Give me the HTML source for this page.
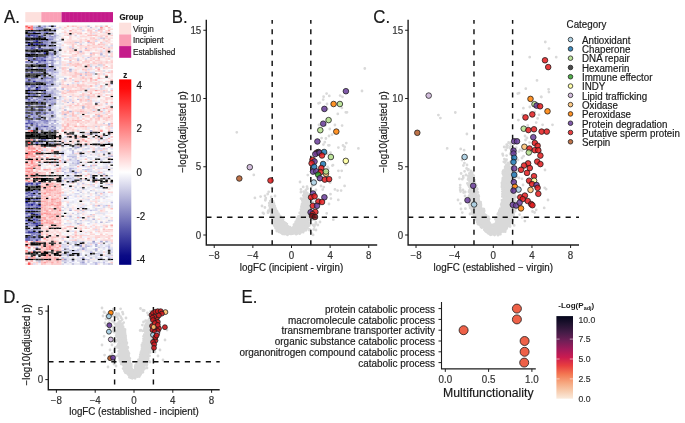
<!DOCTYPE html>
<html><head><meta charset="utf-8"><style>
html,body{margin:0;padding:0;background:#fff;}
svg{display:block;will-change:transform;}
text{font-family:"Liberation Sans",sans-serif;}
</style></head><body>
<svg width="685" height="423" viewBox="0 0 685 423">
<rect width="685" height="423" fill="#fff"/>
<defs><filter id="hb" filterUnits="userSpaceOnUse" x="20" y="20" width="100" height="250"><feConvolveMatrix order="3" kernelMatrix="1 2 1 2 4 2 1 2 1" divisor="16" edgeMode="duplicate"/></filter></defs>
<g>
<path fill="#fc6060" d="M25.30 25.40h2.62v1.55h-2.62zM35.62 149.59h2.62v1.55h-2.62zM25.30 245.35h2.62v1.55h-2.62zM30.46 251.33h2.62v1.55h-2.62z"/>
<path fill="#fcb4b4" d="M27.88 25.40h2.62v1.55h-2.62zM66.57 25.40h2.62v1.55h-2.62zM100.10 28.39h2.62v1.55h-2.62zM107.84 29.89h2.62v1.55h-2.62zM89.79 34.38h2.62v1.55h-2.62zM97.52 43.36h2.62v1.55h-2.62zM102.68 47.84h2.62v1.55h-2.62zM69.15 59.81h2.62v1.55h-2.62zM105.26 61.31h2.62v1.55h-2.62zM71.73 64.30h2.62v1.55h-2.62zM74.31 65.80h2.62v1.55h-2.62zM105.26 65.80h2.62v1.55h-2.62zM61.41 67.30h2.62v1.55h-2.62zM94.94 67.30h2.62v1.55h-2.62zM102.68 67.30h2.62v1.55h-2.62zM74.31 73.28h2.62v1.55h-2.62zM84.63 73.28h2.62v1.55h-2.62zM89.79 79.27h2.62v1.55h-2.62zM74.31 80.76h2.62v1.55h-2.62zM76.89 85.25h2.62v1.55h-2.62zM79.47 85.25h2.62v1.55h-2.62zM89.79 92.73h2.62v1.55h-2.62zM82.05 94.23h2.62v1.55h-2.62zM87.21 94.23h2.62v1.55h-2.62zM87.21 98.72h2.62v1.55h-2.62zM105.26 101.71h2.62v1.55h-2.62zM102.68 107.69h2.62v1.55h-2.62zM110.42 107.69h2.62v1.55h-2.62zM79.47 110.69h2.62v1.55h-2.62zM92.36 110.69h2.62v1.55h-2.62zM107.84 110.69h2.62v1.55h-2.62zM94.94 113.68h2.62v1.55h-2.62zM107.84 116.67h2.62v1.55h-2.62zM97.52 118.17h2.62v1.55h-2.62zM74.31 119.66h2.62v1.55h-2.62zM94.94 121.16h2.62v1.55h-2.62zM110.42 122.66h2.62v1.55h-2.62zM61.41 124.15h2.62v1.55h-2.62zM82.05 125.65h2.62v1.55h-2.62zM107.84 130.14h2.62v1.55h-2.62zM87.21 134.63h2.62v1.55h-2.62zM100.10 136.12h2.62v1.55h-2.62zM87.21 137.62h2.62v1.55h-2.62zM107.84 137.62h2.62v1.55h-2.62zM97.52 139.12h2.62v1.55h-2.62zM107.84 140.61h2.62v1.55h-2.62zM35.62 145.10h2.62v1.55h-2.62zM58.83 145.10h2.62v1.55h-2.62zM25.30 146.60h2.62v1.55h-2.62zM33.04 146.60h2.62v1.55h-2.62zM102.68 148.09h2.62v1.55h-2.62zM25.30 149.59h2.62v1.55h-2.62zM30.46 149.59h2.62v1.55h-2.62zM40.78 149.59h2.62v1.55h-2.62zM51.09 151.09h2.62v1.55h-2.62zM38.20 155.57h2.62v1.55h-2.62zM27.88 157.07h2.62v1.55h-2.62zM35.62 157.07h2.62v1.55h-2.62zM33.04 160.06h2.62v1.55h-2.62zM53.67 160.06h2.62v1.55h-2.62zM33.04 163.06h2.62v1.55h-2.62zM53.67 164.55h2.62v1.55h-2.62zM76.89 166.05h2.62v1.55h-2.62zM25.30 169.04h2.62v1.55h-2.62zM38.20 169.04h2.62v1.55h-2.62zM48.51 172.03h2.62v1.55h-2.62zM27.88 175.03h2.62v1.55h-2.62zM25.30 176.52h2.62v1.55h-2.62zM33.04 176.52h2.62v1.55h-2.62zM53.67 178.02h2.62v1.55h-2.62zM51.09 184.00h2.62v1.55h-2.62zM43.36 185.50h2.62v1.55h-2.62zM45.94 185.50h2.62v1.55h-2.62zM58.83 185.50h2.62v1.55h-2.62zM48.51 187.00h2.62v1.55h-2.62zM45.94 188.49h2.62v1.55h-2.62zM45.94 189.99h2.62v1.55h-2.62zM53.67 189.99h2.62v1.55h-2.62zM43.36 191.48h2.62v1.55h-2.62zM45.94 191.48h2.62v1.55h-2.62zM48.51 191.48h2.62v1.55h-2.62zM58.83 191.48h2.62v1.55h-2.62zM56.25 192.98h2.62v1.55h-2.62zM58.83 192.98h2.62v1.55h-2.62zM53.67 194.48h2.62v1.55h-2.62zM43.36 195.97h2.62v1.55h-2.62zM40.78 197.47h2.62v1.55h-2.62zM51.09 197.47h2.62v1.55h-2.62zM58.83 200.46h2.62v1.55h-2.62zM45.94 201.96h2.62v1.55h-2.62zM51.09 201.96h2.62v1.55h-2.62zM40.78 203.45h2.62v1.55h-2.62zM45.94 203.45h2.62v1.55h-2.62zM56.25 203.45h2.62v1.55h-2.62zM40.78 204.95h2.62v1.55h-2.62zM48.51 204.95h2.62v1.55h-2.62zM58.83 204.95h2.62v1.55h-2.62zM43.36 207.94h2.62v1.55h-2.62zM51.09 207.94h2.62v1.55h-2.62zM56.25 207.94h2.62v1.55h-2.62zM58.83 207.94h2.62v1.55h-2.62zM43.36 209.44h2.62v1.55h-2.62zM51.09 209.44h2.62v1.55h-2.62zM51.09 213.93h2.62v1.55h-2.62zM56.25 213.93h2.62v1.55h-2.62zM58.83 213.93h2.62v1.55h-2.62zM48.51 215.42h2.62v1.55h-2.62zM53.67 216.92h2.62v1.55h-2.62zM58.83 216.92h2.62v1.55h-2.62zM76.89 216.92h2.62v1.55h-2.62zM40.78 218.42h2.62v1.55h-2.62zM51.09 218.42h2.62v1.55h-2.62zM53.67 218.42h2.62v1.55h-2.62zM48.51 219.91h2.62v1.55h-2.62zM58.83 219.91h2.62v1.55h-2.62zM43.36 221.41h2.62v1.55h-2.62zM48.51 221.41h2.62v1.55h-2.62zM45.94 222.91h2.62v1.55h-2.62zM58.83 222.91h2.62v1.55h-2.62zM56.25 224.40h2.62v1.55h-2.62zM69.15 225.90h2.62v1.55h-2.62zM40.78 231.88h2.62v1.55h-2.62zM45.94 233.38h2.62v1.55h-2.62zM74.31 234.88h2.62v1.55h-2.62zM30.46 240.86h2.62v1.55h-2.62zM53.67 243.85h2.62v1.55h-2.62zM40.78 245.35h2.62v1.55h-2.62zM45.94 245.35h2.62v1.55h-2.62zM43.36 249.84h2.62v1.55h-2.62zM53.67 249.84h2.62v1.55h-2.62zM43.36 255.82h2.62v1.55h-2.62zM58.83 255.82h2.62v1.55h-2.62zM48.51 257.32h2.62v1.55h-2.62zM51.09 257.32h2.62v1.55h-2.62zM61.41 258.81h2.62v1.55h-2.62zM25.30 260.31h2.62v1.55h-2.62zM40.78 260.31h2.62v1.55h-2.62zM48.51 260.31h2.62v1.55h-2.62zM56.25 260.31h2.62v1.55h-2.62zM56.25 261.81h2.62v1.55h-2.62zM30.46 263.30h2.62v1.55h-2.62zM40.78 263.30h2.62v1.55h-2.62zM51.09 263.30h2.62v1.55h-2.62z"/>
<path fill="#fc8484" d="M30.46 25.40h2.62v1.55h-2.62zM30.46 26.90h2.62v1.55h-2.62zM27.88 146.60h2.62v1.55h-2.62zM43.36 146.60h2.62v1.55h-2.62zM30.46 151.09h2.62v1.55h-2.62zM35.62 154.08h2.62v1.55h-2.62zM30.46 160.06h2.62v1.55h-2.62zM38.20 160.06h2.62v1.55h-2.62zM30.46 161.56h2.62v1.55h-2.62zM25.30 163.06h2.62v1.55h-2.62zM27.88 181.01h2.62v1.55h-2.62zM58.83 209.44h2.62v1.55h-2.62zM27.88 243.85h2.62v1.55h-2.62zM48.51 246.85h2.62v1.55h-2.62zM25.30 249.84h2.62v1.55h-2.62zM53.67 257.32h2.62v1.55h-2.62z"/>
<path fill="#cccce4" d="M33.04 25.40h2.62v1.55h-2.62zM45.94 25.40h2.62v1.55h-2.62zM100.10 25.40h2.62v1.55h-2.62zM51.09 26.90h2.62v1.55h-2.62zM51.09 28.39h2.62v1.55h-2.62zM97.52 28.39h2.62v1.55h-2.62zM53.67 31.38h2.62v1.55h-2.62zM69.15 34.38h2.62v1.55h-2.62zM74.31 34.38h2.62v1.55h-2.62zM56.25 40.36h2.62v1.55h-2.62zM74.31 41.86h2.62v1.55h-2.62zM76.89 41.86h2.62v1.55h-2.62zM56.25 43.36h2.62v1.55h-2.62zM79.47 43.36h2.62v1.55h-2.62zM58.83 46.35h2.62v1.55h-2.62zM107.84 46.35h2.62v1.55h-2.62zM35.62 47.84h2.62v1.55h-2.62zM56.25 52.33h2.62v1.55h-2.62zM107.84 52.33h2.62v1.55h-2.62zM89.79 55.33h2.62v1.55h-2.62zM107.84 55.33h2.62v1.55h-2.62zM58.83 58.32h2.62v1.55h-2.62zM84.63 58.32h2.62v1.55h-2.62zM58.83 61.31h2.62v1.55h-2.62zM69.15 61.31h2.62v1.55h-2.62zM25.30 62.81h2.62v1.55h-2.62zM100.10 64.30h2.62v1.55h-2.62zM53.67 65.80h2.62v1.55h-2.62zM89.79 65.80h2.62v1.55h-2.62zM94.94 65.80h2.62v1.55h-2.62zM58.83 67.30h2.62v1.55h-2.62zM56.25 70.29h2.62v1.55h-2.62zM48.51 73.28h2.62v1.55h-2.62zM92.36 73.28h2.62v1.55h-2.62zM102.68 73.28h2.62v1.55h-2.62zM51.09 74.78h2.62v1.55h-2.62zM84.63 74.78h2.62v1.55h-2.62zM38.20 76.27h2.62v1.55h-2.62zM48.51 79.27h2.62v1.55h-2.62zM63.99 79.27h2.62v1.55h-2.62zM71.73 79.27h2.62v1.55h-2.62zM53.67 82.26h2.62v1.55h-2.62zM58.83 82.26h2.62v1.55h-2.62zM27.88 85.25h2.62v1.55h-2.62zM53.67 85.25h2.62v1.55h-2.62zM100.10 88.24h2.62v1.55h-2.62zM53.67 89.74h2.62v1.55h-2.62zM56.25 89.74h2.62v1.55h-2.62zM56.25 91.24h2.62v1.55h-2.62zM102.68 91.24h2.62v1.55h-2.62zM87.21 95.72h2.62v1.55h-2.62zM58.83 97.22h2.62v1.55h-2.62zM87.21 97.22h2.62v1.55h-2.62zM56.25 98.72h2.62v1.55h-2.62zM63.99 100.21h2.62v1.55h-2.62zM87.21 100.21h2.62v1.55h-2.62zM97.52 101.71h2.62v1.55h-2.62zM33.04 104.70h2.62v1.55h-2.62zM51.09 106.20h2.62v1.55h-2.62zM63.99 106.20h2.62v1.55h-2.62zM53.67 109.19h2.62v1.55h-2.62zM45.94 110.69h2.62v1.55h-2.62zM87.21 112.18h2.62v1.55h-2.62zM40.78 115.18h2.62v1.55h-2.62zM43.36 115.18h2.62v1.55h-2.62zM92.36 115.18h2.62v1.55h-2.62zM45.94 116.67h2.62v1.55h-2.62zM33.04 119.66h2.62v1.55h-2.62zM56.25 119.66h2.62v1.55h-2.62zM102.68 122.66h2.62v1.55h-2.62zM27.88 124.15h2.62v1.55h-2.62zM38.20 124.15h2.62v1.55h-2.62zM56.25 124.15h2.62v1.55h-2.62zM94.94 125.65h2.62v1.55h-2.62zM30.46 127.15h2.62v1.55h-2.62zM51.09 127.15h2.62v1.55h-2.62zM43.36 128.64h2.62v1.55h-2.62zM45.94 130.14h2.62v1.55h-2.62zM84.63 133.13h2.62v1.55h-2.62zM92.36 133.13h2.62v1.55h-2.62zM97.52 134.63h2.62v1.55h-2.62zM76.89 137.62h2.62v1.55h-2.62zM102.68 139.12h2.62v1.55h-2.62zM97.52 140.61h2.62v1.55h-2.62zM107.84 142.11h2.62v1.55h-2.62zM74.31 145.10h2.62v1.55h-2.62zM94.94 145.10h2.62v1.55h-2.62zM79.47 146.60h2.62v1.55h-2.62zM107.84 146.60h2.62v1.55h-2.62zM87.21 148.09h2.62v1.55h-2.62zM105.26 148.09h2.62v1.55h-2.62zM76.89 151.09h2.62v1.55h-2.62zM89.79 151.09h2.62v1.55h-2.62zM94.94 151.09h2.62v1.55h-2.62zM105.26 151.09h2.62v1.55h-2.62zM79.47 154.08h2.62v1.55h-2.62zM89.79 154.08h2.62v1.55h-2.62zM84.63 155.57h2.62v1.55h-2.62zM74.31 157.07h2.62v1.55h-2.62zM105.26 157.07h2.62v1.55h-2.62zM61.41 158.57h2.62v1.55h-2.62zM74.31 158.57h2.62v1.55h-2.62zM63.99 160.06h2.62v1.55h-2.62zM69.15 160.06h2.62v1.55h-2.62zM100.10 160.06h2.62v1.55h-2.62zM61.41 161.56h2.62v1.55h-2.62zM71.73 161.56h2.62v1.55h-2.62zM74.31 163.06h2.62v1.55h-2.62zM107.84 163.06h2.62v1.55h-2.62zM69.15 164.55h2.62v1.55h-2.62zM74.31 164.55h2.62v1.55h-2.62zM53.67 166.05h2.62v1.55h-2.62zM82.05 166.05h2.62v1.55h-2.62zM89.79 166.05h2.62v1.55h-2.62zM63.99 169.04h2.62v1.55h-2.62zM82.05 169.04h2.62v1.55h-2.62zM89.79 170.54h2.62v1.55h-2.62zM69.15 172.03h2.62v1.55h-2.62zM71.73 172.03h2.62v1.55h-2.62zM79.47 172.03h2.62v1.55h-2.62zM74.31 173.53h2.62v1.55h-2.62zM89.79 173.53h2.62v1.55h-2.62zM97.52 173.53h2.62v1.55h-2.62zM69.15 175.03h2.62v1.55h-2.62zM89.79 175.03h2.62v1.55h-2.62zM71.73 176.52h2.62v1.55h-2.62zM102.68 176.52h2.62v1.55h-2.62zM107.84 176.52h2.62v1.55h-2.62zM66.57 178.02h2.62v1.55h-2.62zM105.26 178.02h2.62v1.55h-2.62zM61.41 181.01h2.62v1.55h-2.62zM79.47 181.01h2.62v1.55h-2.62zM63.99 184.00h2.62v1.55h-2.62zM74.31 187.00h2.62v1.55h-2.62zM82.05 188.49h2.62v1.55h-2.62zM89.79 189.99h2.62v1.55h-2.62zM79.47 191.48h2.62v1.55h-2.62zM94.94 191.48h2.62v1.55h-2.62zM94.94 192.98h2.62v1.55h-2.62zM79.47 195.97h2.62v1.55h-2.62zM87.21 195.97h2.62v1.55h-2.62zM66.57 197.47h2.62v1.55h-2.62zM35.62 201.96h2.62v1.55h-2.62zM66.57 204.95h2.62v1.55h-2.62zM61.41 206.45h2.62v1.55h-2.62zM79.47 206.45h2.62v1.55h-2.62zM61.41 209.44h2.62v1.55h-2.62zM79.47 209.44h2.62v1.55h-2.62zM71.73 212.43h2.62v1.55h-2.62zM76.89 212.43h2.62v1.55h-2.62zM89.79 213.93h2.62v1.55h-2.62zM87.21 216.92h2.62v1.55h-2.62zM105.26 216.92h2.62v1.55h-2.62zM74.31 219.91h2.62v1.55h-2.62zM79.47 219.91h2.62v1.55h-2.62zM107.84 219.91h2.62v1.55h-2.62zM105.26 221.41h2.62v1.55h-2.62zM79.47 222.91h2.62v1.55h-2.62zM71.73 240.86h2.62v1.55h-2.62zM74.31 240.86h2.62v1.55h-2.62zM89.79 242.36h2.62v1.55h-2.62zM110.42 242.36h2.62v1.55h-2.62zM61.41 243.85h2.62v1.55h-2.62zM84.63 243.85h2.62v1.55h-2.62zM74.31 245.35h2.62v1.55h-2.62zM84.63 246.85h2.62v1.55h-2.62zM97.52 246.85h2.62v1.55h-2.62zM76.89 248.34h2.62v1.55h-2.62zM79.47 248.34h2.62v1.55h-2.62zM92.36 248.34h2.62v1.55h-2.62zM107.84 248.34h2.62v1.55h-2.62zM97.52 252.83h2.62v1.55h-2.62zM89.79 254.33h2.62v1.55h-2.62zM110.42 254.33h2.62v1.55h-2.62zM66.57 255.82h2.62v1.55h-2.62zM105.26 255.82h2.62v1.55h-2.62zM71.73 257.32h2.62v1.55h-2.62zM94.94 257.32h2.62v1.55h-2.62zM35.62 260.31h2.62v1.55h-2.62zM63.99 260.31h2.62v1.55h-2.62zM66.57 260.31h2.62v1.55h-2.62zM76.89 260.31h2.62v1.55h-2.62zM79.47 260.31h2.62v1.55h-2.62zM87.21 260.31h2.62v1.55h-2.62zM38.20 261.81h2.62v1.55h-2.62zM69.15 261.81h2.62v1.55h-2.62zM87.21 261.81h2.62v1.55h-2.62zM92.36 261.81h2.62v1.55h-2.62zM61.41 263.30h2.62v1.55h-2.62zM79.47 263.30h2.62v1.55h-2.62zM102.68 263.30h2.62v1.55h-2.62z"/>
<path fill="#c0c0d8" d="M35.62 25.40h2.62v1.55h-2.62zM87.21 25.40h2.62v1.55h-2.62zM89.79 26.90h2.62v1.55h-2.62zM33.04 28.39h2.62v1.55h-2.62zM48.51 31.38h2.62v1.55h-2.62zM102.68 37.37h2.62v1.55h-2.62zM48.51 40.36h2.62v1.55h-2.62zM71.73 47.84h2.62v1.55h-2.62zM53.67 49.34h2.62v1.55h-2.62zM48.51 50.84h2.62v1.55h-2.62zM51.09 50.84h2.62v1.55h-2.62zM76.89 58.32h2.62v1.55h-2.62zM97.52 64.30h2.62v1.55h-2.62zM35.62 67.30h2.62v1.55h-2.62zM48.51 67.30h2.62v1.55h-2.62zM45.94 68.79h2.62v1.55h-2.62zM53.67 70.29h2.62v1.55h-2.62zM38.20 77.77h2.62v1.55h-2.62zM35.62 79.27h2.62v1.55h-2.62zM45.94 79.27h2.62v1.55h-2.62zM58.83 83.75h2.62v1.55h-2.62zM51.09 88.24h2.62v1.55h-2.62zM53.67 91.24h2.62v1.55h-2.62zM30.46 98.72h2.62v1.55h-2.62zM25.30 104.70h2.62v1.55h-2.62zM30.46 104.70h2.62v1.55h-2.62zM45.94 109.19h2.62v1.55h-2.62zM51.09 113.68h2.62v1.55h-2.62zM45.94 115.18h2.62v1.55h-2.62zM48.51 115.18h2.62v1.55h-2.62zM53.67 116.67h2.62v1.55h-2.62zM40.78 122.66h2.62v1.55h-2.62zM43.36 124.15h2.62v1.55h-2.62zM53.67 125.65h2.62v1.55h-2.62zM43.36 130.14h2.62v1.55h-2.62zM84.63 145.10h2.62v1.55h-2.62zM71.73 146.60h2.62v1.55h-2.62zM74.31 148.09h2.62v1.55h-2.62zM71.73 149.59h2.62v1.55h-2.62zM79.47 179.51h2.62v1.55h-2.62zM84.63 179.51h2.62v1.55h-2.62zM110.42 182.51h2.62v1.55h-2.62zM82.05 240.86h2.62v1.55h-2.62zM69.15 243.85h2.62v1.55h-2.62zM76.89 245.35h2.62v1.55h-2.62zM82.05 246.85h2.62v1.55h-2.62zM61.41 252.83h2.62v1.55h-2.62zM94.94 252.83h2.62v1.55h-2.62zM87.21 258.81h2.62v1.55h-2.62zM110.42 263.30h2.62v1.55h-2.62z"/>
<path fill="#484848" d="M38.20 25.40h2.62v1.55h-2.62zM40.78 29.89h2.62v1.55h-2.62zM45.94 29.89h2.62v1.55h-2.62zM51.09 29.89h2.62v1.55h-2.62zM43.36 32.88h2.62v1.55h-2.62zM30.46 41.86h2.62v1.55h-2.62zM40.78 41.86h2.62v1.55h-2.62zM25.30 44.85h2.62v1.55h-2.62zM27.88 49.34h2.62v1.55h-2.62zM30.46 49.34h2.62v1.55h-2.62zM38.20 49.34h2.62v1.55h-2.62zM25.30 50.84h2.62v1.55h-2.62zM27.88 50.84h2.62v1.55h-2.62zM38.20 53.83h2.62v1.55h-2.62zM40.78 53.83h2.62v1.55h-2.62zM53.67 53.83h2.62v1.55h-2.62zM38.20 55.33h2.62v1.55h-2.62zM40.78 55.33h2.62v1.55h-2.62zM43.36 55.33h2.62v1.55h-2.62zM25.30 58.32h2.62v1.55h-2.62zM27.88 64.30h2.62v1.55h-2.62zM35.62 64.30h2.62v1.55h-2.62zM25.30 65.80h2.62v1.55h-2.62zM35.62 65.80h2.62v1.55h-2.62zM27.88 68.79h2.62v1.55h-2.62zM27.88 70.29h2.62v1.55h-2.62zM33.04 70.29h2.62v1.55h-2.62zM94.94 73.28h2.62v1.55h-2.62zM30.46 74.78h2.62v1.55h-2.62zM33.04 74.78h2.62v1.55h-2.62zM51.09 76.27h2.62v1.55h-2.62zM30.46 82.26h2.62v1.55h-2.62zM33.04 82.26h2.62v1.55h-2.62zM43.36 82.26h2.62v1.55h-2.62zM30.46 92.73h2.62v1.55h-2.62zM33.04 92.73h2.62v1.55h-2.62zM40.78 92.73h2.62v1.55h-2.62zM43.36 101.71h2.62v1.55h-2.62zM33.04 103.21h2.62v1.55h-2.62zM38.20 103.21h2.62v1.55h-2.62zM53.67 103.21h2.62v1.55h-2.62zM33.04 106.20h2.62v1.55h-2.62zM25.30 109.19h2.62v1.55h-2.62zM35.62 109.19h2.62v1.55h-2.62zM43.36 109.19h2.62v1.55h-2.62zM30.46 112.18h2.62v1.55h-2.62zM35.62 113.68h2.62v1.55h-2.62zM43.36 116.67h2.62v1.55h-2.62zM25.30 118.17h2.62v1.55h-2.62zM43.36 118.17h2.62v1.55h-2.62zM48.51 130.14h2.62v1.55h-2.62zM56.25 131.63h2.62v1.55h-2.62zM69.15 131.63h2.62v1.55h-2.62zM40.78 133.13h2.62v1.55h-2.62zM69.15 133.13h2.62v1.55h-2.62zM40.78 134.63h2.62v1.55h-2.62zM43.36 134.63h2.62v1.55h-2.62zM102.68 134.63h2.62v1.55h-2.62zM66.57 136.12h2.62v1.55h-2.62zM79.47 136.12h2.62v1.55h-2.62zM30.46 137.62h2.62v1.55h-2.62zM35.62 137.62h2.62v1.55h-2.62zM74.31 137.62h2.62v1.55h-2.62zM30.46 140.61h2.62v1.55h-2.62zM35.62 140.61h2.62v1.55h-2.62zM45.94 140.61h2.62v1.55h-2.62zM48.51 140.61h2.62v1.55h-2.62zM51.09 140.61h2.62v1.55h-2.62zM56.25 140.61h2.62v1.55h-2.62zM25.30 142.11h2.62v1.55h-2.62zM25.30 143.60h2.62v1.55h-2.62zM33.04 143.60h2.62v1.55h-2.62zM38.20 143.60h2.62v1.55h-2.62zM51.09 143.60h2.62v1.55h-2.62zM69.15 143.60h2.62v1.55h-2.62zM74.31 143.60h2.62v1.55h-2.62zM100.10 143.60h2.62v1.55h-2.62zM25.30 145.10h2.62v1.55h-2.62zM69.15 145.10h2.62v1.55h-2.62zM79.47 145.10h2.62v1.55h-2.62zM43.36 152.58h2.62v1.55h-2.62zM51.09 152.58h2.62v1.55h-2.62zM102.68 154.08h2.62v1.55h-2.62zM56.25 158.57h2.62v1.55h-2.62zM38.20 161.56h2.62v1.55h-2.62zM79.47 161.56h2.62v1.55h-2.62zM87.21 161.56h2.62v1.55h-2.62zM33.04 167.54h2.62v1.55h-2.62zM35.62 175.03h2.62v1.55h-2.62zM45.94 175.03h2.62v1.55h-2.62zM56.25 175.03h2.62v1.55h-2.62zM105.26 175.03h2.62v1.55h-2.62zM27.88 178.02h2.62v1.55h-2.62zM51.09 178.02h2.62v1.55h-2.62zM79.47 178.02h2.62v1.55h-2.62zM100.10 178.02h2.62v1.55h-2.62zM35.62 179.51h2.62v1.55h-2.62zM53.67 179.51h2.62v1.55h-2.62zM74.31 181.01h2.62v1.55h-2.62zM27.88 185.50h2.62v1.55h-2.62zM33.04 185.50h2.62v1.55h-2.62zM53.67 185.50h2.62v1.55h-2.62zM25.30 187.00h2.62v1.55h-2.62zM30.46 188.49h2.62v1.55h-2.62zM35.62 188.49h2.62v1.55h-2.62zM38.20 189.99h2.62v1.55h-2.62zM33.04 197.47h2.62v1.55h-2.62zM30.46 200.46h2.62v1.55h-2.62zM33.04 207.94h2.62v1.55h-2.62zM38.20 210.94h2.62v1.55h-2.62zM30.46 213.93h2.62v1.55h-2.62zM27.88 216.92h2.62v1.55h-2.62zM38.20 219.91h2.62v1.55h-2.62zM40.78 224.40h2.62v1.55h-2.62zM40.78 230.39h2.62v1.55h-2.62zM30.46 236.37h2.62v1.55h-2.62zM51.09 242.36h2.62v1.55h-2.62zM53.67 242.36h2.62v1.55h-2.62zM102.68 242.36h2.62v1.55h-2.62zM74.31 243.85h2.62v1.55h-2.62zM63.99 248.34h2.62v1.55h-2.62zM27.88 251.33h2.62v1.55h-2.62zM48.51 251.33h2.62v1.55h-2.62zM51.09 251.33h2.62v1.55h-2.62zM66.57 251.33h2.62v1.55h-2.62zM107.84 251.33h2.62v1.55h-2.62zM33.04 252.83h2.62v1.55h-2.62zM51.09 252.83h2.62v1.55h-2.62zM30.46 254.33h2.62v1.55h-2.62zM84.63 254.33h2.62v1.55h-2.62zM30.46 255.82h2.62v1.55h-2.62zM33.04 258.81h2.62v1.55h-2.62zM58.83 258.81h2.62v1.55h-2.62zM102.68 258.81h2.62v1.55h-2.62z"/>
<path fill="#c0c0e4" d="M40.78 25.40h2.62v1.55h-2.62zM56.25 34.38h2.62v1.55h-2.62zM53.67 37.37h2.62v1.55h-2.62zM100.10 37.37h2.62v1.55h-2.62zM87.21 41.86h2.62v1.55h-2.62zM25.30 43.36h2.62v1.55h-2.62zM45.94 46.35h2.62v1.55h-2.62zM48.51 46.35h2.62v1.55h-2.62zM58.83 47.84h2.62v1.55h-2.62zM84.63 47.84h2.62v1.55h-2.62zM89.79 52.33h2.62v1.55h-2.62zM100.10 52.33h2.62v1.55h-2.62zM48.51 55.33h2.62v1.55h-2.62zM33.04 56.82h2.62v1.55h-2.62zM58.83 56.82h2.62v1.55h-2.62zM87.21 56.82h2.62v1.55h-2.62zM45.94 58.32h2.62v1.55h-2.62zM53.67 59.81h2.62v1.55h-2.62zM76.89 59.81h2.62v1.55h-2.62zM33.04 61.31h2.62v1.55h-2.62zM53.67 61.31h2.62v1.55h-2.62zM30.46 62.81h2.62v1.55h-2.62zM53.67 64.30h2.62v1.55h-2.62zM56.25 64.30h2.62v1.55h-2.62zM56.25 71.78h2.62v1.55h-2.62zM84.63 71.78h2.62v1.55h-2.62zM53.67 74.78h2.62v1.55h-2.62zM79.47 74.78h2.62v1.55h-2.62zM48.51 76.27h2.62v1.55h-2.62zM53.67 76.27h2.62v1.55h-2.62zM45.94 83.75h2.62v1.55h-2.62zM66.57 83.75h2.62v1.55h-2.62zM110.42 83.75h2.62v1.55h-2.62zM56.25 85.25h2.62v1.55h-2.62zM48.51 88.24h2.62v1.55h-2.62zM58.83 91.24h2.62v1.55h-2.62zM53.67 92.73h2.62v1.55h-2.62zM56.25 94.23h2.62v1.55h-2.62zM69.15 95.72h2.62v1.55h-2.62zM76.89 98.72h2.62v1.55h-2.62zM35.62 100.21h2.62v1.55h-2.62zM66.57 101.71h2.62v1.55h-2.62zM71.73 101.71h2.62v1.55h-2.62zM94.94 101.71h2.62v1.55h-2.62zM45.94 103.21h2.62v1.55h-2.62zM105.26 103.21h2.62v1.55h-2.62zM43.36 107.69h2.62v1.55h-2.62zM82.05 107.69h2.62v1.55h-2.62zM48.51 110.69h2.62v1.55h-2.62zM48.51 113.68h2.62v1.55h-2.62zM53.67 113.68h2.62v1.55h-2.62zM25.30 121.16h2.62v1.55h-2.62zM48.51 121.16h2.62v1.55h-2.62zM56.25 122.66h2.62v1.55h-2.62zM107.84 122.66h2.62v1.55h-2.62zM45.94 124.15h2.62v1.55h-2.62zM107.84 124.15h2.62v1.55h-2.62zM43.36 127.15h2.62v1.55h-2.62zM30.46 128.64h2.62v1.55h-2.62zM33.04 142.11h2.62v1.55h-2.62zM38.20 142.11h2.62v1.55h-2.62zM71.73 151.09h2.62v1.55h-2.62zM71.73 152.58h2.62v1.55h-2.62zM102.68 152.58h2.62v1.55h-2.62zM66.57 155.57h2.62v1.55h-2.62zM69.15 155.57h2.62v1.55h-2.62zM71.73 155.57h2.62v1.55h-2.62zM74.31 155.57h2.62v1.55h-2.62zM79.47 155.57h2.62v1.55h-2.62zM107.84 155.57h2.62v1.55h-2.62zM71.73 157.07h2.62v1.55h-2.62zM76.89 161.56h2.62v1.55h-2.62zM110.42 161.56h2.62v1.55h-2.62zM71.73 163.06h2.62v1.55h-2.62zM89.79 164.55h2.62v1.55h-2.62zM94.94 164.55h2.62v1.55h-2.62zM71.73 167.54h2.62v1.55h-2.62zM84.63 169.04h2.62v1.55h-2.62zM87.21 169.04h2.62v1.55h-2.62zM61.41 170.54h2.62v1.55h-2.62zM63.99 172.03h2.62v1.55h-2.62zM76.89 172.03h2.62v1.55h-2.62zM89.79 176.52h2.62v1.55h-2.62zM61.41 179.51h2.62v1.55h-2.62zM82.05 182.51h2.62v1.55h-2.62zM38.20 184.00h2.62v1.55h-2.62zM107.84 184.00h2.62v1.55h-2.62zM76.89 189.99h2.62v1.55h-2.62zM102.68 191.48h2.62v1.55h-2.62zM66.57 195.97h2.62v1.55h-2.62zM110.42 201.96h2.62v1.55h-2.62zM105.26 204.95h2.62v1.55h-2.62zM89.79 209.44h2.62v1.55h-2.62zM27.88 213.93h2.62v1.55h-2.62zM79.47 216.92h2.62v1.55h-2.62zM33.04 234.88h2.62v1.55h-2.62zM92.36 242.36h2.62v1.55h-2.62zM79.47 243.85h2.62v1.55h-2.62zM66.57 245.35h2.62v1.55h-2.62zM84.63 245.35h2.62v1.55h-2.62zM107.84 245.35h2.62v1.55h-2.62zM107.84 246.85h2.62v1.55h-2.62zM61.41 249.84h2.62v1.55h-2.62zM74.31 249.84h2.62v1.55h-2.62zM76.89 249.84h2.62v1.55h-2.62zM66.57 252.83h2.62v1.55h-2.62zM61.41 254.33h2.62v1.55h-2.62zM76.89 255.82h2.62v1.55h-2.62zM79.47 257.32h2.62v1.55h-2.62zM100.10 257.32h2.62v1.55h-2.62zM84.63 258.81h2.62v1.55h-2.62zM61.41 260.31h2.62v1.55h-2.62zM79.47 261.81h2.62v1.55h-2.62zM94.94 261.81h2.62v1.55h-2.62zM102.68 261.81h2.62v1.55h-2.62zM82.05 263.30h2.62v1.55h-2.62zM84.63 263.30h2.62v1.55h-2.62z"/>
<path fill="#9090cc" d="M43.36 25.40h2.62v1.55h-2.62zM40.78 32.88h2.62v1.55h-2.62zM48.51 35.87h2.62v1.55h-2.62zM25.30 40.36h2.62v1.55h-2.62zM45.94 40.36h2.62v1.55h-2.62zM45.94 43.36h2.62v1.55h-2.62zM40.78 56.82h2.62v1.55h-2.62zM43.36 58.32h2.62v1.55h-2.62zM43.36 62.81h2.62v1.55h-2.62zM45.94 62.81h2.62v1.55h-2.62zM45.94 64.30h2.62v1.55h-2.62zM25.30 67.30h2.62v1.55h-2.62zM45.94 67.30h2.62v1.55h-2.62zM48.51 68.79h2.62v1.55h-2.62zM48.51 70.29h2.62v1.55h-2.62zM40.78 76.27h2.62v1.55h-2.62zM45.94 76.27h2.62v1.55h-2.62zM35.62 77.77h2.62v1.55h-2.62zM45.94 77.77h2.62v1.55h-2.62zM48.51 77.77h2.62v1.55h-2.62zM33.04 79.27h2.62v1.55h-2.62zM51.09 79.27h2.62v1.55h-2.62zM30.46 80.76h2.62v1.55h-2.62zM35.62 80.76h2.62v1.55h-2.62zM38.20 80.76h2.62v1.55h-2.62zM43.36 80.76h2.62v1.55h-2.62zM48.51 80.76h2.62v1.55h-2.62zM51.09 82.26h2.62v1.55h-2.62zM40.78 91.24h2.62v1.55h-2.62zM51.09 91.24h2.62v1.55h-2.62zM48.51 92.73h2.62v1.55h-2.62zM43.36 97.22h2.62v1.55h-2.62zM45.94 97.22h2.62v1.55h-2.62zM51.09 98.72h2.62v1.55h-2.62zM30.46 100.21h2.62v1.55h-2.62zM38.20 104.70h2.62v1.55h-2.62zM40.78 104.70h2.62v1.55h-2.62zM48.51 106.20h2.62v1.55h-2.62zM48.51 107.69h2.62v1.55h-2.62zM35.62 115.18h2.62v1.55h-2.62zM25.30 119.66h2.62v1.55h-2.62zM35.62 121.16h2.62v1.55h-2.62zM40.78 124.15h2.62v1.55h-2.62zM27.88 125.65h2.62v1.55h-2.62zM38.20 125.65h2.62v1.55h-2.62zM33.04 127.15h2.62v1.55h-2.62zM27.88 128.64h2.62v1.55h-2.62zM35.62 195.97h2.62v1.55h-2.62zM27.88 201.96h2.62v1.55h-2.62zM33.04 204.95h2.62v1.55h-2.62zM38.20 206.45h2.62v1.55h-2.62zM27.88 212.43h2.62v1.55h-2.62zM30.46 228.89h2.62v1.55h-2.62zM30.46 233.38h2.62v1.55h-2.62zM30.46 237.87h2.62v1.55h-2.62zM33.04 249.84h2.62v1.55h-2.62zM82.05 257.32h2.62v1.55h-2.62z"/>
<path fill="#8484c0" d="M48.51 25.40h2.62v1.55h-2.62zM53.67 25.40h2.62v1.55h-2.62zM35.62 26.90h2.62v1.55h-2.62zM38.20 26.90h2.62v1.55h-2.62zM40.78 26.90h2.62v1.55h-2.62zM30.46 31.38h2.62v1.55h-2.62zM38.20 31.38h2.62v1.55h-2.62zM40.78 34.38h2.62v1.55h-2.62zM51.09 35.87h2.62v1.55h-2.62zM51.09 38.87h2.62v1.55h-2.62zM51.09 47.84h2.62v1.55h-2.62zM25.30 52.33h2.62v1.55h-2.62zM33.04 52.33h2.62v1.55h-2.62zM38.20 52.33h2.62v1.55h-2.62zM48.51 52.33h2.62v1.55h-2.62zM48.51 59.81h2.62v1.55h-2.62zM51.09 59.81h2.62v1.55h-2.62zM40.78 61.31h2.62v1.55h-2.62zM30.46 67.30h2.62v1.55h-2.62zM51.09 67.30h2.62v1.55h-2.62zM45.94 70.29h2.62v1.55h-2.62zM51.09 70.29h2.62v1.55h-2.62zM25.30 71.78h2.62v1.55h-2.62zM30.46 79.27h2.62v1.55h-2.62zM43.36 79.27h2.62v1.55h-2.62zM48.51 82.26h2.62v1.55h-2.62zM27.88 86.75h2.62v1.55h-2.62zM30.46 86.75h2.62v1.55h-2.62zM45.94 94.23h2.62v1.55h-2.62zM25.30 98.72h2.62v1.55h-2.62zM35.62 98.72h2.62v1.55h-2.62zM43.36 104.70h2.62v1.55h-2.62zM45.94 106.20h2.62v1.55h-2.62zM25.30 107.69h2.62v1.55h-2.62zM40.78 110.69h2.62v1.55h-2.62zM33.04 115.18h2.62v1.55h-2.62zM27.88 116.67h2.62v1.55h-2.62zM40.78 119.66h2.62v1.55h-2.62zM43.36 119.66h2.62v1.55h-2.62zM45.94 119.66h2.62v1.55h-2.62zM38.20 121.16h2.62v1.55h-2.62zM45.94 121.16h2.62v1.55h-2.62zM35.62 122.66h2.62v1.55h-2.62zM40.78 125.65h2.62v1.55h-2.62zM51.09 125.65h2.62v1.55h-2.62zM53.67 127.15h2.62v1.55h-2.62zM25.30 128.64h2.62v1.55h-2.62zM33.04 128.64h2.62v1.55h-2.62zM40.78 128.64h2.62v1.55h-2.62zM51.09 128.64h2.62v1.55h-2.62zM74.31 172.03h2.62v1.55h-2.62zM25.30 191.48h2.62v1.55h-2.62zM27.88 192.98h2.62v1.55h-2.62zM35.62 194.48h2.62v1.55h-2.62zM30.46 195.97h2.62v1.55h-2.62zM30.46 198.97h2.62v1.55h-2.62zM38.20 198.97h2.62v1.55h-2.62zM25.30 206.45h2.62v1.55h-2.62zM35.62 209.44h2.62v1.55h-2.62zM38.20 212.43h2.62v1.55h-2.62zM25.30 215.42h2.62v1.55h-2.62zM25.30 218.42h2.62v1.55h-2.62zM30.46 218.42h2.62v1.55h-2.62zM30.46 221.41h2.62v1.55h-2.62zM30.46 224.40h2.62v1.55h-2.62zM33.04 224.40h2.62v1.55h-2.62zM33.04 228.89h2.62v1.55h-2.62zM33.04 233.38h2.62v1.55h-2.62zM35.62 234.88h2.62v1.55h-2.62zM35.62 236.37h2.62v1.55h-2.62zM30.46 239.36h2.62v1.55h-2.62zM79.47 245.35h2.62v1.55h-2.62zM82.05 248.34h2.62v1.55h-2.62z"/>
<path fill="#000000" d="M51.09 25.40h2.62v1.55h-2.62zM48.51 28.39h2.62v1.55h-2.62zM27.88 29.89h2.62v1.55h-2.62zM38.20 29.89h2.62v1.55h-2.62zM43.36 29.89h2.62v1.55h-2.62zM53.67 29.89h2.62v1.55h-2.62zM25.30 31.38h2.62v1.55h-2.62zM25.30 32.88h2.62v1.55h-2.62zM33.04 32.88h2.62v1.55h-2.62zM35.62 32.88h2.62v1.55h-2.62zM38.20 32.88h2.62v1.55h-2.62zM45.94 32.88h2.62v1.55h-2.62zM69.15 32.88h2.62v1.55h-2.62zM30.46 37.37h2.62v1.55h-2.62zM38.20 37.37h2.62v1.55h-2.62zM40.78 38.87h2.62v1.55h-2.62zM43.36 38.87h2.62v1.55h-2.62zM45.94 38.87h2.62v1.55h-2.62zM27.88 41.86h2.62v1.55h-2.62zM30.46 43.36h2.62v1.55h-2.62zM27.88 44.85h2.62v1.55h-2.62zM33.04 44.85h2.62v1.55h-2.62zM48.51 44.85h2.62v1.55h-2.62zM53.67 44.85h2.62v1.55h-2.62zM40.78 49.34h2.62v1.55h-2.62zM35.62 50.84h2.62v1.55h-2.62zM38.20 50.84h2.62v1.55h-2.62zM43.36 50.84h2.62v1.55h-2.62zM53.67 50.84h2.62v1.55h-2.62zM45.94 52.33h2.62v1.55h-2.62zM25.30 53.83h2.62v1.55h-2.62zM27.88 53.83h2.62v1.55h-2.62zM35.62 53.83h2.62v1.55h-2.62zM27.88 55.33h2.62v1.55h-2.62zM30.46 55.33h2.62v1.55h-2.62zM27.88 59.81h2.62v1.55h-2.62zM30.46 64.30h2.62v1.55h-2.62zM38.20 64.30h2.62v1.55h-2.62zM40.78 64.30h2.62v1.55h-2.62zM43.36 64.30h2.62v1.55h-2.62zM30.46 65.80h2.62v1.55h-2.62zM33.04 65.80h2.62v1.55h-2.62zM38.20 65.80h2.62v1.55h-2.62zM48.51 65.80h2.62v1.55h-2.62zM51.09 65.80h2.62v1.55h-2.62zM30.46 68.79h2.62v1.55h-2.62zM33.04 68.79h2.62v1.55h-2.62zM35.62 68.79h2.62v1.55h-2.62zM53.67 68.79h2.62v1.55h-2.62zM38.20 70.29h2.62v1.55h-2.62zM40.78 73.28h2.62v1.55h-2.62zM45.94 73.28h2.62v1.55h-2.62zM35.62 74.78h2.62v1.55h-2.62zM38.20 74.78h2.62v1.55h-2.62zM33.04 76.27h2.62v1.55h-2.62zM35.62 76.27h2.62v1.55h-2.62zM27.88 79.27h2.62v1.55h-2.62zM25.30 82.26h2.62v1.55h-2.62zM38.20 82.26h2.62v1.55h-2.62zM40.78 82.26h2.62v1.55h-2.62zM27.88 83.75h2.62v1.55h-2.62zM35.62 83.75h2.62v1.55h-2.62zM40.78 83.75h2.62v1.55h-2.62zM35.62 86.75h2.62v1.55h-2.62zM25.30 89.74h2.62v1.55h-2.62zM27.88 89.74h2.62v1.55h-2.62zM38.20 89.74h2.62v1.55h-2.62zM40.78 89.74h2.62v1.55h-2.62zM25.30 92.73h2.62v1.55h-2.62zM27.88 92.73h2.62v1.55h-2.62zM38.20 92.73h2.62v1.55h-2.62zM43.36 95.72h2.62v1.55h-2.62zM45.94 95.72h2.62v1.55h-2.62zM48.51 95.72h2.62v1.55h-2.62zM110.42 95.72h2.62v1.55h-2.62zM25.30 97.22h2.62v1.55h-2.62zM25.30 101.71h2.62v1.55h-2.62zM30.46 101.71h2.62v1.55h-2.62zM27.88 103.21h2.62v1.55h-2.62zM35.62 103.21h2.62v1.55h-2.62zM43.36 103.21h2.62v1.55h-2.62zM25.30 106.20h2.62v1.55h-2.62zM35.62 106.20h2.62v1.55h-2.62zM38.20 106.20h2.62v1.55h-2.62zM40.78 106.20h2.62v1.55h-2.62zM33.04 109.19h2.62v1.55h-2.62zM40.78 109.19h2.62v1.55h-2.62zM82.05 113.68h2.62v1.55h-2.62zM51.09 115.18h2.62v1.55h-2.62zM40.78 116.67h2.62v1.55h-2.62zM35.62 118.17h2.62v1.55h-2.62zM35.62 127.15h2.62v1.55h-2.62zM35.62 128.64h2.62v1.55h-2.62zM33.04 130.14h2.62v1.55h-2.62zM25.30 131.63h2.62v1.55h-2.62zM27.88 131.63h2.62v1.55h-2.62zM35.62 131.63h2.62v1.55h-2.62zM43.36 131.63h2.62v1.55h-2.62zM45.94 131.63h2.62v1.55h-2.62zM51.09 131.63h2.62v1.55h-2.62zM79.47 131.63h2.62v1.55h-2.62zM89.79 131.63h2.62v1.55h-2.62zM97.52 131.63h2.62v1.55h-2.62zM110.42 131.63h2.62v1.55h-2.62zM30.46 133.13h2.62v1.55h-2.62zM33.04 133.13h2.62v1.55h-2.62zM43.36 133.13h2.62v1.55h-2.62zM48.51 133.13h2.62v1.55h-2.62zM71.73 133.13h2.62v1.55h-2.62zM102.68 133.13h2.62v1.55h-2.62zM107.84 133.13h2.62v1.55h-2.62zM25.30 134.63h2.62v1.55h-2.62zM27.88 134.63h2.62v1.55h-2.62zM30.46 134.63h2.62v1.55h-2.62zM35.62 134.63h2.62v1.55h-2.62zM45.94 134.63h2.62v1.55h-2.62zM51.09 134.63h2.62v1.55h-2.62zM53.67 134.63h2.62v1.55h-2.62zM58.83 134.63h2.62v1.55h-2.62zM94.94 134.63h2.62v1.55h-2.62zM105.26 134.63h2.62v1.55h-2.62zM25.30 136.12h2.62v1.55h-2.62zM27.88 136.12h2.62v1.55h-2.62zM30.46 136.12h2.62v1.55h-2.62zM33.04 136.12h2.62v1.55h-2.62zM38.20 136.12h2.62v1.55h-2.62zM40.78 136.12h2.62v1.55h-2.62zM43.36 136.12h2.62v1.55h-2.62zM45.94 136.12h2.62v1.55h-2.62zM53.67 136.12h2.62v1.55h-2.62zM56.25 136.12h2.62v1.55h-2.62zM74.31 136.12h2.62v1.55h-2.62zM92.36 136.12h2.62v1.55h-2.62zM97.52 136.12h2.62v1.55h-2.62zM38.20 137.62h2.62v1.55h-2.62zM45.94 137.62h2.62v1.55h-2.62zM48.51 137.62h2.62v1.55h-2.62zM53.67 137.62h2.62v1.55h-2.62zM58.83 140.61h2.62v1.55h-2.62zM69.15 140.61h2.62v1.55h-2.62zM45.94 142.11h2.62v1.55h-2.62zM61.41 142.11h2.62v1.55h-2.62zM35.62 143.60h2.62v1.55h-2.62zM40.78 143.60h2.62v1.55h-2.62zM43.36 143.60h2.62v1.55h-2.62zM45.94 143.60h2.62v1.55h-2.62zM63.99 143.60h2.62v1.55h-2.62zM66.57 143.60h2.62v1.55h-2.62zM79.47 143.60h2.62v1.55h-2.62zM89.79 143.60h2.62v1.55h-2.62zM102.68 143.60h2.62v1.55h-2.62zM105.26 143.60h2.62v1.55h-2.62zM107.84 143.60h2.62v1.55h-2.62zM43.36 145.10h2.62v1.55h-2.62zM61.41 145.10h2.62v1.55h-2.62zM71.73 145.10h2.62v1.55h-2.62zM100.10 145.10h2.62v1.55h-2.62zM102.68 145.10h2.62v1.55h-2.62zM110.42 145.10h2.62v1.55h-2.62zM25.30 152.58h2.62v1.55h-2.62zM45.94 152.58h2.62v1.55h-2.62zM48.51 152.58h2.62v1.55h-2.62zM58.83 152.58h2.62v1.55h-2.62zM61.41 152.58h2.62v1.55h-2.62zM82.05 152.58h2.62v1.55h-2.62zM27.88 158.57h2.62v1.55h-2.62zM30.46 158.57h2.62v1.55h-2.62zM35.62 158.57h2.62v1.55h-2.62zM48.51 158.57h2.62v1.55h-2.62zM53.67 158.57h2.62v1.55h-2.62zM110.42 158.57h2.62v1.55h-2.62zM43.36 161.56h2.62v1.55h-2.62zM48.51 161.56h2.62v1.55h-2.62zM56.25 161.56h2.62v1.55h-2.62zM63.99 161.56h2.62v1.55h-2.62zM94.94 161.56h2.62v1.55h-2.62zM102.68 161.56h2.62v1.55h-2.62zM105.26 161.56h2.62v1.55h-2.62zM82.05 164.55h2.62v1.55h-2.62zM107.84 169.04h2.62v1.55h-2.62zM33.04 175.03h2.62v1.55h-2.62zM38.20 175.03h2.62v1.55h-2.62zM53.67 175.03h2.62v1.55h-2.62zM61.41 175.03h2.62v1.55h-2.62zM92.36 176.52h2.62v1.55h-2.62zM35.62 178.02h2.62v1.55h-2.62zM40.78 178.02h2.62v1.55h-2.62zM43.36 178.02h2.62v1.55h-2.62zM45.94 178.02h2.62v1.55h-2.62zM84.63 178.02h2.62v1.55h-2.62zM92.36 178.02h2.62v1.55h-2.62zM107.84 178.02h2.62v1.55h-2.62zM40.78 179.51h2.62v1.55h-2.62zM43.36 179.51h2.62v1.55h-2.62zM58.83 179.51h2.62v1.55h-2.62zM110.42 179.51h2.62v1.55h-2.62zM38.20 181.01h2.62v1.55h-2.62zM40.78 181.01h2.62v1.55h-2.62zM56.25 181.01h2.62v1.55h-2.62zM58.83 181.01h2.62v1.55h-2.62zM100.10 181.01h2.62v1.55h-2.62zM105.26 181.01h2.62v1.55h-2.62zM25.30 185.50h2.62v1.55h-2.62zM35.62 185.50h2.62v1.55h-2.62zM38.20 185.50h2.62v1.55h-2.62zM27.88 187.00h2.62v1.55h-2.62zM25.30 188.49h2.62v1.55h-2.62zM27.88 188.49h2.62v1.55h-2.62zM33.04 188.49h2.62v1.55h-2.62zM38.20 188.49h2.62v1.55h-2.62zM25.30 189.99h2.62v1.55h-2.62zM30.46 189.99h2.62v1.55h-2.62zM33.04 192.98h2.62v1.55h-2.62zM25.30 197.47h2.62v1.55h-2.62zM27.88 197.47h2.62v1.55h-2.62zM35.62 197.47h2.62v1.55h-2.62zM45.94 197.47h2.62v1.55h-2.62zM63.99 197.47h2.62v1.55h-2.62zM27.88 198.97h2.62v1.55h-2.62zM25.30 200.46h2.62v1.55h-2.62zM27.88 207.94h2.62v1.55h-2.62zM76.89 207.94h2.62v1.55h-2.62zM82.05 207.94h2.62v1.55h-2.62zM27.88 210.94h2.62v1.55h-2.62zM63.99 212.43h2.62v1.55h-2.62zM30.46 215.42h2.62v1.55h-2.62zM35.62 215.42h2.62v1.55h-2.62zM30.46 216.92h2.62v1.55h-2.62zM27.88 218.42h2.62v1.55h-2.62zM27.88 219.91h2.62v1.55h-2.62zM30.46 219.91h2.62v1.55h-2.62zM25.30 222.91h2.62v1.55h-2.62zM53.67 224.40h2.62v1.55h-2.62zM27.88 227.39h2.62v1.55h-2.62zM33.04 227.39h2.62v1.55h-2.62zM35.62 227.39h2.62v1.55h-2.62zM48.51 227.39h2.62v1.55h-2.62zM53.67 227.39h2.62v1.55h-2.62zM58.83 227.39h2.62v1.55h-2.62zM38.20 230.39h2.62v1.55h-2.62zM79.47 230.39h2.62v1.55h-2.62zM38.20 231.88h2.62v1.55h-2.62zM25.30 234.88h2.62v1.55h-2.62zM33.04 236.37h2.62v1.55h-2.62zM38.20 236.37h2.62v1.55h-2.62zM38.20 242.36h2.62v1.55h-2.62zM40.78 242.36h2.62v1.55h-2.62zM48.51 242.36h2.62v1.55h-2.62zM66.57 242.36h2.62v1.55h-2.62zM79.47 242.36h2.62v1.55h-2.62zM82.05 242.36h2.62v1.55h-2.62zM25.30 243.85h2.62v1.55h-2.62zM76.89 243.85h2.62v1.55h-2.62zM38.20 248.34h2.62v1.55h-2.62zM71.73 249.84h2.62v1.55h-2.62zM35.62 251.33h2.62v1.55h-2.62zM43.36 251.33h2.62v1.55h-2.62zM45.94 251.33h2.62v1.55h-2.62zM63.99 251.33h2.62v1.55h-2.62zM45.94 252.83h2.62v1.55h-2.62zM53.67 252.83h2.62v1.55h-2.62zM56.25 252.83h2.62v1.55h-2.62zM71.73 252.83h2.62v1.55h-2.62zM74.31 252.83h2.62v1.55h-2.62zM89.79 252.83h2.62v1.55h-2.62zM40.78 254.33h2.62v1.55h-2.62zM43.36 254.33h2.62v1.55h-2.62zM48.51 254.33h2.62v1.55h-2.62zM53.67 254.33h2.62v1.55h-2.62zM58.83 254.33h2.62v1.55h-2.62zM38.20 255.82h2.62v1.55h-2.62zM25.30 258.81h2.62v1.55h-2.62zM27.88 258.81h2.62v1.55h-2.62zM30.46 258.81h2.62v1.55h-2.62zM43.36 258.81h2.62v1.55h-2.62zM45.94 258.81h2.62v1.55h-2.62zM82.05 258.81h2.62v1.55h-2.62zM97.52 258.81h2.62v1.55h-2.62zM100.10 258.81h2.62v1.55h-2.62zM110.42 258.81h2.62v1.55h-2.62z"/>
<path fill="#fcfcfc" d="M56.25 25.40h2.62v1.55h-2.62zM92.36 25.40h2.62v1.55h-2.62zM107.84 25.40h2.62v1.55h-2.62zM48.51 26.90h2.62v1.55h-2.62zM97.52 26.90h2.62v1.55h-2.62zM105.26 26.90h2.62v1.55h-2.62zM110.42 26.90h2.62v1.55h-2.62zM58.83 28.39h2.62v1.55h-2.62zM69.15 28.39h2.62v1.55h-2.62zM84.63 28.39h2.62v1.55h-2.62zM105.26 28.39h2.62v1.55h-2.62zM56.25 29.89h2.62v1.55h-2.62zM58.83 29.89h2.62v1.55h-2.62zM61.41 29.89h2.62v1.55h-2.62zM92.36 29.89h2.62v1.55h-2.62zM102.68 29.89h2.62v1.55h-2.62zM110.42 29.89h2.62v1.55h-2.62zM56.25 31.38h2.62v1.55h-2.62zM58.83 31.38h2.62v1.55h-2.62zM82.05 31.38h2.62v1.55h-2.62zM84.63 31.38h2.62v1.55h-2.62zM97.52 31.38h2.62v1.55h-2.62zM56.25 32.88h2.62v1.55h-2.62zM76.89 34.38h2.62v1.55h-2.62zM84.63 34.38h2.62v1.55h-2.62zM63.99 35.87h2.62v1.55h-2.62zM66.57 35.87h2.62v1.55h-2.62zM92.36 35.87h2.62v1.55h-2.62zM58.83 37.37h2.62v1.55h-2.62zM66.57 37.37h2.62v1.55h-2.62zM74.31 37.37h2.62v1.55h-2.62zM82.05 37.37h2.62v1.55h-2.62zM56.25 38.87h2.62v1.55h-2.62zM63.99 38.87h2.62v1.55h-2.62zM110.42 38.87h2.62v1.55h-2.62zM100.10 40.36h2.62v1.55h-2.62zM58.83 41.86h2.62v1.55h-2.62zM84.63 41.86h2.62v1.55h-2.62zM97.52 41.86h2.62v1.55h-2.62zM110.42 41.86h2.62v1.55h-2.62zM63.99 43.36h2.62v1.55h-2.62zM76.89 43.36h2.62v1.55h-2.62zM82.05 43.36h2.62v1.55h-2.62zM94.94 43.36h2.62v1.55h-2.62zM107.84 43.36h2.62v1.55h-2.62zM56.25 44.85h2.62v1.55h-2.62zM63.99 44.85h2.62v1.55h-2.62zM66.57 44.85h2.62v1.55h-2.62zM74.31 44.85h2.62v1.55h-2.62zM76.89 46.35h2.62v1.55h-2.62zM76.89 49.34h2.62v1.55h-2.62zM110.42 49.34h2.62v1.55h-2.62zM66.57 50.84h2.62v1.55h-2.62zM92.36 50.84h2.62v1.55h-2.62zM71.73 52.33h2.62v1.55h-2.62zM74.31 52.33h2.62v1.55h-2.62zM61.41 53.83h2.62v1.55h-2.62zM63.99 53.83h2.62v1.55h-2.62zM66.57 53.83h2.62v1.55h-2.62zM69.15 53.83h2.62v1.55h-2.62zM84.63 53.83h2.62v1.55h-2.62zM87.21 53.83h2.62v1.55h-2.62zM94.94 53.83h2.62v1.55h-2.62zM107.84 53.83h2.62v1.55h-2.62zM63.99 56.82h2.62v1.55h-2.62zM66.57 56.82h2.62v1.55h-2.62zM74.31 56.82h2.62v1.55h-2.62zM61.41 58.32h2.62v1.55h-2.62zM61.41 59.81h2.62v1.55h-2.62zM63.99 59.81h2.62v1.55h-2.62zM66.57 59.81h2.62v1.55h-2.62zM71.73 59.81h2.62v1.55h-2.62zM82.05 59.81h2.62v1.55h-2.62zM107.84 59.81h2.62v1.55h-2.62zM79.47 61.31h2.62v1.55h-2.62zM89.79 61.31h2.62v1.55h-2.62zM56.25 62.81h2.62v1.55h-2.62zM48.51 64.30h2.62v1.55h-2.62zM105.26 64.30h2.62v1.55h-2.62zM107.84 65.80h2.62v1.55h-2.62zM92.36 67.30h2.62v1.55h-2.62zM66.57 68.79h2.62v1.55h-2.62zM94.94 68.79h2.62v1.55h-2.62zM100.10 68.79h2.62v1.55h-2.62zM107.84 68.79h2.62v1.55h-2.62zM110.42 68.79h2.62v1.55h-2.62zM105.26 70.29h2.62v1.55h-2.62zM94.94 71.78h2.62v1.55h-2.62zM97.52 71.78h2.62v1.55h-2.62zM105.26 73.28h2.62v1.55h-2.62zM107.84 73.28h2.62v1.55h-2.62zM94.94 74.78h2.62v1.55h-2.62zM107.84 74.78h2.62v1.55h-2.62zM63.99 76.27h2.62v1.55h-2.62zM66.57 76.27h2.62v1.55h-2.62zM100.10 76.27h2.62v1.55h-2.62zM102.68 76.27h2.62v1.55h-2.62zM58.83 77.77h2.62v1.55h-2.62zM61.41 77.77h2.62v1.55h-2.62zM71.73 77.77h2.62v1.55h-2.62zM92.36 77.77h2.62v1.55h-2.62zM100.10 79.27h2.62v1.55h-2.62zM102.68 79.27h2.62v1.55h-2.62zM105.26 79.27h2.62v1.55h-2.62zM107.84 79.27h2.62v1.55h-2.62zM56.25 80.76h2.62v1.55h-2.62zM102.68 80.76h2.62v1.55h-2.62zM63.99 82.26h2.62v1.55h-2.62zM69.15 82.26h2.62v1.55h-2.62zM79.47 82.26h2.62v1.55h-2.62zM105.26 82.26h2.62v1.55h-2.62zM100.10 83.75h2.62v1.55h-2.62zM102.68 83.75h2.62v1.55h-2.62zM105.26 85.25h2.62v1.55h-2.62zM110.42 85.25h2.62v1.55h-2.62zM58.83 86.75h2.62v1.55h-2.62zM92.36 86.75h2.62v1.55h-2.62zM105.26 86.75h2.62v1.55h-2.62zM110.42 86.75h2.62v1.55h-2.62zM63.99 88.24h2.62v1.55h-2.62zM71.73 88.24h2.62v1.55h-2.62zM107.84 88.24h2.62v1.55h-2.62zM107.84 89.74h2.62v1.55h-2.62zM92.36 91.24h2.62v1.55h-2.62zM94.94 91.24h2.62v1.55h-2.62zM97.52 91.24h2.62v1.55h-2.62zM58.83 92.73h2.62v1.55h-2.62zM79.47 92.73h2.62v1.55h-2.62zM105.26 92.73h2.62v1.55h-2.62zM107.84 92.73h2.62v1.55h-2.62zM38.20 94.23h2.62v1.55h-2.62zM63.99 94.23h2.62v1.55h-2.62zM66.57 95.72h2.62v1.55h-2.62zM105.26 95.72h2.62v1.55h-2.62zM107.84 95.72h2.62v1.55h-2.62zM56.25 97.22h2.62v1.55h-2.62zM74.31 97.22h2.62v1.55h-2.62zM97.52 97.22h2.62v1.55h-2.62zM100.10 97.22h2.62v1.55h-2.62zM97.52 98.72h2.62v1.55h-2.62zM76.89 100.21h2.62v1.55h-2.62zM107.84 100.21h2.62v1.55h-2.62zM92.36 101.71h2.62v1.55h-2.62zM74.31 103.21h2.62v1.55h-2.62zM79.47 103.21h2.62v1.55h-2.62zM92.36 103.21h2.62v1.55h-2.62zM107.84 103.21h2.62v1.55h-2.62zM56.25 104.70h2.62v1.55h-2.62zM66.57 107.69h2.62v1.55h-2.62zM97.52 107.69h2.62v1.55h-2.62zM66.57 109.19h2.62v1.55h-2.62zM105.26 109.19h2.62v1.55h-2.62zM58.83 110.69h2.62v1.55h-2.62zM84.63 113.68h2.62v1.55h-2.62zM92.36 113.68h2.62v1.55h-2.62zM107.84 113.68h2.62v1.55h-2.62zM56.25 115.18h2.62v1.55h-2.62zM58.83 115.18h2.62v1.55h-2.62zM89.79 115.18h2.62v1.55h-2.62zM87.21 118.17h2.62v1.55h-2.62zM82.05 119.66h2.62v1.55h-2.62zM97.52 121.16h2.62v1.55h-2.62zM107.84 121.16h2.62v1.55h-2.62zM53.67 122.66h2.62v1.55h-2.62zM58.83 122.66h2.62v1.55h-2.62zM76.89 122.66h2.62v1.55h-2.62zM105.26 122.66h2.62v1.55h-2.62zM76.89 124.15h2.62v1.55h-2.62zM84.63 124.15h2.62v1.55h-2.62zM102.68 125.65h2.62v1.55h-2.62zM56.25 127.15h2.62v1.55h-2.62zM74.31 127.15h2.62v1.55h-2.62zM100.10 127.15h2.62v1.55h-2.62zM102.68 127.15h2.62v1.55h-2.62zM58.83 128.64h2.62v1.55h-2.62zM89.79 128.64h2.62v1.55h-2.62zM102.68 128.64h2.62v1.55h-2.62zM58.83 130.14h2.62v1.55h-2.62zM82.05 130.14h2.62v1.55h-2.62zM105.26 130.14h2.62v1.55h-2.62zM58.83 131.63h2.62v1.55h-2.62zM61.41 131.63h2.62v1.55h-2.62zM74.31 131.63h2.62v1.55h-2.62zM100.10 131.63h2.62v1.55h-2.62zM61.41 133.13h2.62v1.55h-2.62zM74.31 133.13h2.62v1.55h-2.62zM105.26 133.13h2.62v1.55h-2.62zM61.41 134.63h2.62v1.55h-2.62zM63.99 134.63h2.62v1.55h-2.62zM110.42 134.63h2.62v1.55h-2.62zM61.41 136.12h2.62v1.55h-2.62zM87.21 136.12h2.62v1.55h-2.62zM105.26 136.12h2.62v1.55h-2.62zM84.63 137.62h2.62v1.55h-2.62zM102.68 137.62h2.62v1.55h-2.62zM110.42 137.62h2.62v1.55h-2.62zM94.94 139.12h2.62v1.55h-2.62zM66.57 140.61h2.62v1.55h-2.62zM92.36 140.61h2.62v1.55h-2.62zM82.05 142.11h2.62v1.55h-2.62zM84.63 142.11h2.62v1.55h-2.62zM92.36 142.11h2.62v1.55h-2.62zM92.36 145.10h2.62v1.55h-2.62zM105.26 145.10h2.62v1.55h-2.62zM107.84 145.10h2.62v1.55h-2.62zM45.94 146.60h2.62v1.55h-2.62zM58.83 146.60h2.62v1.55h-2.62zM66.57 146.60h2.62v1.55h-2.62zM69.15 146.60h2.62v1.55h-2.62zM84.63 146.60h2.62v1.55h-2.62zM94.94 146.60h2.62v1.55h-2.62zM100.10 146.60h2.62v1.55h-2.62zM51.09 148.09h2.62v1.55h-2.62zM53.67 148.09h2.62v1.55h-2.62zM63.99 148.09h2.62v1.55h-2.62zM76.89 148.09h2.62v1.55h-2.62zM107.84 148.09h2.62v1.55h-2.62zM66.57 149.59h2.62v1.55h-2.62zM74.31 149.59h2.62v1.55h-2.62zM79.47 149.59h2.62v1.55h-2.62zM87.21 149.59h2.62v1.55h-2.62zM89.79 149.59h2.62v1.55h-2.62zM107.84 149.59h2.62v1.55h-2.62zM110.42 149.59h2.62v1.55h-2.62zM66.57 151.09h2.62v1.55h-2.62zM69.15 151.09h2.62v1.55h-2.62zM97.52 151.09h2.62v1.55h-2.62zM107.84 151.09h2.62v1.55h-2.62zM35.62 155.57h2.62v1.55h-2.62zM40.78 155.57h2.62v1.55h-2.62zM45.94 155.57h2.62v1.55h-2.62zM63.99 155.57h2.62v1.55h-2.62zM76.89 155.57h2.62v1.55h-2.62zM87.21 155.57h2.62v1.55h-2.62zM89.79 155.57h2.62v1.55h-2.62zM94.94 155.57h2.62v1.55h-2.62zM63.99 157.07h2.62v1.55h-2.62zM84.63 157.07h2.62v1.55h-2.62zM110.42 157.07h2.62v1.55h-2.62zM58.83 158.57h2.62v1.55h-2.62zM63.99 158.57h2.62v1.55h-2.62zM87.21 158.57h2.62v1.55h-2.62zM92.36 158.57h2.62v1.55h-2.62zM82.05 160.06h2.62v1.55h-2.62zM84.63 160.06h2.62v1.55h-2.62zM89.79 160.06h2.62v1.55h-2.62zM97.52 160.06h2.62v1.55h-2.62zM102.68 160.06h2.62v1.55h-2.62zM105.26 160.06h2.62v1.55h-2.62zM35.62 161.56h2.62v1.55h-2.62zM43.36 163.06h2.62v1.55h-2.62zM66.57 163.06h2.62v1.55h-2.62zM87.21 163.06h2.62v1.55h-2.62zM89.79 163.06h2.62v1.55h-2.62zM100.10 163.06h2.62v1.55h-2.62zM48.51 164.55h2.62v1.55h-2.62zM63.99 164.55h2.62v1.55h-2.62zM66.57 164.55h2.62v1.55h-2.62zM87.21 164.55h2.62v1.55h-2.62zM97.52 164.55h2.62v1.55h-2.62zM100.10 164.55h2.62v1.55h-2.62zM107.84 164.55h2.62v1.55h-2.62zM45.94 166.05h2.62v1.55h-2.62zM48.51 166.05h2.62v1.55h-2.62zM61.41 166.05h2.62v1.55h-2.62zM110.42 166.05h2.62v1.55h-2.62zM40.78 167.54h2.62v1.55h-2.62zM82.05 167.54h2.62v1.55h-2.62zM84.63 167.54h2.62v1.55h-2.62zM94.94 167.54h2.62v1.55h-2.62zM92.36 169.04h2.62v1.55h-2.62zM102.68 169.04h2.62v1.55h-2.62zM45.94 172.03h2.62v1.55h-2.62zM61.41 172.03h2.62v1.55h-2.62zM82.05 172.03h2.62v1.55h-2.62zM84.63 172.03h2.62v1.55h-2.62zM105.26 172.03h2.62v1.55h-2.62zM107.84 172.03h2.62v1.55h-2.62zM53.67 173.53h2.62v1.55h-2.62zM76.89 173.53h2.62v1.55h-2.62zM94.94 173.53h2.62v1.55h-2.62zM107.84 173.53h2.62v1.55h-2.62zM110.42 173.53h2.62v1.55h-2.62zM63.99 175.03h2.62v1.55h-2.62zM82.05 175.03h2.62v1.55h-2.62zM82.05 176.52h2.62v1.55h-2.62zM84.63 176.52h2.62v1.55h-2.62zM97.52 176.52h2.62v1.55h-2.62zM100.10 176.52h2.62v1.55h-2.62zM110.42 176.52h2.62v1.55h-2.62zM97.52 178.02h2.62v1.55h-2.62zM110.42 178.02h2.62v1.55h-2.62zM102.68 179.51h2.62v1.55h-2.62zM45.94 181.01h2.62v1.55h-2.62zM84.63 181.01h2.62v1.55h-2.62zM74.31 182.51h2.62v1.55h-2.62zM87.21 182.51h2.62v1.55h-2.62zM92.36 182.51h2.62v1.55h-2.62zM102.68 182.51h2.62v1.55h-2.62zM69.15 184.00h2.62v1.55h-2.62zM71.73 184.00h2.62v1.55h-2.62zM74.31 184.00h2.62v1.55h-2.62zM94.94 184.00h2.62v1.55h-2.62zM100.10 184.00h2.62v1.55h-2.62zM61.41 185.50h2.62v1.55h-2.62zM63.99 185.50h2.62v1.55h-2.62zM94.94 185.50h2.62v1.55h-2.62zM61.41 187.00h2.62v1.55h-2.62zM71.73 187.00h2.62v1.55h-2.62zM76.89 187.00h2.62v1.55h-2.62zM84.63 187.00h2.62v1.55h-2.62zM63.99 188.49h2.62v1.55h-2.62zM69.15 188.49h2.62v1.55h-2.62zM89.79 188.49h2.62v1.55h-2.62zM94.94 188.49h2.62v1.55h-2.62zM100.10 188.49h2.62v1.55h-2.62zM110.42 188.49h2.62v1.55h-2.62zM61.41 189.99h2.62v1.55h-2.62zM71.73 189.99h2.62v1.55h-2.62zM87.21 189.99h2.62v1.55h-2.62zM105.26 189.99h2.62v1.55h-2.62zM107.84 189.99h2.62v1.55h-2.62zM110.42 189.99h2.62v1.55h-2.62zM69.15 191.48h2.62v1.55h-2.62zM74.31 191.48h2.62v1.55h-2.62zM76.89 191.48h2.62v1.55h-2.62zM84.63 191.48h2.62v1.55h-2.62zM89.79 191.48h2.62v1.55h-2.62zM92.36 191.48h2.62v1.55h-2.62zM105.26 191.48h2.62v1.55h-2.62zM66.57 192.98h2.62v1.55h-2.62zM79.47 192.98h2.62v1.55h-2.62zM107.84 192.98h2.62v1.55h-2.62zM84.63 194.48h2.62v1.55h-2.62zM87.21 194.48h2.62v1.55h-2.62zM92.36 194.48h2.62v1.55h-2.62zM107.84 194.48h2.62v1.55h-2.62zM69.15 195.97h2.62v1.55h-2.62zM110.42 195.97h2.62v1.55h-2.62zM74.31 197.47h2.62v1.55h-2.62zM79.47 197.47h2.62v1.55h-2.62zM92.36 197.47h2.62v1.55h-2.62zM100.10 197.47h2.62v1.55h-2.62zM105.26 197.47h2.62v1.55h-2.62zM107.84 197.47h2.62v1.55h-2.62zM110.42 197.47h2.62v1.55h-2.62zM69.15 198.97h2.62v1.55h-2.62zM71.73 198.97h2.62v1.55h-2.62zM89.79 198.97h2.62v1.55h-2.62zM100.10 198.97h2.62v1.55h-2.62zM110.42 198.97h2.62v1.55h-2.62zM76.89 200.46h2.62v1.55h-2.62zM100.10 200.46h2.62v1.55h-2.62zM63.99 201.96h2.62v1.55h-2.62zM82.05 201.96h2.62v1.55h-2.62zM84.63 201.96h2.62v1.55h-2.62zM87.21 201.96h2.62v1.55h-2.62zM92.36 201.96h2.62v1.55h-2.62zM97.52 201.96h2.62v1.55h-2.62zM107.84 201.96h2.62v1.55h-2.62zM61.41 203.45h2.62v1.55h-2.62zM63.99 203.45h2.62v1.55h-2.62zM71.73 203.45h2.62v1.55h-2.62zM87.21 203.45h2.62v1.55h-2.62zM63.99 204.95h2.62v1.55h-2.62zM74.31 204.95h2.62v1.55h-2.62zM89.79 204.95h2.62v1.55h-2.62zM84.63 206.45h2.62v1.55h-2.62zM87.21 206.45h2.62v1.55h-2.62zM89.79 206.45h2.62v1.55h-2.62zM97.52 206.45h2.62v1.55h-2.62zM61.41 207.94h2.62v1.55h-2.62zM89.79 207.94h2.62v1.55h-2.62zM105.26 207.94h2.62v1.55h-2.62zM105.26 209.44h2.62v1.55h-2.62zM107.84 209.44h2.62v1.55h-2.62zM110.42 209.44h2.62v1.55h-2.62zM63.99 210.94h2.62v1.55h-2.62zM66.57 210.94h2.62v1.55h-2.62zM69.15 210.94h2.62v1.55h-2.62zM71.73 210.94h2.62v1.55h-2.62zM87.21 210.94h2.62v1.55h-2.62zM92.36 210.94h2.62v1.55h-2.62zM107.84 210.94h2.62v1.55h-2.62zM74.31 212.43h2.62v1.55h-2.62zM87.21 212.43h2.62v1.55h-2.62zM89.79 212.43h2.62v1.55h-2.62zM92.36 212.43h2.62v1.55h-2.62zM61.41 213.93h2.62v1.55h-2.62zM63.99 213.93h2.62v1.55h-2.62zM79.47 213.93h2.62v1.55h-2.62zM105.26 213.93h2.62v1.55h-2.62zM107.84 213.93h2.62v1.55h-2.62zM110.42 213.93h2.62v1.55h-2.62zM74.31 215.42h2.62v1.55h-2.62zM82.05 215.42h2.62v1.55h-2.62zM94.94 215.42h2.62v1.55h-2.62zM102.68 215.42h2.62v1.55h-2.62zM110.42 215.42h2.62v1.55h-2.62zM61.41 216.92h2.62v1.55h-2.62zM94.94 216.92h2.62v1.55h-2.62zM97.52 216.92h2.62v1.55h-2.62zM107.84 216.92h2.62v1.55h-2.62zM79.47 218.42h2.62v1.55h-2.62zM63.99 219.91h2.62v1.55h-2.62zM71.73 219.91h2.62v1.55h-2.62zM97.52 219.91h2.62v1.55h-2.62zM102.68 219.91h2.62v1.55h-2.62zM63.99 221.41h2.62v1.55h-2.62zM84.63 221.41h2.62v1.55h-2.62zM87.21 221.41h2.62v1.55h-2.62zM97.52 221.41h2.62v1.55h-2.62zM110.42 221.41h2.62v1.55h-2.62zM61.41 222.91h2.62v1.55h-2.62zM84.63 222.91h2.62v1.55h-2.62zM105.26 222.91h2.62v1.55h-2.62zM107.84 222.91h2.62v1.55h-2.62zM110.42 222.91h2.62v1.55h-2.62zM84.63 224.40h2.62v1.55h-2.62zM87.21 224.40h2.62v1.55h-2.62zM97.52 224.40h2.62v1.55h-2.62zM45.94 225.90h2.62v1.55h-2.62zM61.41 225.90h2.62v1.55h-2.62zM74.31 225.90h2.62v1.55h-2.62zM107.84 225.90h2.62v1.55h-2.62zM66.57 227.39h2.62v1.55h-2.62zM71.73 227.39h2.62v1.55h-2.62zM89.79 227.39h2.62v1.55h-2.62zM100.10 227.39h2.62v1.55h-2.62zM105.26 227.39h2.62v1.55h-2.62zM107.84 227.39h2.62v1.55h-2.62zM110.42 227.39h2.62v1.55h-2.62zM58.83 228.89h2.62v1.55h-2.62zM71.73 228.89h2.62v1.55h-2.62zM74.31 228.89h2.62v1.55h-2.62zM76.89 228.89h2.62v1.55h-2.62zM82.05 228.89h2.62v1.55h-2.62zM84.63 228.89h2.62v1.55h-2.62zM87.21 228.89h2.62v1.55h-2.62zM100.10 228.89h2.62v1.55h-2.62zM92.36 230.39h2.62v1.55h-2.62zM63.99 231.88h2.62v1.55h-2.62zM71.73 231.88h2.62v1.55h-2.62zM92.36 231.88h2.62v1.55h-2.62zM105.26 231.88h2.62v1.55h-2.62zM56.25 233.38h2.62v1.55h-2.62zM61.41 233.38h2.62v1.55h-2.62zM69.15 233.38h2.62v1.55h-2.62zM87.21 233.38h2.62v1.55h-2.62zM94.94 233.38h2.62v1.55h-2.62zM97.52 233.38h2.62v1.55h-2.62zM102.68 233.38h2.62v1.55h-2.62zM43.36 234.88h2.62v1.55h-2.62zM76.89 236.37h2.62v1.55h-2.62zM63.99 237.87h2.62v1.55h-2.62zM66.57 237.87h2.62v1.55h-2.62zM84.63 237.87h2.62v1.55h-2.62zM97.52 237.87h2.62v1.55h-2.62zM105.26 237.87h2.62v1.55h-2.62zM110.42 237.87h2.62v1.55h-2.62zM40.78 239.36h2.62v1.55h-2.62zM58.83 239.36h2.62v1.55h-2.62zM66.57 239.36h2.62v1.55h-2.62zM27.88 240.86h2.62v1.55h-2.62zM61.41 240.86h2.62v1.55h-2.62zM94.94 240.86h2.62v1.55h-2.62zM102.68 240.86h2.62v1.55h-2.62zM63.99 242.36h2.62v1.55h-2.62zM105.26 242.36h2.62v1.55h-2.62zM71.73 243.85h2.62v1.55h-2.62zM97.52 243.85h2.62v1.55h-2.62zM69.15 245.35h2.62v1.55h-2.62zM92.36 245.35h2.62v1.55h-2.62zM102.68 245.35h2.62v1.55h-2.62zM30.46 246.85h2.62v1.55h-2.62zM74.31 246.85h2.62v1.55h-2.62zM76.89 246.85h2.62v1.55h-2.62zM87.21 246.85h2.62v1.55h-2.62zM92.36 246.85h2.62v1.55h-2.62zM94.94 246.85h2.62v1.55h-2.62zM30.46 248.34h2.62v1.55h-2.62zM69.15 248.34h2.62v1.55h-2.62zM100.10 248.34h2.62v1.55h-2.62zM105.26 248.34h2.62v1.55h-2.62zM97.52 249.84h2.62v1.55h-2.62zM102.68 249.84h2.62v1.55h-2.62zM82.05 251.33h2.62v1.55h-2.62zM94.94 251.33h2.62v1.55h-2.62zM82.05 252.83h2.62v1.55h-2.62zM102.68 252.83h2.62v1.55h-2.62zM82.05 254.33h2.62v1.55h-2.62zM35.62 255.82h2.62v1.55h-2.62zM79.47 255.82h2.62v1.55h-2.62zM84.63 255.82h2.62v1.55h-2.62zM97.52 255.82h2.62v1.55h-2.62zM87.21 257.32h2.62v1.55h-2.62zM102.68 257.32h2.62v1.55h-2.62zM105.26 257.32h2.62v1.55h-2.62zM33.04 260.31h2.62v1.55h-2.62zM74.31 260.31h2.62v1.55h-2.62zM100.10 260.31h2.62v1.55h-2.62zM107.84 260.31h2.62v1.55h-2.62zM25.30 261.81h2.62v1.55h-2.62zM76.89 261.81h2.62v1.55h-2.62zM89.79 261.81h2.62v1.55h-2.62zM87.21 263.30h2.62v1.55h-2.62zM100.10 263.30h2.62v1.55h-2.62z"/>
<path fill="#f0f0f0" d="M58.83 25.40h2.62v1.55h-2.62zM53.67 26.90h2.62v1.55h-2.62zM58.83 34.38h2.62v1.55h-2.62zM105.26 38.87h2.62v1.55h-2.62zM74.31 46.35h2.62v1.55h-2.62zM63.99 52.33h2.62v1.55h-2.62zM58.83 55.33h2.62v1.55h-2.62zM56.25 61.31h2.62v1.55h-2.62zM97.52 65.80h2.62v1.55h-2.62zM58.83 73.28h2.62v1.55h-2.62zM58.83 74.78h2.62v1.55h-2.62zM102.68 74.78h2.62v1.55h-2.62zM107.84 76.27h2.62v1.55h-2.62zM58.83 79.27h2.62v1.55h-2.62zM87.21 79.27h2.62v1.55h-2.62zM58.83 80.76h2.62v1.55h-2.62zM92.36 80.76h2.62v1.55h-2.62zM100.10 82.26h2.62v1.55h-2.62zM87.21 83.75h2.62v1.55h-2.62zM58.83 85.25h2.62v1.55h-2.62zM92.36 92.73h2.62v1.55h-2.62zM53.67 104.70h2.62v1.55h-2.62zM58.83 104.70h2.62v1.55h-2.62zM66.57 106.20h2.62v1.55h-2.62zM51.09 109.19h2.62v1.55h-2.62zM58.83 109.19h2.62v1.55h-2.62zM56.25 110.69h2.62v1.55h-2.62zM102.68 110.69h2.62v1.55h-2.62zM56.25 113.68h2.62v1.55h-2.62zM58.83 113.68h2.62v1.55h-2.62zM58.83 116.67h2.62v1.55h-2.62zM56.25 121.16h2.62v1.55h-2.62zM82.05 133.13h2.62v1.55h-2.62zM48.51 139.12h2.62v1.55h-2.62zM53.67 139.12h2.62v1.55h-2.62zM71.73 139.12h2.62v1.55h-2.62zM102.68 142.11h2.62v1.55h-2.62zM61.41 148.09h2.62v1.55h-2.62zM71.73 148.09h2.62v1.55h-2.62zM105.26 155.57h2.62v1.55h-2.62zM76.89 158.57h2.62v1.55h-2.62zM94.94 160.06h2.62v1.55h-2.62zM97.52 163.06h2.62v1.55h-2.62zM110.42 163.06h2.62v1.55h-2.62zM43.36 164.55h2.62v1.55h-2.62zM66.57 166.05h2.62v1.55h-2.62zM94.94 166.05h2.62v1.55h-2.62zM97.52 166.05h2.62v1.55h-2.62zM82.05 170.54h2.62v1.55h-2.62zM94.94 170.54h2.62v1.55h-2.62zM56.25 172.03h2.62v1.55h-2.62zM87.21 172.03h2.62v1.55h-2.62zM51.09 173.53h2.62v1.55h-2.62zM66.57 173.53h2.62v1.55h-2.62zM105.26 173.53h2.62v1.55h-2.62zM97.52 175.03h2.62v1.55h-2.62zM107.84 175.03h2.62v1.55h-2.62zM51.09 176.52h2.62v1.55h-2.62zM74.31 176.52h2.62v1.55h-2.62zM61.41 178.02h2.62v1.55h-2.62zM66.57 179.51h2.62v1.55h-2.62zM63.99 181.01h2.62v1.55h-2.62zM87.21 185.50h2.62v1.55h-2.62zM107.84 187.00h2.62v1.55h-2.62zM97.52 189.99h2.62v1.55h-2.62zM66.57 191.48h2.62v1.55h-2.62zM71.73 192.98h2.62v1.55h-2.62zM92.36 192.98h2.62v1.55h-2.62zM110.42 192.98h2.62v1.55h-2.62zM82.05 194.48h2.62v1.55h-2.62zM102.68 195.97h2.62v1.55h-2.62zM84.63 197.47h2.62v1.55h-2.62zM89.79 197.47h2.62v1.55h-2.62zM97.52 198.97h2.62v1.55h-2.62zM105.26 200.46h2.62v1.55h-2.62zM76.89 201.96h2.62v1.55h-2.62zM69.15 203.45h2.62v1.55h-2.62zM76.89 203.45h2.62v1.55h-2.62zM105.26 203.45h2.62v1.55h-2.62zM94.94 206.45h2.62v1.55h-2.62zM105.26 206.45h2.62v1.55h-2.62zM92.36 207.94h2.62v1.55h-2.62zM63.99 209.44h2.62v1.55h-2.62zM66.57 213.93h2.62v1.55h-2.62zM71.73 215.42h2.62v1.55h-2.62zM100.10 216.92h2.62v1.55h-2.62zM94.94 218.42h2.62v1.55h-2.62zM100.10 218.42h2.62v1.55h-2.62zM107.84 218.42h2.62v1.55h-2.62zM69.15 219.91h2.62v1.55h-2.62zM76.89 219.91h2.62v1.55h-2.62zM66.57 221.41h2.62v1.55h-2.62zM92.36 221.41h2.62v1.55h-2.62zM102.68 222.91h2.62v1.55h-2.62zM74.31 224.40h2.62v1.55h-2.62zM82.05 225.90h2.62v1.55h-2.62zM61.41 231.88h2.62v1.55h-2.62zM76.89 231.88h2.62v1.55h-2.62zM87.21 231.88h2.62v1.55h-2.62zM84.63 240.86h2.62v1.55h-2.62zM27.88 245.35h2.62v1.55h-2.62zM71.73 248.34h2.62v1.55h-2.62zM87.21 248.34h2.62v1.55h-2.62zM89.79 248.34h2.62v1.55h-2.62zM79.47 251.33h2.62v1.55h-2.62zM84.63 251.33h2.62v1.55h-2.62zM110.42 252.83h2.62v1.55h-2.62zM63.99 255.82h2.62v1.55h-2.62zM74.31 255.82h2.62v1.55h-2.62zM89.79 255.82h2.62v1.55h-2.62zM69.15 257.32h2.62v1.55h-2.62zM92.36 257.32h2.62v1.55h-2.62zM94.94 260.31h2.62v1.55h-2.62zM61.41 261.81h2.62v1.55h-2.62zM69.15 263.30h2.62v1.55h-2.62z"/>
<path fill="#fcf0f0" d="M61.41 25.40h2.62v1.55h-2.62zM63.99 25.40h2.62v1.55h-2.62zM89.79 25.40h2.62v1.55h-2.62zM61.41 26.90h2.62v1.55h-2.62zM66.57 26.90h2.62v1.55h-2.62zM69.15 26.90h2.62v1.55h-2.62zM74.31 26.90h2.62v1.55h-2.62zM82.05 26.90h2.62v1.55h-2.62zM87.21 26.90h2.62v1.55h-2.62zM92.36 26.90h2.62v1.55h-2.62zM63.99 28.39h2.62v1.55h-2.62zM66.57 28.39h2.62v1.55h-2.62zM94.94 28.39h2.62v1.55h-2.62zM76.89 29.89h2.62v1.55h-2.62zM84.63 29.89h2.62v1.55h-2.62zM66.57 31.38h2.62v1.55h-2.62zM110.42 31.38h2.62v1.55h-2.62zM74.31 32.88h2.62v1.55h-2.62zM82.05 32.88h2.62v1.55h-2.62zM87.21 32.88h2.62v1.55h-2.62zM100.10 32.88h2.62v1.55h-2.62zM61.41 34.38h2.62v1.55h-2.62zM71.73 34.38h2.62v1.55h-2.62zM79.47 34.38h2.62v1.55h-2.62zM97.52 34.38h2.62v1.55h-2.62zM61.41 35.87h2.62v1.55h-2.62zM71.73 35.87h2.62v1.55h-2.62zM102.68 35.87h2.62v1.55h-2.62zM107.84 35.87h2.62v1.55h-2.62zM110.42 35.87h2.62v1.55h-2.62zM63.99 37.37h2.62v1.55h-2.62zM71.73 37.37h2.62v1.55h-2.62zM79.47 37.37h2.62v1.55h-2.62zM84.63 37.37h2.62v1.55h-2.62zM87.21 37.37h2.62v1.55h-2.62zM94.94 37.37h2.62v1.55h-2.62zM71.73 38.87h2.62v1.55h-2.62zM74.31 38.87h2.62v1.55h-2.62zM76.89 38.87h2.62v1.55h-2.62zM87.21 38.87h2.62v1.55h-2.62zM100.10 38.87h2.62v1.55h-2.62zM61.41 40.36h2.62v1.55h-2.62zM63.99 40.36h2.62v1.55h-2.62zM82.05 40.36h2.62v1.55h-2.62zM89.79 40.36h2.62v1.55h-2.62zM97.52 40.36h2.62v1.55h-2.62zM110.42 40.36h2.62v1.55h-2.62zM94.94 41.86h2.62v1.55h-2.62zM61.41 43.36h2.62v1.55h-2.62zM84.63 43.36h2.62v1.55h-2.62zM89.79 43.36h2.62v1.55h-2.62zM69.15 44.85h2.62v1.55h-2.62zM84.63 44.85h2.62v1.55h-2.62zM107.84 44.85h2.62v1.55h-2.62zM63.99 46.35h2.62v1.55h-2.62zM89.79 46.35h2.62v1.55h-2.62zM61.41 47.84h2.62v1.55h-2.62zM63.99 47.84h2.62v1.55h-2.62zM82.05 47.84h2.62v1.55h-2.62zM100.10 47.84h2.62v1.55h-2.62zM61.41 49.34h2.62v1.55h-2.62zM63.99 49.34h2.62v1.55h-2.62zM66.57 49.34h2.62v1.55h-2.62zM82.05 49.34h2.62v1.55h-2.62zM92.36 49.34h2.62v1.55h-2.62zM61.41 50.84h2.62v1.55h-2.62zM84.63 50.84h2.62v1.55h-2.62zM89.79 50.84h2.62v1.55h-2.62zM94.94 50.84h2.62v1.55h-2.62zM61.41 52.33h2.62v1.55h-2.62zM66.57 52.33h2.62v1.55h-2.62zM84.63 52.33h2.62v1.55h-2.62zM87.21 52.33h2.62v1.55h-2.62zM102.68 53.83h2.62v1.55h-2.62zM76.89 55.33h2.62v1.55h-2.62zM92.36 55.33h2.62v1.55h-2.62zM94.94 55.33h2.62v1.55h-2.62zM97.52 55.33h2.62v1.55h-2.62zM79.47 56.82h2.62v1.55h-2.62zM105.26 56.82h2.62v1.55h-2.62zM79.47 58.32h2.62v1.55h-2.62zM87.21 58.32h2.62v1.55h-2.62zM94.94 58.32h2.62v1.55h-2.62zM100.10 58.32h2.62v1.55h-2.62zM102.68 58.32h2.62v1.55h-2.62zM110.42 58.32h2.62v1.55h-2.62zM92.36 59.81h2.62v1.55h-2.62zM102.68 59.81h2.62v1.55h-2.62zM82.05 64.30h2.62v1.55h-2.62zM107.84 64.30h2.62v1.55h-2.62zM61.41 65.80h2.62v1.55h-2.62zM63.99 65.80h2.62v1.55h-2.62zM66.57 65.80h2.62v1.55h-2.62zM71.73 65.80h2.62v1.55h-2.62zM56.25 67.30h2.62v1.55h-2.62zM74.31 67.30h2.62v1.55h-2.62zM100.10 67.30h2.62v1.55h-2.62zM79.47 68.79h2.62v1.55h-2.62zM102.68 68.79h2.62v1.55h-2.62zM105.26 68.79h2.62v1.55h-2.62zM76.89 70.29h2.62v1.55h-2.62zM89.79 70.29h2.62v1.55h-2.62zM66.57 71.78h2.62v1.55h-2.62zM102.68 71.78h2.62v1.55h-2.62zM100.10 74.78h2.62v1.55h-2.62zM69.15 76.27h2.62v1.55h-2.62zM92.36 76.27h2.62v1.55h-2.62zM94.94 76.27h2.62v1.55h-2.62zM66.57 77.77h2.62v1.55h-2.62zM94.94 77.77h2.62v1.55h-2.62zM110.42 77.77h2.62v1.55h-2.62zM66.57 79.27h2.62v1.55h-2.62zM82.05 79.27h2.62v1.55h-2.62zM66.57 80.76h2.62v1.55h-2.62zM71.73 80.76h2.62v1.55h-2.62zM87.21 80.76h2.62v1.55h-2.62zM94.94 80.76h2.62v1.55h-2.62zM66.57 82.26h2.62v1.55h-2.62zM84.63 82.26h2.62v1.55h-2.62zM89.79 83.75h2.62v1.55h-2.62zM92.36 83.75h2.62v1.55h-2.62zM97.52 85.25h2.62v1.55h-2.62zM56.25 86.75h2.62v1.55h-2.62zM89.79 86.75h2.62v1.55h-2.62zM94.94 86.75h2.62v1.55h-2.62zM107.84 86.75h2.62v1.55h-2.62zM56.25 88.24h2.62v1.55h-2.62zM74.31 88.24h2.62v1.55h-2.62zM97.52 88.24h2.62v1.55h-2.62zM58.83 89.74h2.62v1.55h-2.62zM76.89 91.24h2.62v1.55h-2.62zM82.05 91.24h2.62v1.55h-2.62zM66.57 92.73h2.62v1.55h-2.62zM74.31 92.73h2.62v1.55h-2.62zM76.89 92.73h2.62v1.55h-2.62zM87.21 92.73h2.62v1.55h-2.62zM76.89 94.23h2.62v1.55h-2.62zM94.94 94.23h2.62v1.55h-2.62zM66.57 97.22h2.62v1.55h-2.62zM69.15 97.22h2.62v1.55h-2.62zM84.63 97.22h2.62v1.55h-2.62zM102.68 97.22h2.62v1.55h-2.62zM74.31 98.72h2.62v1.55h-2.62zM94.94 98.72h2.62v1.55h-2.62zM102.68 98.72h2.62v1.55h-2.62zM56.25 100.21h2.62v1.55h-2.62zM74.31 100.21h2.62v1.55h-2.62zM110.42 100.21h2.62v1.55h-2.62zM61.41 101.71h2.62v1.55h-2.62zM69.15 101.71h2.62v1.55h-2.62zM76.89 101.71h2.62v1.55h-2.62zM82.05 101.71h2.62v1.55h-2.62zM84.63 101.71h2.62v1.55h-2.62zM100.10 101.71h2.62v1.55h-2.62zM107.84 101.71h2.62v1.55h-2.62zM63.99 103.21h2.62v1.55h-2.62zM66.57 103.21h2.62v1.55h-2.62zM102.68 103.21h2.62v1.55h-2.62zM61.41 104.70h2.62v1.55h-2.62zM71.73 104.70h2.62v1.55h-2.62zM102.68 104.70h2.62v1.55h-2.62zM105.26 104.70h2.62v1.55h-2.62zM94.94 106.20h2.62v1.55h-2.62zM97.52 106.20h2.62v1.55h-2.62zM100.10 106.20h2.62v1.55h-2.62zM63.99 107.69h2.62v1.55h-2.62zM74.31 107.69h2.62v1.55h-2.62zM79.47 107.69h2.62v1.55h-2.62zM84.63 107.69h2.62v1.55h-2.62zM61.41 109.19h2.62v1.55h-2.62zM69.15 109.19h2.62v1.55h-2.62zM100.10 109.19h2.62v1.55h-2.62zM110.42 110.69h2.62v1.55h-2.62zM66.57 113.68h2.62v1.55h-2.62zM79.47 113.68h2.62v1.55h-2.62zM87.21 113.68h2.62v1.55h-2.62zM89.79 113.68h2.62v1.55h-2.62zM76.89 115.18h2.62v1.55h-2.62zM105.26 115.18h2.62v1.55h-2.62zM66.57 116.67h2.62v1.55h-2.62zM82.05 116.67h2.62v1.55h-2.62zM89.79 116.67h2.62v1.55h-2.62zM79.47 118.17h2.62v1.55h-2.62zM84.63 118.17h2.62v1.55h-2.62zM92.36 118.17h2.62v1.55h-2.62zM100.10 118.17h2.62v1.55h-2.62zM92.36 119.66h2.62v1.55h-2.62zM100.10 119.66h2.62v1.55h-2.62zM102.68 119.66h2.62v1.55h-2.62zM61.41 121.16h2.62v1.55h-2.62zM100.10 121.16h2.62v1.55h-2.62zM105.26 121.16h2.62v1.55h-2.62zM87.21 122.66h2.62v1.55h-2.62zM97.52 122.66h2.62v1.55h-2.62zM63.99 124.15h2.62v1.55h-2.62zM69.15 125.65h2.62v1.55h-2.62zM105.26 125.65h2.62v1.55h-2.62zM61.41 127.15h2.62v1.55h-2.62zM94.94 127.15h2.62v1.55h-2.62zM79.47 128.64h2.62v1.55h-2.62zM94.94 128.64h2.62v1.55h-2.62zM105.26 128.64h2.62v1.55h-2.62zM110.42 128.64h2.62v1.55h-2.62zM25.30 130.14h2.62v1.55h-2.62zM63.99 130.14h2.62v1.55h-2.62zM66.57 130.14h2.62v1.55h-2.62zM87.21 130.14h2.62v1.55h-2.62zM102.68 130.14h2.62v1.55h-2.62zM76.89 131.63h2.62v1.55h-2.62zM56.25 133.13h2.62v1.55h-2.62zM97.52 133.13h2.62v1.55h-2.62zM100.10 133.13h2.62v1.55h-2.62zM79.47 134.63h2.62v1.55h-2.62zM92.36 134.63h2.62v1.55h-2.62zM56.25 139.12h2.62v1.55h-2.62zM84.63 139.12h2.62v1.55h-2.62zM87.21 139.12h2.62v1.55h-2.62zM92.36 139.12h2.62v1.55h-2.62zM107.84 139.12h2.62v1.55h-2.62zM74.31 140.61h2.62v1.55h-2.62zM89.79 140.61h2.62v1.55h-2.62zM94.94 140.61h2.62v1.55h-2.62zM100.10 140.61h2.62v1.55h-2.62zM110.42 140.61h2.62v1.55h-2.62zM69.15 142.11h2.62v1.55h-2.62zM76.89 142.11h2.62v1.55h-2.62zM89.79 142.11h2.62v1.55h-2.62zM94.94 142.11h2.62v1.55h-2.62zM71.73 143.60h2.62v1.55h-2.62zM97.52 145.10h2.62v1.55h-2.62zM63.99 146.60h2.62v1.55h-2.62zM102.68 146.60h2.62v1.55h-2.62zM105.26 146.60h2.62v1.55h-2.62zM58.83 148.09h2.62v1.55h-2.62zM79.47 148.09h2.62v1.55h-2.62zM38.20 149.59h2.62v1.55h-2.62zM48.51 149.59h2.62v1.55h-2.62zM76.89 149.59h2.62v1.55h-2.62zM43.36 151.09h2.62v1.55h-2.62zM45.94 151.09h2.62v1.55h-2.62zM33.04 152.58h2.62v1.55h-2.62zM84.63 152.58h2.62v1.55h-2.62zM89.79 152.58h2.62v1.55h-2.62zM100.10 152.58h2.62v1.55h-2.62zM105.26 152.58h2.62v1.55h-2.62zM45.94 154.08h2.62v1.55h-2.62zM58.83 154.08h2.62v1.55h-2.62zM63.99 154.08h2.62v1.55h-2.62zM76.89 154.08h2.62v1.55h-2.62zM87.21 154.08h2.62v1.55h-2.62zM100.10 154.08h2.62v1.55h-2.62zM56.25 155.57h2.62v1.55h-2.62zM102.68 155.57h2.62v1.55h-2.62zM43.36 157.07h2.62v1.55h-2.62zM82.05 158.57h2.62v1.55h-2.62zM105.26 158.57h2.62v1.55h-2.62zM40.78 160.06h2.62v1.55h-2.62zM79.47 160.06h2.62v1.55h-2.62zM87.21 160.06h2.62v1.55h-2.62zM107.84 160.06h2.62v1.55h-2.62zM63.99 163.06h2.62v1.55h-2.62zM82.05 163.06h2.62v1.55h-2.62zM40.78 164.55h2.62v1.55h-2.62zM61.41 164.55h2.62v1.55h-2.62zM76.89 164.55h2.62v1.55h-2.62zM43.36 166.05h2.62v1.55h-2.62zM51.09 166.05h2.62v1.55h-2.62zM45.94 167.54h2.62v1.55h-2.62zM53.67 167.54h2.62v1.55h-2.62zM79.47 167.54h2.62v1.55h-2.62zM33.04 169.04h2.62v1.55h-2.62zM40.78 169.04h2.62v1.55h-2.62zM51.09 169.04h2.62v1.55h-2.62zM66.57 169.04h2.62v1.55h-2.62zM79.47 169.04h2.62v1.55h-2.62zM105.26 169.04h2.62v1.55h-2.62zM110.42 169.04h2.62v1.55h-2.62zM38.20 170.54h2.62v1.55h-2.62zM43.36 170.54h2.62v1.55h-2.62zM51.09 170.54h2.62v1.55h-2.62zM66.57 170.54h2.62v1.55h-2.62zM100.10 170.54h2.62v1.55h-2.62zM58.83 172.03h2.62v1.55h-2.62zM45.94 173.53h2.62v1.55h-2.62zM58.83 173.53h2.62v1.55h-2.62zM87.21 175.03h2.62v1.55h-2.62zM48.51 176.52h2.62v1.55h-2.62zM79.47 176.52h2.62v1.55h-2.62zM87.21 176.52h2.62v1.55h-2.62zM30.46 178.02h2.62v1.55h-2.62zM107.84 179.51h2.62v1.55h-2.62zM53.67 181.01h2.62v1.55h-2.62zM82.05 181.01h2.62v1.55h-2.62zM87.21 181.01h2.62v1.55h-2.62zM97.52 181.01h2.62v1.55h-2.62zM63.99 182.51h2.62v1.55h-2.62zM79.47 182.51h2.62v1.55h-2.62zM84.63 182.51h2.62v1.55h-2.62zM66.57 184.00h2.62v1.55h-2.62zM76.89 185.50h2.62v1.55h-2.62zM79.47 185.50h2.62v1.55h-2.62zM84.63 185.50h2.62v1.55h-2.62zM105.26 185.50h2.62v1.55h-2.62zM107.84 185.50h2.62v1.55h-2.62zM66.57 187.00h2.62v1.55h-2.62zM110.42 187.00h2.62v1.55h-2.62zM66.57 188.49h2.62v1.55h-2.62zM79.47 188.49h2.62v1.55h-2.62zM105.26 188.49h2.62v1.55h-2.62zM63.99 189.99h2.62v1.55h-2.62zM66.57 189.99h2.62v1.55h-2.62zM82.05 189.99h2.62v1.55h-2.62zM94.94 189.99h2.62v1.55h-2.62zM102.68 189.99h2.62v1.55h-2.62zM82.05 191.48h2.62v1.55h-2.62zM69.15 192.98h2.62v1.55h-2.62zM84.63 192.98h2.62v1.55h-2.62zM97.52 192.98h2.62v1.55h-2.62zM76.89 194.48h2.62v1.55h-2.62zM100.10 194.48h2.62v1.55h-2.62zM48.51 195.97h2.62v1.55h-2.62zM61.41 195.97h2.62v1.55h-2.62zM63.99 195.97h2.62v1.55h-2.62zM71.73 195.97h2.62v1.55h-2.62zM82.05 195.97h2.62v1.55h-2.62zM84.63 195.97h2.62v1.55h-2.62zM76.89 198.97h2.62v1.55h-2.62zM102.68 198.97h2.62v1.55h-2.62zM107.84 198.97h2.62v1.55h-2.62zM84.63 200.46h2.62v1.55h-2.62zM61.41 201.96h2.62v1.55h-2.62zM79.47 201.96h2.62v1.55h-2.62zM100.10 201.96h2.62v1.55h-2.62zM102.68 201.96h2.62v1.55h-2.62zM74.31 203.45h2.62v1.55h-2.62zM94.94 203.45h2.62v1.55h-2.62zM107.84 203.45h2.62v1.55h-2.62zM71.73 204.95h2.62v1.55h-2.62zM87.21 204.95h2.62v1.55h-2.62zM51.09 206.45h2.62v1.55h-2.62zM63.99 206.45h2.62v1.55h-2.62zM69.15 206.45h2.62v1.55h-2.62zM74.31 206.45h2.62v1.55h-2.62zM66.57 207.94h2.62v1.55h-2.62zM79.47 207.94h2.62v1.55h-2.62zM107.84 207.94h2.62v1.55h-2.62zM48.51 209.44h2.62v1.55h-2.62zM66.57 209.44h2.62v1.55h-2.62zM71.73 209.44h2.62v1.55h-2.62zM97.52 209.44h2.62v1.55h-2.62zM61.41 210.94h2.62v1.55h-2.62zM79.47 210.94h2.62v1.55h-2.62zM84.63 210.94h2.62v1.55h-2.62zM94.94 210.94h2.62v1.55h-2.62zM110.42 210.94h2.62v1.55h-2.62zM69.15 212.43h2.62v1.55h-2.62zM84.63 212.43h2.62v1.55h-2.62zM107.84 212.43h2.62v1.55h-2.62zM71.73 213.93h2.62v1.55h-2.62zM94.94 213.93h2.62v1.55h-2.62zM100.10 213.93h2.62v1.55h-2.62zM79.47 215.42h2.62v1.55h-2.62zM84.63 215.42h2.62v1.55h-2.62zM97.52 215.42h2.62v1.55h-2.62zM107.84 215.42h2.62v1.55h-2.62zM63.99 216.92h2.62v1.55h-2.62zM66.57 216.92h2.62v1.55h-2.62zM71.73 216.92h2.62v1.55h-2.62zM84.63 216.92h2.62v1.55h-2.62zM89.79 216.92h2.62v1.55h-2.62zM61.41 218.42h2.62v1.55h-2.62zM74.31 218.42h2.62v1.55h-2.62zM82.05 218.42h2.62v1.55h-2.62zM105.26 218.42h2.62v1.55h-2.62zM61.41 219.91h2.62v1.55h-2.62zM92.36 219.91h2.62v1.55h-2.62zM100.10 219.91h2.62v1.55h-2.62zM105.26 219.91h2.62v1.55h-2.62zM53.67 221.41h2.62v1.55h-2.62zM61.41 221.41h2.62v1.55h-2.62zM76.89 221.41h2.62v1.55h-2.62zM102.68 221.41h2.62v1.55h-2.62zM71.73 222.91h2.62v1.55h-2.62zM82.05 222.91h2.62v1.55h-2.62zM92.36 222.91h2.62v1.55h-2.62zM100.10 222.91h2.62v1.55h-2.62zM63.99 224.40h2.62v1.55h-2.62zM76.89 224.40h2.62v1.55h-2.62zM89.79 224.40h2.62v1.55h-2.62zM94.94 224.40h2.62v1.55h-2.62zM100.10 224.40h2.62v1.55h-2.62zM107.84 224.40h2.62v1.55h-2.62zM63.99 225.90h2.62v1.55h-2.62zM79.47 225.90h2.62v1.55h-2.62zM82.05 227.39h2.62v1.55h-2.62zM51.09 228.89h2.62v1.55h-2.62zM56.25 228.89h2.62v1.55h-2.62zM63.99 228.89h2.62v1.55h-2.62zM66.57 228.89h2.62v1.55h-2.62zM89.79 228.89h2.62v1.55h-2.62zM58.83 230.39h2.62v1.55h-2.62zM61.41 230.39h2.62v1.55h-2.62zM100.10 230.39h2.62v1.55h-2.62zM53.67 231.88h2.62v1.55h-2.62zM66.57 231.88h2.62v1.55h-2.62zM69.15 231.88h2.62v1.55h-2.62zM79.47 231.88h2.62v1.55h-2.62zM102.68 231.88h2.62v1.55h-2.62zM107.84 231.88h2.62v1.55h-2.62zM110.42 231.88h2.62v1.55h-2.62zM51.09 233.38h2.62v1.55h-2.62zM66.57 233.38h2.62v1.55h-2.62zM76.89 233.38h2.62v1.55h-2.62zM107.84 233.38h2.62v1.55h-2.62zM110.42 233.38h2.62v1.55h-2.62zM51.09 234.88h2.62v1.55h-2.62zM63.99 234.88h2.62v1.55h-2.62zM71.73 234.88h2.62v1.55h-2.62zM89.79 234.88h2.62v1.55h-2.62zM92.36 234.88h2.62v1.55h-2.62zM105.26 234.88h2.62v1.55h-2.62zM58.83 236.37h2.62v1.55h-2.62zM69.15 236.37h2.62v1.55h-2.62zM87.21 236.37h2.62v1.55h-2.62zM110.42 236.37h2.62v1.55h-2.62zM56.25 237.87h2.62v1.55h-2.62zM74.31 237.87h2.62v1.55h-2.62zM100.10 237.87h2.62v1.55h-2.62zM43.36 239.36h2.62v1.55h-2.62zM63.99 239.36h2.62v1.55h-2.62zM79.47 239.36h2.62v1.55h-2.62zM84.63 239.36h2.62v1.55h-2.62zM92.36 239.36h2.62v1.55h-2.62zM89.79 240.86h2.62v1.55h-2.62zM84.63 242.36h2.62v1.55h-2.62zM110.42 243.85h2.62v1.55h-2.62zM33.04 245.35h2.62v1.55h-2.62zM56.25 245.35h2.62v1.55h-2.62zM110.42 245.35h2.62v1.55h-2.62zM69.15 246.85h2.62v1.55h-2.62zM25.30 248.34h2.62v1.55h-2.62zM33.04 248.34h2.62v1.55h-2.62zM97.52 248.34h2.62v1.55h-2.62zM48.51 249.84h2.62v1.55h-2.62zM61.41 251.33h2.62v1.55h-2.62zM92.36 251.33h2.62v1.55h-2.62zM38.20 252.83h2.62v1.55h-2.62zM27.88 254.33h2.62v1.55h-2.62zM56.25 255.82h2.62v1.55h-2.62zM71.73 255.82h2.62v1.55h-2.62zM74.31 257.32h2.62v1.55h-2.62zM89.79 258.81h2.62v1.55h-2.62zM27.88 260.31h2.62v1.55h-2.62zM84.63 260.31h2.62v1.55h-2.62zM107.84 261.81h2.62v1.55h-2.62z"/>
<path fill="#fce4e4" d="M69.15 25.40h2.62v1.55h-2.62zM76.89 25.40h2.62v1.55h-2.62zM79.47 25.40h2.62v1.55h-2.62zM82.05 25.40h2.62v1.55h-2.62zM97.52 25.40h2.62v1.55h-2.62zM102.68 25.40h2.62v1.55h-2.62zM56.25 26.90h2.62v1.55h-2.62zM84.63 26.90h2.62v1.55h-2.62zM102.68 26.90h2.62v1.55h-2.62zM74.31 28.39h2.62v1.55h-2.62zM82.05 28.39h2.62v1.55h-2.62zM89.79 28.39h2.62v1.55h-2.62zM63.99 29.89h2.62v1.55h-2.62zM71.73 29.89h2.62v1.55h-2.62zM79.47 29.89h2.62v1.55h-2.62zM61.41 31.38h2.62v1.55h-2.62zM69.15 31.38h2.62v1.55h-2.62zM87.21 31.38h2.62v1.55h-2.62zM63.99 32.88h2.62v1.55h-2.62zM94.94 32.88h2.62v1.55h-2.62zM97.52 32.88h2.62v1.55h-2.62zM102.68 32.88h2.62v1.55h-2.62zM82.05 34.38h2.62v1.55h-2.62zM105.26 34.38h2.62v1.55h-2.62zM107.84 34.38h2.62v1.55h-2.62zM74.31 35.87h2.62v1.55h-2.62zM87.21 35.87h2.62v1.55h-2.62zM89.79 35.87h2.62v1.55h-2.62zM94.94 35.87h2.62v1.55h-2.62zM76.89 37.37h2.62v1.55h-2.62zM107.84 37.37h2.62v1.55h-2.62zM110.42 37.37h2.62v1.55h-2.62zM66.57 38.87h2.62v1.55h-2.62zM82.05 38.87h2.62v1.55h-2.62zM66.57 40.36h2.62v1.55h-2.62zM69.15 40.36h2.62v1.55h-2.62zM76.89 40.36h2.62v1.55h-2.62zM102.68 40.36h2.62v1.55h-2.62zM107.84 40.36h2.62v1.55h-2.62zM105.26 41.86h2.62v1.55h-2.62zM66.57 43.36h2.62v1.55h-2.62zM69.15 43.36h2.62v1.55h-2.62zM87.21 43.36h2.62v1.55h-2.62zM105.26 43.36h2.62v1.55h-2.62zM100.10 44.85h2.62v1.55h-2.62zM66.57 46.35h2.62v1.55h-2.62zM82.05 46.35h2.62v1.55h-2.62zM102.68 46.35h2.62v1.55h-2.62zM105.26 46.35h2.62v1.55h-2.62zM66.57 47.84h2.62v1.55h-2.62zM74.31 47.84h2.62v1.55h-2.62zM76.89 47.84h2.62v1.55h-2.62zM92.36 47.84h2.62v1.55h-2.62zM94.94 47.84h2.62v1.55h-2.62zM105.26 47.84h2.62v1.55h-2.62zM79.47 49.34h2.62v1.55h-2.62zM89.79 49.34h2.62v1.55h-2.62zM97.52 49.34h2.62v1.55h-2.62zM82.05 50.84h2.62v1.55h-2.62zM87.21 50.84h2.62v1.55h-2.62zM97.52 50.84h2.62v1.55h-2.62zM102.68 52.33h2.62v1.55h-2.62zM76.89 53.83h2.62v1.55h-2.62zM82.05 53.83h2.62v1.55h-2.62zM97.52 53.83h2.62v1.55h-2.62zM66.57 55.33h2.62v1.55h-2.62zM69.15 55.33h2.62v1.55h-2.62zM79.47 55.33h2.62v1.55h-2.62zM84.63 55.33h2.62v1.55h-2.62zM87.21 55.33h2.62v1.55h-2.62zM100.10 55.33h2.62v1.55h-2.62zM71.73 56.82h2.62v1.55h-2.62zM107.84 56.82h2.62v1.55h-2.62zM56.25 58.32h2.62v1.55h-2.62zM82.05 58.32h2.62v1.55h-2.62zM74.31 59.81h2.62v1.55h-2.62zM100.10 59.81h2.62v1.55h-2.62zM105.26 59.81h2.62v1.55h-2.62zM63.99 61.31h2.62v1.55h-2.62zM74.31 61.31h2.62v1.55h-2.62zM94.94 61.31h2.62v1.55h-2.62zM61.41 62.81h2.62v1.55h-2.62zM63.99 62.81h2.62v1.55h-2.62zM71.73 62.81h2.62v1.55h-2.62zM79.47 62.81h2.62v1.55h-2.62zM84.63 62.81h2.62v1.55h-2.62zM87.21 62.81h2.62v1.55h-2.62zM102.68 62.81h2.62v1.55h-2.62zM107.84 62.81h2.62v1.55h-2.62zM110.42 62.81h2.62v1.55h-2.62zM94.94 64.30h2.62v1.55h-2.62zM69.15 65.80h2.62v1.55h-2.62zM76.89 65.80h2.62v1.55h-2.62zM82.05 65.80h2.62v1.55h-2.62zM102.68 65.80h2.62v1.55h-2.62zM76.89 67.30h2.62v1.55h-2.62zM79.47 67.30h2.62v1.55h-2.62zM84.63 67.30h2.62v1.55h-2.62zM76.89 68.79h2.62v1.55h-2.62zM92.36 68.79h2.62v1.55h-2.62zM61.41 70.29h2.62v1.55h-2.62zM71.73 70.29h2.62v1.55h-2.62zM82.05 70.29h2.62v1.55h-2.62zM71.73 71.78h2.62v1.55h-2.62zM76.89 71.78h2.62v1.55h-2.62zM100.10 71.78h2.62v1.55h-2.62zM61.41 73.28h2.62v1.55h-2.62zM66.57 73.28h2.62v1.55h-2.62zM110.42 73.28h2.62v1.55h-2.62zM61.41 74.78h2.62v1.55h-2.62zM63.99 74.78h2.62v1.55h-2.62zM66.57 74.78h2.62v1.55h-2.62zM76.89 74.78h2.62v1.55h-2.62zM82.05 74.78h2.62v1.55h-2.62zM110.42 74.78h2.62v1.55h-2.62zM76.89 76.27h2.62v1.55h-2.62zM84.63 76.27h2.62v1.55h-2.62zM110.42 76.27h2.62v1.55h-2.62zM74.31 77.77h2.62v1.55h-2.62zM76.89 77.77h2.62v1.55h-2.62zM102.68 77.77h2.62v1.55h-2.62zM69.15 79.27h2.62v1.55h-2.62zM76.89 79.27h2.62v1.55h-2.62zM69.15 80.76h2.62v1.55h-2.62zM100.10 80.76h2.62v1.55h-2.62zM74.31 82.26h2.62v1.55h-2.62zM63.99 83.75h2.62v1.55h-2.62zM69.15 83.75h2.62v1.55h-2.62zM74.31 83.75h2.62v1.55h-2.62zM84.63 83.75h2.62v1.55h-2.62zM74.31 85.25h2.62v1.55h-2.62zM92.36 85.25h2.62v1.55h-2.62zM76.89 86.75h2.62v1.55h-2.62zM82.05 86.75h2.62v1.55h-2.62zM84.63 86.75h2.62v1.55h-2.62zM97.52 86.75h2.62v1.55h-2.62zM84.63 88.24h2.62v1.55h-2.62zM105.26 88.24h2.62v1.55h-2.62zM61.41 89.74h2.62v1.55h-2.62zM82.05 89.74h2.62v1.55h-2.62zM87.21 89.74h2.62v1.55h-2.62zM63.99 91.24h2.62v1.55h-2.62zM110.42 91.24h2.62v1.55h-2.62zM69.15 92.73h2.62v1.55h-2.62zM71.73 92.73h2.62v1.55h-2.62zM84.63 92.73h2.62v1.55h-2.62zM100.10 92.73h2.62v1.55h-2.62zM102.68 92.73h2.62v1.55h-2.62zM110.42 92.73h2.62v1.55h-2.62zM61.41 94.23h2.62v1.55h-2.62zM66.57 94.23h2.62v1.55h-2.62zM69.15 94.23h2.62v1.55h-2.62zM74.31 94.23h2.62v1.55h-2.62zM97.52 94.23h2.62v1.55h-2.62zM71.73 95.72h2.62v1.55h-2.62zM94.94 95.72h2.62v1.55h-2.62zM100.10 95.72h2.62v1.55h-2.62zM63.99 97.22h2.62v1.55h-2.62zM71.73 97.22h2.62v1.55h-2.62zM76.89 97.22h2.62v1.55h-2.62zM79.47 97.22h2.62v1.55h-2.62zM92.36 97.22h2.62v1.55h-2.62zM94.94 97.22h2.62v1.55h-2.62zM66.57 98.72h2.62v1.55h-2.62zM71.73 98.72h2.62v1.55h-2.62zM89.79 98.72h2.62v1.55h-2.62zM100.10 98.72h2.62v1.55h-2.62zM107.84 98.72h2.62v1.55h-2.62zM66.57 100.21h2.62v1.55h-2.62zM94.94 100.21h2.62v1.55h-2.62zM100.10 100.21h2.62v1.55h-2.62zM105.26 100.21h2.62v1.55h-2.62zM74.31 101.71h2.62v1.55h-2.62zM102.68 101.71h2.62v1.55h-2.62zM69.15 103.21h2.62v1.55h-2.62zM97.52 103.21h2.62v1.55h-2.62zM63.99 104.70h2.62v1.55h-2.62zM84.63 104.70h2.62v1.55h-2.62zM92.36 104.70h2.62v1.55h-2.62zM107.84 104.70h2.62v1.55h-2.62zM61.41 106.20h2.62v1.55h-2.62zM74.31 106.20h2.62v1.55h-2.62zM76.89 106.20h2.62v1.55h-2.62zM79.47 106.20h2.62v1.55h-2.62zM69.15 107.69h2.62v1.55h-2.62zM71.73 107.69h2.62v1.55h-2.62zM76.89 107.69h2.62v1.55h-2.62zM89.79 107.69h2.62v1.55h-2.62zM107.84 107.69h2.62v1.55h-2.62zM71.73 109.19h2.62v1.55h-2.62zM84.63 109.19h2.62v1.55h-2.62zM87.21 109.19h2.62v1.55h-2.62zM63.99 110.69h2.62v1.55h-2.62zM87.21 110.69h2.62v1.55h-2.62zM89.79 110.69h2.62v1.55h-2.62zM105.26 110.69h2.62v1.55h-2.62zM69.15 112.18h2.62v1.55h-2.62zM92.36 112.18h2.62v1.55h-2.62zM94.94 112.18h2.62v1.55h-2.62zM100.10 112.18h2.62v1.55h-2.62zM110.42 112.18h2.62v1.55h-2.62zM100.10 113.68h2.62v1.55h-2.62zM102.68 113.68h2.62v1.55h-2.62zM102.68 115.18h2.62v1.55h-2.62zM61.41 116.67h2.62v1.55h-2.62zM69.15 116.67h2.62v1.55h-2.62zM71.73 116.67h2.62v1.55h-2.62zM74.31 116.67h2.62v1.55h-2.62zM84.63 116.67h2.62v1.55h-2.62zM94.94 116.67h2.62v1.55h-2.62zM69.15 118.17h2.62v1.55h-2.62zM74.31 118.17h2.62v1.55h-2.62zM61.41 119.66h2.62v1.55h-2.62zM63.99 119.66h2.62v1.55h-2.62zM107.84 119.66h2.62v1.55h-2.62zM110.42 119.66h2.62v1.55h-2.62zM89.79 121.16h2.62v1.55h-2.62zM92.36 121.16h2.62v1.55h-2.62zM61.41 122.66h2.62v1.55h-2.62zM71.73 122.66h2.62v1.55h-2.62zM82.05 122.66h2.62v1.55h-2.62zM89.79 122.66h2.62v1.55h-2.62zM92.36 122.66h2.62v1.55h-2.62zM100.10 122.66h2.62v1.55h-2.62zM87.21 124.15h2.62v1.55h-2.62zM89.79 124.15h2.62v1.55h-2.62zM71.73 125.65h2.62v1.55h-2.62zM66.57 127.15h2.62v1.55h-2.62zM71.73 127.15h2.62v1.55h-2.62zM76.89 127.15h2.62v1.55h-2.62zM79.47 127.15h2.62v1.55h-2.62zM89.79 127.15h2.62v1.55h-2.62zM74.31 128.64h2.62v1.55h-2.62zM82.05 128.64h2.62v1.55h-2.62zM87.21 128.64h2.62v1.55h-2.62zM92.36 128.64h2.62v1.55h-2.62zM69.15 130.14h2.62v1.55h-2.62zM74.31 130.14h2.62v1.55h-2.62zM94.94 130.14h2.62v1.55h-2.62zM105.26 131.63h2.62v1.55h-2.62zM56.25 134.63h2.62v1.55h-2.62zM84.63 134.63h2.62v1.55h-2.62zM89.79 136.12h2.62v1.55h-2.62zM63.99 137.62h2.62v1.55h-2.62zM66.57 137.62h2.62v1.55h-2.62zM69.15 137.62h2.62v1.55h-2.62zM71.73 137.62h2.62v1.55h-2.62zM35.62 139.12h2.62v1.55h-2.62zM61.41 139.12h2.62v1.55h-2.62zM66.57 139.12h2.62v1.55h-2.62zM89.79 139.12h2.62v1.55h-2.62zM110.42 139.12h2.62v1.55h-2.62zM63.99 142.11h2.62v1.55h-2.62zM89.79 145.10h2.62v1.55h-2.62zM82.05 146.60h2.62v1.55h-2.62zM89.79 146.60h2.62v1.55h-2.62zM92.36 146.60h2.62v1.55h-2.62zM35.62 148.09h2.62v1.55h-2.62zM48.51 148.09h2.62v1.55h-2.62zM33.04 149.59h2.62v1.55h-2.62zM53.67 149.59h2.62v1.55h-2.62zM58.83 149.59h2.62v1.55h-2.62zM97.52 149.59h2.62v1.55h-2.62zM105.26 149.59h2.62v1.55h-2.62zM82.05 151.09h2.62v1.55h-2.62zM43.36 154.08h2.62v1.55h-2.62zM48.51 154.08h2.62v1.55h-2.62zM92.36 154.08h2.62v1.55h-2.62zM48.51 155.57h2.62v1.55h-2.62zM51.09 155.57h2.62v1.55h-2.62zM100.10 155.57h2.62v1.55h-2.62zM48.51 157.07h2.62v1.55h-2.62zM53.67 157.07h2.62v1.55h-2.62zM76.89 157.07h2.62v1.55h-2.62zM43.36 158.57h2.62v1.55h-2.62zM48.51 160.06h2.62v1.55h-2.62zM38.20 163.06h2.62v1.55h-2.62zM53.67 163.06h2.62v1.55h-2.62zM61.41 163.06h2.62v1.55h-2.62zM94.94 163.06h2.62v1.55h-2.62zM45.94 164.55h2.62v1.55h-2.62zM51.09 164.55h2.62v1.55h-2.62zM58.83 164.55h2.62v1.55h-2.62zM107.84 166.05h2.62v1.55h-2.62zM76.89 169.04h2.62v1.55h-2.62zM94.94 169.04h2.62v1.55h-2.62zM97.52 169.04h2.62v1.55h-2.62zM33.04 170.54h2.62v1.55h-2.62zM40.78 170.54h2.62v1.55h-2.62zM48.51 170.54h2.62v1.55h-2.62zM76.89 170.54h2.62v1.55h-2.62zM53.67 172.03h2.62v1.55h-2.62zM71.73 173.53h2.62v1.55h-2.62zM92.36 173.53h2.62v1.55h-2.62zM89.79 179.51h2.62v1.55h-2.62zM51.09 181.01h2.62v1.55h-2.62zM76.89 181.01h2.62v1.55h-2.62zM69.15 182.51h2.62v1.55h-2.62zM94.94 182.51h2.62v1.55h-2.62zM107.84 182.51h2.62v1.55h-2.62zM82.05 185.50h2.62v1.55h-2.62zM89.79 185.50h2.62v1.55h-2.62zM102.68 185.50h2.62v1.55h-2.62zM51.09 187.00h2.62v1.55h-2.62zM40.78 188.49h2.62v1.55h-2.62zM61.41 188.49h2.62v1.55h-2.62zM92.36 188.49h2.62v1.55h-2.62zM71.73 191.48h2.62v1.55h-2.62zM61.41 192.98h2.62v1.55h-2.62zM89.79 192.98h2.62v1.55h-2.62zM66.57 194.48h2.62v1.55h-2.62zM89.79 194.48h2.62v1.55h-2.62zM53.67 195.97h2.62v1.55h-2.62zM76.89 195.97h2.62v1.55h-2.62zM94.94 195.97h2.62v1.55h-2.62zM61.41 197.47h2.62v1.55h-2.62zM87.21 197.47h2.62v1.55h-2.62zM79.47 198.97h2.62v1.55h-2.62zM82.05 198.97h2.62v1.55h-2.62zM94.94 198.97h2.62v1.55h-2.62zM63.99 200.46h2.62v1.55h-2.62zM66.57 200.46h2.62v1.55h-2.62zM89.79 200.46h2.62v1.55h-2.62zM92.36 200.46h2.62v1.55h-2.62zM89.79 203.45h2.62v1.55h-2.62zM97.52 203.45h2.62v1.55h-2.62zM61.41 204.95h2.62v1.55h-2.62zM79.47 204.95h2.62v1.55h-2.62zM100.10 204.95h2.62v1.55h-2.62zM71.73 206.45h2.62v1.55h-2.62zM71.73 207.94h2.62v1.55h-2.62zM102.68 207.94h2.62v1.55h-2.62zM102.68 209.44h2.62v1.55h-2.62zM102.68 210.94h2.62v1.55h-2.62zM82.05 212.43h2.62v1.55h-2.62zM69.15 213.93h2.62v1.55h-2.62zM105.26 215.42h2.62v1.55h-2.62zM92.36 216.92h2.62v1.55h-2.62zM110.42 218.42h2.62v1.55h-2.62zM82.05 219.91h2.62v1.55h-2.62zM69.15 221.41h2.62v1.55h-2.62zM94.94 222.91h2.62v1.55h-2.62zM61.41 224.40h2.62v1.55h-2.62zM69.15 224.40h2.62v1.55h-2.62zM43.36 225.90h2.62v1.55h-2.62zM76.89 225.90h2.62v1.55h-2.62zM97.52 225.90h2.62v1.55h-2.62zM102.68 225.90h2.62v1.55h-2.62zM69.15 227.39h2.62v1.55h-2.62zM97.52 227.39h2.62v1.55h-2.62zM40.78 228.89h2.62v1.55h-2.62zM43.36 228.89h2.62v1.55h-2.62zM48.51 228.89h2.62v1.55h-2.62zM69.15 228.89h2.62v1.55h-2.62zM48.51 230.39h2.62v1.55h-2.62zM51.09 230.39h2.62v1.55h-2.62zM53.67 230.39h2.62v1.55h-2.62zM63.99 230.39h2.62v1.55h-2.62zM87.21 230.39h2.62v1.55h-2.62zM89.79 230.39h2.62v1.55h-2.62zM110.42 230.39h2.62v1.55h-2.62zM43.36 231.88h2.62v1.55h-2.62zM48.51 231.88h2.62v1.55h-2.62zM97.52 231.88h2.62v1.55h-2.62zM100.10 231.88h2.62v1.55h-2.62zM43.36 233.38h2.62v1.55h-2.62zM48.51 233.38h2.62v1.55h-2.62zM82.05 233.38h2.62v1.55h-2.62zM61.41 234.88h2.62v1.55h-2.62zM43.36 236.37h2.62v1.55h-2.62zM89.79 236.37h2.62v1.55h-2.62zM92.36 236.37h2.62v1.55h-2.62zM100.10 236.37h2.62v1.55h-2.62zM102.68 236.37h2.62v1.55h-2.62zM40.78 237.87h2.62v1.55h-2.62zM45.94 237.87h2.62v1.55h-2.62zM48.51 237.87h2.62v1.55h-2.62zM53.67 237.87h2.62v1.55h-2.62zM58.83 237.87h2.62v1.55h-2.62zM76.89 237.87h2.62v1.55h-2.62zM79.47 237.87h2.62v1.55h-2.62zM82.05 237.87h2.62v1.55h-2.62zM89.79 237.87h2.62v1.55h-2.62zM102.68 237.87h2.62v1.55h-2.62zM48.51 239.36h2.62v1.55h-2.62zM53.67 239.36h2.62v1.55h-2.62zM56.25 239.36h2.62v1.55h-2.62zM82.05 239.36h2.62v1.55h-2.62zM89.79 239.36h2.62v1.55h-2.62zM94.94 239.36h2.62v1.55h-2.62zM100.10 239.36h2.62v1.55h-2.62zM45.94 240.86h2.62v1.55h-2.62zM58.83 240.86h2.62v1.55h-2.62zM100.10 242.36h2.62v1.55h-2.62zM66.57 243.85h2.62v1.55h-2.62zM82.05 243.85h2.62v1.55h-2.62zM82.05 245.35h2.62v1.55h-2.62zM38.20 246.85h2.62v1.55h-2.62zM30.46 249.84h2.62v1.55h-2.62zM82.05 249.84h2.62v1.55h-2.62zM110.42 255.82h2.62v1.55h-2.62zM38.20 257.32h2.62v1.55h-2.62zM58.83 257.32h2.62v1.55h-2.62zM92.36 258.81h2.62v1.55h-2.62zM30.46 261.81h2.62v1.55h-2.62zM97.52 263.30h2.62v1.55h-2.62z"/>
<path fill="#fcc0c0" d="M71.73 25.40h2.62v1.55h-2.62zM107.84 26.90h2.62v1.55h-2.62zM25.30 28.39h2.62v1.55h-2.62zM27.88 28.39h2.62v1.55h-2.62zM87.21 29.89h2.62v1.55h-2.62zM97.52 29.89h2.62v1.55h-2.62zM105.26 31.38h2.62v1.55h-2.62zM79.47 32.88h2.62v1.55h-2.62zM87.21 34.38h2.62v1.55h-2.62zM92.36 34.38h2.62v1.55h-2.62zM94.94 34.38h2.62v1.55h-2.62zM105.26 35.87h2.62v1.55h-2.62zM92.36 37.37h2.62v1.55h-2.62zM89.79 41.86h2.62v1.55h-2.62zM100.10 41.86h2.62v1.55h-2.62zM92.36 43.36h2.62v1.55h-2.62zM87.21 44.85h2.62v1.55h-2.62zM100.10 46.35h2.62v1.55h-2.62zM84.63 49.34h2.62v1.55h-2.62zM87.21 49.34h2.62v1.55h-2.62zM92.36 52.33h2.62v1.55h-2.62zM74.31 53.83h2.62v1.55h-2.62zM89.79 53.83h2.62v1.55h-2.62zM97.52 56.82h2.62v1.55h-2.62zM92.36 58.32h2.62v1.55h-2.62zM97.52 58.32h2.62v1.55h-2.62zM87.21 61.31h2.62v1.55h-2.62zM110.42 61.31h2.62v1.55h-2.62zM69.15 62.81h2.62v1.55h-2.62zM76.89 62.81h2.62v1.55h-2.62zM74.31 64.30h2.62v1.55h-2.62zM76.89 64.30h2.62v1.55h-2.62zM79.47 64.30h2.62v1.55h-2.62zM102.68 64.30h2.62v1.55h-2.62zM87.21 65.80h2.62v1.55h-2.62zM63.99 67.30h2.62v1.55h-2.62zM97.52 67.30h2.62v1.55h-2.62zM82.05 68.79h2.62v1.55h-2.62zM74.31 71.78h2.62v1.55h-2.62zM87.21 71.78h2.62v1.55h-2.62zM107.84 71.78h2.62v1.55h-2.62zM76.89 73.28h2.62v1.55h-2.62zM89.79 73.28h2.62v1.55h-2.62zM97.52 73.28h2.62v1.55h-2.62zM82.05 76.27h2.62v1.55h-2.62zM69.15 77.77h2.62v1.55h-2.62zM82.05 77.77h2.62v1.55h-2.62zM110.42 79.27h2.62v1.55h-2.62zM76.89 80.76h2.62v1.55h-2.62zM82.05 80.76h2.62v1.55h-2.62zM94.94 82.26h2.62v1.55h-2.62zM76.89 83.75h2.62v1.55h-2.62zM66.57 85.25h2.62v1.55h-2.62zM71.73 85.25h2.62v1.55h-2.62zM107.84 85.25h2.62v1.55h-2.62zM61.41 86.75h2.62v1.55h-2.62zM79.47 88.24h2.62v1.55h-2.62zM82.05 88.24h2.62v1.55h-2.62zM69.15 89.74h2.62v1.55h-2.62zM74.31 89.74h2.62v1.55h-2.62zM110.42 89.74h2.62v1.55h-2.62zM66.57 91.24h2.62v1.55h-2.62zM69.15 91.24h2.62v1.55h-2.62zM71.73 91.24h2.62v1.55h-2.62zM89.79 91.24h2.62v1.55h-2.62zM63.99 92.73h2.62v1.55h-2.62zM97.52 92.73h2.62v1.55h-2.62zM92.36 94.23h2.62v1.55h-2.62zM105.26 94.23h2.62v1.55h-2.62zM105.26 97.22h2.62v1.55h-2.62zM79.47 98.72h2.62v1.55h-2.62zM79.47 100.21h2.62v1.55h-2.62zM89.79 100.21h2.62v1.55h-2.62zM110.42 101.71h2.62v1.55h-2.62zM76.89 103.21h2.62v1.55h-2.62zM84.63 103.21h2.62v1.55h-2.62zM87.21 103.21h2.62v1.55h-2.62zM89.79 103.21h2.62v1.55h-2.62zM69.15 104.70h2.62v1.55h-2.62zM74.31 104.70h2.62v1.55h-2.62zM82.05 104.70h2.62v1.55h-2.62zM94.94 104.70h2.62v1.55h-2.62zM92.36 106.20h2.62v1.55h-2.62zM107.84 106.20h2.62v1.55h-2.62zM105.26 107.69h2.62v1.55h-2.62zM79.47 109.19h2.62v1.55h-2.62zM66.57 110.69h2.62v1.55h-2.62zM82.05 110.69h2.62v1.55h-2.62zM63.99 112.18h2.62v1.55h-2.62zM66.57 112.18h2.62v1.55h-2.62zM71.73 112.18h2.62v1.55h-2.62zM71.73 113.68h2.62v1.55h-2.62zM97.52 113.68h2.62v1.55h-2.62zM71.73 115.18h2.62v1.55h-2.62zM74.31 115.18h2.62v1.55h-2.62zM84.63 115.18h2.62v1.55h-2.62zM87.21 115.18h2.62v1.55h-2.62zM107.84 115.18h2.62v1.55h-2.62zM110.42 115.18h2.62v1.55h-2.62zM97.52 116.67h2.62v1.55h-2.62zM61.41 118.17h2.62v1.55h-2.62zM66.57 118.17h2.62v1.55h-2.62zM89.79 118.17h2.62v1.55h-2.62zM94.94 118.17h2.62v1.55h-2.62zM102.68 118.17h2.62v1.55h-2.62zM71.73 119.66h2.62v1.55h-2.62zM76.89 119.66h2.62v1.55h-2.62zM79.47 119.66h2.62v1.55h-2.62zM76.89 121.16h2.62v1.55h-2.62zM66.57 122.66h2.62v1.55h-2.62zM63.99 125.65h2.62v1.55h-2.62zM66.57 125.65h2.62v1.55h-2.62zM79.47 125.65h2.62v1.55h-2.62zM84.63 125.65h2.62v1.55h-2.62zM107.84 125.65h2.62v1.55h-2.62zM63.99 127.15h2.62v1.55h-2.62zM69.15 127.15h2.62v1.55h-2.62zM63.99 128.64h2.62v1.55h-2.62zM76.89 130.14h2.62v1.55h-2.62zM69.15 134.63h2.62v1.55h-2.62zM76.89 136.12h2.62v1.55h-2.62zM110.42 136.12h2.62v1.55h-2.62zM56.25 137.62h2.62v1.55h-2.62zM94.94 137.62h2.62v1.55h-2.62zM25.30 139.12h2.62v1.55h-2.62zM87.21 143.60h2.62v1.55h-2.62zM56.25 145.10h2.62v1.55h-2.62zM38.20 146.60h2.62v1.55h-2.62zM100.10 149.59h2.62v1.55h-2.62zM25.30 151.09h2.62v1.55h-2.62zM38.20 154.08h2.62v1.55h-2.62zM40.78 154.08h2.62v1.55h-2.62zM27.88 155.57h2.62v1.55h-2.62zM30.46 157.07h2.62v1.55h-2.62zM58.83 157.07h2.62v1.55h-2.62zM38.20 158.57h2.62v1.55h-2.62zM84.63 158.57h2.62v1.55h-2.62zM33.04 161.56h2.62v1.55h-2.62zM35.62 163.06h2.62v1.55h-2.62zM48.51 163.06h2.62v1.55h-2.62zM25.30 164.55h2.62v1.55h-2.62zM92.36 164.55h2.62v1.55h-2.62zM35.62 167.54h2.62v1.55h-2.62zM38.20 167.54h2.62v1.55h-2.62zM56.25 167.54h2.62v1.55h-2.62zM48.51 169.04h2.62v1.55h-2.62zM56.25 169.04h2.62v1.55h-2.62zM35.62 170.54h2.62v1.55h-2.62zM84.63 170.54h2.62v1.55h-2.62zM30.46 172.03h2.62v1.55h-2.62zM100.10 172.03h2.62v1.55h-2.62zM38.20 173.53h2.62v1.55h-2.62zM43.36 173.53h2.62v1.55h-2.62zM87.21 173.53h2.62v1.55h-2.62zM84.63 175.03h2.62v1.55h-2.62zM38.20 176.52h2.62v1.55h-2.62zM25.30 181.01h2.62v1.55h-2.62zM94.94 181.01h2.62v1.55h-2.62zM40.78 182.51h2.62v1.55h-2.62zM48.51 182.51h2.62v1.55h-2.62zM56.25 185.50h2.62v1.55h-2.62zM40.78 187.00h2.62v1.55h-2.62zM56.25 187.00h2.62v1.55h-2.62zM51.09 188.49h2.62v1.55h-2.62zM56.25 189.99h2.62v1.55h-2.62zM40.78 191.48h2.62v1.55h-2.62zM56.25 191.48h2.62v1.55h-2.62zM61.41 191.48h2.62v1.55h-2.62zM48.51 192.98h2.62v1.55h-2.62zM53.67 192.98h2.62v1.55h-2.62zM100.10 192.98h2.62v1.55h-2.62zM40.78 194.48h2.62v1.55h-2.62zM58.83 194.48h2.62v1.55h-2.62zM40.78 195.97h2.62v1.55h-2.62zM45.94 195.97h2.62v1.55h-2.62zM51.09 195.97h2.62v1.55h-2.62zM58.83 195.97h2.62v1.55h-2.62zM43.36 197.47h2.62v1.55h-2.62zM53.67 197.47h2.62v1.55h-2.62zM43.36 198.97h2.62v1.55h-2.62zM58.83 198.97h2.62v1.55h-2.62zM45.94 200.46h2.62v1.55h-2.62zM53.67 200.46h2.62v1.55h-2.62zM43.36 201.96h2.62v1.55h-2.62zM48.51 201.96h2.62v1.55h-2.62zM53.67 201.96h2.62v1.55h-2.62zM43.36 203.45h2.62v1.55h-2.62zM48.51 203.45h2.62v1.55h-2.62zM45.94 204.95h2.62v1.55h-2.62zM51.09 204.95h2.62v1.55h-2.62zM107.84 204.95h2.62v1.55h-2.62zM43.36 206.45h2.62v1.55h-2.62zM40.78 207.94h2.62v1.55h-2.62zM110.42 207.94h2.62v1.55h-2.62zM40.78 209.44h2.62v1.55h-2.62zM56.25 209.44h2.62v1.55h-2.62zM40.78 210.94h2.62v1.55h-2.62zM48.51 210.94h2.62v1.55h-2.62zM51.09 210.94h2.62v1.55h-2.62zM56.25 210.94h2.62v1.55h-2.62zM53.67 212.43h2.62v1.55h-2.62zM56.25 212.43h2.62v1.55h-2.62zM58.83 212.43h2.62v1.55h-2.62zM45.94 215.42h2.62v1.55h-2.62zM53.67 215.42h2.62v1.55h-2.62zM58.83 215.42h2.62v1.55h-2.62zM87.21 215.42h2.62v1.55h-2.62zM51.09 216.92h2.62v1.55h-2.62zM56.25 216.92h2.62v1.55h-2.62zM45.94 218.42h2.62v1.55h-2.62zM56.25 218.42h2.62v1.55h-2.62zM51.09 219.91h2.62v1.55h-2.62zM56.25 219.91h2.62v1.55h-2.62zM40.78 221.41h2.62v1.55h-2.62zM58.83 221.41h2.62v1.55h-2.62zM43.36 222.91h2.62v1.55h-2.62zM53.67 222.91h2.62v1.55h-2.62zM56.25 222.91h2.62v1.55h-2.62zM79.47 224.40h2.62v1.55h-2.62zM40.78 225.90h2.62v1.55h-2.62zM66.57 225.90h2.62v1.55h-2.62zM71.73 225.90h2.62v1.55h-2.62zM105.26 225.90h2.62v1.55h-2.62zM63.99 227.39h2.62v1.55h-2.62zM45.94 228.89h2.62v1.55h-2.62zM102.68 228.89h2.62v1.55h-2.62zM74.31 231.88h2.62v1.55h-2.62zM40.78 233.38h2.62v1.55h-2.62zM45.94 234.88h2.62v1.55h-2.62zM110.42 234.88h2.62v1.55h-2.62zM51.09 236.37h2.62v1.55h-2.62zM53.67 236.37h2.62v1.55h-2.62zM61.41 236.37h2.62v1.55h-2.62zM63.99 236.37h2.62v1.55h-2.62zM71.73 236.37h2.62v1.55h-2.62zM87.21 237.87h2.62v1.55h-2.62zM45.94 239.36h2.62v1.55h-2.62zM74.31 239.36h2.62v1.55h-2.62zM27.88 242.36h2.62v1.55h-2.62zM45.94 242.36h2.62v1.55h-2.62zM40.78 243.85h2.62v1.55h-2.62zM56.25 243.85h2.62v1.55h-2.62zM53.67 245.35h2.62v1.55h-2.62zM33.04 246.85h2.62v1.55h-2.62zM51.09 246.85h2.62v1.55h-2.62zM53.67 246.85h2.62v1.55h-2.62zM43.36 248.34h2.62v1.55h-2.62zM38.20 249.84h2.62v1.55h-2.62zM40.78 249.84h2.62v1.55h-2.62zM58.83 249.84h2.62v1.55h-2.62zM48.51 252.83h2.62v1.55h-2.62zM51.09 260.31h2.62v1.55h-2.62zM53.67 260.31h2.62v1.55h-2.62zM58.83 260.31h2.62v1.55h-2.62zM40.78 261.81h2.62v1.55h-2.62zM45.94 261.81h2.62v1.55h-2.62zM43.36 263.30h2.62v1.55h-2.62zM53.67 263.30h2.62v1.55h-2.62zM56.25 263.30h2.62v1.55h-2.62zM58.83 263.30h2.62v1.55h-2.62z"/>
<path fill="#fccccc" d="M74.31 25.40h2.62v1.55h-2.62zM94.94 25.40h2.62v1.55h-2.62zM63.99 26.90h2.62v1.55h-2.62zM76.89 26.90h2.62v1.55h-2.62zM71.73 28.39h2.62v1.55h-2.62zM79.47 28.39h2.62v1.55h-2.62zM87.21 28.39h2.62v1.55h-2.62zM89.79 29.89h2.62v1.55h-2.62zM100.10 29.89h2.62v1.55h-2.62zM63.99 31.38h2.62v1.55h-2.62zM74.31 31.38h2.62v1.55h-2.62zM89.79 31.38h2.62v1.55h-2.62zM100.10 31.38h2.62v1.55h-2.62zM71.73 32.88h2.62v1.55h-2.62zM76.89 32.88h2.62v1.55h-2.62zM84.63 32.88h2.62v1.55h-2.62zM89.79 32.88h2.62v1.55h-2.62zM66.57 34.38h2.62v1.55h-2.62zM110.42 34.38h2.62v1.55h-2.62zM100.10 35.87h2.62v1.55h-2.62zM89.79 37.37h2.62v1.55h-2.62zM84.63 38.87h2.62v1.55h-2.62zM94.94 38.87h2.62v1.55h-2.62zM102.68 38.87h2.62v1.55h-2.62zM107.84 38.87h2.62v1.55h-2.62zM79.47 40.36h2.62v1.55h-2.62zM105.26 40.36h2.62v1.55h-2.62zM69.15 41.86h2.62v1.55h-2.62zM92.36 41.86h2.62v1.55h-2.62zM71.73 43.36h2.62v1.55h-2.62zM100.10 43.36h2.62v1.55h-2.62zM102.68 43.36h2.62v1.55h-2.62zM71.73 44.85h2.62v1.55h-2.62zM79.47 44.85h2.62v1.55h-2.62zM71.73 46.35h2.62v1.55h-2.62zM84.63 46.35h2.62v1.55h-2.62zM92.36 46.35h2.62v1.55h-2.62zM97.52 46.35h2.62v1.55h-2.62zM69.15 47.84h2.62v1.55h-2.62zM107.84 47.84h2.62v1.55h-2.62zM71.73 49.34h2.62v1.55h-2.62zM105.26 49.34h2.62v1.55h-2.62zM107.84 49.34h2.62v1.55h-2.62zM69.15 50.84h2.62v1.55h-2.62zM74.31 50.84h2.62v1.55h-2.62zM76.89 50.84h2.62v1.55h-2.62zM100.10 50.84h2.62v1.55h-2.62zM105.26 50.84h2.62v1.55h-2.62zM76.89 52.33h2.62v1.55h-2.62zM82.05 52.33h2.62v1.55h-2.62zM92.36 53.83h2.62v1.55h-2.62zM61.41 55.33h2.62v1.55h-2.62zM110.42 55.33h2.62v1.55h-2.62zM63.99 58.32h2.62v1.55h-2.62zM107.84 58.32h2.62v1.55h-2.62zM84.63 59.81h2.62v1.55h-2.62zM89.79 59.81h2.62v1.55h-2.62zM94.94 59.81h2.62v1.55h-2.62zM97.52 59.81h2.62v1.55h-2.62zM82.05 61.31h2.62v1.55h-2.62zM84.63 61.31h2.62v1.55h-2.62zM92.36 61.31h2.62v1.55h-2.62zM100.10 61.31h2.62v1.55h-2.62zM74.31 62.81h2.62v1.55h-2.62zM92.36 62.81h2.62v1.55h-2.62zM94.94 62.81h2.62v1.55h-2.62zM100.10 62.81h2.62v1.55h-2.62zM63.99 64.30h2.62v1.55h-2.62zM69.15 64.30h2.62v1.55h-2.62zM89.79 67.30h2.62v1.55h-2.62zM110.42 67.30h2.62v1.55h-2.62zM61.41 68.79h2.62v1.55h-2.62zM84.63 68.79h2.62v1.55h-2.62zM66.57 70.29h2.62v1.55h-2.62zM84.63 70.29h2.62v1.55h-2.62zM97.52 70.29h2.62v1.55h-2.62zM110.42 70.29h2.62v1.55h-2.62zM69.15 71.78h2.62v1.55h-2.62zM110.42 71.78h2.62v1.55h-2.62zM87.21 73.28h2.62v1.55h-2.62zM71.73 74.78h2.62v1.55h-2.62zM74.31 74.78h2.62v1.55h-2.62zM87.21 74.78h2.62v1.55h-2.62zM89.79 74.78h2.62v1.55h-2.62zM71.73 76.27h2.62v1.55h-2.62zM74.31 76.27h2.62v1.55h-2.62zM97.52 76.27h2.62v1.55h-2.62zM84.63 77.77h2.62v1.55h-2.62zM84.63 79.27h2.62v1.55h-2.62zM92.36 79.27h2.62v1.55h-2.62zM89.79 80.76h2.62v1.55h-2.62zM107.84 80.76h2.62v1.55h-2.62zM92.36 82.26h2.62v1.55h-2.62zM61.41 83.75h2.62v1.55h-2.62zM82.05 83.75h2.62v1.55h-2.62zM94.94 83.75h2.62v1.55h-2.62zM107.84 83.75h2.62v1.55h-2.62zM63.99 85.25h2.62v1.55h-2.62zM82.05 85.25h2.62v1.55h-2.62zM84.63 85.25h2.62v1.55h-2.62zM74.31 86.75h2.62v1.55h-2.62zM79.47 86.75h2.62v1.55h-2.62zM100.10 86.75h2.62v1.55h-2.62zM66.57 88.24h2.62v1.55h-2.62zM71.73 89.74h2.62v1.55h-2.62zM76.89 89.74h2.62v1.55h-2.62zM79.47 89.74h2.62v1.55h-2.62zM97.52 89.74h2.62v1.55h-2.62zM102.68 89.74h2.62v1.55h-2.62zM61.41 91.24h2.62v1.55h-2.62zM74.31 91.24h2.62v1.55h-2.62zM87.21 91.24h2.62v1.55h-2.62zM100.10 91.24h2.62v1.55h-2.62zM61.41 92.73h2.62v1.55h-2.62zM82.05 92.73h2.62v1.55h-2.62zM71.73 94.23h2.62v1.55h-2.62zM79.47 94.23h2.62v1.55h-2.62zM100.10 94.23h2.62v1.55h-2.62zM110.42 94.23h2.62v1.55h-2.62zM76.89 95.72h2.62v1.55h-2.62zM89.79 95.72h2.62v1.55h-2.62zM92.36 95.72h2.62v1.55h-2.62zM107.84 97.22h2.62v1.55h-2.62zM84.63 98.72h2.62v1.55h-2.62zM105.26 98.72h2.62v1.55h-2.62zM61.41 100.21h2.62v1.55h-2.62zM71.73 100.21h2.62v1.55h-2.62zM84.63 100.21h2.62v1.55h-2.62zM71.73 103.21h2.62v1.55h-2.62zM76.89 104.70h2.62v1.55h-2.62zM87.21 104.70h2.62v1.55h-2.62zM97.52 104.70h2.62v1.55h-2.62zM69.15 106.20h2.62v1.55h-2.62zM84.63 106.20h2.62v1.55h-2.62zM87.21 106.20h2.62v1.55h-2.62zM89.79 106.20h2.62v1.55h-2.62zM105.26 106.20h2.62v1.55h-2.62zM87.21 107.69h2.62v1.55h-2.62zM92.36 107.69h2.62v1.55h-2.62zM82.05 109.19h2.62v1.55h-2.62zM89.79 109.19h2.62v1.55h-2.62zM107.84 109.19h2.62v1.55h-2.62zM110.42 109.19h2.62v1.55h-2.62zM61.41 110.69h2.62v1.55h-2.62zM71.73 110.69h2.62v1.55h-2.62zM76.89 110.69h2.62v1.55h-2.62zM61.41 112.18h2.62v1.55h-2.62zM79.47 112.18h2.62v1.55h-2.62zM82.05 112.18h2.62v1.55h-2.62zM84.63 112.18h2.62v1.55h-2.62zM107.84 112.18h2.62v1.55h-2.62zM61.41 113.68h2.62v1.55h-2.62zM105.26 113.68h2.62v1.55h-2.62zM94.94 115.18h2.62v1.55h-2.62zM76.89 116.67h2.62v1.55h-2.62zM92.36 116.67h2.62v1.55h-2.62zM105.26 116.67h2.62v1.55h-2.62zM71.73 118.17h2.62v1.55h-2.62zM76.89 118.17h2.62v1.55h-2.62zM82.05 118.17h2.62v1.55h-2.62zM105.26 118.17h2.62v1.55h-2.62zM110.42 118.17h2.62v1.55h-2.62zM66.57 119.66h2.62v1.55h-2.62zM84.63 119.66h2.62v1.55h-2.62zM87.21 119.66h2.62v1.55h-2.62zM105.26 119.66h2.62v1.55h-2.62zM63.99 121.16h2.62v1.55h-2.62zM69.15 121.16h2.62v1.55h-2.62zM71.73 121.16h2.62v1.55h-2.62zM82.05 121.16h2.62v1.55h-2.62zM87.21 121.16h2.62v1.55h-2.62zM79.47 122.66h2.62v1.55h-2.62zM94.94 122.66h2.62v1.55h-2.62zM71.73 124.15h2.62v1.55h-2.62zM74.31 124.15h2.62v1.55h-2.62zM82.05 124.15h2.62v1.55h-2.62zM100.10 124.15h2.62v1.55h-2.62zM105.26 124.15h2.62v1.55h-2.62zM110.42 124.15h2.62v1.55h-2.62zM61.41 125.65h2.62v1.55h-2.62zM76.89 125.65h2.62v1.55h-2.62zM97.52 125.65h2.62v1.55h-2.62zM110.42 125.65h2.62v1.55h-2.62zM84.63 127.15h2.62v1.55h-2.62zM61.41 128.64h2.62v1.55h-2.62zM66.57 128.64h2.62v1.55h-2.62zM71.73 128.64h2.62v1.55h-2.62zM38.20 130.14h2.62v1.55h-2.62zM71.73 130.14h2.62v1.55h-2.62zM58.83 133.13h2.62v1.55h-2.62zM63.99 133.13h2.62v1.55h-2.62zM100.10 134.63h2.62v1.55h-2.62zM71.73 136.12h2.62v1.55h-2.62zM105.26 139.12h2.62v1.55h-2.62zM61.41 140.61h2.62v1.55h-2.62zM71.73 140.61h2.62v1.55h-2.62zM79.47 140.61h2.62v1.55h-2.62zM82.05 143.60h2.62v1.55h-2.62zM35.62 146.60h2.62v1.55h-2.62zM51.09 146.60h2.62v1.55h-2.62zM25.30 148.09h2.62v1.55h-2.62zM40.78 148.09h2.62v1.55h-2.62zM45.94 149.59h2.62v1.55h-2.62zM56.25 149.59h2.62v1.55h-2.62zM87.21 151.09h2.62v1.55h-2.62zM33.04 154.08h2.62v1.55h-2.62zM33.04 157.07h2.62v1.55h-2.62zM40.78 157.07h2.62v1.55h-2.62zM56.25 157.07h2.62v1.55h-2.62zM43.36 160.06h2.62v1.55h-2.62zM27.88 163.06h2.62v1.55h-2.62zM35.62 166.05h2.62v1.55h-2.62zM87.21 166.05h2.62v1.55h-2.62zM27.88 169.04h2.62v1.55h-2.62zM35.62 169.04h2.62v1.55h-2.62zM53.67 169.04h2.62v1.55h-2.62zM58.83 169.04h2.62v1.55h-2.62zM25.30 172.03h2.62v1.55h-2.62zM35.62 172.03h2.62v1.55h-2.62zM40.78 172.03h2.62v1.55h-2.62zM43.36 172.03h2.62v1.55h-2.62zM97.52 172.03h2.62v1.55h-2.62zM40.78 173.53h2.62v1.55h-2.62zM48.51 173.53h2.62v1.55h-2.62zM56.25 173.53h2.62v1.55h-2.62zM102.68 175.03h2.62v1.55h-2.62zM40.78 176.52h2.62v1.55h-2.62zM45.94 176.52h2.62v1.55h-2.62zM30.46 181.01h2.62v1.55h-2.62zM43.36 182.51h2.62v1.55h-2.62zM53.67 182.51h2.62v1.55h-2.62zM58.83 182.51h2.62v1.55h-2.62zM43.36 184.00h2.62v1.55h-2.62zM53.67 184.00h2.62v1.55h-2.62zM58.83 184.00h2.62v1.55h-2.62zM92.36 184.00h2.62v1.55h-2.62zM110.42 184.00h2.62v1.55h-2.62zM58.83 187.00h2.62v1.55h-2.62zM56.25 188.49h2.62v1.55h-2.62zM58.83 188.49h2.62v1.55h-2.62zM40.78 189.99h2.62v1.55h-2.62zM43.36 189.99h2.62v1.55h-2.62zM58.83 189.99h2.62v1.55h-2.62zM51.09 191.48h2.62v1.55h-2.62zM53.67 191.48h2.62v1.55h-2.62zM107.84 191.48h2.62v1.55h-2.62zM40.78 192.98h2.62v1.55h-2.62zM51.09 192.98h2.62v1.55h-2.62zM45.94 194.48h2.62v1.55h-2.62zM51.09 194.48h2.62v1.55h-2.62zM56.25 195.97h2.62v1.55h-2.62zM94.94 197.47h2.62v1.55h-2.62zM56.25 198.97h2.62v1.55h-2.62zM56.25 200.46h2.62v1.55h-2.62zM40.78 201.96h2.62v1.55h-2.62zM53.67 203.45h2.62v1.55h-2.62zM94.94 204.95h2.62v1.55h-2.62zM45.94 206.45h2.62v1.55h-2.62zM53.67 206.45h2.62v1.55h-2.62zM58.83 206.45h2.62v1.55h-2.62zM45.94 207.94h2.62v1.55h-2.62zM53.67 209.44h2.62v1.55h-2.62zM74.31 209.44h2.62v1.55h-2.62zM82.05 209.44h2.62v1.55h-2.62zM100.10 209.44h2.62v1.55h-2.62zM53.67 210.94h2.62v1.55h-2.62zM58.83 210.94h2.62v1.55h-2.62zM51.09 212.43h2.62v1.55h-2.62zM92.36 213.93h2.62v1.55h-2.62zM48.51 218.42h2.62v1.55h-2.62zM58.83 218.42h2.62v1.55h-2.62zM43.36 224.40h2.62v1.55h-2.62zM58.83 224.40h2.62v1.55h-2.62zM51.09 225.90h2.62v1.55h-2.62zM53.67 225.90h2.62v1.55h-2.62zM56.25 225.90h2.62v1.55h-2.62zM79.47 227.39h2.62v1.55h-2.62zM84.63 227.39h2.62v1.55h-2.62zM53.67 228.89h2.62v1.55h-2.62zM79.47 228.89h2.62v1.55h-2.62zM107.84 228.89h2.62v1.55h-2.62zM110.42 228.89h2.62v1.55h-2.62zM74.31 230.39h2.62v1.55h-2.62zM97.52 230.39h2.62v1.55h-2.62zM105.26 230.39h2.62v1.55h-2.62zM89.79 231.88h2.62v1.55h-2.62zM53.67 233.38h2.62v1.55h-2.62zM74.31 233.38h2.62v1.55h-2.62zM100.10 233.38h2.62v1.55h-2.62zM79.47 234.88h2.62v1.55h-2.62zM56.25 236.37h2.62v1.55h-2.62zM79.47 236.37h2.62v1.55h-2.62zM94.94 236.37h2.62v1.55h-2.62zM97.52 236.37h2.62v1.55h-2.62zM51.09 237.87h2.62v1.55h-2.62zM107.84 237.87h2.62v1.55h-2.62zM51.09 239.36h2.62v1.55h-2.62zM40.78 240.86h2.62v1.55h-2.62zM43.36 240.86h2.62v1.55h-2.62zM56.25 240.86h2.62v1.55h-2.62zM97.52 242.36h2.62v1.55h-2.62zM48.51 243.85h2.62v1.55h-2.62zM58.83 243.85h2.62v1.55h-2.62zM58.83 248.34h2.62v1.55h-2.62zM45.94 249.84h2.62v1.55h-2.62zM53.67 251.33h2.62v1.55h-2.62zM58.83 252.83h2.62v1.55h-2.62zM27.88 255.82h2.62v1.55h-2.62zM51.09 255.82h2.62v1.55h-2.62zM51.09 258.81h2.62v1.55h-2.62zM35.62 261.81h2.62v1.55h-2.62zM48.51 261.81h2.62v1.55h-2.62zM58.83 261.81h2.62v1.55h-2.62zM110.42 261.81h2.62v1.55h-2.62z"/>
<path fill="#fcd8d8" d="M84.63 25.40h2.62v1.55h-2.62zM61.41 28.39h2.62v1.55h-2.62zM76.89 28.39h2.62v1.55h-2.62zM92.36 28.39h2.62v1.55h-2.62zM102.68 28.39h2.62v1.55h-2.62zM107.84 28.39h2.62v1.55h-2.62zM110.42 28.39h2.62v1.55h-2.62zM74.31 29.89h2.62v1.55h-2.62zM105.26 29.89h2.62v1.55h-2.62zM71.73 31.38h2.62v1.55h-2.62zM76.89 31.38h2.62v1.55h-2.62zM79.47 31.38h2.62v1.55h-2.62zM92.36 31.38h2.62v1.55h-2.62zM94.94 31.38h2.62v1.55h-2.62zM107.84 31.38h2.62v1.55h-2.62zM66.57 32.88h2.62v1.55h-2.62zM105.26 32.88h2.62v1.55h-2.62zM63.99 34.38h2.62v1.55h-2.62zM100.10 34.38h2.62v1.55h-2.62zM102.68 34.38h2.62v1.55h-2.62zM69.15 35.87h2.62v1.55h-2.62zM79.47 35.87h2.62v1.55h-2.62zM82.05 35.87h2.62v1.55h-2.62zM84.63 35.87h2.62v1.55h-2.62zM97.52 35.87h2.62v1.55h-2.62zM61.41 37.37h2.62v1.55h-2.62zM69.15 37.37h2.62v1.55h-2.62zM105.26 37.37h2.62v1.55h-2.62zM69.15 38.87h2.62v1.55h-2.62zM79.47 38.87h2.62v1.55h-2.62zM89.79 38.87h2.62v1.55h-2.62zM92.36 38.87h2.62v1.55h-2.62zM97.52 38.87h2.62v1.55h-2.62zM71.73 40.36h2.62v1.55h-2.62zM74.31 40.36h2.62v1.55h-2.62zM84.63 40.36h2.62v1.55h-2.62zM92.36 40.36h2.62v1.55h-2.62zM63.99 41.86h2.62v1.55h-2.62zM66.57 41.86h2.62v1.55h-2.62zM71.73 41.86h2.62v1.55h-2.62zM79.47 41.86h2.62v1.55h-2.62zM107.84 41.86h2.62v1.55h-2.62zM74.31 43.36h2.62v1.55h-2.62zM110.42 43.36h2.62v1.55h-2.62zM61.41 44.85h2.62v1.55h-2.62zM76.89 44.85h2.62v1.55h-2.62zM82.05 44.85h2.62v1.55h-2.62zM89.79 44.85h2.62v1.55h-2.62zM92.36 44.85h2.62v1.55h-2.62zM94.94 44.85h2.62v1.55h-2.62zM97.52 44.85h2.62v1.55h-2.62zM102.68 44.85h2.62v1.55h-2.62zM79.47 46.35h2.62v1.55h-2.62zM87.21 46.35h2.62v1.55h-2.62zM94.94 46.35h2.62v1.55h-2.62zM110.42 46.35h2.62v1.55h-2.62zM79.47 47.84h2.62v1.55h-2.62zM87.21 47.84h2.62v1.55h-2.62zM89.79 47.84h2.62v1.55h-2.62zM110.42 47.84h2.62v1.55h-2.62zM69.15 49.34h2.62v1.55h-2.62zM94.94 49.34h2.62v1.55h-2.62zM100.10 49.34h2.62v1.55h-2.62zM63.99 50.84h2.62v1.55h-2.62zM71.73 50.84h2.62v1.55h-2.62zM69.15 52.33h2.62v1.55h-2.62zM79.47 52.33h2.62v1.55h-2.62zM94.94 52.33h2.62v1.55h-2.62zM97.52 52.33h2.62v1.55h-2.62zM105.26 52.33h2.62v1.55h-2.62zM110.42 52.33h2.62v1.55h-2.62zM71.73 53.83h2.62v1.55h-2.62zM79.47 53.83h2.62v1.55h-2.62zM105.26 53.83h2.62v1.55h-2.62zM110.42 53.83h2.62v1.55h-2.62zM63.99 55.33h2.62v1.55h-2.62zM71.73 55.33h2.62v1.55h-2.62zM74.31 55.33h2.62v1.55h-2.62zM105.26 55.33h2.62v1.55h-2.62zM82.05 56.82h2.62v1.55h-2.62zM89.79 56.82h2.62v1.55h-2.62zM92.36 56.82h2.62v1.55h-2.62zM94.94 56.82h2.62v1.55h-2.62zM100.10 56.82h2.62v1.55h-2.62zM102.68 56.82h2.62v1.55h-2.62zM66.57 58.32h2.62v1.55h-2.62zM69.15 58.32h2.62v1.55h-2.62zM71.73 58.32h2.62v1.55h-2.62zM74.31 58.32h2.62v1.55h-2.62zM89.79 58.32h2.62v1.55h-2.62zM105.26 58.32h2.62v1.55h-2.62zM25.30 59.81h2.62v1.55h-2.62zM79.47 59.81h2.62v1.55h-2.62zM87.21 59.81h2.62v1.55h-2.62zM110.42 59.81h2.62v1.55h-2.62zM61.41 61.31h2.62v1.55h-2.62zM71.73 61.31h2.62v1.55h-2.62zM76.89 61.31h2.62v1.55h-2.62zM97.52 61.31h2.62v1.55h-2.62zM102.68 61.31h2.62v1.55h-2.62zM107.84 61.31h2.62v1.55h-2.62zM66.57 62.81h2.62v1.55h-2.62zM82.05 62.81h2.62v1.55h-2.62zM89.79 62.81h2.62v1.55h-2.62zM97.52 62.81h2.62v1.55h-2.62zM105.26 62.81h2.62v1.55h-2.62zM61.41 64.30h2.62v1.55h-2.62zM84.63 64.30h2.62v1.55h-2.62zM92.36 64.30h2.62v1.55h-2.62zM110.42 64.30h2.62v1.55h-2.62zM79.47 65.80h2.62v1.55h-2.62zM110.42 65.80h2.62v1.55h-2.62zM66.57 67.30h2.62v1.55h-2.62zM82.05 67.30h2.62v1.55h-2.62zM87.21 67.30h2.62v1.55h-2.62zM105.26 67.30h2.62v1.55h-2.62zM107.84 67.30h2.62v1.55h-2.62zM63.99 68.79h2.62v1.55h-2.62zM74.31 68.79h2.62v1.55h-2.62zM89.79 68.79h2.62v1.55h-2.62zM63.99 70.29h2.62v1.55h-2.62zM74.31 70.29h2.62v1.55h-2.62zM87.21 70.29h2.62v1.55h-2.62zM94.94 70.29h2.62v1.55h-2.62zM100.10 70.29h2.62v1.55h-2.62zM61.41 71.78h2.62v1.55h-2.62zM63.99 71.78h2.62v1.55h-2.62zM105.26 71.78h2.62v1.55h-2.62zM63.99 73.28h2.62v1.55h-2.62zM69.15 73.28h2.62v1.55h-2.62zM71.73 73.28h2.62v1.55h-2.62zM82.05 73.28h2.62v1.55h-2.62zM100.10 73.28h2.62v1.55h-2.62zM69.15 74.78h2.62v1.55h-2.62zM97.52 74.78h2.62v1.55h-2.62zM79.47 76.27h2.62v1.55h-2.62zM87.21 76.27h2.62v1.55h-2.62zM89.79 76.27h2.62v1.55h-2.62zM79.47 77.77h2.62v1.55h-2.62zM87.21 77.77h2.62v1.55h-2.62zM100.10 77.77h2.62v1.55h-2.62zM107.84 77.77h2.62v1.55h-2.62zM61.41 79.27h2.62v1.55h-2.62zM74.31 79.27h2.62v1.55h-2.62zM79.47 79.27h2.62v1.55h-2.62zM61.41 80.76h2.62v1.55h-2.62zM63.99 80.76h2.62v1.55h-2.62zM84.63 80.76h2.62v1.55h-2.62zM97.52 80.76h2.62v1.55h-2.62zM105.26 80.76h2.62v1.55h-2.62zM61.41 82.26h2.62v1.55h-2.62zM82.05 82.26h2.62v1.55h-2.62zM87.21 82.26h2.62v1.55h-2.62zM89.79 82.26h2.62v1.55h-2.62zM97.52 82.26h2.62v1.55h-2.62zM102.68 82.26h2.62v1.55h-2.62zM107.84 82.26h2.62v1.55h-2.62zM71.73 83.75h2.62v1.55h-2.62zM79.47 83.75h2.62v1.55h-2.62zM61.41 85.25h2.62v1.55h-2.62zM69.15 85.25h2.62v1.55h-2.62zM87.21 85.25h2.62v1.55h-2.62zM63.99 86.75h2.62v1.55h-2.62zM66.57 86.75h2.62v1.55h-2.62zM69.15 86.75h2.62v1.55h-2.62zM71.73 86.75h2.62v1.55h-2.62zM87.21 86.75h2.62v1.55h-2.62zM69.15 88.24h2.62v1.55h-2.62zM76.89 88.24h2.62v1.55h-2.62zM89.79 88.24h2.62v1.55h-2.62zM92.36 88.24h2.62v1.55h-2.62zM63.99 89.74h2.62v1.55h-2.62zM89.79 89.74h2.62v1.55h-2.62zM92.36 89.74h2.62v1.55h-2.62zM100.10 89.74h2.62v1.55h-2.62zM105.26 89.74h2.62v1.55h-2.62zM105.26 91.24h2.62v1.55h-2.62zM94.94 92.73h2.62v1.55h-2.62zM84.63 94.23h2.62v1.55h-2.62zM89.79 94.23h2.62v1.55h-2.62zM107.84 94.23h2.62v1.55h-2.62zM61.41 95.72h2.62v1.55h-2.62zM63.99 95.72h2.62v1.55h-2.62zM74.31 95.72h2.62v1.55h-2.62zM82.05 95.72h2.62v1.55h-2.62zM102.68 95.72h2.62v1.55h-2.62zM82.05 97.22h2.62v1.55h-2.62zM89.79 97.22h2.62v1.55h-2.62zM110.42 97.22h2.62v1.55h-2.62zM63.99 98.72h2.62v1.55h-2.62zM82.05 98.72h2.62v1.55h-2.62zM110.42 98.72h2.62v1.55h-2.62zM82.05 100.21h2.62v1.55h-2.62zM102.68 100.21h2.62v1.55h-2.62zM63.99 101.71h2.62v1.55h-2.62zM79.47 101.71h2.62v1.55h-2.62zM87.21 101.71h2.62v1.55h-2.62zM89.79 101.71h2.62v1.55h-2.62zM82.05 103.21h2.62v1.55h-2.62zM100.10 103.21h2.62v1.55h-2.62zM110.42 103.21h2.62v1.55h-2.62zM66.57 104.70h2.62v1.55h-2.62zM79.47 104.70h2.62v1.55h-2.62zM89.79 104.70h2.62v1.55h-2.62zM100.10 104.70h2.62v1.55h-2.62zM71.73 106.20h2.62v1.55h-2.62zM61.41 107.69h2.62v1.55h-2.62zM94.94 107.69h2.62v1.55h-2.62zM100.10 107.69h2.62v1.55h-2.62zM74.31 109.19h2.62v1.55h-2.62zM76.89 109.19h2.62v1.55h-2.62zM94.94 109.19h2.62v1.55h-2.62zM74.31 110.69h2.62v1.55h-2.62zM84.63 110.69h2.62v1.55h-2.62zM94.94 110.69h2.62v1.55h-2.62zM89.79 112.18h2.62v1.55h-2.62zM97.52 112.18h2.62v1.55h-2.62zM105.26 112.18h2.62v1.55h-2.62zM69.15 113.68h2.62v1.55h-2.62zM74.31 113.68h2.62v1.55h-2.62zM76.89 113.68h2.62v1.55h-2.62zM110.42 113.68h2.62v1.55h-2.62zM63.99 115.18h2.62v1.55h-2.62zM66.57 115.18h2.62v1.55h-2.62zM82.05 115.18h2.62v1.55h-2.62zM87.21 116.67h2.62v1.55h-2.62zM100.10 116.67h2.62v1.55h-2.62zM102.68 116.67h2.62v1.55h-2.62zM110.42 116.67h2.62v1.55h-2.62zM63.99 118.17h2.62v1.55h-2.62zM107.84 118.17h2.62v1.55h-2.62zM69.15 119.66h2.62v1.55h-2.62zM89.79 119.66h2.62v1.55h-2.62zM94.94 119.66h2.62v1.55h-2.62zM97.52 119.66h2.62v1.55h-2.62zM66.57 121.16h2.62v1.55h-2.62zM74.31 121.16h2.62v1.55h-2.62zM79.47 121.16h2.62v1.55h-2.62zM84.63 121.16h2.62v1.55h-2.62zM102.68 121.16h2.62v1.55h-2.62zM110.42 121.16h2.62v1.55h-2.62zM63.99 122.66h2.62v1.55h-2.62zM69.15 122.66h2.62v1.55h-2.62zM74.31 122.66h2.62v1.55h-2.62zM84.63 122.66h2.62v1.55h-2.62zM69.15 124.15h2.62v1.55h-2.62zM79.47 124.15h2.62v1.55h-2.62zM92.36 124.15h2.62v1.55h-2.62zM94.94 124.15h2.62v1.55h-2.62zM97.52 124.15h2.62v1.55h-2.62zM102.68 124.15h2.62v1.55h-2.62zM87.21 125.65h2.62v1.55h-2.62zM89.79 125.65h2.62v1.55h-2.62zM92.36 125.65h2.62v1.55h-2.62zM82.05 127.15h2.62v1.55h-2.62zM92.36 127.15h2.62v1.55h-2.62zM97.52 127.15h2.62v1.55h-2.62zM105.26 127.15h2.62v1.55h-2.62zM107.84 127.15h2.62v1.55h-2.62zM69.15 128.64h2.62v1.55h-2.62zM84.63 128.64h2.62v1.55h-2.62zM97.52 128.64h2.62v1.55h-2.62zM100.10 128.64h2.62v1.55h-2.62zM107.84 128.64h2.62v1.55h-2.62zM56.25 130.14h2.62v1.55h-2.62zM92.36 130.14h2.62v1.55h-2.62zM97.52 130.14h2.62v1.55h-2.62zM66.57 131.63h2.62v1.55h-2.62zM84.63 131.63h2.62v1.55h-2.62zM87.21 131.63h2.62v1.55h-2.62zM110.42 133.13h2.62v1.55h-2.62zM66.57 134.63h2.62v1.55h-2.62zM76.89 134.63h2.62v1.55h-2.62zM94.94 136.12h2.62v1.55h-2.62zM79.47 137.62h2.62v1.55h-2.62zM82.05 137.62h2.62v1.55h-2.62zM27.88 139.12h2.62v1.55h-2.62zM74.31 139.12h2.62v1.55h-2.62zM76.89 139.12h2.62v1.55h-2.62zM79.47 139.12h2.62v1.55h-2.62zM82.05 140.61h2.62v1.55h-2.62zM87.21 140.61h2.62v1.55h-2.62zM102.68 140.61h2.62v1.55h-2.62zM56.25 142.11h2.62v1.55h-2.62zM66.57 142.11h2.62v1.55h-2.62zM71.73 142.11h2.62v1.55h-2.62zM79.47 142.11h2.62v1.55h-2.62zM87.21 142.11h2.62v1.55h-2.62zM100.10 142.11h2.62v1.55h-2.62zM33.04 145.10h2.62v1.55h-2.62zM76.89 145.10h2.62v1.55h-2.62zM40.78 146.60h2.62v1.55h-2.62zM110.42 146.60h2.62v1.55h-2.62zM45.94 148.09h2.62v1.55h-2.62zM92.36 148.09h2.62v1.55h-2.62zM27.88 149.59h2.62v1.55h-2.62zM92.36 149.59h2.62v1.55h-2.62zM48.51 151.09h2.62v1.55h-2.62zM74.31 152.58h2.62v1.55h-2.62zM76.89 152.58h2.62v1.55h-2.62zM53.67 154.08h2.62v1.55h-2.62zM97.52 154.08h2.62v1.55h-2.62zM110.42 154.08h2.62v1.55h-2.62zM58.83 155.57h2.62v1.55h-2.62zM107.84 157.07h2.62v1.55h-2.62zM66.57 158.57h2.62v1.55h-2.62zM25.30 160.06h2.62v1.55h-2.62zM45.94 160.06h2.62v1.55h-2.62zM66.57 160.06h2.62v1.55h-2.62zM92.36 160.06h2.62v1.55h-2.62zM27.88 161.56h2.62v1.55h-2.62zM40.78 161.56h2.62v1.55h-2.62zM58.83 161.56h2.62v1.55h-2.62zM84.63 161.56h2.62v1.55h-2.62zM30.46 164.55h2.62v1.55h-2.62zM79.47 164.55h2.62v1.55h-2.62zM25.30 166.05h2.62v1.55h-2.62zM27.88 166.05h2.62v1.55h-2.62zM58.83 166.05h2.62v1.55h-2.62zM48.51 167.54h2.62v1.55h-2.62zM92.36 167.54h2.62v1.55h-2.62zM100.10 167.54h2.62v1.55h-2.62zM45.94 170.54h2.62v1.55h-2.62zM58.83 170.54h2.62v1.55h-2.62zM79.47 173.53h2.62v1.55h-2.62zM53.67 176.52h2.62v1.55h-2.62zM56.25 176.52h2.62v1.55h-2.62zM76.89 176.52h2.62v1.55h-2.62zM82.05 178.02h2.62v1.55h-2.62zM27.88 179.51h2.62v1.55h-2.62zM63.99 179.51h2.62v1.55h-2.62zM35.62 181.01h2.62v1.55h-2.62zM56.25 182.51h2.62v1.55h-2.62zM71.73 182.51h2.62v1.55h-2.62zM105.26 182.51h2.62v1.55h-2.62zM40.78 184.00h2.62v1.55h-2.62zM82.05 184.00h2.62v1.55h-2.62zM87.21 184.00h2.62v1.55h-2.62zM71.73 185.50h2.62v1.55h-2.62zM71.73 188.49h2.62v1.55h-2.62zM107.84 188.49h2.62v1.55h-2.62zM110.42 191.48h2.62v1.55h-2.62zM45.94 192.98h2.62v1.55h-2.62zM43.36 194.48h2.62v1.55h-2.62zM56.25 194.48h2.62v1.55h-2.62zM97.52 195.97h2.62v1.55h-2.62zM48.51 197.47h2.62v1.55h-2.62zM58.83 197.47h2.62v1.55h-2.62zM97.52 197.47h2.62v1.55h-2.62zM40.78 198.97h2.62v1.55h-2.62zM48.51 198.97h2.62v1.55h-2.62zM48.51 200.46h2.62v1.55h-2.62zM94.94 200.46h2.62v1.55h-2.62zM66.57 201.96h2.62v1.55h-2.62zM94.94 201.96h2.62v1.55h-2.62zM82.05 203.45h2.62v1.55h-2.62zM48.51 206.45h2.62v1.55h-2.62zM107.84 206.45h2.62v1.55h-2.62zM76.89 209.44h2.62v1.55h-2.62zM43.36 210.94h2.62v1.55h-2.62zM76.89 210.94h2.62v1.55h-2.62zM100.10 210.94h2.62v1.55h-2.62zM43.36 213.93h2.62v1.55h-2.62zM82.05 213.93h2.62v1.55h-2.62zM40.78 215.42h2.62v1.55h-2.62zM43.36 215.42h2.62v1.55h-2.62zM63.99 215.42h2.62v1.55h-2.62zM89.79 215.42h2.62v1.55h-2.62zM45.94 216.92h2.62v1.55h-2.62zM110.42 216.92h2.62v1.55h-2.62zM84.63 218.42h2.62v1.55h-2.62zM97.52 218.42h2.62v1.55h-2.62zM43.36 219.91h2.62v1.55h-2.62zM53.67 219.91h2.62v1.55h-2.62zM66.57 219.91h2.62v1.55h-2.62zM56.25 221.41h2.62v1.55h-2.62zM45.94 224.40h2.62v1.55h-2.62zM48.51 224.40h2.62v1.55h-2.62zM82.05 224.40h2.62v1.55h-2.62zM92.36 224.40h2.62v1.55h-2.62zM102.68 224.40h2.62v1.55h-2.62zM105.26 224.40h2.62v1.55h-2.62zM58.83 225.90h2.62v1.55h-2.62zM84.63 225.90h2.62v1.55h-2.62zM89.79 225.90h2.62v1.55h-2.62zM94.94 225.90h2.62v1.55h-2.62zM110.42 225.90h2.62v1.55h-2.62zM40.78 227.39h2.62v1.55h-2.62zM43.36 227.39h2.62v1.55h-2.62zM45.94 227.39h2.62v1.55h-2.62zM61.41 227.39h2.62v1.55h-2.62zM76.89 227.39h2.62v1.55h-2.62zM87.21 227.39h2.62v1.55h-2.62zM92.36 227.39h2.62v1.55h-2.62zM94.94 227.39h2.62v1.55h-2.62zM102.68 227.39h2.62v1.55h-2.62zM61.41 228.89h2.62v1.55h-2.62zM92.36 228.89h2.62v1.55h-2.62zM97.52 228.89h2.62v1.55h-2.62zM105.26 228.89h2.62v1.55h-2.62zM43.36 230.39h2.62v1.55h-2.62zM56.25 230.39h2.62v1.55h-2.62zM82.05 230.39h2.62v1.55h-2.62zM94.94 230.39h2.62v1.55h-2.62zM102.68 230.39h2.62v1.55h-2.62zM107.84 230.39h2.62v1.55h-2.62zM45.94 231.88h2.62v1.55h-2.62zM51.09 231.88h2.62v1.55h-2.62zM56.25 231.88h2.62v1.55h-2.62zM58.83 231.88h2.62v1.55h-2.62zM84.63 231.88h2.62v1.55h-2.62zM58.83 233.38h2.62v1.55h-2.62zM89.79 233.38h2.62v1.55h-2.62zM92.36 233.38h2.62v1.55h-2.62zM105.26 233.38h2.62v1.55h-2.62zM40.78 234.88h2.62v1.55h-2.62zM53.67 234.88h2.62v1.55h-2.62zM58.83 234.88h2.62v1.55h-2.62zM69.15 234.88h2.62v1.55h-2.62zM76.89 234.88h2.62v1.55h-2.62zM82.05 234.88h2.62v1.55h-2.62zM84.63 234.88h2.62v1.55h-2.62zM87.21 234.88h2.62v1.55h-2.62zM94.94 234.88h2.62v1.55h-2.62zM97.52 234.88h2.62v1.55h-2.62zM100.10 234.88h2.62v1.55h-2.62zM102.68 234.88h2.62v1.55h-2.62zM107.84 234.88h2.62v1.55h-2.62zM48.51 236.37h2.62v1.55h-2.62zM74.31 236.37h2.62v1.55h-2.62zM105.26 236.37h2.62v1.55h-2.62zM107.84 236.37h2.62v1.55h-2.62zM94.94 237.87h2.62v1.55h-2.62zM61.41 239.36h2.62v1.55h-2.62zM69.15 239.36h2.62v1.55h-2.62zM71.73 239.36h2.62v1.55h-2.62zM87.21 239.36h2.62v1.55h-2.62zM102.68 239.36h2.62v1.55h-2.62zM105.26 239.36h2.62v1.55h-2.62zM107.84 239.36h2.62v1.55h-2.62zM110.42 239.36h2.62v1.55h-2.62zM48.51 240.86h2.62v1.55h-2.62zM110.42 240.86h2.62v1.55h-2.62zM25.30 242.36h2.62v1.55h-2.62zM56.25 242.36h2.62v1.55h-2.62zM89.79 243.85h2.62v1.55h-2.62zM30.46 245.35h2.62v1.55h-2.62zM38.20 245.35h2.62v1.55h-2.62zM25.30 246.85h2.62v1.55h-2.62zM43.36 246.85h2.62v1.55h-2.62zM58.83 246.85h2.62v1.55h-2.62zM40.78 248.34h2.62v1.55h-2.62zM53.67 248.34h2.62v1.55h-2.62zM56.25 248.34h2.62v1.55h-2.62zM35.62 249.84h2.62v1.55h-2.62zM102.68 251.33h2.62v1.55h-2.62zM25.30 254.33h2.62v1.55h-2.62zM51.09 254.33h2.62v1.55h-2.62zM102.68 254.33h2.62v1.55h-2.62zM40.78 255.82h2.62v1.55h-2.62zM53.67 255.82h2.62v1.55h-2.62zM43.36 260.31h2.62v1.55h-2.62zM33.04 261.81h2.62v1.55h-2.62zM53.67 261.81h2.62v1.55h-2.62zM25.30 263.30h2.62v1.55h-2.62zM35.62 263.30h2.62v1.55h-2.62zM45.94 263.30h2.62v1.55h-2.62zM48.51 263.30h2.62v1.55h-2.62z"/>
<path fill="#fca8a8" d="M105.26 25.40h2.62v1.55h-2.62zM69.15 29.89h2.62v1.55h-2.62zM87.21 40.36h2.62v1.55h-2.62zM87.21 64.30h2.62v1.55h-2.62zM97.52 68.79h2.62v1.55h-2.62zM79.47 73.28h2.62v1.55h-2.62zM105.26 74.78h2.62v1.55h-2.62zM89.79 77.77h2.62v1.55h-2.62zM97.52 77.77h2.62v1.55h-2.62zM94.94 79.27h2.62v1.55h-2.62zM89.79 85.25h2.62v1.55h-2.62zM100.10 85.25h2.62v1.55h-2.62zM100.10 110.69h2.62v1.55h-2.62zM100.10 115.18h2.62v1.55h-2.62zM66.57 124.15h2.62v1.55h-2.62zM74.31 125.65h2.62v1.55h-2.62zM82.05 139.12h2.62v1.55h-2.62zM30.46 145.10h2.62v1.55h-2.62zM38.20 145.10h2.62v1.55h-2.62zM30.46 146.60h2.62v1.55h-2.62zM53.67 146.60h2.62v1.55h-2.62zM38.20 148.09h2.62v1.55h-2.62zM30.46 155.57h2.62v1.55h-2.62zM53.67 155.57h2.62v1.55h-2.62zM38.20 157.07h2.62v1.55h-2.62zM33.04 158.57h2.62v1.55h-2.62zM27.88 160.06h2.62v1.55h-2.62zM30.46 166.05h2.62v1.55h-2.62zM38.20 166.05h2.62v1.55h-2.62zM30.46 169.04h2.62v1.55h-2.62zM45.94 169.04h2.62v1.55h-2.62zM30.46 170.54h2.62v1.55h-2.62zM38.20 172.03h2.62v1.55h-2.62zM27.88 173.53h2.62v1.55h-2.62zM33.04 173.53h2.62v1.55h-2.62zM27.88 176.52h2.62v1.55h-2.62zM30.46 179.51h2.62v1.55h-2.62zM38.20 179.51h2.62v1.55h-2.62zM51.09 182.51h2.62v1.55h-2.62zM48.51 184.00h2.62v1.55h-2.62zM56.25 184.00h2.62v1.55h-2.62zM40.78 185.50h2.62v1.55h-2.62zM51.09 185.50h2.62v1.55h-2.62zM45.94 187.00h2.62v1.55h-2.62zM43.36 188.49h2.62v1.55h-2.62zM48.51 188.49h2.62v1.55h-2.62zM53.67 188.49h2.62v1.55h-2.62zM48.51 189.99h2.62v1.55h-2.62zM51.09 189.99h2.62v1.55h-2.62zM48.51 194.48h2.62v1.55h-2.62zM56.25 197.47h2.62v1.55h-2.62zM45.94 198.97h2.62v1.55h-2.62zM53.67 198.97h2.62v1.55h-2.62zM40.78 200.46h2.62v1.55h-2.62zM43.36 200.46h2.62v1.55h-2.62zM51.09 200.46h2.62v1.55h-2.62zM58.83 201.96h2.62v1.55h-2.62zM58.83 203.45h2.62v1.55h-2.62zM43.36 204.95h2.62v1.55h-2.62zM53.67 204.95h2.62v1.55h-2.62zM40.78 206.45h2.62v1.55h-2.62zM56.25 206.45h2.62v1.55h-2.62zM48.51 207.94h2.62v1.55h-2.62zM45.94 209.44h2.62v1.55h-2.62zM45.94 210.94h2.62v1.55h-2.62zM40.78 212.43h2.62v1.55h-2.62zM48.51 212.43h2.62v1.55h-2.62zM45.94 213.93h2.62v1.55h-2.62zM48.51 213.93h2.62v1.55h-2.62zM40.78 216.92h2.62v1.55h-2.62zM43.36 216.92h2.62v1.55h-2.62zM48.51 216.92h2.62v1.55h-2.62zM43.36 218.42h2.62v1.55h-2.62zM45.94 219.91h2.62v1.55h-2.62zM48.51 222.91h2.62v1.55h-2.62zM51.09 222.91h2.62v1.55h-2.62zM110.42 224.40h2.62v1.55h-2.62zM48.51 225.90h2.62v1.55h-2.62zM53.67 240.86h2.62v1.55h-2.62zM45.94 243.85h2.62v1.55h-2.62zM51.09 245.35h2.62v1.55h-2.62zM40.78 246.85h2.62v1.55h-2.62zM45.94 246.85h2.62v1.55h-2.62zM56.25 246.85h2.62v1.55h-2.62zM33.04 255.82h2.62v1.55h-2.62zM45.94 255.82h2.62v1.55h-2.62zM40.78 257.32h2.62v1.55h-2.62zM43.36 257.32h2.62v1.55h-2.62zM45.94 257.32h2.62v1.55h-2.62zM56.25 257.32h2.62v1.55h-2.62zM53.67 258.81h2.62v1.55h-2.62zM30.46 260.31h2.62v1.55h-2.62zM45.94 260.31h2.62v1.55h-2.62zM51.09 261.81h2.62v1.55h-2.62z"/>
<path fill="#f0f0fc" d="M110.42 25.40h2.62v1.55h-2.62zM71.73 26.90h2.62v1.55h-2.62zM66.57 29.89h2.62v1.55h-2.62zM61.41 32.88h2.62v1.55h-2.62zM76.89 35.87h2.62v1.55h-2.62zM56.25 41.86h2.62v1.55h-2.62zM61.41 41.86h2.62v1.55h-2.62zM61.41 46.35h2.62v1.55h-2.62zM97.52 47.84h2.62v1.55h-2.62zM102.68 49.34h2.62v1.55h-2.62zM58.83 52.33h2.62v1.55h-2.62zM61.41 56.82h2.62v1.55h-2.62zM76.89 56.82h2.62v1.55h-2.62zM84.63 56.82h2.62v1.55h-2.62zM53.67 58.32h2.62v1.55h-2.62zM66.57 61.31h2.62v1.55h-2.62zM53.67 62.81h2.62v1.55h-2.62zM92.36 65.80h2.62v1.55h-2.62zM69.15 67.30h2.62v1.55h-2.62zM71.73 67.30h2.62v1.55h-2.62zM58.83 68.79h2.62v1.55h-2.62zM79.47 70.29h2.62v1.55h-2.62zM92.36 70.29h2.62v1.55h-2.62zM58.83 71.78h2.62v1.55h-2.62zM56.25 74.78h2.62v1.55h-2.62zM92.36 74.78h2.62v1.55h-2.62zM105.26 77.77h2.62v1.55h-2.62zM97.52 79.27h2.62v1.55h-2.62zM51.09 86.75h2.62v1.55h-2.62zM58.83 88.24h2.62v1.55h-2.62zM102.68 94.23h2.62v1.55h-2.62zM61.41 98.72h2.62v1.55h-2.62zM92.36 98.72h2.62v1.55h-2.62zM97.52 100.21h2.62v1.55h-2.62zM56.25 101.71h2.62v1.55h-2.62zM56.25 106.20h2.62v1.55h-2.62zM102.68 106.20h2.62v1.55h-2.62zM56.25 107.69h2.62v1.55h-2.62zM56.25 112.18h2.62v1.55h-2.62zM74.31 112.18h2.62v1.55h-2.62zM58.83 119.66h2.62v1.55h-2.62zM48.51 122.66h2.62v1.55h-2.62zM84.63 130.14h2.62v1.55h-2.62zM102.68 131.63h2.62v1.55h-2.62zM76.89 133.13h2.62v1.55h-2.62zM92.36 137.62h2.62v1.55h-2.62zM58.83 139.12h2.62v1.55h-2.62zM100.10 139.12h2.62v1.55h-2.62zM53.67 142.11h2.62v1.55h-2.62zM97.52 142.11h2.62v1.55h-2.62zM110.42 142.11h2.62v1.55h-2.62zM48.51 146.60h2.62v1.55h-2.62zM56.25 148.09h2.62v1.55h-2.62zM89.79 148.09h2.62v1.55h-2.62zM84.63 149.59h2.62v1.55h-2.62zM63.99 151.09h2.62v1.55h-2.62zM74.31 151.09h2.62v1.55h-2.62zM66.57 152.58h2.62v1.55h-2.62zM69.15 152.58h2.62v1.55h-2.62zM92.36 152.58h2.62v1.55h-2.62zM66.57 154.08h2.62v1.55h-2.62zM84.63 154.08h2.62v1.55h-2.62zM105.26 154.08h2.62v1.55h-2.62zM92.36 155.57h2.62v1.55h-2.62zM51.09 157.07h2.62v1.55h-2.62zM66.57 157.07h2.62v1.55h-2.62zM79.47 157.07h2.62v1.55h-2.62zM82.05 157.07h2.62v1.55h-2.62zM92.36 157.07h2.62v1.55h-2.62zM97.52 157.07h2.62v1.55h-2.62zM100.10 157.07h2.62v1.55h-2.62zM51.09 160.06h2.62v1.55h-2.62zM69.15 161.56h2.62v1.55h-2.62zM58.83 163.06h2.62v1.55h-2.62zM79.47 163.06h2.62v1.55h-2.62zM84.63 164.55h2.62v1.55h-2.62zM102.68 164.55h2.62v1.55h-2.62zM40.78 166.05h2.62v1.55h-2.62zM56.25 166.05h2.62v1.55h-2.62zM74.31 166.05h2.62v1.55h-2.62zM79.47 166.05h2.62v1.55h-2.62zM100.10 166.05h2.62v1.55h-2.62zM51.09 167.54h2.62v1.55h-2.62zM76.89 167.54h2.62v1.55h-2.62zM100.10 169.04h2.62v1.55h-2.62zM63.99 170.54h2.62v1.55h-2.62zM105.26 170.54h2.62v1.55h-2.62zM107.84 170.54h2.62v1.55h-2.62zM110.42 170.54h2.62v1.55h-2.62zM89.79 172.03h2.62v1.55h-2.62zM102.68 172.03h2.62v1.55h-2.62zM110.42 172.03h2.62v1.55h-2.62zM61.41 173.53h2.62v1.55h-2.62zM69.15 173.53h2.62v1.55h-2.62zM84.63 173.53h2.62v1.55h-2.62zM61.41 176.52h2.62v1.55h-2.62zM63.99 176.52h2.62v1.55h-2.62zM94.94 176.52h2.62v1.55h-2.62zM107.84 181.01h2.62v1.55h-2.62zM66.57 182.51h2.62v1.55h-2.62zM89.79 182.51h2.62v1.55h-2.62zM97.52 182.51h2.62v1.55h-2.62zM79.47 184.00h2.62v1.55h-2.62zM97.52 184.00h2.62v1.55h-2.62zM102.68 184.00h2.62v1.55h-2.62zM66.57 185.50h2.62v1.55h-2.62zM89.79 187.00h2.62v1.55h-2.62zM92.36 187.00h2.62v1.55h-2.62zM74.31 188.49h2.62v1.55h-2.62zM87.21 188.49h2.62v1.55h-2.62zM97.52 188.49h2.62v1.55h-2.62zM102.68 188.49h2.62v1.55h-2.62zM74.31 189.99h2.62v1.55h-2.62zM84.63 189.99h2.62v1.55h-2.62zM100.10 189.99h2.62v1.55h-2.62zM63.99 192.98h2.62v1.55h-2.62zM105.26 192.98h2.62v1.55h-2.62zM71.73 194.48h2.62v1.55h-2.62zM105.26 194.48h2.62v1.55h-2.62zM110.42 194.48h2.62v1.55h-2.62zM89.79 195.97h2.62v1.55h-2.62zM92.36 195.97h2.62v1.55h-2.62zM107.84 195.97h2.62v1.55h-2.62zM69.15 197.47h2.62v1.55h-2.62zM71.73 197.47h2.62v1.55h-2.62zM76.89 197.47h2.62v1.55h-2.62zM61.41 198.97h2.62v1.55h-2.62zM63.99 198.97h2.62v1.55h-2.62zM66.57 198.97h2.62v1.55h-2.62zM74.31 198.97h2.62v1.55h-2.62zM105.26 198.97h2.62v1.55h-2.62zM69.15 200.46h2.62v1.55h-2.62zM74.31 200.46h2.62v1.55h-2.62zM87.21 200.46h2.62v1.55h-2.62zM102.68 200.46h2.62v1.55h-2.62zM107.84 200.46h2.62v1.55h-2.62zM74.31 201.96h2.62v1.55h-2.62zM105.26 201.96h2.62v1.55h-2.62zM84.63 203.45h2.62v1.55h-2.62zM102.68 203.45h2.62v1.55h-2.62zM110.42 203.45h2.62v1.55h-2.62zM69.15 204.95h2.62v1.55h-2.62zM76.89 204.95h2.62v1.55h-2.62zM76.89 206.45h2.62v1.55h-2.62zM100.10 206.45h2.62v1.55h-2.62zM74.31 207.94h2.62v1.55h-2.62zM74.31 210.94h2.62v1.55h-2.62zM89.79 210.94h2.62v1.55h-2.62zM105.26 212.43h2.62v1.55h-2.62zM110.42 212.43h2.62v1.55h-2.62zM84.63 213.93h2.62v1.55h-2.62zM87.21 213.93h2.62v1.55h-2.62zM97.52 213.93h2.62v1.55h-2.62zM100.10 215.42h2.62v1.55h-2.62zM102.68 216.92h2.62v1.55h-2.62zM66.57 218.42h2.62v1.55h-2.62zM89.79 218.42h2.62v1.55h-2.62zM102.68 218.42h2.62v1.55h-2.62zM71.73 221.41h2.62v1.55h-2.62zM82.05 221.41h2.62v1.55h-2.62zM89.79 222.91h2.62v1.55h-2.62zM97.52 222.91h2.62v1.55h-2.62zM66.57 224.40h2.62v1.55h-2.62zM71.73 224.40h2.62v1.55h-2.62zM87.21 225.90h2.62v1.55h-2.62zM92.36 225.90h2.62v1.55h-2.62zM76.89 230.39h2.62v1.55h-2.62zM84.63 230.39h2.62v1.55h-2.62zM82.05 231.88h2.62v1.55h-2.62zM94.94 231.88h2.62v1.55h-2.62zM25.30 233.38h2.62v1.55h-2.62zM63.99 233.38h2.62v1.55h-2.62zM84.63 233.38h2.62v1.55h-2.62zM66.57 234.88h2.62v1.55h-2.62zM82.05 236.37h2.62v1.55h-2.62zM84.63 236.37h2.62v1.55h-2.62zM69.15 237.87h2.62v1.55h-2.62zM92.36 237.87h2.62v1.55h-2.62zM97.52 239.36h2.62v1.55h-2.62zM69.15 240.86h2.62v1.55h-2.62zM87.21 240.86h2.62v1.55h-2.62zM97.52 240.86h2.62v1.55h-2.62zM61.41 242.36h2.62v1.55h-2.62zM76.89 242.36h2.62v1.55h-2.62zM107.84 242.36h2.62v1.55h-2.62zM92.36 243.85h2.62v1.55h-2.62zM105.26 243.85h2.62v1.55h-2.62zM35.62 245.35h2.62v1.55h-2.62zM66.57 246.85h2.62v1.55h-2.62zM89.79 246.85h2.62v1.55h-2.62zM105.26 246.85h2.62v1.55h-2.62zM61.41 248.34h2.62v1.55h-2.62zM74.31 248.34h2.62v1.55h-2.62zM27.88 249.84h2.62v1.55h-2.62zM92.36 249.84h2.62v1.55h-2.62zM105.26 249.84h2.62v1.55h-2.62zM84.63 252.83h2.62v1.55h-2.62zM87.21 252.83h2.62v1.55h-2.62zM105.26 252.83h2.62v1.55h-2.62zM92.36 254.33h2.62v1.55h-2.62zM61.41 255.82h2.62v1.55h-2.62zM102.68 255.82h2.62v1.55h-2.62zM84.63 257.32h2.62v1.55h-2.62zM94.94 258.81h2.62v1.55h-2.62zM69.15 260.31h2.62v1.55h-2.62zM66.57 261.81h2.62v1.55h-2.62zM71.73 261.81h2.62v1.55h-2.62zM74.31 261.81h2.62v1.55h-2.62zM84.63 261.81h2.62v1.55h-2.62zM105.26 261.81h2.62v1.55h-2.62zM38.20 263.30h2.62v1.55h-2.62zM63.99 263.30h2.62v1.55h-2.62z"/>
<path fill="#fc9c9c" d="M25.30 26.90h2.62v1.55h-2.62zM94.94 89.74h2.62v1.55h-2.62zM27.88 130.14h2.62v1.55h-2.62zM61.41 130.14h2.62v1.55h-2.62zM84.63 140.61h2.62v1.55h-2.62zM27.88 145.10h2.62v1.55h-2.62zM30.46 148.09h2.62v1.55h-2.62zM51.09 149.59h2.62v1.55h-2.62zM35.62 151.09h2.62v1.55h-2.62zM30.46 152.58h2.62v1.55h-2.62zM30.46 154.08h2.62v1.55h-2.62zM45.94 157.07h2.62v1.55h-2.62zM58.83 160.06h2.62v1.55h-2.62zM27.88 164.55h2.62v1.55h-2.62zM33.04 164.55h2.62v1.55h-2.62zM35.62 164.55h2.62v1.55h-2.62zM33.04 166.05h2.62v1.55h-2.62zM58.83 167.54h2.62v1.55h-2.62zM43.36 169.04h2.62v1.55h-2.62zM56.25 170.54h2.62v1.55h-2.62zM27.88 172.03h2.62v1.55h-2.62zM33.04 172.03h2.62v1.55h-2.62zM45.94 182.51h2.62v1.55h-2.62zM53.67 187.00h2.62v1.55h-2.62zM56.25 201.96h2.62v1.55h-2.62zM56.25 204.95h2.62v1.55h-2.62zM45.94 212.43h2.62v1.55h-2.62zM40.78 213.93h2.62v1.55h-2.62zM53.67 213.93h2.62v1.55h-2.62zM51.09 215.42h2.62v1.55h-2.62zM45.94 221.41h2.62v1.55h-2.62zM51.09 221.41h2.62v1.55h-2.62zM38.20 240.86h2.62v1.55h-2.62zM58.83 245.35h2.62v1.55h-2.62zM45.94 248.34h2.62v1.55h-2.62zM51.09 248.34h2.62v1.55h-2.62zM25.30 251.33h2.62v1.55h-2.62zM40.78 251.33h2.62v1.55h-2.62zM25.30 255.82h2.62v1.55h-2.62zM48.51 255.82h2.62v1.55h-2.62zM43.36 261.81h2.62v1.55h-2.62z"/>
<path fill="#fc3c3c" d="M27.88 26.90h2.62v1.55h-2.62z"/>
<path fill="#a8a8d8" d="M33.04 26.90h2.62v1.55h-2.62zM35.62 31.38h2.62v1.55h-2.62zM53.67 34.38h2.62v1.55h-2.62zM30.46 35.87h2.62v1.55h-2.62zM43.36 35.87h2.62v1.55h-2.62zM45.94 37.37h2.62v1.55h-2.62zM48.51 37.37h2.62v1.55h-2.62zM27.88 40.36h2.62v1.55h-2.62zM30.46 40.36h2.62v1.55h-2.62zM51.09 43.36h2.62v1.55h-2.62zM51.09 46.35h2.62v1.55h-2.62zM45.94 47.84h2.62v1.55h-2.62zM51.09 55.33h2.62v1.55h-2.62zM56.25 55.33h2.62v1.55h-2.62zM51.09 56.82h2.62v1.55h-2.62zM53.67 56.82h2.62v1.55h-2.62zM45.94 61.31h2.62v1.55h-2.62zM38.20 62.81h2.62v1.55h-2.62zM40.78 62.81h2.62v1.55h-2.62zM40.78 71.78h2.62v1.55h-2.62zM45.94 71.78h2.62v1.55h-2.62zM53.67 71.78h2.62v1.55h-2.62zM51.09 73.28h2.62v1.55h-2.62zM45.94 80.76h2.62v1.55h-2.62zM40.78 85.25h2.62v1.55h-2.62zM51.09 85.25h2.62v1.55h-2.62zM25.30 86.75h2.62v1.55h-2.62zM33.04 86.75h2.62v1.55h-2.62zM40.78 86.75h2.62v1.55h-2.62zM30.46 88.24h2.62v1.55h-2.62zM48.51 91.24h2.62v1.55h-2.62zM53.67 94.23h2.62v1.55h-2.62zM35.62 97.22h2.62v1.55h-2.62zM53.67 98.72h2.62v1.55h-2.62zM25.30 100.21h2.62v1.55h-2.62zM51.09 100.21h2.62v1.55h-2.62zM51.09 101.71h2.62v1.55h-2.62zM53.67 101.71h2.62v1.55h-2.62zM48.51 103.21h2.62v1.55h-2.62zM45.94 107.69h2.62v1.55h-2.62zM27.88 110.69h2.62v1.55h-2.62zM48.51 112.18h2.62v1.55h-2.62zM27.88 113.68h2.62v1.55h-2.62zM38.20 119.66h2.62v1.55h-2.62zM40.78 121.16h2.62v1.55h-2.62zM53.67 121.16h2.62v1.55h-2.62zM38.20 122.66h2.62v1.55h-2.62zM43.36 122.66h2.62v1.55h-2.62zM51.09 122.66h2.62v1.55h-2.62zM30.46 125.65h2.62v1.55h-2.62zM40.78 127.15h2.62v1.55h-2.62zM45.94 127.15h2.62v1.55h-2.62zM45.94 128.64h2.62v1.55h-2.62zM38.20 131.63h2.62v1.55h-2.62zM33.04 139.12h2.62v1.55h-2.62zM61.41 154.08h2.62v1.55h-2.62zM76.89 160.06h2.62v1.55h-2.62zM76.89 163.06h2.62v1.55h-2.62zM69.15 167.54h2.62v1.55h-2.62zM63.99 178.02h2.62v1.55h-2.62zM71.73 179.51h2.62v1.55h-2.62zM30.46 191.48h2.62v1.55h-2.62zM35.62 192.98h2.62v1.55h-2.62zM27.88 195.97h2.62v1.55h-2.62zM69.15 209.44h2.62v1.55h-2.62zM25.30 221.41h2.62v1.55h-2.62zM30.46 225.90h2.62v1.55h-2.62zM38.20 228.89h2.62v1.55h-2.62zM33.04 240.86h2.62v1.55h-2.62zM100.10 240.86h2.62v1.55h-2.62zM94.94 243.85h2.62v1.55h-2.62zM94.94 248.34h2.62v1.55h-2.62zM89.79 251.33h2.62v1.55h-2.62zM27.88 257.32h2.62v1.55h-2.62zM71.73 260.31h2.62v1.55h-2.62zM94.94 263.30h2.62v1.55h-2.62z"/>
<path fill="#b4b4d8" d="M43.36 26.90h2.62v1.55h-2.62zM53.67 32.88h2.62v1.55h-2.62zM38.20 34.38h2.62v1.55h-2.62zM45.94 34.38h2.62v1.55h-2.62zM45.94 35.87h2.62v1.55h-2.62zM38.20 40.36h2.62v1.55h-2.62zM51.09 40.36h2.62v1.55h-2.62zM48.51 43.36h2.62v1.55h-2.62zM43.36 46.35h2.62v1.55h-2.62zM56.25 50.84h2.62v1.55h-2.62zM79.47 50.84h2.62v1.55h-2.62zM35.62 52.33h2.62v1.55h-2.62zM100.10 53.83h2.62v1.55h-2.62zM48.51 58.32h2.62v1.55h-2.62zM27.88 62.81h2.62v1.55h-2.62zM53.67 67.30h2.62v1.55h-2.62zM69.15 70.29h2.62v1.55h-2.62zM27.88 71.78h2.62v1.55h-2.62zM51.09 71.78h2.62v1.55h-2.62zM53.67 77.77h2.62v1.55h-2.62zM63.99 77.77h2.62v1.55h-2.62zM48.51 83.75h2.62v1.55h-2.62zM53.67 83.75h2.62v1.55h-2.62zM45.94 86.75h2.62v1.55h-2.62zM25.30 88.24h2.62v1.55h-2.62zM33.04 88.24h2.62v1.55h-2.62zM61.41 88.24h2.62v1.55h-2.62zM51.09 89.74h2.62v1.55h-2.62zM25.30 94.23h2.62v1.55h-2.62zM51.09 94.23h2.62v1.55h-2.62zM51.09 95.72h2.62v1.55h-2.62zM58.83 95.72h2.62v1.55h-2.62zM38.20 98.72h2.62v1.55h-2.62zM48.51 100.21h2.62v1.55h-2.62zM51.09 104.70h2.62v1.55h-2.62zM63.99 109.19h2.62v1.55h-2.62zM69.15 110.69h2.62v1.55h-2.62zM63.99 113.68h2.62v1.55h-2.62zM30.46 115.18h2.62v1.55h-2.62zM97.52 115.18h2.62v1.55h-2.62zM30.46 116.67h2.62v1.55h-2.62zM48.51 116.67h2.62v1.55h-2.62zM51.09 119.66h2.62v1.55h-2.62zM48.51 124.15h2.62v1.55h-2.62zM51.09 124.15h2.62v1.55h-2.62zM53.67 124.15h2.62v1.55h-2.62zM33.04 125.65h2.62v1.55h-2.62zM48.51 128.64h2.62v1.55h-2.62zM53.67 128.64h2.62v1.55h-2.62zM87.21 133.13h2.62v1.55h-2.62zM94.94 133.13h2.62v1.55h-2.62zM38.20 139.12h2.62v1.55h-2.62zM45.94 139.12h2.62v1.55h-2.62zM48.51 142.11h2.62v1.55h-2.62zM74.31 146.60h2.62v1.55h-2.62zM69.15 148.09h2.62v1.55h-2.62zM61.41 151.09h2.62v1.55h-2.62zM110.42 155.57h2.62v1.55h-2.62zM69.15 158.57h2.62v1.55h-2.62zM69.15 169.04h2.62v1.55h-2.62zM69.15 170.54h2.62v1.55h-2.62zM102.68 173.53h2.62v1.55h-2.62zM69.15 178.02h2.62v1.55h-2.62zM69.15 181.01h2.62v1.55h-2.62zM33.04 182.51h2.62v1.55h-2.62zM38.20 191.48h2.62v1.55h-2.62zM25.30 194.48h2.62v1.55h-2.62zM97.52 204.95h2.62v1.55h-2.62zM69.15 215.42h2.62v1.55h-2.62zM92.36 218.42h2.62v1.55h-2.62zM100.10 221.41h2.62v1.55h-2.62zM76.89 222.91h2.62v1.55h-2.62zM27.88 225.90h2.62v1.55h-2.62zM33.04 225.90h2.62v1.55h-2.62zM27.88 228.89h2.62v1.55h-2.62zM35.62 230.39h2.62v1.55h-2.62zM33.04 239.36h2.62v1.55h-2.62zM38.20 239.36h2.62v1.55h-2.62zM63.99 240.86h2.62v1.55h-2.62zM105.26 240.86h2.62v1.55h-2.62zM74.31 242.36h2.62v1.55h-2.62zM87.21 245.35h2.62v1.55h-2.62zM94.94 245.35h2.62v1.55h-2.62zM66.57 248.34h2.62v1.55h-2.62zM69.15 249.84h2.62v1.55h-2.62zM94.94 249.84h2.62v1.55h-2.62zM61.41 257.32h2.62v1.55h-2.62zM89.79 257.32h2.62v1.55h-2.62zM107.84 257.32h2.62v1.55h-2.62zM38.20 260.31h2.62v1.55h-2.62zM82.05 260.31h2.62v1.55h-2.62zM63.99 261.81h2.62v1.55h-2.62zM71.73 263.30h2.62v1.55h-2.62zM107.84 263.30h2.62v1.55h-2.62z"/>
<path fill="#e4e4f0" d="M45.94 26.90h2.62v1.55h-2.62zM94.94 26.90h2.62v1.55h-2.62zM56.25 28.39h2.62v1.55h-2.62zM102.68 31.38h2.62v1.55h-2.62zM58.83 32.88h2.62v1.55h-2.62zM92.36 32.88h2.62v1.55h-2.62zM110.42 32.88h2.62v1.55h-2.62zM51.09 34.38h2.62v1.55h-2.62zM56.25 35.87h2.62v1.55h-2.62zM58.83 35.87h2.62v1.55h-2.62zM56.25 37.37h2.62v1.55h-2.62zM97.52 37.37h2.62v1.55h-2.62zM82.05 41.86h2.62v1.55h-2.62zM102.68 41.86h2.62v1.55h-2.62zM58.83 44.85h2.62v1.55h-2.62zM105.26 44.85h2.62v1.55h-2.62zM40.78 46.35h2.62v1.55h-2.62zM56.25 47.84h2.62v1.55h-2.62zM56.25 49.34h2.62v1.55h-2.62zM58.83 50.84h2.62v1.55h-2.62zM102.68 50.84h2.62v1.55h-2.62zM53.67 55.33h2.62v1.55h-2.62zM82.05 55.33h2.62v1.55h-2.62zM110.42 56.82h2.62v1.55h-2.62zM35.62 61.31h2.62v1.55h-2.62zM48.51 61.31h2.62v1.55h-2.62zM56.25 65.80h2.62v1.55h-2.62zM58.83 65.80h2.62v1.55h-2.62zM100.10 65.80h2.62v1.55h-2.62zM56.25 68.79h2.62v1.55h-2.62zM71.73 68.79h2.62v1.55h-2.62zM58.83 70.29h2.62v1.55h-2.62zM107.84 70.29h2.62v1.55h-2.62zM79.47 71.78h2.62v1.55h-2.62zM82.05 71.78h2.62v1.55h-2.62zM56.25 76.27h2.62v1.55h-2.62zM58.83 76.27h2.62v1.55h-2.62zM61.41 76.27h2.62v1.55h-2.62zM56.25 79.27h2.62v1.55h-2.62zM79.47 80.76h2.62v1.55h-2.62zM56.25 82.26h2.62v1.55h-2.62zM56.25 83.75h2.62v1.55h-2.62zM97.52 83.75h2.62v1.55h-2.62zM53.67 86.75h2.62v1.55h-2.62zM102.68 86.75h2.62v1.55h-2.62zM94.94 88.24h2.62v1.55h-2.62zM102.68 88.24h2.62v1.55h-2.62zM79.47 91.24h2.62v1.55h-2.62zM84.63 91.24h2.62v1.55h-2.62zM56.25 92.73h2.62v1.55h-2.62zM58.83 94.23h2.62v1.55h-2.62zM53.67 95.72h2.62v1.55h-2.62zM56.25 95.72h2.62v1.55h-2.62zM84.63 95.72h2.62v1.55h-2.62zM33.04 97.22h2.62v1.55h-2.62zM61.41 97.22h2.62v1.55h-2.62zM58.83 100.21h2.62v1.55h-2.62zM92.36 100.21h2.62v1.55h-2.62zM58.83 101.71h2.62v1.55h-2.62zM56.25 103.21h2.62v1.55h-2.62zM58.83 103.21h2.62v1.55h-2.62zM45.94 104.70h2.62v1.55h-2.62zM110.42 104.70h2.62v1.55h-2.62zM53.67 106.20h2.62v1.55h-2.62zM58.83 106.20h2.62v1.55h-2.62zM53.67 107.69h2.62v1.55h-2.62zM56.25 109.19h2.62v1.55h-2.62zM97.52 110.69h2.62v1.55h-2.62zM61.41 115.18h2.62v1.55h-2.62zM79.47 115.18h2.62v1.55h-2.62zM56.25 116.67h2.62v1.55h-2.62zM79.47 116.67h2.62v1.55h-2.62zM45.94 118.17h2.62v1.55h-2.62zM53.67 118.17h2.62v1.55h-2.62zM56.25 118.17h2.62v1.55h-2.62zM58.83 118.17h2.62v1.55h-2.62zM58.83 121.16h2.62v1.55h-2.62zM58.83 125.65h2.62v1.55h-2.62zM100.10 125.65h2.62v1.55h-2.62zM87.21 127.15h2.62v1.55h-2.62zM76.89 128.64h2.62v1.55h-2.62zM79.47 130.14h2.62v1.55h-2.62zM79.47 133.13h2.62v1.55h-2.62zM71.73 134.63h2.62v1.55h-2.62zM89.79 134.63h2.62v1.55h-2.62zM107.84 136.12h2.62v1.55h-2.62zM89.79 137.62h2.62v1.55h-2.62zM105.26 137.62h2.62v1.55h-2.62zM51.09 139.12h2.62v1.55h-2.62zM63.99 139.12h2.62v1.55h-2.62zM69.15 139.12h2.62v1.55h-2.62zM105.26 140.61h2.62v1.55h-2.62zM74.31 142.11h2.62v1.55h-2.62zM105.26 142.11h2.62v1.55h-2.62zM61.41 143.60h2.62v1.55h-2.62zM66.57 145.10h2.62v1.55h-2.62zM87.21 145.10h2.62v1.55h-2.62zM56.25 146.60h2.62v1.55h-2.62zM87.21 146.60h2.62v1.55h-2.62zM43.36 148.09h2.62v1.55h-2.62zM66.57 148.09h2.62v1.55h-2.62zM82.05 148.09h2.62v1.55h-2.62zM94.94 148.09h2.62v1.55h-2.62zM110.42 148.09h2.62v1.55h-2.62zM61.41 149.59h2.62v1.55h-2.62zM63.99 149.59h2.62v1.55h-2.62zM82.05 149.59h2.62v1.55h-2.62zM102.68 149.59h2.62v1.55h-2.62zM40.78 151.09h2.62v1.55h-2.62zM58.83 151.09h2.62v1.55h-2.62zM84.63 151.09h2.62v1.55h-2.62zM110.42 151.09h2.62v1.55h-2.62zM63.99 152.58h2.62v1.55h-2.62zM87.21 152.58h2.62v1.55h-2.62zM94.94 152.58h2.62v1.55h-2.62zM97.52 152.58h2.62v1.55h-2.62zM110.42 152.58h2.62v1.55h-2.62zM51.09 154.08h2.62v1.55h-2.62zM56.25 154.08h2.62v1.55h-2.62zM82.05 154.08h2.62v1.55h-2.62zM94.94 154.08h2.62v1.55h-2.62zM61.41 157.07h2.62v1.55h-2.62zM69.15 157.07h2.62v1.55h-2.62zM89.79 157.07h2.62v1.55h-2.62zM94.94 157.07h2.62v1.55h-2.62zM102.68 157.07h2.62v1.55h-2.62zM71.73 158.57h2.62v1.55h-2.62zM79.47 158.57h2.62v1.55h-2.62zM102.68 158.57h2.62v1.55h-2.62zM56.25 160.06h2.62v1.55h-2.62zM110.42 160.06h2.62v1.55h-2.62zM66.57 161.56h2.62v1.55h-2.62zM82.05 161.56h2.62v1.55h-2.62zM92.36 161.56h2.62v1.55h-2.62zM97.52 161.56h2.62v1.55h-2.62zM45.94 163.06h2.62v1.55h-2.62zM84.63 163.06h2.62v1.55h-2.62zM92.36 163.06h2.62v1.55h-2.62zM102.68 163.06h2.62v1.55h-2.62zM105.26 163.06h2.62v1.55h-2.62zM105.26 164.55h2.62v1.55h-2.62zM69.15 166.05h2.62v1.55h-2.62zM71.73 166.05h2.62v1.55h-2.62zM92.36 166.05h2.62v1.55h-2.62zM102.68 166.05h2.62v1.55h-2.62zM43.36 167.54h2.62v1.55h-2.62zM63.99 167.54h2.62v1.55h-2.62zM87.21 167.54h2.62v1.55h-2.62zM89.79 167.54h2.62v1.55h-2.62zM107.84 167.54h2.62v1.55h-2.62zM71.73 169.04h2.62v1.55h-2.62zM74.31 169.04h2.62v1.55h-2.62zM53.67 170.54h2.62v1.55h-2.62zM92.36 170.54h2.62v1.55h-2.62zM102.68 170.54h2.62v1.55h-2.62zM92.36 172.03h2.62v1.55h-2.62zM82.05 173.53h2.62v1.55h-2.62zM100.10 173.53h2.62v1.55h-2.62zM71.73 175.03h2.62v1.55h-2.62zM43.36 176.52h2.62v1.55h-2.62zM74.31 178.02h2.62v1.55h-2.62zM87.21 178.02h2.62v1.55h-2.62zM89.79 178.02h2.62v1.55h-2.62zM82.05 179.51h2.62v1.55h-2.62zM61.41 182.51h2.62v1.55h-2.62zM84.63 184.00h2.62v1.55h-2.62zM74.31 185.50h2.62v1.55h-2.62zM110.42 185.50h2.62v1.55h-2.62zM63.99 187.00h2.62v1.55h-2.62zM87.21 187.00h2.62v1.55h-2.62zM76.89 188.49h2.62v1.55h-2.62zM84.63 188.49h2.62v1.55h-2.62zM69.15 189.99h2.62v1.55h-2.62zM79.47 189.99h2.62v1.55h-2.62zM92.36 189.99h2.62v1.55h-2.62zM63.99 191.48h2.62v1.55h-2.62zM97.52 191.48h2.62v1.55h-2.62zM100.10 191.48h2.62v1.55h-2.62zM82.05 192.98h2.62v1.55h-2.62zM87.21 192.98h2.62v1.55h-2.62zM102.68 192.98h2.62v1.55h-2.62zM74.31 194.48h2.62v1.55h-2.62zM79.47 194.48h2.62v1.55h-2.62zM94.94 194.48h2.62v1.55h-2.62zM102.68 194.48h2.62v1.55h-2.62zM82.05 197.47h2.62v1.55h-2.62zM84.63 198.97h2.62v1.55h-2.62zM92.36 198.97h2.62v1.55h-2.62zM61.41 200.46h2.62v1.55h-2.62zM71.73 200.46h2.62v1.55h-2.62zM82.05 200.46h2.62v1.55h-2.62zM97.52 200.46h2.62v1.55h-2.62zM110.42 200.46h2.62v1.55h-2.62zM69.15 201.96h2.62v1.55h-2.62zM71.73 201.96h2.62v1.55h-2.62zM89.79 201.96h2.62v1.55h-2.62zM79.47 203.45h2.62v1.55h-2.62zM92.36 203.45h2.62v1.55h-2.62zM100.10 203.45h2.62v1.55h-2.62zM82.05 204.95h2.62v1.55h-2.62zM84.63 204.95h2.62v1.55h-2.62zM110.42 204.95h2.62v1.55h-2.62zM66.57 206.45h2.62v1.55h-2.62zM92.36 206.45h2.62v1.55h-2.62zM110.42 206.45h2.62v1.55h-2.62zM63.99 207.94h2.62v1.55h-2.62zM87.21 207.94h2.62v1.55h-2.62zM97.52 207.94h2.62v1.55h-2.62zM100.10 207.94h2.62v1.55h-2.62zM84.63 209.44h2.62v1.55h-2.62zM87.21 209.44h2.62v1.55h-2.62zM97.52 210.94h2.62v1.55h-2.62zM105.26 210.94h2.62v1.55h-2.62zM61.41 212.43h2.62v1.55h-2.62zM66.57 212.43h2.62v1.55h-2.62zM79.47 212.43h2.62v1.55h-2.62zM94.94 212.43h2.62v1.55h-2.62zM97.52 212.43h2.62v1.55h-2.62zM100.10 212.43h2.62v1.55h-2.62zM102.68 212.43h2.62v1.55h-2.62zM74.31 213.93h2.62v1.55h-2.62zM76.89 213.93h2.62v1.55h-2.62zM102.68 213.93h2.62v1.55h-2.62zM74.31 216.92h2.62v1.55h-2.62zM63.99 218.42h2.62v1.55h-2.62zM69.15 218.42h2.62v1.55h-2.62zM71.73 218.42h2.62v1.55h-2.62zM76.89 218.42h2.62v1.55h-2.62zM87.21 218.42h2.62v1.55h-2.62zM84.63 219.91h2.62v1.55h-2.62zM89.79 219.91h2.62v1.55h-2.62zM94.94 219.91h2.62v1.55h-2.62zM79.47 221.41h2.62v1.55h-2.62zM89.79 221.41h2.62v1.55h-2.62zM107.84 221.41h2.62v1.55h-2.62zM66.57 222.91h2.62v1.55h-2.62zM74.31 222.91h2.62v1.55h-2.62zM100.10 225.90h2.62v1.55h-2.62zM69.15 230.39h2.62v1.55h-2.62zM71.73 233.38h2.62v1.55h-2.62zM79.47 233.38h2.62v1.55h-2.62zM71.73 237.87h2.62v1.55h-2.62zM76.89 239.36h2.62v1.55h-2.62zM107.84 240.86h2.62v1.55h-2.62zM71.73 242.36h2.62v1.55h-2.62zM87.21 243.85h2.62v1.55h-2.62zM102.68 243.85h2.62v1.55h-2.62zM97.52 245.35h2.62v1.55h-2.62zM100.10 245.35h2.62v1.55h-2.62zM100.10 246.85h2.62v1.55h-2.62zM110.42 246.85h2.62v1.55h-2.62zM102.68 248.34h2.62v1.55h-2.62zM66.57 249.84h2.62v1.55h-2.62zM79.47 249.84h2.62v1.55h-2.62zM87.21 249.84h2.62v1.55h-2.62zM89.79 249.84h2.62v1.55h-2.62zM100.10 249.84h2.62v1.55h-2.62zM110.42 249.84h2.62v1.55h-2.62zM87.21 251.33h2.62v1.55h-2.62zM97.52 251.33h2.62v1.55h-2.62zM100.10 251.33h2.62v1.55h-2.62zM105.26 251.33h2.62v1.55h-2.62zM87.21 254.33h2.62v1.55h-2.62zM94.94 254.33h2.62v1.55h-2.62zM105.26 254.33h2.62v1.55h-2.62zM69.15 255.82h2.62v1.55h-2.62zM82.05 255.82h2.62v1.55h-2.62zM92.36 255.82h2.62v1.55h-2.62zM100.10 255.82h2.62v1.55h-2.62zM76.89 257.32h2.62v1.55h-2.62zM66.57 258.81h2.62v1.55h-2.62zM74.31 258.81h2.62v1.55h-2.62zM76.89 258.81h2.62v1.55h-2.62zM79.47 258.81h2.62v1.55h-2.62zM105.26 258.81h2.62v1.55h-2.62zM89.79 260.31h2.62v1.55h-2.62zM92.36 260.31h2.62v1.55h-2.62zM97.52 260.31h2.62v1.55h-2.62zM110.42 260.31h2.62v1.55h-2.62zM100.10 261.81h2.62v1.55h-2.62zM66.57 263.30h2.62v1.55h-2.62zM74.31 263.30h2.62v1.55h-2.62zM76.89 263.30h2.62v1.55h-2.62z"/>
<path fill="#d8d8f0" d="M58.83 26.90h2.62v1.55h-2.62zM79.47 26.90h2.62v1.55h-2.62zM82.05 29.89h2.62v1.55h-2.62zM94.94 29.89h2.62v1.55h-2.62zM58.83 38.87h2.62v1.55h-2.62zM58.83 40.36h2.62v1.55h-2.62zM94.94 40.36h2.62v1.55h-2.62zM53.67 43.36h2.62v1.55h-2.62zM58.83 43.36h2.62v1.55h-2.62zM110.42 44.85h2.62v1.55h-2.62zM56.25 46.35h2.62v1.55h-2.62zM69.15 46.35h2.62v1.55h-2.62zM56.25 53.83h2.62v1.55h-2.62zM102.68 55.33h2.62v1.55h-2.62zM48.51 56.82h2.62v1.55h-2.62zM56.25 56.82h2.62v1.55h-2.62zM69.15 56.82h2.62v1.55h-2.62zM56.25 59.81h2.62v1.55h-2.62zM58.83 59.81h2.62v1.55h-2.62zM58.83 62.81h2.62v1.55h-2.62zM58.83 64.30h2.62v1.55h-2.62zM66.57 64.30h2.62v1.55h-2.62zM87.21 68.79h2.62v1.55h-2.62zM48.51 71.78h2.62v1.55h-2.62zM89.79 71.78h2.62v1.55h-2.62zM92.36 71.78h2.62v1.55h-2.62zM53.67 73.28h2.62v1.55h-2.62zM56.25 73.28h2.62v1.55h-2.62zM45.94 74.78h2.62v1.55h-2.62zM56.25 77.77h2.62v1.55h-2.62zM71.73 82.26h2.62v1.55h-2.62zM76.89 82.26h2.62v1.55h-2.62zM94.94 85.25h2.62v1.55h-2.62zM48.51 86.75h2.62v1.55h-2.62zM87.21 88.24h2.62v1.55h-2.62zM110.42 88.24h2.62v1.55h-2.62zM45.94 89.74h2.62v1.55h-2.62zM48.51 89.74h2.62v1.55h-2.62zM66.57 89.74h2.62v1.55h-2.62zM38.20 91.24h2.62v1.55h-2.62zM58.83 98.72h2.62v1.55h-2.62zM69.15 98.72h2.62v1.55h-2.62zM69.15 100.21h2.62v1.55h-2.62zM92.36 109.19h2.62v1.55h-2.62zM102.68 109.19h2.62v1.55h-2.62zM53.67 110.69h2.62v1.55h-2.62zM53.67 112.18h2.62v1.55h-2.62zM58.83 112.18h2.62v1.55h-2.62zM102.68 112.18h2.62v1.55h-2.62zM45.94 113.68h2.62v1.55h-2.62zM69.15 115.18h2.62v1.55h-2.62zM63.99 116.67h2.62v1.55h-2.62zM35.62 119.66h2.62v1.55h-2.62zM51.09 121.16h2.62v1.55h-2.62zM58.83 124.15h2.62v1.55h-2.62zM48.51 125.65h2.62v1.55h-2.62zM56.25 125.65h2.62v1.55h-2.62zM58.83 127.15h2.62v1.55h-2.62zM110.42 127.15h2.62v1.55h-2.62zM56.25 128.64h2.62v1.55h-2.62zM110.42 130.14h2.62v1.55h-2.62zM107.84 134.63h2.62v1.55h-2.62zM63.99 136.12h2.62v1.55h-2.62zM102.68 136.12h2.62v1.55h-2.62zM63.99 140.61h2.62v1.55h-2.62zM58.83 142.11h2.62v1.55h-2.62zM63.99 145.10h2.62v1.55h-2.62zM82.05 145.10h2.62v1.55h-2.62zM97.52 146.60h2.62v1.55h-2.62zM84.63 148.09h2.62v1.55h-2.62zM100.10 148.09h2.62v1.55h-2.62zM43.36 149.59h2.62v1.55h-2.62zM69.15 149.59h2.62v1.55h-2.62zM94.94 149.59h2.62v1.55h-2.62zM79.47 151.09h2.62v1.55h-2.62zM100.10 151.09h2.62v1.55h-2.62zM102.68 151.09h2.62v1.55h-2.62zM69.15 154.08h2.62v1.55h-2.62zM107.84 154.08h2.62v1.55h-2.62zM43.36 155.57h2.62v1.55h-2.62zM61.41 155.57h2.62v1.55h-2.62zM82.05 155.57h2.62v1.55h-2.62zM87.21 157.07h2.62v1.55h-2.62zM89.79 158.57h2.62v1.55h-2.62zM100.10 158.57h2.62v1.55h-2.62zM61.41 160.06h2.62v1.55h-2.62zM71.73 160.06h2.62v1.55h-2.62zM74.31 160.06h2.62v1.55h-2.62zM74.31 161.56h2.62v1.55h-2.62zM40.78 163.06h2.62v1.55h-2.62zM51.09 163.06h2.62v1.55h-2.62zM56.25 163.06h2.62v1.55h-2.62zM63.99 166.05h2.62v1.55h-2.62zM84.63 166.05h2.62v1.55h-2.62zM105.26 166.05h2.62v1.55h-2.62zM61.41 167.54h2.62v1.55h-2.62zM74.31 167.54h2.62v1.55h-2.62zM97.52 167.54h2.62v1.55h-2.62zM105.26 167.54h2.62v1.55h-2.62zM61.41 169.04h2.62v1.55h-2.62zM89.79 169.04h2.62v1.55h-2.62zM74.31 170.54h2.62v1.55h-2.62zM79.47 170.54h2.62v1.55h-2.62zM87.21 170.54h2.62v1.55h-2.62zM97.52 170.54h2.62v1.55h-2.62zM66.57 172.03h2.62v1.55h-2.62zM94.94 172.03h2.62v1.55h-2.62zM63.99 173.53h2.62v1.55h-2.62zM110.42 175.03h2.62v1.55h-2.62zM69.15 176.52h2.62v1.55h-2.62zM105.26 176.52h2.62v1.55h-2.62zM71.73 178.02h2.62v1.55h-2.62zM76.89 178.02h2.62v1.55h-2.62zM89.79 181.01h2.62v1.55h-2.62zM76.89 182.51h2.62v1.55h-2.62zM76.89 184.00h2.62v1.55h-2.62zM89.79 184.00h2.62v1.55h-2.62zM105.26 184.00h2.62v1.55h-2.62zM92.36 185.50h2.62v1.55h-2.62zM97.52 185.50h2.62v1.55h-2.62zM69.15 187.00h2.62v1.55h-2.62zM79.47 187.00h2.62v1.55h-2.62zM100.10 187.00h2.62v1.55h-2.62zM74.31 192.98h2.62v1.55h-2.62zM76.89 192.98h2.62v1.55h-2.62zM61.41 194.48h2.62v1.55h-2.62zM63.99 194.48h2.62v1.55h-2.62zM69.15 194.48h2.62v1.55h-2.62zM97.52 194.48h2.62v1.55h-2.62zM33.04 195.97h2.62v1.55h-2.62zM74.31 195.97h2.62v1.55h-2.62zM100.10 195.97h2.62v1.55h-2.62zM102.68 197.47h2.62v1.55h-2.62zM87.21 198.97h2.62v1.55h-2.62zM66.57 203.45h2.62v1.55h-2.62zM92.36 204.95h2.62v1.55h-2.62zM102.68 204.95h2.62v1.55h-2.62zM82.05 206.45h2.62v1.55h-2.62zM102.68 206.45h2.62v1.55h-2.62zM69.15 207.94h2.62v1.55h-2.62zM94.94 207.94h2.62v1.55h-2.62zM92.36 209.44h2.62v1.55h-2.62zM94.94 209.44h2.62v1.55h-2.62zM82.05 210.94h2.62v1.55h-2.62zM66.57 215.42h2.62v1.55h-2.62zM76.89 215.42h2.62v1.55h-2.62zM69.15 216.92h2.62v1.55h-2.62zM87.21 219.91h2.62v1.55h-2.62zM110.42 219.91h2.62v1.55h-2.62zM94.94 221.41h2.62v1.55h-2.62zM63.99 222.91h2.62v1.55h-2.62zM69.15 222.91h2.62v1.55h-2.62zM87.21 222.91h2.62v1.55h-2.62zM38.20 225.90h2.62v1.55h-2.62zM30.46 227.39h2.62v1.55h-2.62zM94.94 228.89h2.62v1.55h-2.62zM71.73 230.39h2.62v1.55h-2.62zM27.88 233.38h2.62v1.55h-2.62zM61.41 237.87h2.62v1.55h-2.62zM79.47 240.86h2.62v1.55h-2.62zM87.21 242.36h2.62v1.55h-2.62zM94.94 242.36h2.62v1.55h-2.62zM100.10 243.85h2.62v1.55h-2.62zM61.41 245.35h2.62v1.55h-2.62zM63.99 245.35h2.62v1.55h-2.62zM71.73 245.35h2.62v1.55h-2.62zM89.79 245.35h2.62v1.55h-2.62zM105.26 245.35h2.62v1.55h-2.62zM61.41 246.85h2.62v1.55h-2.62zM63.99 246.85h2.62v1.55h-2.62zM71.73 246.85h2.62v1.55h-2.62zM79.47 246.85h2.62v1.55h-2.62zM102.68 246.85h2.62v1.55h-2.62zM84.63 248.34h2.62v1.55h-2.62zM110.42 248.34h2.62v1.55h-2.62zM63.99 249.84h2.62v1.55h-2.62zM84.63 249.84h2.62v1.55h-2.62zM69.15 251.33h2.62v1.55h-2.62zM71.73 251.33h2.62v1.55h-2.62zM74.31 251.33h2.62v1.55h-2.62zM110.42 251.33h2.62v1.55h-2.62zM69.15 252.83h2.62v1.55h-2.62zM79.47 252.83h2.62v1.55h-2.62zM100.10 252.83h2.62v1.55h-2.62zM35.62 254.33h2.62v1.55h-2.62zM74.31 254.33h2.62v1.55h-2.62zM79.47 254.33h2.62v1.55h-2.62zM97.52 254.33h2.62v1.55h-2.62zM87.21 255.82h2.62v1.55h-2.62zM94.94 255.82h2.62v1.55h-2.62zM107.84 255.82h2.62v1.55h-2.62zM35.62 257.32h2.62v1.55h-2.62zM63.99 257.32h2.62v1.55h-2.62zM66.57 257.32h2.62v1.55h-2.62zM97.52 257.32h2.62v1.55h-2.62zM110.42 257.32h2.62v1.55h-2.62zM69.15 258.81h2.62v1.55h-2.62zM102.68 260.31h2.62v1.55h-2.62zM97.52 261.81h2.62v1.55h-2.62zM33.04 263.30h2.62v1.55h-2.62zM89.79 263.30h2.62v1.55h-2.62zM92.36 263.30h2.62v1.55h-2.62zM105.26 263.30h2.62v1.55h-2.62z"/>
<path fill="#fc9090" d="M100.10 26.90h2.62v1.55h-2.62zM30.46 139.12h2.62v1.55h-2.62zM27.88 148.09h2.62v1.55h-2.62zM33.04 148.09h2.62v1.55h-2.62zM27.88 151.09h2.62v1.55h-2.62zM25.30 154.08h2.62v1.55h-2.62zM27.88 154.08h2.62v1.55h-2.62zM25.30 155.57h2.62v1.55h-2.62zM33.04 155.57h2.62v1.55h-2.62zM35.62 160.06h2.62v1.55h-2.62zM30.46 163.06h2.62v1.55h-2.62zM25.30 167.54h2.62v1.55h-2.62zM25.30 170.54h2.62v1.55h-2.62zM27.88 170.54h2.62v1.55h-2.62zM25.30 173.53h2.62v1.55h-2.62zM30.46 176.52h2.62v1.55h-2.62zM35.62 176.52h2.62v1.55h-2.62zM25.30 179.51h2.62v1.55h-2.62zM48.51 185.50h2.62v1.55h-2.62zM43.36 192.98h2.62v1.55h-2.62zM51.09 198.97h2.62v1.55h-2.62zM51.09 203.45h2.62v1.55h-2.62zM43.36 212.43h2.62v1.55h-2.62zM40.78 219.91h2.62v1.55h-2.62zM40.78 222.91h2.62v1.55h-2.62zM43.36 237.87h2.62v1.55h-2.62zM35.62 240.86h2.62v1.55h-2.62zM48.51 245.35h2.62v1.55h-2.62zM48.51 248.34h2.62v1.55h-2.62zM56.25 249.84h2.62v1.55h-2.62zM45.94 254.33h2.62v1.55h-2.62zM25.30 257.32h2.62v1.55h-2.62zM30.46 257.32h2.62v1.55h-2.62zM33.04 257.32h2.62v1.55h-2.62zM27.88 261.81h2.62v1.55h-2.62z"/>
<path fill="#fc5454" d="M30.46 28.39h2.62v1.55h-2.62z"/>
<path fill="#9c9ccc" d="M35.62 28.39h2.62v1.55h-2.62zM40.78 31.38h2.62v1.55h-2.62zM51.09 31.38h2.62v1.55h-2.62zM48.51 34.38h2.62v1.55h-2.62zM51.09 37.37h2.62v1.55h-2.62zM48.51 41.86h2.62v1.55h-2.62zM53.67 46.35h2.62v1.55h-2.62zM43.36 47.84h2.62v1.55h-2.62zM48.51 47.84h2.62v1.55h-2.62zM53.67 47.84h2.62v1.55h-2.62zM27.88 52.33h2.62v1.55h-2.62zM51.09 52.33h2.62v1.55h-2.62zM48.51 53.83h2.62v1.55h-2.62zM45.94 55.33h2.62v1.55h-2.62zM25.30 56.82h2.62v1.55h-2.62zM45.94 56.82h2.62v1.55h-2.62zM51.09 58.32h2.62v1.55h-2.62zM45.94 59.81h2.62v1.55h-2.62zM51.09 61.31h2.62v1.55h-2.62zM51.09 62.81h2.62v1.55h-2.62zM40.78 67.30h2.62v1.55h-2.62zM51.09 68.79h2.62v1.55h-2.62zM25.30 79.27h2.62v1.55h-2.62zM38.20 79.27h2.62v1.55h-2.62zM53.67 79.27h2.62v1.55h-2.62zM40.78 80.76h2.62v1.55h-2.62zM51.09 80.76h2.62v1.55h-2.62zM43.36 86.75h2.62v1.55h-2.62zM40.78 88.24h2.62v1.55h-2.62zM43.36 88.24h2.62v1.55h-2.62zM53.67 88.24h2.62v1.55h-2.62zM33.04 91.24h2.62v1.55h-2.62zM35.62 91.24h2.62v1.55h-2.62zM45.94 91.24h2.62v1.55h-2.62zM51.09 92.73h2.62v1.55h-2.62zM35.62 94.23h2.62v1.55h-2.62zM33.04 98.72h2.62v1.55h-2.62zM40.78 98.72h2.62v1.55h-2.62zM40.78 100.21h2.62v1.55h-2.62zM43.36 100.21h2.62v1.55h-2.62zM33.04 110.69h2.62v1.55h-2.62zM35.62 110.69h2.62v1.55h-2.62zM51.09 110.69h2.62v1.55h-2.62zM33.04 112.18h2.62v1.55h-2.62zM33.04 113.68h2.62v1.55h-2.62zM35.62 116.67h2.62v1.55h-2.62zM40.78 118.17h2.62v1.55h-2.62zM48.51 118.17h2.62v1.55h-2.62zM30.46 119.66h2.62v1.55h-2.62zM53.67 119.66h2.62v1.55h-2.62zM33.04 122.66h2.62v1.55h-2.62zM45.94 122.66h2.62v1.55h-2.62zM25.30 124.15h2.62v1.55h-2.62zM33.04 124.15h2.62v1.55h-2.62zM25.30 127.15h2.62v1.55h-2.62zM89.79 130.14h2.62v1.55h-2.62zM40.78 142.11h2.62v1.55h-2.62zM51.09 142.11h2.62v1.55h-2.62zM76.89 146.60h2.62v1.55h-2.62zM94.94 178.02h2.62v1.55h-2.62zM27.88 184.00h2.62v1.55h-2.62zM38.20 194.48h2.62v1.55h-2.62zM30.46 201.96h2.62v1.55h-2.62zM38.20 209.44h2.62v1.55h-2.62zM38.20 218.42h2.62v1.55h-2.62zM27.88 222.91h2.62v1.55h-2.62zM25.30 230.39h2.62v1.55h-2.62zM35.62 237.87h2.62v1.55h-2.62zM92.36 240.86h2.62v1.55h-2.62zM35.62 246.85h2.62v1.55h-2.62zM66.57 254.33h2.62v1.55h-2.62zM82.05 261.81h2.62v1.55h-2.62z"/>
<path fill="#7878c0" d="M38.20 28.39h2.62v1.55h-2.62zM53.67 28.39h2.62v1.55h-2.62zM43.36 31.38h2.62v1.55h-2.62zM25.30 34.38h2.62v1.55h-2.62zM48.51 38.87h2.62v1.55h-2.62zM43.36 40.36h2.62v1.55h-2.62zM30.46 46.35h2.62v1.55h-2.62zM30.46 52.33h2.62v1.55h-2.62zM51.09 53.83h2.62v1.55h-2.62zM27.88 56.82h2.62v1.55h-2.62zM30.46 56.82h2.62v1.55h-2.62zM38.20 56.82h2.62v1.55h-2.62zM38.20 58.32h2.62v1.55h-2.62zM27.88 61.31h2.62v1.55h-2.62zM45.94 65.80h2.62v1.55h-2.62zM38.20 71.78h2.62v1.55h-2.62zM40.78 79.27h2.62v1.55h-2.62zM43.36 85.25h2.62v1.55h-2.62zM45.94 88.24h2.62v1.55h-2.62zM40.78 97.22h2.62v1.55h-2.62zM51.09 97.22h2.62v1.55h-2.62zM40.78 107.69h2.62v1.55h-2.62zM25.30 110.69h2.62v1.55h-2.62zM30.46 110.69h2.62v1.55h-2.62zM40.78 112.18h2.62v1.55h-2.62zM43.36 113.68h2.62v1.55h-2.62zM33.04 116.67h2.62v1.55h-2.62zM30.46 121.16h2.62v1.55h-2.62zM43.36 121.16h2.62v1.55h-2.62zM38.20 127.15h2.62v1.55h-2.62zM51.09 130.14h2.62v1.55h-2.62zM40.78 139.12h2.62v1.55h-2.62zM33.04 191.48h2.62v1.55h-2.62zM33.04 194.48h2.62v1.55h-2.62zM25.30 203.45h2.62v1.55h-2.62zM35.62 203.45h2.62v1.55h-2.62zM27.88 209.44h2.62v1.55h-2.62zM33.04 209.44h2.62v1.55h-2.62zM38.20 213.93h2.62v1.55h-2.62zM33.04 216.92h2.62v1.55h-2.62zM35.62 221.41h2.62v1.55h-2.62zM27.88 224.40h2.62v1.55h-2.62zM33.04 237.87h2.62v1.55h-2.62z"/>
<path fill="#6c6cb4" d="M40.78 28.39h2.62v1.55h-2.62zM27.88 31.38h2.62v1.55h-2.62zM25.30 35.87h2.62v1.55h-2.62zM40.78 40.36h2.62v1.55h-2.62zM38.20 43.36h2.62v1.55h-2.62zM43.36 43.36h2.62v1.55h-2.62zM33.04 47.84h2.62v1.55h-2.62zM40.78 47.84h2.62v1.55h-2.62zM35.62 56.82h2.62v1.55h-2.62zM30.46 58.32h2.62v1.55h-2.62zM35.62 58.32h2.62v1.55h-2.62zM30.46 59.81h2.62v1.55h-2.62zM33.04 59.81h2.62v1.55h-2.62zM35.62 59.81h2.62v1.55h-2.62zM38.20 59.81h2.62v1.55h-2.62zM40.78 74.78h2.62v1.55h-2.62zM30.46 77.77h2.62v1.55h-2.62zM33.04 77.77h2.62v1.55h-2.62zM25.30 80.76h2.62v1.55h-2.62zM45.94 82.26h2.62v1.55h-2.62zM25.30 85.25h2.62v1.55h-2.62zM45.94 85.25h2.62v1.55h-2.62zM40.78 94.23h2.62v1.55h-2.62zM43.36 94.23h2.62v1.55h-2.62zM40.78 95.72h2.62v1.55h-2.62zM38.20 97.22h2.62v1.55h-2.62zM33.04 100.21h2.62v1.55h-2.62zM38.20 100.21h2.62v1.55h-2.62zM51.09 103.21h2.62v1.55h-2.62zM33.04 107.69h2.62v1.55h-2.62zM38.20 107.69h2.62v1.55h-2.62zM38.20 110.69h2.62v1.55h-2.62zM45.94 112.18h2.62v1.55h-2.62zM51.09 112.18h2.62v1.55h-2.62zM38.20 116.67h2.62v1.55h-2.62zM33.04 118.17h2.62v1.55h-2.62zM33.04 121.16h2.62v1.55h-2.62zM27.88 122.66h2.62v1.55h-2.62zM35.62 124.15h2.62v1.55h-2.62zM35.62 125.65h2.62v1.55h-2.62zM45.94 125.65h2.62v1.55h-2.62zM33.04 189.99h2.62v1.55h-2.62zM35.62 189.99h2.62v1.55h-2.62zM35.62 191.48h2.62v1.55h-2.62zM27.88 194.48h2.62v1.55h-2.62zM25.30 195.97h2.62v1.55h-2.62zM38.20 201.96h2.62v1.55h-2.62zM25.30 204.95h2.62v1.55h-2.62zM27.88 206.45h2.62v1.55h-2.62zM33.04 206.45h2.62v1.55h-2.62zM33.04 219.91h2.62v1.55h-2.62zM38.20 221.41h2.62v1.55h-2.62zM30.46 222.91h2.62v1.55h-2.62zM25.30 224.40h2.62v1.55h-2.62zM30.46 230.39h2.62v1.55h-2.62zM25.30 231.88h2.62v1.55h-2.62zM38.20 233.38h2.62v1.55h-2.62zM30.46 234.88h2.62v1.55h-2.62zM27.88 237.87h2.62v1.55h-2.62zM38.20 237.87h2.62v1.55h-2.62zM27.88 239.36h2.62v1.55h-2.62z"/>
<path fill="#303030" d="M43.36 28.39h2.62v1.55h-2.62zM45.94 28.39h2.62v1.55h-2.62zM33.04 29.89h2.62v1.55h-2.62zM35.62 29.89h2.62v1.55h-2.62zM27.88 32.88h2.62v1.55h-2.62zM30.46 32.88h2.62v1.55h-2.62zM107.84 32.88h2.62v1.55h-2.62zM43.36 34.38h2.62v1.55h-2.62zM27.88 37.37h2.62v1.55h-2.62zM40.78 37.37h2.62v1.55h-2.62zM30.46 38.87h2.62v1.55h-2.62zM33.04 41.86h2.62v1.55h-2.62zM35.62 41.86h2.62v1.55h-2.62zM53.67 41.86h2.62v1.55h-2.62zM30.46 44.85h2.62v1.55h-2.62zM35.62 44.85h2.62v1.55h-2.62zM40.78 44.85h2.62v1.55h-2.62zM51.09 44.85h2.62v1.55h-2.62zM33.04 49.34h2.62v1.55h-2.62zM43.36 49.34h2.62v1.55h-2.62zM45.94 49.34h2.62v1.55h-2.62zM58.83 49.34h2.62v1.55h-2.62zM74.31 49.34h2.62v1.55h-2.62zM53.67 52.33h2.62v1.55h-2.62zM43.36 53.83h2.62v1.55h-2.62zM33.04 55.33h2.62v1.55h-2.62zM25.30 64.30h2.62v1.55h-2.62zM33.04 64.30h2.62v1.55h-2.62zM27.88 65.80h2.62v1.55h-2.62zM43.36 68.79h2.62v1.55h-2.62zM43.36 70.29h2.62v1.55h-2.62zM25.30 73.28h2.62v1.55h-2.62zM30.46 73.28h2.62v1.55h-2.62zM38.20 73.28h2.62v1.55h-2.62zM30.46 76.27h2.62v1.55h-2.62zM43.36 76.27h2.62v1.55h-2.62zM110.42 80.76h2.62v1.55h-2.62zM30.46 83.75h2.62v1.55h-2.62zM33.04 83.75h2.62v1.55h-2.62zM105.26 83.75h2.62v1.55h-2.62zM30.46 89.74h2.62v1.55h-2.62zM84.63 89.74h2.62v1.55h-2.62zM43.36 92.73h2.62v1.55h-2.62zM48.51 94.23h2.62v1.55h-2.62zM30.46 95.72h2.62v1.55h-2.62zM38.20 95.72h2.62v1.55h-2.62zM43.36 98.72h2.62v1.55h-2.62zM27.88 101.71h2.62v1.55h-2.62zM27.88 106.20h2.62v1.55h-2.62zM30.46 107.69h2.62v1.55h-2.62zM27.88 109.19h2.62v1.55h-2.62zM97.52 109.19h2.62v1.55h-2.62zM43.36 112.18h2.62v1.55h-2.62zM27.88 115.18h2.62v1.55h-2.62zM38.20 115.18h2.62v1.55h-2.62zM27.88 118.17h2.62v1.55h-2.62zM30.46 124.15h2.62v1.55h-2.62zM35.62 130.14h2.62v1.55h-2.62zM40.78 130.14h2.62v1.55h-2.62zM48.51 131.63h2.62v1.55h-2.62zM53.67 131.63h2.62v1.55h-2.62zM71.73 131.63h2.62v1.55h-2.62zM92.36 131.63h2.62v1.55h-2.62zM45.94 133.13h2.62v1.55h-2.62zM51.09 133.13h2.62v1.55h-2.62zM48.51 134.63h2.62v1.55h-2.62zM48.51 136.12h2.62v1.55h-2.62zM33.04 137.62h2.62v1.55h-2.62zM43.36 140.61h2.62v1.55h-2.62zM30.46 142.11h2.62v1.55h-2.62zM30.46 143.60h2.62v1.55h-2.62zM58.83 143.60h2.62v1.55h-2.62zM84.63 143.60h2.62v1.55h-2.62zM110.42 143.60h2.62v1.55h-2.62zM40.78 145.10h2.62v1.55h-2.62zM45.94 145.10h2.62v1.55h-2.62zM53.67 151.09h2.62v1.55h-2.62zM56.25 151.09h2.62v1.55h-2.62zM92.36 151.09h2.62v1.55h-2.62zM35.62 152.58h2.62v1.55h-2.62zM53.67 152.58h2.62v1.55h-2.62zM25.30 158.57h2.62v1.55h-2.62zM40.78 158.57h2.62v1.55h-2.62zM45.94 158.57h2.62v1.55h-2.62zM94.94 158.57h2.62v1.55h-2.62zM53.67 161.56h2.62v1.55h-2.62zM38.20 164.55h2.62v1.55h-2.62zM56.25 164.55h2.62v1.55h-2.62zM110.42 164.55h2.62v1.55h-2.62zM51.09 175.03h2.62v1.55h-2.62zM58.83 175.03h2.62v1.55h-2.62zM74.31 175.03h2.62v1.55h-2.62zM79.47 175.03h2.62v1.55h-2.62zM48.51 179.51h2.62v1.55h-2.62zM74.31 179.51h2.62v1.55h-2.62zM76.89 179.51h2.62v1.55h-2.62zM97.52 179.51h2.62v1.55h-2.62zM100.10 179.51h2.62v1.55h-2.62zM43.36 181.01h2.62v1.55h-2.62zM48.51 181.01h2.62v1.55h-2.62zM92.36 181.01h2.62v1.55h-2.62zM100.10 182.51h2.62v1.55h-2.62zM30.46 185.50h2.62v1.55h-2.62zM30.46 187.00h2.62v1.55h-2.62zM33.04 187.00h2.62v1.55h-2.62zM38.20 187.00h2.62v1.55h-2.62zM82.05 187.00h2.62v1.55h-2.62zM35.62 200.46h2.62v1.55h-2.62zM38.20 200.46h2.62v1.55h-2.62zM25.30 207.94h2.62v1.55h-2.62zM35.62 207.94h2.62v1.55h-2.62zM33.04 215.42h2.62v1.55h-2.62zM61.41 215.42h2.62v1.55h-2.62zM33.04 221.41h2.62v1.55h-2.62zM51.09 227.39h2.62v1.55h-2.62zM45.94 230.39h2.62v1.55h-2.62zM27.88 234.88h2.62v1.55h-2.62zM38.20 234.88h2.62v1.55h-2.62zM51.09 240.86h2.62v1.55h-2.62zM35.62 242.36h2.62v1.55h-2.62zM58.83 242.36h2.62v1.55h-2.62zM43.36 243.85h2.62v1.55h-2.62zM38.20 251.33h2.62v1.55h-2.62zM56.25 251.33h2.62v1.55h-2.62zM58.83 251.33h2.62v1.55h-2.62zM25.30 252.83h2.62v1.55h-2.62zM63.99 252.83h2.62v1.55h-2.62zM92.36 252.83h2.62v1.55h-2.62zM107.84 252.83h2.62v1.55h-2.62zM38.20 254.33h2.62v1.55h-2.62zM71.73 254.33h2.62v1.55h-2.62zM38.20 258.81h2.62v1.55h-2.62zM40.78 258.81h2.62v1.55h-2.62z"/>
<path fill="#181818" d="M25.30 29.89h2.62v1.55h-2.62zM48.51 29.89h2.62v1.55h-2.62zM48.51 32.88h2.62v1.55h-2.62zM25.30 37.37h2.62v1.55h-2.62zM33.04 37.37h2.62v1.55h-2.62zM35.62 38.87h2.62v1.55h-2.62zM61.41 38.87h2.62v1.55h-2.62zM38.20 46.35h2.62v1.55h-2.62zM51.09 49.34h2.62v1.55h-2.62zM40.78 50.84h2.62v1.55h-2.62zM45.94 53.83h2.62v1.55h-2.62zM35.62 55.33h2.62v1.55h-2.62zM40.78 65.80h2.62v1.55h-2.62zM43.36 65.80h2.62v1.55h-2.62zM84.63 65.80h2.62v1.55h-2.62zM38.20 68.79h2.62v1.55h-2.62zM40.78 68.79h2.62v1.55h-2.62zM25.30 70.29h2.62v1.55h-2.62zM30.46 70.29h2.62v1.55h-2.62zM35.62 70.29h2.62v1.55h-2.62zM27.88 73.28h2.62v1.55h-2.62zM33.04 73.28h2.62v1.55h-2.62zM25.30 74.78h2.62v1.55h-2.62zM43.36 74.78h2.62v1.55h-2.62zM48.51 74.78h2.62v1.55h-2.62zM25.30 76.27h2.62v1.55h-2.62zM27.88 76.27h2.62v1.55h-2.62zM105.26 76.27h2.62v1.55h-2.62zM40.78 77.77h2.62v1.55h-2.62zM110.42 82.26h2.62v1.55h-2.62zM51.09 83.75h2.62v1.55h-2.62zM25.30 95.72h2.62v1.55h-2.62zM33.04 95.72h2.62v1.55h-2.62zM35.62 95.72h2.62v1.55h-2.62zM53.67 97.22h2.62v1.55h-2.62zM33.04 101.71h2.62v1.55h-2.62zM40.78 101.71h2.62v1.55h-2.62zM25.30 103.21h2.62v1.55h-2.62zM40.78 103.21h2.62v1.55h-2.62zM94.94 103.21h2.62v1.55h-2.62zM48.51 104.70h2.62v1.55h-2.62zM30.46 106.20h2.62v1.55h-2.62zM43.36 106.20h2.62v1.55h-2.62zM110.42 106.20h2.62v1.55h-2.62zM27.88 112.18h2.62v1.55h-2.62zM25.30 116.67h2.62v1.55h-2.62zM30.46 118.17h2.62v1.55h-2.62zM53.67 130.14h2.62v1.55h-2.62zM40.78 131.63h2.62v1.55h-2.62zM82.05 131.63h2.62v1.55h-2.62zM94.94 131.63h2.62v1.55h-2.62zM27.88 133.13h2.62v1.55h-2.62zM53.67 133.13h2.62v1.55h-2.62zM66.57 133.13h2.62v1.55h-2.62zM89.79 133.13h2.62v1.55h-2.62zM33.04 134.63h2.62v1.55h-2.62zM74.31 134.63h2.62v1.55h-2.62zM82.05 134.63h2.62v1.55h-2.62zM51.09 136.12h2.62v1.55h-2.62zM58.83 136.12h2.62v1.55h-2.62zM25.30 137.62h2.62v1.55h-2.62zM51.09 137.62h2.62v1.55h-2.62zM100.10 137.62h2.62v1.55h-2.62zM25.30 140.61h2.62v1.55h-2.62zM40.78 140.61h2.62v1.55h-2.62zM53.67 140.61h2.62v1.55h-2.62zM76.89 140.61h2.62v1.55h-2.62zM27.88 143.60h2.62v1.55h-2.62zM48.51 143.60h2.62v1.55h-2.62zM53.67 143.60h2.62v1.55h-2.62zM56.25 143.60h2.62v1.55h-2.62zM97.52 143.60h2.62v1.55h-2.62zM48.51 145.10h2.62v1.55h-2.62zM51.09 145.10h2.62v1.55h-2.62zM53.67 145.10h2.62v1.55h-2.62zM40.78 152.58h2.62v1.55h-2.62zM79.47 152.58h2.62v1.55h-2.62zM107.84 152.58h2.62v1.55h-2.62zM97.52 158.57h2.62v1.55h-2.62zM45.94 161.56h2.62v1.55h-2.62zM89.79 161.56h2.62v1.55h-2.62zM71.73 170.54h2.62v1.55h-2.62zM35.62 173.53h2.62v1.55h-2.62zM25.30 175.03h2.62v1.55h-2.62zM30.46 175.03h2.62v1.55h-2.62zM40.78 175.03h2.62v1.55h-2.62zM43.36 175.03h2.62v1.55h-2.62zM48.51 175.03h2.62v1.55h-2.62zM66.57 175.03h2.62v1.55h-2.62zM76.89 175.03h2.62v1.55h-2.62zM100.10 175.03h2.62v1.55h-2.62zM58.83 176.52h2.62v1.55h-2.62zM25.30 178.02h2.62v1.55h-2.62zM48.51 178.02h2.62v1.55h-2.62zM102.68 178.02h2.62v1.55h-2.62zM33.04 179.51h2.62v1.55h-2.62zM51.09 179.51h2.62v1.55h-2.62zM87.21 179.51h2.62v1.55h-2.62zM92.36 179.51h2.62v1.55h-2.62zM66.57 181.01h2.62v1.55h-2.62zM102.68 181.01h2.62v1.55h-2.62zM110.42 181.01h2.62v1.55h-2.62zM105.26 187.00h2.62v1.55h-2.62zM27.88 189.99h2.62v1.55h-2.62zM38.20 192.98h2.62v1.55h-2.62zM30.46 197.47h2.62v1.55h-2.62zM27.88 200.46h2.62v1.55h-2.62zM33.04 200.46h2.62v1.55h-2.62zM53.67 207.94h2.62v1.55h-2.62zM84.63 207.94h2.62v1.55h-2.62zM25.30 210.94h2.62v1.55h-2.62zM30.46 210.94h2.62v1.55h-2.62zM35.62 210.94h2.62v1.55h-2.62zM33.04 213.93h2.62v1.55h-2.62zM56.25 215.42h2.62v1.55h-2.62zM25.30 216.92h2.62v1.55h-2.62zM38.20 216.92h2.62v1.55h-2.62zM82.05 216.92h2.62v1.55h-2.62zM51.09 224.40h2.62v1.55h-2.62zM35.62 225.90h2.62v1.55h-2.62zM25.30 227.39h2.62v1.55h-2.62zM74.31 227.39h2.62v1.55h-2.62zM48.51 234.88h2.62v1.55h-2.62zM56.25 234.88h2.62v1.55h-2.62zM25.30 236.37h2.62v1.55h-2.62zM45.94 236.37h2.62v1.55h-2.62zM33.04 242.36h2.62v1.55h-2.62zM43.36 242.36h2.62v1.55h-2.62zM38.20 243.85h2.62v1.55h-2.62zM43.36 245.35h2.62v1.55h-2.62zM51.09 249.84h2.62v1.55h-2.62zM107.84 249.84h2.62v1.55h-2.62zM30.46 252.83h2.62v1.55h-2.62zM35.62 252.83h2.62v1.55h-2.62zM76.89 252.83h2.62v1.55h-2.62zM33.04 254.33h2.62v1.55h-2.62zM69.15 254.33h2.62v1.55h-2.62zM76.89 254.33h2.62v1.55h-2.62zM35.62 258.81h2.62v1.55h-2.62zM71.73 258.81h2.62v1.55h-2.62z"/>
<path fill="#0c0c0c" d="M30.46 29.89h2.62v1.55h-2.62zM51.09 32.88h2.62v1.55h-2.62zM27.88 34.38h2.62v1.55h-2.62zM38.20 35.87h2.62v1.55h-2.62zM35.62 37.37h2.62v1.55h-2.62zM43.36 37.37h2.62v1.55h-2.62zM25.30 38.87h2.62v1.55h-2.62zM27.88 38.87h2.62v1.55h-2.62zM33.04 38.87h2.62v1.55h-2.62zM38.20 38.87h2.62v1.55h-2.62zM25.30 41.86h2.62v1.55h-2.62zM38.20 41.86h2.62v1.55h-2.62zM51.09 41.86h2.62v1.55h-2.62zM38.20 44.85h2.62v1.55h-2.62zM43.36 44.85h2.62v1.55h-2.62zM25.30 49.34h2.62v1.55h-2.62zM35.62 49.34h2.62v1.55h-2.62zM48.51 49.34h2.62v1.55h-2.62zM30.46 50.84h2.62v1.55h-2.62zM33.04 50.84h2.62v1.55h-2.62zM45.94 50.84h2.62v1.55h-2.62zM107.84 50.84h2.62v1.55h-2.62zM30.46 53.83h2.62v1.55h-2.62zM33.04 53.83h2.62v1.55h-2.62zM25.30 55.33h2.62v1.55h-2.62zM33.04 58.32h2.62v1.55h-2.62zM30.46 61.31h2.62v1.55h-2.62zM25.30 68.79h2.62v1.55h-2.62zM40.78 70.29h2.62v1.55h-2.62zM43.36 71.78h2.62v1.55h-2.62zM35.62 73.28h2.62v1.55h-2.62zM43.36 73.28h2.62v1.55h-2.62zM27.88 74.78h2.62v1.55h-2.62zM27.88 82.26h2.62v1.55h-2.62zM35.62 82.26h2.62v1.55h-2.62zM25.30 83.75h2.62v1.55h-2.62zM38.20 83.75h2.62v1.55h-2.62zM43.36 83.75h2.62v1.55h-2.62zM33.04 89.74h2.62v1.55h-2.62zM35.62 89.74h2.62v1.55h-2.62zM43.36 89.74h2.62v1.55h-2.62zM25.30 91.24h2.62v1.55h-2.62zM35.62 92.73h2.62v1.55h-2.62zM27.88 95.72h2.62v1.55h-2.62zM97.52 95.72h2.62v1.55h-2.62zM35.62 101.71h2.62v1.55h-2.62zM30.46 103.21h2.62v1.55h-2.62zM30.46 109.19h2.62v1.55h-2.62zM38.20 109.19h2.62v1.55h-2.62zM48.51 109.19h2.62v1.55h-2.62zM25.30 112.18h2.62v1.55h-2.62zM35.62 112.18h2.62v1.55h-2.62zM38.20 112.18h2.62v1.55h-2.62zM38.20 118.17h2.62v1.55h-2.62zM27.88 127.15h2.62v1.55h-2.62zM30.46 131.63h2.62v1.55h-2.62zM33.04 131.63h2.62v1.55h-2.62zM63.99 131.63h2.62v1.55h-2.62zM107.84 131.63h2.62v1.55h-2.62zM25.30 133.13h2.62v1.55h-2.62zM35.62 133.13h2.62v1.55h-2.62zM38.20 133.13h2.62v1.55h-2.62zM38.20 134.63h2.62v1.55h-2.62zM35.62 136.12h2.62v1.55h-2.62zM69.15 136.12h2.62v1.55h-2.62zM82.05 136.12h2.62v1.55h-2.62zM84.63 136.12h2.62v1.55h-2.62zM27.88 137.62h2.62v1.55h-2.62zM40.78 137.62h2.62v1.55h-2.62zM43.36 137.62h2.62v1.55h-2.62zM58.83 137.62h2.62v1.55h-2.62zM27.88 140.61h2.62v1.55h-2.62zM33.04 140.61h2.62v1.55h-2.62zM38.20 140.61h2.62v1.55h-2.62zM76.89 143.60h2.62v1.55h-2.62zM92.36 143.60h2.62v1.55h-2.62zM94.94 143.60h2.62v1.55h-2.62zM38.20 152.58h2.62v1.55h-2.62zM56.25 152.58h2.62v1.55h-2.62zM51.09 158.57h2.62v1.55h-2.62zM107.84 158.57h2.62v1.55h-2.62zM25.30 161.56h2.62v1.55h-2.62zM51.09 161.56h2.62v1.55h-2.62zM100.10 161.56h2.62v1.55h-2.62zM107.84 161.56h2.62v1.55h-2.62zM51.09 172.03h2.62v1.55h-2.62zM92.36 175.03h2.62v1.55h-2.62zM94.94 175.03h2.62v1.55h-2.62zM33.04 178.02h2.62v1.55h-2.62zM38.20 178.02h2.62v1.55h-2.62zM56.25 178.02h2.62v1.55h-2.62zM58.83 178.02h2.62v1.55h-2.62zM45.94 179.51h2.62v1.55h-2.62zM56.25 179.51h2.62v1.55h-2.62zM94.94 179.51h2.62v1.55h-2.62zM105.26 179.51h2.62v1.55h-2.62zM33.04 181.01h2.62v1.55h-2.62zM71.73 181.01h2.62v1.55h-2.62zM45.94 184.00h2.62v1.55h-2.62zM61.41 184.00h2.62v1.55h-2.62zM69.15 185.50h2.62v1.55h-2.62zM100.10 185.50h2.62v1.55h-2.62zM35.62 187.00h2.62v1.55h-2.62zM43.36 187.00h2.62v1.55h-2.62zM102.68 187.00h2.62v1.55h-2.62zM38.20 197.47h2.62v1.55h-2.62zM79.47 200.46h2.62v1.55h-2.62zM38.20 203.45h2.62v1.55h-2.62zM30.46 207.94h2.62v1.55h-2.62zM38.20 207.94h2.62v1.55h-2.62zM33.04 210.94h2.62v1.55h-2.62zM38.20 215.42h2.62v1.55h-2.62zM35.62 216.92h2.62v1.55h-2.62zM38.20 224.40h2.62v1.55h-2.62zM25.30 225.90h2.62v1.55h-2.62zM38.20 227.39h2.62v1.55h-2.62zM56.25 227.39h2.62v1.55h-2.62zM33.04 230.39h2.62v1.55h-2.62zM66.57 230.39h2.62v1.55h-2.62zM40.78 236.37h2.62v1.55h-2.62zM66.57 236.37h2.62v1.55h-2.62zM30.46 242.36h2.62v1.55h-2.62zM30.46 243.85h2.62v1.55h-2.62zM33.04 243.85h2.62v1.55h-2.62zM35.62 243.85h2.62v1.55h-2.62zM51.09 243.85h2.62v1.55h-2.62zM35.62 248.34h2.62v1.55h-2.62zM33.04 251.33h2.62v1.55h-2.62zM27.88 252.83h2.62v1.55h-2.62zM40.78 252.83h2.62v1.55h-2.62zM43.36 252.83h2.62v1.55h-2.62zM56.25 254.33h2.62v1.55h-2.62zM100.10 254.33h2.62v1.55h-2.62zM48.51 258.81h2.62v1.55h-2.62zM56.25 258.81h2.62v1.55h-2.62zM107.84 258.81h2.62v1.55h-2.62z"/>
<path fill="#3c3c9c" d="M33.04 31.38h2.62v1.55h-2.62zM33.04 34.38h2.62v1.55h-2.62zM33.04 43.36h2.62v1.55h-2.62zM40.78 43.36h2.62v1.55h-2.62zM38.20 61.31h2.62v1.55h-2.62zM30.46 71.78h2.62v1.55h-2.62zM43.36 91.24h2.62v1.55h-2.62zM27.88 94.23h2.62v1.55h-2.62zM33.04 94.23h2.62v1.55h-2.62zM38.20 101.71h2.62v1.55h-2.62zM25.30 122.66h2.62v1.55h-2.62zM30.46 122.66h2.62v1.55h-2.62zM27.88 182.51h2.62v1.55h-2.62zM25.30 184.00h2.62v1.55h-2.62zM35.62 184.00h2.62v1.55h-2.62zM30.46 204.95h2.62v1.55h-2.62zM35.62 206.45h2.62v1.55h-2.62zM33.04 218.42h2.62v1.55h-2.62zM33.04 222.91h2.62v1.55h-2.62zM35.62 222.91h2.62v1.55h-2.62zM27.88 231.88h2.62v1.55h-2.62zM30.46 231.88h2.62v1.55h-2.62z"/>
<path fill="#6060b4" d="M45.94 31.38h2.62v1.55h-2.62zM35.62 34.38h2.62v1.55h-2.62zM33.04 35.87h2.62v1.55h-2.62zM33.04 40.36h2.62v1.55h-2.62zM33.04 46.35h2.62v1.55h-2.62zM38.20 67.30h2.62v1.55h-2.62zM25.30 77.77h2.62v1.55h-2.62zM27.88 80.76h2.62v1.55h-2.62zM38.20 85.25h2.62v1.55h-2.62zM38.20 88.24h2.62v1.55h-2.62zM30.46 94.23h2.62v1.55h-2.62zM30.46 97.22h2.62v1.55h-2.62zM27.88 104.70h2.62v1.55h-2.62zM27.88 119.66h2.62v1.55h-2.62zM43.36 139.12h2.62v1.55h-2.62zM30.46 184.00h2.62v1.55h-2.62zM35.62 198.97h2.62v1.55h-2.62zM33.04 201.96h2.62v1.55h-2.62zM33.04 203.45h2.62v1.55h-2.62zM35.62 204.95h2.62v1.55h-2.62zM25.30 209.44h2.62v1.55h-2.62zM30.46 209.44h2.62v1.55h-2.62zM33.04 212.43h2.62v1.55h-2.62zM35.62 218.42h2.62v1.55h-2.62zM38.20 222.91h2.62v1.55h-2.62zM25.30 237.87h2.62v1.55h-2.62z"/>
<path fill="#30309c" d="M30.46 34.38h2.62v1.55h-2.62zM43.36 52.33h2.62v1.55h-2.62zM27.88 88.24h2.62v1.55h-2.62zM30.46 182.51h2.62v1.55h-2.62zM25.30 219.91h2.62v1.55h-2.62z"/>
<path fill="#5454a8" d="M27.88 35.87h2.62v1.55h-2.62zM35.62 35.87h2.62v1.55h-2.62zM40.78 35.87h2.62v1.55h-2.62zM43.36 56.82h2.62v1.55h-2.62zM27.88 58.32h2.62v1.55h-2.62zM40.78 59.81h2.62v1.55h-2.62zM25.30 61.31h2.62v1.55h-2.62zM35.62 62.81h2.62v1.55h-2.62zM27.88 67.30h2.62v1.55h-2.62zM43.36 67.30h2.62v1.55h-2.62zM48.51 98.72h2.62v1.55h-2.62zM25.30 115.18h2.62v1.55h-2.62zM25.30 125.65h2.62v1.55h-2.62zM43.36 125.65h2.62v1.55h-2.62zM35.62 182.51h2.62v1.55h-2.62zM27.88 191.48h2.62v1.55h-2.62zM25.30 192.98h2.62v1.55h-2.62zM30.46 194.48h2.62v1.55h-2.62zM33.04 198.97h2.62v1.55h-2.62zM27.88 204.95h2.62v1.55h-2.62zM25.30 212.43h2.62v1.55h-2.62zM35.62 219.91h2.62v1.55h-2.62zM27.88 221.41h2.62v1.55h-2.62zM27.88 230.39h2.62v1.55h-2.62zM35.62 231.88h2.62v1.55h-2.62zM27.88 236.37h2.62v1.55h-2.62z"/>
<path fill="#a8a8cc" d="M53.67 35.87h2.62v1.55h-2.62zM53.67 40.36h2.62v1.55h-2.62zM40.78 52.33h2.62v1.55h-2.62zM33.04 62.81h2.62v1.55h-2.62zM48.51 62.81h2.62v1.55h-2.62zM69.15 68.79h2.62v1.55h-2.62zM35.62 85.25h2.62v1.55h-2.62zM53.67 100.21h2.62v1.55h-2.62zM48.51 101.71h2.62v1.55h-2.62zM35.62 104.70h2.62v1.55h-2.62zM82.05 106.20h2.62v1.55h-2.62zM27.88 107.69h2.62v1.55h-2.62zM53.67 115.18h2.62v1.55h-2.62zM48.51 119.66h2.62v1.55h-2.62zM48.51 127.15h2.62v1.55h-2.62z"/>
<path fill="#d8d8e4" d="M53.67 38.87h2.62v1.55h-2.62zM110.42 50.84h2.62v1.55h-2.62zM58.83 53.83h2.62v1.55h-2.62zM89.79 64.30h2.62v1.55h-2.62zM33.04 67.30h2.62v1.55h-2.62zM102.68 70.29h2.62v1.55h-2.62zM53.67 80.76h2.62v1.55h-2.62zM102.68 85.25h2.62v1.55h-2.62zM107.84 91.24h2.62v1.55h-2.62zM79.47 95.72h2.62v1.55h-2.62zM61.41 103.21h2.62v1.55h-2.62zM35.62 107.69h2.62v1.55h-2.62zM51.09 107.69h2.62v1.55h-2.62zM58.83 107.69h2.62v1.55h-2.62zM76.89 112.18h2.62v1.55h-2.62zM51.09 118.17h2.62v1.55h-2.62zM61.41 137.62h2.62v1.55h-2.62zM97.52 137.62h2.62v1.55h-2.62zM43.36 142.11h2.62v1.55h-2.62zM61.41 146.60h2.62v1.55h-2.62zM97.52 148.09h2.62v1.55h-2.62zM71.73 154.08h2.62v1.55h-2.62zM74.31 154.08h2.62v1.55h-2.62zM97.52 155.57h2.62v1.55h-2.62zM69.15 163.06h2.62v1.55h-2.62zM71.73 164.55h2.62v1.55h-2.62zM66.57 167.54h2.62v1.55h-2.62zM102.68 167.54h2.62v1.55h-2.62zM110.42 167.54h2.62v1.55h-2.62zM66.57 176.52h2.62v1.55h-2.62zM69.15 179.51h2.62v1.55h-2.62zM94.94 187.00h2.62v1.55h-2.62zM97.52 187.00h2.62v1.55h-2.62zM87.21 191.48h2.62v1.55h-2.62zM105.26 195.97h2.62v1.55h-2.62zM92.36 215.42h2.62v1.55h-2.62zM74.31 221.41h2.62v1.55h-2.62zM66.57 240.86h2.62v1.55h-2.62zM76.89 240.86h2.62v1.55h-2.62zM69.15 242.36h2.62v1.55h-2.62zM63.99 243.85h2.62v1.55h-2.62zM107.84 243.85h2.62v1.55h-2.62zM27.88 248.34h2.62v1.55h-2.62zM76.89 251.33h2.62v1.55h-2.62zM63.99 254.33h2.62v1.55h-2.62zM107.84 254.33h2.62v1.55h-2.62zM105.26 260.31h2.62v1.55h-2.62z"/>
<path fill="#181890" d="M35.62 40.36h2.62v1.55h-2.62zM27.88 43.36h2.62v1.55h-2.62zM35.62 43.36h2.62v1.55h-2.62zM25.30 198.97h2.62v1.55h-2.62zM25.30 201.96h2.62v1.55h-2.62zM30.46 203.45h2.62v1.55h-2.62zM38.20 204.95h2.62v1.55h-2.62zM35.62 224.40h2.62v1.55h-2.62z"/>
<path fill="#9090c0" d="M43.36 41.86h2.62v1.55h-2.62zM45.94 41.86h2.62v1.55h-2.62zM45.94 44.85h2.62v1.55h-2.62zM27.88 46.35h2.62v1.55h-2.62zM35.62 46.35h2.62v1.55h-2.62zM25.30 47.84h2.62v1.55h-2.62zM27.88 47.84h2.62v1.55h-2.62zM33.04 71.78h2.62v1.55h-2.62zM35.62 71.78h2.62v1.55h-2.62zM27.88 77.77h2.62v1.55h-2.62zM51.09 77.77h2.62v1.55h-2.62zM48.51 85.25h2.62v1.55h-2.62zM45.94 92.73h2.62v1.55h-2.62zM27.88 97.22h2.62v1.55h-2.62zM48.51 97.22h2.62v1.55h-2.62zM45.94 98.72h2.62v1.55h-2.62zM45.94 100.21h2.62v1.55h-2.62zM45.94 101.71h2.62v1.55h-2.62zM43.36 110.69h2.62v1.55h-2.62zM25.30 113.68h2.62v1.55h-2.62zM38.20 113.68h2.62v1.55h-2.62zM40.78 113.68h2.62v1.55h-2.62zM51.09 116.67h2.62v1.55h-2.62zM38.20 128.64h2.62v1.55h-2.62zM33.04 184.00h2.62v1.55h-2.62zM30.46 206.45h2.62v1.55h-2.62zM35.62 212.43h2.62v1.55h-2.62zM25.30 213.93h2.62v1.55h-2.62zM35.62 228.89h2.62v1.55h-2.62zM35.62 233.38h2.62v1.55h-2.62zM63.99 258.81h2.62v1.55h-2.62z"/>
<path fill="#7878b4" d="M25.30 46.35h2.62v1.55h-2.62zM43.36 61.31h2.62v1.55h-2.62zM51.09 64.30h2.62v1.55h-2.62zM43.36 77.77h2.62v1.55h-2.62zM38.20 195.97h2.62v1.55h-2.62z"/>
<path fill="#4848a8" d="M30.46 47.84h2.62v1.55h-2.62zM38.20 47.84h2.62v1.55h-2.62zM40.78 58.32h2.62v1.55h-2.62zM30.46 85.25h2.62v1.55h-2.62zM38.20 86.75h2.62v1.55h-2.62zM27.88 91.24h2.62v1.55h-2.62zM27.88 98.72h2.62v1.55h-2.62zM30.46 113.68h2.62v1.55h-2.62zM27.88 121.16h2.62v1.55h-2.62zM35.62 142.11h2.62v1.55h-2.62zM38.20 182.51h2.62v1.55h-2.62zM30.46 192.98h2.62v1.55h-2.62zM27.88 203.45h2.62v1.55h-2.62zM27.88 215.42h2.62v1.55h-2.62zM33.04 231.88h2.62v1.55h-2.62zM25.30 239.36h2.62v1.55h-2.62zM35.62 239.36h2.62v1.55h-2.62z"/>
<path fill="#242490" d="M43.36 59.81h2.62v1.55h-2.62zM33.04 80.76h2.62v1.55h-2.62zM30.46 212.43h2.62v1.55h-2.62zM35.62 213.93h2.62v1.55h-2.62z"/>
<path fill="#48489c" d="M33.04 85.25h2.62v1.55h-2.62zM25.30 182.51h2.62v1.55h-2.62z"/>
<path fill="#000084" d="M35.62 88.24h2.62v1.55h-2.62z"/>
<path fill="#6060a8" d="M30.46 91.24h2.62v1.55h-2.62zM27.88 100.21h2.62v1.55h-2.62zM25.30 228.89h2.62v1.55h-2.62z"/>
<path fill="#fc3030" d="M30.46 130.14h2.62v1.55h-2.62z"/>
<path fill="#fc7878" d="M100.10 130.14h2.62v1.55h-2.62zM38.20 151.09h2.62v1.55h-2.62zM25.30 157.07h2.62v1.55h-2.62zM27.88 167.54h2.62v1.55h-2.62zM30.46 167.54h2.62v1.55h-2.62zM25.30 240.86h2.62v1.55h-2.62z"/>
<path fill="#fc4848" d="M27.88 142.11h2.62v1.55h-2.62z"/>
<path fill="#fc6c6c" d="M33.04 151.09h2.62v1.55h-2.62zM27.88 152.58h2.62v1.55h-2.62zM30.46 173.53h2.62v1.55h-2.62zM27.88 246.85h2.62v1.55h-2.62z"/>
<path fill="#fc2424" d="M27.88 263.30h2.62v1.55h-2.62z"/>
</g>
<rect x="25.3" y="12.1" width="16" height="10.1" fill="#FDE0DD"/>
<rect x="41.3" y="12.1" width="20.2" height="10.1" fill="#FA9FB5"/>
<rect x="61.5" y="12.1" width="51.5" height="10.1" fill="#C51B8A"/>
<line x1="65.46" y1="12.1" x2="65.46" y2="22.2" stroke="#D65AA6" stroke-width="0.6" stroke-opacity="0.35"/>
<line x1="69.42" y1="12.1" x2="69.42" y2="22.2" stroke="#D65AA6" stroke-width="0.6" stroke-opacity="0.35"/>
<line x1="73.38" y1="12.1" x2="73.38" y2="22.2" stroke="#D65AA6" stroke-width="0.6" stroke-opacity="0.35"/>
<line x1="77.34" y1="12.1" x2="77.34" y2="22.2" stroke="#D65AA6" stroke-width="0.6" stroke-opacity="0.35"/>
<line x1="81.30" y1="12.1" x2="81.30" y2="22.2" stroke="#D65AA6" stroke-width="0.6" stroke-opacity="0.35"/>
<line x1="85.26" y1="12.1" x2="85.26" y2="22.2" stroke="#D65AA6" stroke-width="0.6" stroke-opacity="0.35"/>
<line x1="89.22" y1="12.1" x2="89.22" y2="22.2" stroke="#D65AA6" stroke-width="0.6" stroke-opacity="0.35"/>
<line x1="93.18" y1="12.1" x2="93.18" y2="22.2" stroke="#D65AA6" stroke-width="0.6" stroke-opacity="0.35"/>
<line x1="97.14" y1="12.1" x2="97.14" y2="22.2" stroke="#D65AA6" stroke-width="0.6" stroke-opacity="0.35"/>
<line x1="101.10" y1="12.1" x2="101.10" y2="22.2" stroke="#D65AA6" stroke-width="0.6" stroke-opacity="0.35"/>
<line x1="105.06" y1="12.1" x2="105.06" y2="22.2" stroke="#D65AA6" stroke-width="0.6" stroke-opacity="0.35"/>
<line x1="109.02" y1="12.1" x2="109.02" y2="22.2" stroke="#D65AA6" stroke-width="0.6" stroke-opacity="0.35"/>
<line x1="45.34" y1="12.1" x2="45.34" y2="22.2" stroke="#FBB5C8" stroke-width="0.6" stroke-opacity="0.35"/>
<line x1="49.38" y1="12.1" x2="49.38" y2="22.2" stroke="#FBB5C8" stroke-width="0.6" stroke-opacity="0.35"/>
<line x1="53.42" y1="12.1" x2="53.42" y2="22.2" stroke="#FBB5C8" stroke-width="0.6" stroke-opacity="0.35"/>
<line x1="57.46" y1="12.1" x2="57.46" y2="22.2" stroke="#FBB5C8" stroke-width="0.6" stroke-opacity="0.35"/>
<text transform="translate(119.40,19.80) scale(1,1.04)" font-size="8" text-anchor="start" font-weight="bold" fill="#1a1a1a" stroke="#1a1a1a" stroke-width="0.18" >Group</text>
<rect x="119.2" y="22.7" width="12" height="11.7" fill="#FDE0DD"/>
<rect x="119.2" y="34.4" width="12" height="11.7" fill="#FA9FB5"/>
<rect x="119.2" y="46.1" width="12" height="11.7" fill="#C51B8A"/>
<text transform="translate(133.00,31.60) scale(1,1.12)" font-size="8.2" text-anchor="start" font-weight="normal" fill="#1a1a1a" stroke="#1a1a1a" stroke-width="0.18" >Virgin</text>
<text transform="translate(133.00,43.30) scale(1,1.12)" font-size="8.2" text-anchor="start" font-weight="normal" fill="#1a1a1a" stroke="#1a1a1a" stroke-width="0.18" >Incipient</text>
<text transform="translate(133.00,55.00) scale(1,1.12)" font-size="8.2" text-anchor="start" font-weight="normal" fill="#1a1a1a" stroke="#1a1a1a" stroke-width="0.18" >Established</text>
<defs><linearGradient id="zg" x1="0" y1="0" x2="0" y2="1">
<stop offset="0.000" stop-color="#ff0000"/>
<stop offset="0.050" stop-color="#ff0b0b"/>
<stop offset="0.100" stop-color="#ff2626"/>
<stop offset="0.150" stop-color="#ff4141"/>
<stop offset="0.200" stop-color="#ff5c5c"/>
<stop offset="0.250" stop-color="#ff7878"/>
<stop offset="0.300" stop-color="#ff9393"/>
<stop offset="0.350" stop-color="#ffaeae"/>
<stop offset="0.400" stop-color="#ffc9c9"/>
<stop offset="0.450" stop-color="#ffe4e4"/>
<stop offset="0.500" stop-color="#ffffff"/>
<stop offset="0.550" stop-color="#e4e4f2"/>
<stop offset="0.600" stop-color="#c9c9e4"/>
<stop offset="0.650" stop-color="#aeaed7"/>
<stop offset="0.700" stop-color="#9393c9"/>
<stop offset="0.750" stop-color="#7878bc"/>
<stop offset="0.800" stop-color="#5c5cae"/>
<stop offset="0.850" stop-color="#4141a1"/>
<stop offset="0.900" stop-color="#262693"/>
<stop offset="0.950" stop-color="#0b0b86"/>
<stop offset="1.000" stop-color="#000080"/>
</linearGradient></defs>
<rect x="119.1" y="79.4" width="12.2" height="185.4" fill="url(#zg)"/>
<text transform="translate(125.20,77.60) scale(1,1.04)" font-size="8" text-anchor="middle" font-weight="bold" fill="#1a1a1a" stroke="#1a1a1a" stroke-width="0.18" >z</text>
<text transform="translate(136.60,88.60) scale(1,1.04)" font-size="9.8" text-anchor="start" font-weight="normal" fill="#1a1a1a" stroke="#1a1a1a" stroke-width="0.18" >4</text>
<text transform="translate(136.60,132.20) scale(1,1.04)" font-size="9.8" text-anchor="start" font-weight="normal" fill="#1a1a1a" stroke="#1a1a1a" stroke-width="0.18" >2</text>
<text transform="translate(136.60,175.70) scale(1,1.04)" font-size="9.8" text-anchor="start" font-weight="normal" fill="#1a1a1a" stroke="#1a1a1a" stroke-width="0.18" >0</text>
<text transform="translate(136.60,219.60) scale(1,1.04)" font-size="9.8" text-anchor="start" font-weight="normal" fill="#1a1a1a" stroke="#1a1a1a" stroke-width="0.18" >-2</text>
<text transform="translate(136.60,263.10) scale(1,1.04)" font-size="9.8" text-anchor="start" font-weight="normal" fill="#1a1a1a" stroke="#1a1a1a" stroke-width="0.18" >-4</text>
<text transform="translate(4.00,22.90) scale(1,1.04)" font-size="16.8" text-anchor="start" font-weight="normal" fill="#1a1a1a" stroke="#1a1a1a" stroke-width="0.18" >A.</text>
<path d="M270.0 204.0 L271.5 211.0 L272.5 217.0 L274.0 223.5 L276.5 229.0 L282.0 232.8 L291.0 234.6 L299.0 233.2 L304.5 230.0 L308.5 224.5 L309.5 217.0 L309.5 205.0 L308.8 196.0 L306.5 192.0 L304.5 196.0 L303.5 202.0 L302.0 210.0 L299.5 217.0 L296.5 223.5 L293.5 227.5 L291.0 229.2 L288.5 227.5 L284.5 223.0 L280.5 218.0 L277.0 213.0 L274.5 208.0 L272.5 202.0Z" fill="#D9D9D9" stroke="#D9D9D9" stroke-width="1.2" stroke-linejoin="round"/>
<path d="M294.2 222.8a1.4 1.4 0 1 0 2.8 0a1.4 1.4 0 1 0 -2.8 0M276.3 213.5a1.4 1.4 0 1 0 2.8 0a1.4 1.4 0 1 0 -2.8 0M300.5 231.6a1.4 1.4 0 1 0 2.8 0a1.4 1.4 0 1 0 -2.8 0M270.8 222.3a1.4 1.4 0 1 0 2.8 0a1.4 1.4 0 1 0 -2.8 0M286.1 234.9a1.4 1.4 0 1 0 2.8 0a1.4 1.4 0 1 0 -2.8 0M300.7 205.0a1.4 1.4 0 1 0 2.8 0a1.4 1.4 0 1 0 -2.8 0M286.6 226.3a1.4 1.4 0 1 0 2.8 0a1.4 1.4 0 1 0 -2.8 0M295.2 222.6a1.4 1.4 0 1 0 2.8 0a1.4 1.4 0 1 0 -2.8 0M309.1 210.4a1.4 1.4 0 1 0 2.8 0a1.4 1.4 0 1 0 -2.8 0M272.8 224.6a1.4 1.4 0 1 0 2.8 0a1.4 1.4 0 1 0 -2.8 0M270.4 217.2a1.4 1.4 0 1 0 2.8 0a1.4 1.4 0 1 0 -2.8 0M277.6 231.9a1.4 1.4 0 1 0 2.8 0a1.4 1.4 0 1 0 -2.8 0M294.3 222.0a1.4 1.4 0 1 0 2.8 0a1.4 1.4 0 1 0 -2.8 0M309.1 213.0a1.4 1.4 0 1 0 2.8 0a1.4 1.4 0 1 0 -2.8 0M294.7 223.9a1.4 1.4 0 1 0 2.8 0a1.4 1.4 0 1 0 -2.8 0M270.1 214.4a1.4 1.4 0 1 0 2.8 0a1.4 1.4 0 1 0 -2.8 0M295.3 220.4a1.4 1.4 0 1 0 2.8 0a1.4 1.4 0 1 0 -2.8 0M268.6 206.9a1.4 1.4 0 1 0 2.8 0a1.4 1.4 0 1 0 -2.8 0M308.2 205.9a1.4 1.4 0 1 0 2.8 0a1.4 1.4 0 1 0 -2.8 0M269.2 210.4a1.4 1.4 0 1 0 2.8 0a1.4 1.4 0 1 0 -2.8 0M306.1 226.7a1.4 1.4 0 1 0 2.8 0a1.4 1.4 0 1 0 -2.8 0M307.0 195.0a1.4 1.4 0 1 0 2.8 0a1.4 1.4 0 1 0 -2.8 0M273.4 208.1a1.4 1.4 0 1 0 2.8 0a1.4 1.4 0 1 0 -2.8 0M300.4 205.5a1.4 1.4 0 1 0 2.8 0a1.4 1.4 0 1 0 -2.8 0M277.1 213.6a1.4 1.4 0 1 0 2.8 0a1.4 1.4 0 1 0 -2.8 0M308.2 205.9a1.4 1.4 0 1 0 2.8 0a1.4 1.4 0 1 0 -2.8 0M308.2 203.3a1.4 1.4 0 1 0 2.8 0a1.4 1.4 0 1 0 -2.8 0M308.2 214.9a1.4 1.4 0 1 0 2.8 0a1.4 1.4 0 1 0 -2.8 0M284.3 233.8a1.4 1.4 0 1 0 2.8 0a1.4 1.4 0 1 0 -2.8 0M302.4 195.5a1.4 1.4 0 1 0 2.8 0a1.4 1.4 0 1 0 -2.8 0M295.9 218.9a1.4 1.4 0 1 0 2.8 0a1.4 1.4 0 1 0 -2.8 0M308.2 216.5a1.4 1.4 0 1 0 2.8 0a1.4 1.4 0 1 0 -2.8 0M268.9 202.2a1.4 1.4 0 1 0 2.8 0a1.4 1.4 0 1 0 -2.8 0M288.8 228.0a1.4 1.4 0 1 0 2.8 0a1.4 1.4 0 1 0 -2.8 0M301.8 232.2a1.4 1.4 0 1 0 2.8 0a1.4 1.4 0 1 0 -2.8 0M301.6 202.4a1.4 1.4 0 1 0 2.8 0a1.4 1.4 0 1 0 -2.8 0M305.0 227.9a1.4 1.4 0 1 0 2.8 0a1.4 1.4 0 1 0 -2.8 0M287.7 227.3a1.4 1.4 0 1 0 2.8 0a1.4 1.4 0 1 0 -2.8 0M279.7 217.8a1.4 1.4 0 1 0 2.8 0a1.4 1.4 0 1 0 -2.8 0M275.4 211.1a1.4 1.4 0 1 0 2.8 0a1.4 1.4 0 1 0 -2.8 0M296.3 217.9a1.4 1.4 0 1 0 2.8 0a1.4 1.4 0 1 0 -2.8 0M298.5 233.5a1.4 1.4 0 1 0 2.8 0a1.4 1.4 0 1 0 -2.8 0M271.7 202.8a1.4 1.4 0 1 0 2.8 0a1.4 1.4 0 1 0 -2.8 0M307.7 195.0a1.4 1.4 0 1 0 2.8 0a1.4 1.4 0 1 0 -2.8 0M279.3 232.5a1.4 1.4 0 1 0 2.8 0a1.4 1.4 0 1 0 -2.8 0M274.6 228.0a1.4 1.4 0 1 0 2.8 0a1.4 1.4 0 1 0 -2.8 0M307.8 219.9a1.4 1.4 0 1 0 2.8 0a1.4 1.4 0 1 0 -2.8 0M275.3 212.2a1.4 1.4 0 1 0 2.8 0a1.4 1.4 0 1 0 -2.8 0M279.0 216.5a1.4 1.4 0 1 0 2.8 0a1.4 1.4 0 1 0 -2.8 0M308.8 217.2a1.4 1.4 0 1 0 2.8 0a1.4 1.4 0 1 0 -2.8 0M269.8 215.3a1.4 1.4 0 1 0 2.8 0a1.4 1.4 0 1 0 -2.8 0M292.6 225.1a1.4 1.4 0 1 0 2.8 0a1.4 1.4 0 1 0 -2.8 0M272.7 204.8a1.4 1.4 0 1 0 2.8 0a1.4 1.4 0 1 0 -2.8 0M309.0 203.4a1.4 1.4 0 1 0 2.8 0a1.4 1.4 0 1 0 -2.8 0M301.3 200.5a1.4 1.4 0 1 0 2.8 0a1.4 1.4 0 1 0 -2.8 0M308.7 210.1a1.4 1.4 0 1 0 2.8 0a1.4 1.4 0 1 0 -2.8 0M300.6 205.2a1.4 1.4 0 1 0 2.8 0a1.4 1.4 0 1 0 -2.8 0M297.2 216.3a1.4 1.4 0 1 0 2.8 0a1.4 1.4 0 1 0 -2.8 0M285.3 225.5a1.4 1.4 0 1 0 2.8 0a1.4 1.4 0 1 0 -2.8 0M302.1 198.9a1.4 1.4 0 1 0 2.8 0a1.4 1.4 0 1 0 -2.8 0M308.5 216.5a1.4 1.4 0 1 0 2.8 0a1.4 1.4 0 1 0 -2.8 0M302.7 194.3a1.4 1.4 0 1 0 2.8 0a1.4 1.4 0 1 0 -2.8 0M290.6 228.3a1.4 1.4 0 1 0 2.8 0a1.4 1.4 0 1 0 -2.8 0M273.3 225.7a1.4 1.4 0 1 0 2.8 0a1.4 1.4 0 1 0 -2.8 0M275.3 229.9a1.4 1.4 0 1 0 2.8 0a1.4 1.4 0 1 0 -2.8 0M300.7 203.9a1.4 1.4 0 1 0 2.8 0a1.4 1.4 0 1 0 -2.8 0M271.2 223.0a1.4 1.4 0 1 0 2.8 0a1.4 1.4 0 1 0 -2.8 0M291.7 227.5a1.4 1.4 0 1 0 2.8 0a1.4 1.4 0 1 0 -2.8 0M292.6 224.7a1.4 1.4 0 1 0 2.8 0a1.4 1.4 0 1 0 -2.8 0M270.1 213.6a1.4 1.4 0 1 0 2.8 0a1.4 1.4 0 1 0 -2.8 0M273.4 206.1a1.4 1.4 0 1 0 2.8 0a1.4 1.4 0 1 0 -2.8 0M288.6 227.1a1.4 1.4 0 1 0 2.8 0a1.4 1.4 0 1 0 -2.8 0M297.2 218.3a1.4 1.4 0 1 0 2.8 0a1.4 1.4 0 1 0 -2.8 0M301.4 202.1a1.4 1.4 0 1 0 2.8 0a1.4 1.4 0 1 0 -2.8 0M308.0 225.4a1.4 1.4 0 1 0 2.8 0a1.4 1.4 0 1 0 -2.8 0M292.5 226.7a1.4 1.4 0 1 0 2.8 0a1.4 1.4 0 1 0 -2.8 0M269.0 206.0a1.4 1.4 0 1 0 2.8 0a1.4 1.4 0 1 0 -2.8 0M308.1 201.5a1.4 1.4 0 1 0 2.8 0a1.4 1.4 0 1 0 -2.8 0M305.8 226.5a1.4 1.4 0 1 0 2.8 0a1.4 1.4 0 1 0 -2.8 0M283.3 233.9a1.4 1.4 0 1 0 2.8 0a1.4 1.4 0 1 0 -2.8 0M270.9 216.7a1.4 1.4 0 1 0 2.8 0a1.4 1.4 0 1 0 -2.8 0M278.6 216.4a1.4 1.4 0 1 0 2.8 0a1.4 1.4 0 1 0 -2.8 0M269.3 211.6a1.4 1.4 0 1 0 2.8 0a1.4 1.4 0 1 0 -2.8 0M282.9 222.1a1.4 1.4 0 1 0 2.8 0a1.4 1.4 0 1 0 -2.8 0M307.6 195.2a1.4 1.4 0 1 0 2.8 0a1.4 1.4 0 1 0 -2.8 0M308.6 200.6a1.4 1.4 0 1 0 2.8 0a1.4 1.4 0 1 0 -2.8 0M295.5 233.8a1.4 1.4 0 1 0 2.8 0a1.4 1.4 0 1 0 -2.8 0M268.5 203.8a1.4 1.4 0 1 0 2.8 0a1.4 1.4 0 1 0 -2.8 0M277.9 215.5a1.4 1.4 0 1 0 2.8 0a1.4 1.4 0 1 0 -2.8 0M269.9 212.0a1.4 1.4 0 1 0 2.8 0a1.4 1.4 0 1 0 -2.8 0M278.3 231.7a1.4 1.4 0 1 0 2.8 0a1.4 1.4 0 1 0 -2.8 0M295.2 221.4a1.4 1.4 0 1 0 2.8 0a1.4 1.4 0 1 0 -2.8 0M299.5 209.5a1.4 1.4 0 1 0 2.8 0a1.4 1.4 0 1 0 -2.8 0M290.1 228.3a1.4 1.4 0 1 0 2.8 0a1.4 1.4 0 1 0 -2.8 0M270.0 212.1a1.4 1.4 0 1 0 2.8 0a1.4 1.4 0 1 0 -2.8 0M284.3 224.3a1.4 1.4 0 1 0 2.8 0a1.4 1.4 0 1 0 -2.8 0M304.8 229.9a1.4 1.4 0 1 0 2.8 0a1.4 1.4 0 1 0 -2.8 0M270.1 202.1a1.4 1.4 0 1 0 2.8 0a1.4 1.4 0 1 0 -2.8 0M274.8 210.3a1.4 1.4 0 1 0 2.8 0a1.4 1.4 0 1 0 -2.8 0M271.3 222.5a1.4 1.4 0 1 0 2.8 0a1.4 1.4 0 1 0 -2.8 0M294.8 234.2a1.4 1.4 0 1 0 2.8 0a1.4 1.4 0 1 0 -2.8 0M307.7 200.0a1.4 1.4 0 1 0 2.8 0a1.4 1.4 0 1 0 -2.8 0M277.3 215.0a1.4 1.4 0 1 0 2.8 0a1.4 1.4 0 1 0 -2.8 0M272.5 203.3a1.4 1.4 0 1 0 2.8 0a1.4 1.4 0 1 0 -2.8 0M303.5 195.2a1.4 1.4 0 1 0 2.8 0a1.4 1.4 0 1 0 -2.8 0M302.9 230.6a1.4 1.4 0 1 0 2.8 0a1.4 1.4 0 1 0 -2.8 0M281.3 220.5a1.4 1.4 0 1 0 2.8 0a1.4 1.4 0 1 0 -2.8 0M296.9 217.3a1.4 1.4 0 1 0 2.8 0a1.4 1.4 0 1 0 -2.8 0M307.4 225.8a1.4 1.4 0 1 0 2.8 0a1.4 1.4 0 1 0 -2.8 0M308.2 217.0a1.4 1.4 0 1 0 2.8 0a1.4 1.4 0 1 0 -2.8 0M296.8 217.1a1.4 1.4 0 1 0 2.8 0a1.4 1.4 0 1 0 -2.8 0M278.2 216.4a1.4 1.4 0 1 0 2.8 0a1.4 1.4 0 1 0 -2.8 0M304.5 192.7a1.4 1.4 0 1 0 2.8 0a1.4 1.4 0 1 0 -2.8 0M274.3 227.4a1.4 1.4 0 1 0 2.8 0a1.4 1.4 0 1 0 -2.8 0M302.5 199.7a1.4 1.4 0 1 0 2.8 0a1.4 1.4 0 1 0 -2.8 0M296.7 219.7a1.4 1.4 0 1 0 2.8 0a1.4 1.4 0 1 0 -2.8 0M276.4 230.7a1.4 1.4 0 1 0 2.8 0a1.4 1.4 0 1 0 -2.8 0M273.7 226.6a1.4 1.4 0 1 0 2.8 0a1.4 1.4 0 1 0 -2.8 0M270.0 202.1a1.4 1.4 0 1 0 2.8 0a1.4 1.4 0 1 0 -2.8 0M271.2 219.2a1.4 1.4 0 1 0 2.8 0a1.4 1.4 0 1 0 -2.8 0M308.3 217.6a1.4 1.4 0 1 0 2.8 0a1.4 1.4 0 1 0 -2.8 0M294.8 222.6a1.4 1.4 0 1 0 2.8 0a1.4 1.4 0 1 0 -2.8 0M274.9 228.7a1.4 1.4 0 1 0 2.8 0a1.4 1.4 0 1 0 -2.8 0M308.1 201.3a1.4 1.4 0 1 0 2.8 0a1.4 1.4 0 1 0 -2.8 0M271.7 201.5a1.4 1.4 0 1 0 2.8 0a1.4 1.4 0 1 0 -2.8 0M308.6 220.3a1.4 1.4 0 1 0 2.8 0a1.4 1.4 0 1 0 -2.8 0M308.2 210.3a1.4 1.4 0 1 0 2.8 0a1.4 1.4 0 1 0 -2.8 0M271.3 202.0a1.4 1.4 0 1 0 2.8 0a1.4 1.4 0 1 0 -2.8 0M286.4 234.6a1.4 1.4 0 1 0 2.8 0a1.4 1.4 0 1 0 -2.8 0M302.1 231.0a1.4 1.4 0 1 0 2.8 0a1.4 1.4 0 1 0 -2.8 0M295.1 221.9a1.4 1.4 0 1 0 2.8 0a1.4 1.4 0 1 0 -2.8 0M275.8 211.6a1.4 1.4 0 1 0 2.8 0a1.4 1.4 0 1 0 -2.8 0M270.9 217.5a1.4 1.4 0 1 0 2.8 0a1.4 1.4 0 1 0 -2.8 0M300.0 206.9a1.4 1.4 0 1 0 2.8 0a1.4 1.4 0 1 0 -2.8 0M298.0 233.5a1.4 1.4 0 1 0 2.8 0a1.4 1.4 0 1 0 -2.8 0M286.9 227.1a1.4 1.4 0 1 0 2.8 0a1.4 1.4 0 1 0 -2.8 0M282.3 233.7a1.4 1.4 0 1 0 2.8 0a1.4 1.4 0 1 0 -2.8 0M308.4 202.1a1.4 1.4 0 1 0 2.8 0a1.4 1.4 0 1 0 -2.8 0M278.9 216.6a1.4 1.4 0 1 0 2.8 0a1.4 1.4 0 1 0 -2.8 0M303.7 194.3a1.4 1.4 0 1 0 2.8 0a1.4 1.4 0 1 0 -2.8 0M291.4 227.9a1.4 1.4 0 1 0 2.8 0a1.4 1.4 0 1 0 -2.8 0M279.3 217.5a1.4 1.4 0 1 0 2.8 0a1.4 1.4 0 1 0 -2.8 0M280.1 218.5a1.4 1.4 0 1 0 2.8 0a1.4 1.4 0 1 0 -2.8 0M278.5 216.7a1.4 1.4 0 1 0 2.8 0a1.4 1.4 0 1 0 -2.8 0M281.7 219.3a1.4 1.4 0 1 0 2.8 0a1.4 1.4 0 1 0 -2.8 0M269.7 212.3a1.4 1.4 0 1 0 2.8 0a1.4 1.4 0 1 0 -2.8 0M300.2 232.0a1.4 1.4 0 1 0 2.8 0a1.4 1.4 0 1 0 -2.8 0M305.9 193.0a1.4 1.4 0 1 0 2.8 0a1.4 1.4 0 1 0 -2.8 0M272.8 225.3a1.4 1.4 0 1 0 2.8 0a1.4 1.4 0 1 0 -2.8 0M308.7 200.4a1.4 1.4 0 1 0 2.8 0a1.4 1.4 0 1 0 -2.8 0M296.6 219.2a1.4 1.4 0 1 0 2.8 0a1.4 1.4 0 1 0 -2.8 0M289.7 228.4a1.4 1.4 0 1 0 2.8 0a1.4 1.4 0 1 0 -2.8 0M307.0 226.0a1.4 1.4 0 1 0 2.8 0a1.4 1.4 0 1 0 -2.8 0M272.6 224.3a1.4 1.4 0 1 0 2.8 0a1.4 1.4 0 1 0 -2.8 0M304.4 228.6a1.4 1.4 0 1 0 2.8 0a1.4 1.4 0 1 0 -2.8 0M274.1 208.3a1.4 1.4 0 1 0 2.8 0a1.4 1.4 0 1 0 -2.8 0M302.3 198.6a1.4 1.4 0 1 0 2.8 0a1.4 1.4 0 1 0 -2.8 0M273.2 225.9a1.4 1.4 0 1 0 2.8 0a1.4 1.4 0 1 0 -2.8 0M278.8 231.8a1.4 1.4 0 1 0 2.8 0a1.4 1.4 0 1 0 -2.8 0M298.3 213.0a1.4 1.4 0 1 0 2.8 0a1.4 1.4 0 1 0 -2.8 0M301.6 202.4a1.4 1.4 0 1 0 2.8 0a1.4 1.4 0 1 0 -2.8 0M272.7 223.8a1.4 1.4 0 1 0 2.8 0a1.4 1.4 0 1 0 -2.8 0M299.8 211.2a1.4 1.4 0 1 0 2.8 0a1.4 1.4 0 1 0 -2.8 0M270.4 215.1a1.4 1.4 0 1 0 2.8 0a1.4 1.4 0 1 0 -2.8 0M272.7 224.3a1.4 1.4 0 1 0 2.8 0a1.4 1.4 0 1 0 -2.8 0M297.0 216.9a1.4 1.4 0 1 0 2.8 0a1.4 1.4 0 1 0 -2.8 0M285.5 224.1a1.4 1.4 0 1 0 2.8 0a1.4 1.4 0 1 0 -2.8 0M268.7 206.8a1.4 1.4 0 1 0 2.8 0a1.4 1.4 0 1 0 -2.8 0M308.5 214.0a1.4 1.4 0 1 0 2.8 0a1.4 1.4 0 1 0 -2.8 0M269.6 210.7a1.4 1.4 0 1 0 2.8 0a1.4 1.4 0 1 0 -2.8 0M306.0 227.8a1.4 1.4 0 1 0 2.8 0a1.4 1.4 0 1 0 -2.8 0M282.8 234.0a1.4 1.4 0 1 0 2.8 0a1.4 1.4 0 1 0 -2.8 0M300.9 204.4a1.4 1.4 0 1 0 2.8 0a1.4 1.4 0 1 0 -2.8 0M300.9 200.5a1.4 1.4 0 1 0 2.8 0a1.4 1.4 0 1 0 -2.8 0M275.9 229.6a1.4 1.4 0 1 0 2.8 0a1.4 1.4 0 1 0 -2.8 0M274.1 228.0a1.4 1.4 0 1 0 2.8 0a1.4 1.4 0 1 0 -2.8 0M276.6 213.8a1.4 1.4 0 1 0 2.8 0a1.4 1.4 0 1 0 -2.8 0M275.4 231.0a1.4 1.4 0 1 0 2.8 0a1.4 1.4 0 1 0 -2.8 0M304.3 192.9a1.4 1.4 0 1 0 2.8 0a1.4 1.4 0 1 0 -2.8 0M305.4 228.7a1.4 1.4 0 1 0 2.8 0a1.4 1.4 0 1 0 -2.8 0M294.3 222.9a1.4 1.4 0 1 0 2.8 0a1.4 1.4 0 1 0 -2.8 0M267.9 205.6a1.4 1.4 0 1 0 2.8 0a1.4 1.4 0 1 0 -2.8 0M268.6 208.8a1.4 1.4 0 1 0 2.8 0a1.4 1.4 0 1 0 -2.8 0M298.2 216.4a1.4 1.4 0 1 0 2.8 0a1.4 1.4 0 1 0 -2.8 0M308.8 212.9a1.4 1.4 0 1 0 2.8 0a1.4 1.4 0 1 0 -2.8 0M269.0 207.5a1.4 1.4 0 1 0 2.8 0a1.4 1.4 0 1 0 -2.8 0M281.1 220.4a1.4 1.4 0 1 0 2.8 0a1.4 1.4 0 1 0 -2.8 0M281.1 233.9a1.4 1.4 0 1 0 2.8 0a1.4 1.4 0 1 0 -2.8 0M298.2 216.5a1.4 1.4 0 1 0 2.8 0a1.4 1.4 0 1 0 -2.8 0M304.6 228.5a1.4 1.4 0 1 0 2.8 0a1.4 1.4 0 1 0 -2.8 0M272.8 207.0a1.4 1.4 0 1 0 2.8 0a1.4 1.4 0 1 0 -2.8 0M284.3 223.4a1.4 1.4 0 1 0 2.8 0a1.4 1.4 0 1 0 -2.8 0M308.9 217.1a1.4 1.4 0 1 0 2.8 0a1.4 1.4 0 1 0 -2.8 0M293.0 225.3a1.4 1.4 0 1 0 2.8 0a1.4 1.4 0 1 0 -2.8 0M298.0 216.5a1.4 1.4 0 1 0 2.8 0a1.4 1.4 0 1 0 -2.8 0M308.3 219.4a1.4 1.4 0 1 0 2.8 0a1.4 1.4 0 1 0 -2.8 0M308.8 213.4a1.4 1.4 0 1 0 2.8 0a1.4 1.4 0 1 0 -2.8 0M301.6 202.0a1.4 1.4 0 1 0 2.8 0a1.4 1.4 0 1 0 -2.8 0M302.1 199.0a1.4 1.4 0 1 0 2.8 0a1.4 1.4 0 1 0 -2.8 0M308.1 224.3a1.4 1.4 0 1 0 2.8 0a1.4 1.4 0 1 0 -2.8 0M363.4 68.5a1.4 1.4 0 1 0 2.8 0a1.4 1.4 0 1 0 -2.8 0M360.6 91.0a1.4 1.4 0 1 0 2.8 0a1.4 1.4 0 1 0 -2.8 0M325.2 93.6a1.4 1.4 0 1 0 2.8 0a1.4 1.4 0 1 0 -2.8 0M327.9 95.9a1.4 1.4 0 1 0 2.8 0a1.4 1.4 0 1 0 -2.8 0M318.5 102.8a1.4 1.4 0 1 0 2.8 0a1.4 1.4 0 1 0 -2.8 0M325.6 104.0a1.4 1.4 0 1 0 2.8 0a1.4 1.4 0 1 0 -2.8 0M345.6 112.3a1.4 1.4 0 1 0 2.8 0a1.4 1.4 0 1 0 -2.8 0M333.5 125.0a1.4 1.4 0 1 0 2.8 0a1.4 1.4 0 1 0 -2.8 0M328.4 129.0a1.4 1.4 0 1 0 2.8 0a1.4 1.4 0 1 0 -2.8 0M324.5 138.5a1.4 1.4 0 1 0 2.8 0a1.4 1.4 0 1 0 -2.8 0M330.6 134.7a1.4 1.4 0 1 0 2.8 0a1.4 1.4 0 1 0 -2.8 0M327.6 136.0a1.4 1.4 0 1 0 2.8 0a1.4 1.4 0 1 0 -2.8 0M341.6 145.5a1.4 1.4 0 1 0 2.8 0a1.4 1.4 0 1 0 -2.8 0M337.0 147.6a1.4 1.4 0 1 0 2.8 0a1.4 1.4 0 1 0 -2.8 0M357.0 148.4a1.4 1.4 0 1 0 2.8 0a1.4 1.4 0 1 0 -2.8 0M327.0 145.3a1.4 1.4 0 1 0 2.8 0a1.4 1.4 0 1 0 -2.8 0M329.1 152.7a1.4 1.4 0 1 0 2.8 0a1.4 1.4 0 1 0 -2.8 0M327.0 168.3a1.4 1.4 0 1 0 2.8 0a1.4 1.4 0 1 0 -2.8 0M338.3 177.5a1.4 1.4 0 1 0 2.8 0a1.4 1.4 0 1 0 -2.8 0M306.4 175.1a1.4 1.4 0 1 0 2.8 0a1.4 1.4 0 1 0 -2.8 0M305.6 186.7a1.4 1.4 0 1 0 2.8 0a1.4 1.4 0 1 0 -2.8 0M321.3 189.6a1.4 1.4 0 1 0 2.8 0a1.4 1.4 0 1 0 -2.8 0M336.2 190.6a1.4 1.4 0 1 0 2.8 0a1.4 1.4 0 1 0 -2.8 0M339.7 190.6a1.4 1.4 0 1 0 2.8 0a1.4 1.4 0 1 0 -2.8 0M329.1 194.2a1.4 1.4 0 1 0 2.8 0a1.4 1.4 0 1 0 -2.8 0M336.9 199.9a1.4 1.4 0 1 0 2.8 0a1.4 1.4 0 1 0 -2.8 0M327.6 204.0a1.4 1.4 0 1 0 2.8 0a1.4 1.4 0 1 0 -2.8 0M325.3 213.3a1.4 1.4 0 1 0 2.8 0a1.4 1.4 0 1 0 -2.8 0M331.9 219.7a1.4 1.4 0 1 0 2.8 0a1.4 1.4 0 1 0 -2.8 0M302.1 198.4a1.4 1.4 0 1 0 2.8 0a1.4 1.4 0 1 0 -2.8 0M301.4 204.1a1.4 1.4 0 1 0 2.8 0a1.4 1.4 0 1 0 -2.8 0M252.4 174.9a1.4 1.4 0 1 0 2.8 0a1.4 1.4 0 1 0 -2.8 0M253.5 197.9a1.4 1.4 0 1 0 2.8 0a1.4 1.4 0 1 0 -2.8 0M259.2 196.6a1.4 1.4 0 1 0 2.8 0a1.4 1.4 0 1 0 -2.8 0M264.1 199.4a1.4 1.4 0 1 0 2.8 0a1.4 1.4 0 1 0 -2.8 0M266.3 194.0a1.4 1.4 0 1 0 2.8 0a1.4 1.4 0 1 0 -2.8 0M235.4 132.3a1.4 1.4 0 1 0 2.8 0a1.4 1.4 0 1 0 -2.8 0M310.6 186.0a1.4 1.4 0 1 0 2.8 0a1.4 1.4 0 1 0 -2.8 0M314.6 190.0a1.4 1.4 0 1 0 2.8 0a1.4 1.4 0 1 0 -2.8 0M319.6 186.0a1.4 1.4 0 1 0 2.8 0a1.4 1.4 0 1 0 -2.8 0M303.6 210.0a1.4 1.4 0 1 0 2.8 0a1.4 1.4 0 1 0 -2.8 0M311.6 225.0a1.4 1.4 0 1 0 2.8 0a1.4 1.4 0 1 0 -2.8 0M314.6 230.0a1.4 1.4 0 1 0 2.8 0a1.4 1.4 0 1 0 -2.8 0M318.6 222.0a1.4 1.4 0 1 0 2.8 0a1.4 1.4 0 1 0 -2.8 0M260.6 206.0a1.4 1.4 0 1 0 2.8 0a1.4 1.4 0 1 0 -2.8 0M266.6 212.0a1.4 1.4 0 1 0 2.8 0a1.4 1.4 0 1 0 -2.8 0M298.6 182.0a1.4 1.4 0 1 0 2.8 0a1.4 1.4 0 1 0 -2.8 0M302.6 192.0a1.4 1.4 0 1 0 2.8 0a1.4 1.4 0 1 0 -2.8 0M270.6 188.0a1.4 1.4 0 1 0 2.8 0a1.4 1.4 0 1 0 -2.8 0M273.6 196.0a1.4 1.4 0 1 0 2.8 0a1.4 1.4 0 1 0 -2.8 0M308.9 219.5a1.4 1.4 0 1 0 2.8 0a1.4 1.4 0 1 0 -2.8 0M314.8 206.4a1.4 1.4 0 1 0 2.8 0a1.4 1.4 0 1 0 -2.8 0M306.5 201.0a1.4 1.4 0 1 0 2.8 0a1.4 1.4 0 1 0 -2.8 0M305.1 200.3a1.4 1.4 0 1 0 2.8 0a1.4 1.4 0 1 0 -2.8 0M305.6 218.5a1.4 1.4 0 1 0 2.8 0a1.4 1.4 0 1 0 -2.8 0M316.5 225.0a1.4 1.4 0 1 0 2.8 0a1.4 1.4 0 1 0 -2.8 0M308.5 214.6a1.4 1.4 0 1 0 2.8 0a1.4 1.4 0 1 0 -2.8 0M312.6 211.7a1.4 1.4 0 1 0 2.8 0a1.4 1.4 0 1 0 -2.8 0M304.6 230.3a1.4 1.4 0 1 0 2.8 0a1.4 1.4 0 1 0 -2.8 0M311.6 204.0a1.4 1.4 0 1 0 2.8 0a1.4 1.4 0 1 0 -2.8 0M304.5 203.4a1.4 1.4 0 1 0 2.8 0a1.4 1.4 0 1 0 -2.8 0M316.1 203.9a1.4 1.4 0 1 0 2.8 0a1.4 1.4 0 1 0 -2.8 0M311.7 234.9a1.4 1.4 0 1 0 2.8 0a1.4 1.4 0 1 0 -2.8 0M304.1 213.9a1.4 1.4 0 1 0 2.8 0a1.4 1.4 0 1 0 -2.8 0M309.8 233.0a1.4 1.4 0 1 0 2.8 0a1.4 1.4 0 1 0 -2.8 0M306.1 209.3a1.4 1.4 0 1 0 2.8 0a1.4 1.4 0 1 0 -2.8 0M306.8 201.8a1.4 1.4 0 1 0 2.8 0a1.4 1.4 0 1 0 -2.8 0M312.4 229.4a1.4 1.4 0 1 0 2.8 0a1.4 1.4 0 1 0 -2.8 0M309.3 201.4a1.4 1.4 0 1 0 2.8 0a1.4 1.4 0 1 0 -2.8 0M312.9 226.5a1.4 1.4 0 1 0 2.8 0a1.4 1.4 0 1 0 -2.8 0M312.1 211.8a1.4 1.4 0 1 0 2.8 0a1.4 1.4 0 1 0 -2.8 0M314.4 222.7a1.4 1.4 0 1 0 2.8 0a1.4 1.4 0 1 0 -2.8 0M311.3 219.5a1.4 1.4 0 1 0 2.8 0a1.4 1.4 0 1 0 -2.8 0M306.6 216.4a1.4 1.4 0 1 0 2.8 0a1.4 1.4 0 1 0 -2.8 0M313.9 224.6a1.4 1.4 0 1 0 2.8 0a1.4 1.4 0 1 0 -2.8 0M308.1 229.5a1.4 1.4 0 1 0 2.8 0a1.4 1.4 0 1 0 -2.8 0M314.5 201.6a1.4 1.4 0 1 0 2.8 0a1.4 1.4 0 1 0 -2.8 0M305.6 208.0a1.4 1.4 0 1 0 2.8 0a1.4 1.4 0 1 0 -2.8 0M303.8 227.1a1.4 1.4 0 1 0 2.8 0a1.4 1.4 0 1 0 -2.8 0M312.0 219.6a1.4 1.4 0 1 0 2.8 0a1.4 1.4 0 1 0 -2.8 0M316.5 212.8a1.4 1.4 0 1 0 2.8 0a1.4 1.4 0 1 0 -2.8 0M306.2 204.0a1.4 1.4 0 1 0 2.8 0a1.4 1.4 0 1 0 -2.8 0M308.0 230.2a1.4 1.4 0 1 0 2.8 0a1.4 1.4 0 1 0 -2.8 0M311.5 202.1a1.4 1.4 0 1 0 2.8 0a1.4 1.4 0 1 0 -2.8 0M309.2 201.7a1.4 1.4 0 1 0 2.8 0a1.4 1.4 0 1 0 -2.8 0M311.7 204.4a1.4 1.4 0 1 0 2.8 0a1.4 1.4 0 1 0 -2.8 0M305.9 223.1a1.4 1.4 0 1 0 2.8 0a1.4 1.4 0 1 0 -2.8 0M314.5 222.3a1.4 1.4 0 1 0 2.8 0a1.4 1.4 0 1 0 -2.8 0M307.4 223.2a1.4 1.4 0 1 0 2.8 0a1.4 1.4 0 1 0 -2.8 0M307.1 200.2a1.4 1.4 0 1 0 2.8 0a1.4 1.4 0 1 0 -2.8 0M301.9 195.6a1.4 1.4 0 1 0 2.8 0a1.4 1.4 0 1 0 -2.8 0M306.1 188.7a1.4 1.4 0 1 0 2.8 0a1.4 1.4 0 1 0 -2.8 0M308.7 197.6a1.4 1.4 0 1 0 2.8 0a1.4 1.4 0 1 0 -2.8 0M302.0 199.5a1.4 1.4 0 1 0 2.8 0a1.4 1.4 0 1 0 -2.8 0M301.8 186.9a1.4 1.4 0 1 0 2.8 0a1.4 1.4 0 1 0 -2.8 0M304.7 198.1a1.4 1.4 0 1 0 2.8 0a1.4 1.4 0 1 0 -2.8 0M305.8 193.6a1.4 1.4 0 1 0 2.8 0a1.4 1.4 0 1 0 -2.8 0M304.5 190.0a1.4 1.4 0 1 0 2.8 0a1.4 1.4 0 1 0 -2.8 0M302.2 191.6a1.4 1.4 0 1 0 2.8 0a1.4 1.4 0 1 0 -2.8 0M305.2 199.2a1.4 1.4 0 1 0 2.8 0a1.4 1.4 0 1 0 -2.8 0M299.5 189.5a1.4 1.4 0 1 0 2.8 0a1.4 1.4 0 1 0 -2.8 0M309.9 195.2a1.4 1.4 0 1 0 2.8 0a1.4 1.4 0 1 0 -2.8 0M299.5 192.2a1.4 1.4 0 1 0 2.8 0a1.4 1.4 0 1 0 -2.8 0M306.4 198.8a1.4 1.4 0 1 0 2.8 0a1.4 1.4 0 1 0 -2.8 0M299.6 198.6a1.4 1.4 0 1 0 2.8 0a1.4 1.4 0 1 0 -2.8 0M269.8 197.0a1.4 1.4 0 1 0 2.8 0a1.4 1.4 0 1 0 -2.8 0M267.0 210.6a1.4 1.4 0 1 0 2.8 0a1.4 1.4 0 1 0 -2.8 0M263.5 207.5a1.4 1.4 0 1 0 2.8 0a1.4 1.4 0 1 0 -2.8 0M267.3 191.8a1.4 1.4 0 1 0 2.8 0a1.4 1.4 0 1 0 -2.8 0M263.9 200.3a1.4 1.4 0 1 0 2.8 0a1.4 1.4 0 1 0 -2.8 0M262.3 213.6a1.4 1.4 0 1 0 2.8 0a1.4 1.4 0 1 0 -2.8 0M263.6 195.8a1.4 1.4 0 1 0 2.8 0a1.4 1.4 0 1 0 -2.8 0M267.8 203.2a1.4 1.4 0 1 0 2.8 0a1.4 1.4 0 1 0 -2.8 0M264.4 198.1a1.4 1.4 0 1 0 2.8 0a1.4 1.4 0 1 0 -2.8 0M266.6 212.7a1.4 1.4 0 1 0 2.8 0a1.4 1.4 0 1 0 -2.8 0M261.5 212.8a1.4 1.4 0 1 0 2.8 0a1.4 1.4 0 1 0 -2.8 0M271.9 207.1a1.4 1.4 0 1 0 2.8 0a1.4 1.4 0 1 0 -2.8 0M270.2 199.6a1.4 1.4 0 1 0 2.8 0a1.4 1.4 0 1 0 -2.8 0M272.2 208.6a1.4 1.4 0 1 0 2.8 0a1.4 1.4 0 1 0 -2.8 0M268.8 201.2a1.4 1.4 0 1 0 2.8 0a1.4 1.4 0 1 0 -2.8 0M323.2 171.1a1.4 1.4 0 1 0 2.8 0a1.4 1.4 0 1 0 -2.8 0M338.7 95.6a1.4 1.4 0 1 0 2.8 0a1.4 1.4 0 1 0 -2.8 0M325.9 153.9a1.4 1.4 0 1 0 2.8 0a1.4 1.4 0 1 0 -2.8 0M323.0 109.2a1.4 1.4 0 1 0 2.8 0a1.4 1.4 0 1 0 -2.8 0M322.2 96.7a1.4 1.4 0 1 0 2.8 0a1.4 1.4 0 1 0 -2.8 0M320.2 138.1a1.4 1.4 0 1 0 2.8 0a1.4 1.4 0 1 0 -2.8 0M331.6 165.2a1.4 1.4 0 1 0 2.8 0a1.4 1.4 0 1 0 -2.8 0M325.8 109.1a1.4 1.4 0 1 0 2.8 0a1.4 1.4 0 1 0 -2.8 0M344.2 164.5a1.4 1.4 0 1 0 2.8 0a1.4 1.4 0 1 0 -2.8 0M337.0 170.8a1.4 1.4 0 1 0 2.8 0a1.4 1.4 0 1 0 -2.8 0M326.3 160.3a1.4 1.4 0 1 0 2.8 0a1.4 1.4 0 1 0 -2.8 0M326.2 166.8a1.4 1.4 0 1 0 2.8 0a1.4 1.4 0 1 0 -2.8 0M341.1 96.8a1.4 1.4 0 1 0 2.8 0a1.4 1.4 0 1 0 -2.8 0M340.5 107.9a1.4 1.4 0 1 0 2.8 0a1.4 1.4 0 1 0 -2.8 0M317.1 103.3a1.4 1.4 0 1 0 2.8 0a1.4 1.4 0 1 0 -2.8 0M333.5 189.4a1.4 1.4 0 1 0 2.8 0a1.4 1.4 0 1 0 -2.8 0M344.4 112.3a1.4 1.4 0 1 0 2.8 0a1.4 1.4 0 1 0 -2.8 0M329.5 198.6a1.4 1.4 0 1 0 2.8 0a1.4 1.4 0 1 0 -2.8 0M343.2 185.9a1.4 1.4 0 1 0 2.8 0a1.4 1.4 0 1 0 -2.8 0M324.0 125.2a1.4 1.4 0 1 0 2.8 0a1.4 1.4 0 1 0 -2.8 0M321.1 124.0a1.4 1.4 0 1 0 2.8 0a1.4 1.4 0 1 0 -2.8 0M328.7 182.7a1.4 1.4 0 1 0 2.8 0a1.4 1.4 0 1 0 -2.8 0M336.4 113.9a1.4 1.4 0 1 0 2.8 0a1.4 1.4 0 1 0 -2.8 0M322.0 144.6a1.4 1.4 0 1 0 2.8 0a1.4 1.4 0 1 0 -2.8 0M343.3 147.0a1.4 1.4 0 1 0 2.8 0a1.4 1.4 0 1 0 -2.8 0M340.3 170.8a1.4 1.4 0 1 0 2.8 0a1.4 1.4 0 1 0 -2.8 0M342.9 149.6a1.4 1.4 0 1 0 2.8 0a1.4 1.4 0 1 0 -2.8 0M327.9 145.3a1.4 1.4 0 1 0 2.8 0a1.4 1.4 0 1 0 -2.8 0M340.7 125.6a1.4 1.4 0 1 0 2.8 0a1.4 1.4 0 1 0 -2.8 0M322.4 187.1a1.4 1.4 0 1 0 2.8 0a1.4 1.4 0 1 0 -2.8 0M331.0 165.6a1.4 1.4 0 1 0 2.8 0a1.4 1.4 0 1 0 -2.8 0M321.8 99.6a1.4 1.4 0 1 0 2.8 0a1.4 1.4 0 1 0 -2.8 0M323.4 142.2a1.4 1.4 0 1 0 2.8 0a1.4 1.4 0 1 0 -2.8 0M317.6 125.0a1.4 1.4 0 1 0 2.8 0a1.4 1.4 0 1 0 -2.8 0M344.9 143.1a1.4 1.4 0 1 0 2.8 0a1.4 1.4 0 1 0 -2.8 0" fill="#D9D9D9"/>
<line x1="272.18" y1="20.00" x2="272.18" y2="245.00" stroke="#111" stroke-width="1.45" stroke-dasharray="5.05,5.5" stroke-dashoffset="1.35"/>
<line x1="310.82" y1="20.00" x2="310.82" y2="245.00" stroke="#111" stroke-width="1.45" stroke-dasharray="5.05,5.5" stroke-dashoffset="1.35"/>
<line x1="206.30" y1="217.24" x2="377.20" y2="217.24" stroke="#111" stroke-width="1.45" stroke-dasharray="5.2,5.3"/>
<circle cx="345.9" cy="91.2" r="2.8" fill="#6A3D9A" fill-opacity="0.85" stroke="#1a1a1a" stroke-width="0.75"/>
<circle cx="333.6" cy="104.0" r="2.8" fill="#FF7F00" fill-opacity="0.85" stroke="#1a1a1a" stroke-width="0.75"/>
<circle cx="339.9" cy="104.0" r="2.8" fill="#B2DF8A" fill-opacity="0.85" stroke="#1a1a1a" stroke-width="0.75"/>
<circle cx="324.4" cy="108.9" r="2.8" fill="#6A3D9A" fill-opacity="0.85" stroke="#1a1a1a" stroke-width="0.75"/>
<circle cx="328.6" cy="120.1" r="2.8" fill="#B2DF8A" fill-opacity="0.85" stroke="#1a1a1a" stroke-width="0.75"/>
<circle cx="323.2" cy="123.7" r="2.8" fill="#6A3D9A" fill-opacity="0.85" stroke="#1a1a1a" stroke-width="0.75"/>
<circle cx="320.3" cy="130.2" r="2.8" fill="#B2DF8A" fill-opacity="0.85" stroke="#1a1a1a" stroke-width="0.75"/>
<circle cx="336.3" cy="131.6" r="2.8" fill="#FF7F00" fill-opacity="0.85" stroke="#1a1a1a" stroke-width="0.75"/>
<circle cx="317.4" cy="141.5" r="2.8" fill="#6A3D9A" fill-opacity="0.85" stroke="#1a1a1a" stroke-width="0.75"/>
<circle cx="316.7" cy="152.7" r="2.8" fill="#E31A1C" fill-opacity="0.85" stroke="#1a1a1a" stroke-width="0.75"/>
<circle cx="318.4" cy="152.0" r="2.8" fill="#2B2B2B" fill-opacity="0.85" stroke="#1a1a1a" stroke-width="0.75"/>
<circle cx="315.3" cy="154.1" r="2.8" fill="#6A3D9A" fill-opacity="0.85" stroke="#1a1a1a" stroke-width="0.75"/>
<circle cx="319.6" cy="152.7" r="2.8" fill="#6A3D9A" fill-opacity="0.85" stroke="#1a1a1a" stroke-width="0.75"/>
<circle cx="324.1" cy="152.0" r="2.8" fill="#1F78B4" fill-opacity="0.85" stroke="#1a1a1a" stroke-width="0.75"/>
<circle cx="322.0" cy="155.5" r="2.8" fill="#E31A1C" fill-opacity="0.85" stroke="#1a1a1a" stroke-width="0.75"/>
<circle cx="330.9" cy="157.0" r="2.8" fill="#B2DF8A" fill-opacity="0.85" stroke="#1a1a1a" stroke-width="0.75"/>
<circle cx="345.8" cy="160.9" r="2.8" fill="#FFFF99" fill-opacity="0.85" stroke="#1a1a1a" stroke-width="0.75"/>
<circle cx="312.5" cy="159.8" r="2.8" fill="#E31A1C" fill-opacity="0.85" stroke="#1a1a1a" stroke-width="0.75"/>
<circle cx="314.5" cy="161.5" r="2.8" fill="#6A3D9A" fill-opacity="0.85" stroke="#1a1a1a" stroke-width="0.75"/>
<circle cx="311.6" cy="163.3" r="2.8" fill="#E31A1C" fill-opacity="0.85" stroke="#1a1a1a" stroke-width="0.75"/>
<circle cx="323.1" cy="164.0" r="2.8" fill="#1F78B4" fill-opacity="0.85" stroke="#1a1a1a" stroke-width="0.75"/>
<circle cx="314.2" cy="166.9" r="2.8" fill="#1F78B4" fill-opacity="0.85" stroke="#1a1a1a" stroke-width="0.75"/>
<circle cx="321.3" cy="168.0" r="2.8" fill="#E31A1C" fill-opacity="0.85" stroke="#1a1a1a" stroke-width="0.75"/>
<circle cx="313.0" cy="171.6" r="2.8" fill="#6A3D9A" fill-opacity="0.85" stroke="#1a1a1a" stroke-width="0.75"/>
<circle cx="316.3" cy="171.4" r="2.8" fill="#6A3D9A" fill-opacity="0.85" stroke="#1a1a1a" stroke-width="0.75"/>
<circle cx="320.6" cy="172.1" r="2.8" fill="#E31A1C" fill-opacity="0.85" stroke="#1a1a1a" stroke-width="0.75"/>
<circle cx="326.0" cy="173.8" r="2.8" fill="#FDBF6F" fill-opacity="0.85" stroke="#1a1a1a" stroke-width="0.75"/>
<circle cx="326.0" cy="171.5" r="2.8" fill="#B2DF8A" fill-opacity="0.85" stroke="#1a1a1a" stroke-width="0.75"/>
<circle cx="318.2" cy="174.7" r="2.8" fill="#33A02C" fill-opacity="0.85" stroke="#1a1a1a" stroke-width="0.75"/>
<circle cx="319.9" cy="178.2" r="2.8" fill="#6A3D9A" fill-opacity="0.85" stroke="#1a1a1a" stroke-width="0.75"/>
<circle cx="324.8" cy="179.6" r="2.8" fill="#E31A1C" fill-opacity="0.85" stroke="#1a1a1a" stroke-width="0.75"/>
<circle cx="329.1" cy="179.2" r="2.8" fill="#E31A1C" fill-opacity="0.85" stroke="#1a1a1a" stroke-width="0.75"/>
<circle cx="313.8" cy="182.5" r="2.8" fill="#A6CEE3" fill-opacity="0.85" stroke="#1a1a1a" stroke-width="0.75"/>
<circle cx="313.0" cy="193.5" r="2.8" fill="#6A3D9A" fill-opacity="0.85" stroke="#1a1a1a" stroke-width="0.75"/>
<circle cx="311.1" cy="197.3" r="2.8" fill="#E31A1C" fill-opacity="0.85" stroke="#1a1a1a" stroke-width="0.75"/>
<circle cx="314.6" cy="196.3" r="2.8" fill="#E31A1C" fill-opacity="0.85" stroke="#1a1a1a" stroke-width="0.75"/>
<circle cx="324.4" cy="197.3" r="2.8" fill="#6A3D9A" fill-opacity="0.85" stroke="#1a1a1a" stroke-width="0.75"/>
<circle cx="318.4" cy="201.6" r="2.8" fill="#E31A1C" fill-opacity="0.85" stroke="#1a1a1a" stroke-width="0.75"/>
<circle cx="322.0" cy="202.0" r="2.8" fill="#E31A1C" fill-opacity="0.85" stroke="#1a1a1a" stroke-width="0.75"/>
<circle cx="312.8" cy="205.8" r="2.8" fill="#E31A1C" fill-opacity="0.85" stroke="#1a1a1a" stroke-width="0.75"/>
<circle cx="317.0" cy="205.8" r="2.8" fill="#6A3D9A" fill-opacity="0.85" stroke="#1a1a1a" stroke-width="0.75"/>
<circle cx="310.6" cy="212.3" r="2.8" fill="#6A3D9A" fill-opacity="0.85" stroke="#1a1a1a" stroke-width="0.75"/>
<circle cx="315.3" cy="211.9" r="2.8" fill="#E31A1C" fill-opacity="0.85" stroke="#1a1a1a" stroke-width="0.75"/>
<circle cx="312.5" cy="214.2" r="2.8" fill="#E31A1C" fill-opacity="0.85" stroke="#1a1a1a" stroke-width="0.75"/>
<circle cx="312.0" cy="216.0" r="2.8" fill="#6E1014" fill-opacity="0.85" stroke="#1a1a1a" stroke-width="0.75"/>
<circle cx="315.0" cy="217.0" r="2.8" fill="#6E1014" fill-opacity="0.85" stroke="#1a1a1a" stroke-width="0.75"/>
<circle cx="249.8" cy="167.2" r="2.8" fill="#CAB2D6" fill-opacity="0.85" stroke="#1a1a1a" stroke-width="0.75"/>
<circle cx="239.3" cy="178.5" r="2.8" fill="#B15928" fill-opacity="0.85" stroke="#1a1a1a" stroke-width="0.75"/>
<circle cx="270.5" cy="180.5" r="2.8" fill="#E31A1C" fill-opacity="0.85" stroke="#1a1a1a" stroke-width="0.75"/>
<path d="M206.30 19.80V245.00H377.20" fill="none" stroke="#1e1e1e" stroke-width="1.4"/>
<line x1="214.22" y1="245.00" x2="214.22" y2="248.00" stroke="#1e1e1e" stroke-width="1"/>
<text transform="translate(214.22,259.00) scale(1,1.04)" font-size="9.8" text-anchor="middle" font-weight="normal" fill="#333" stroke="#333" stroke-width="0.18" >−8</text>
<line x1="252.86" y1="245.00" x2="252.86" y2="248.00" stroke="#1e1e1e" stroke-width="1"/>
<text transform="translate(252.86,259.00) scale(1,1.04)" font-size="9.8" text-anchor="middle" font-weight="normal" fill="#333" stroke="#333" stroke-width="0.18" >−4</text>
<line x1="291.50" y1="245.00" x2="291.50" y2="248.00" stroke="#1e1e1e" stroke-width="1"/>
<text transform="translate(291.50,259.00) scale(1,1.04)" font-size="9.8" text-anchor="middle" font-weight="normal" fill="#333" stroke="#333" stroke-width="0.18" >0</text>
<line x1="330.14" y1="245.00" x2="330.14" y2="248.00" stroke="#1e1e1e" stroke-width="1"/>
<text transform="translate(330.14,259.00) scale(1,1.04)" font-size="9.8" text-anchor="middle" font-weight="normal" fill="#333" stroke="#333" stroke-width="0.18" >4</text>
<line x1="368.78" y1="245.00" x2="368.78" y2="248.00" stroke="#1e1e1e" stroke-width="1"/>
<text transform="translate(368.78,259.00) scale(1,1.04)" font-size="9.8" text-anchor="middle" font-weight="normal" fill="#333" stroke="#333" stroke-width="0.18" >8</text>
<line x1="203.30" y1="235.00" x2="206.30" y2="235.00" stroke="#1e1e1e" stroke-width="1"/>
<text transform="translate(201.30,238.50) scale(1,1.04)" font-size="9.8" text-anchor="end" font-weight="normal" fill="#333" stroke="#333" stroke-width="0.18" >0</text>
<line x1="203.30" y1="166.75" x2="206.30" y2="166.75" stroke="#1e1e1e" stroke-width="1"/>
<text transform="translate(201.30,170.25) scale(1,1.04)" font-size="9.8" text-anchor="end" font-weight="normal" fill="#333" stroke="#333" stroke-width="0.18" >5</text>
<line x1="203.30" y1="98.50" x2="206.30" y2="98.50" stroke="#1e1e1e" stroke-width="1"/>
<text transform="translate(201.30,102.00) scale(1,1.04)" font-size="9.8" text-anchor="end" font-weight="normal" fill="#333" stroke="#333" stroke-width="0.18" >10</text>
<line x1="203.30" y1="30.25" x2="206.30" y2="30.25" stroke="#1e1e1e" stroke-width="1"/>
<text transform="translate(201.30,33.75) scale(1,1.04)" font-size="9.8" text-anchor="end" font-weight="normal" fill="#333" stroke="#333" stroke-width="0.18" >15</text>
<text transform="translate(291.50,270.50) scale(1,1.04)" font-size="9.8" text-anchor="middle" font-weight="normal" fill="#1a1a1a" stroke="#1a1a1a" stroke-width="0.18" >logFC (incipient - virgin)</text>
<text x="0" y="0" font-size="9.8" text-anchor="middle" fill="#1a1a1a" stroke="#1a1a1a" stroke-width="0.18" transform="translate(185.80,132.00) rotate(-90) scale(1,1.04)">−log10(adjusted p)</text>
<text transform="translate(171.80,22.90) scale(1,1.04)" font-size="16.8" text-anchor="start" font-weight="normal" fill="#1a1a1a" stroke="#1a1a1a" stroke-width="0.18" >B.</text>
<path d="M468.5 178.0 L469.5 188.0 L470.0 197.0 L470.5 205.0 L471.5 212.0 L474.5 218.0 L479.0 223.5 L483.5 228.0 L488.0 232.5 L493.0 235.0 L498.5 234.5 L504.0 231.0 L508.5 226.5 L511.8 222.0 L514.0 211.0 L514.5 195.0 L514.5 185.0 L514.0 175.0 L512.0 168.0 L508.0 165.0 L504.0 170.0 L503.0 180.0 L503.5 199.0 L500.5 211.0 L496.0 221.0 L493.0 227.6 L490.5 223.0 L483.5 211.0 L478.0 199.0 L475.5 187.0 L473.5 178.0 L471.0 172.0Z" fill="#D9D9D9" stroke="#D9D9D9" stroke-width="1.2" stroke-linejoin="round"/>
<path d="M469.1 172.7a1.4 1.4 0 1 0 2.8 0a1.4 1.4 0 1 0 -2.8 0M487.3 219.7a1.4 1.4 0 1 0 2.8 0a1.4 1.4 0 1 0 -2.8 0M501.0 202.3a1.4 1.4 0 1 0 2.8 0a1.4 1.4 0 1 0 -2.8 0M473.5 218.5a1.4 1.4 0 1 0 2.8 0a1.4 1.4 0 1 0 -2.8 0M501.1 187.5a1.4 1.4 0 1 0 2.8 0a1.4 1.4 0 1 0 -2.8 0M482.5 209.2a1.4 1.4 0 1 0 2.8 0a1.4 1.4 0 1 0 -2.8 0M475.9 189.2a1.4 1.4 0 1 0 2.8 0a1.4 1.4 0 1 0 -2.8 0M476.1 222.7a1.4 1.4 0 1 0 2.8 0a1.4 1.4 0 1 0 -2.8 0M476.8 196.6a1.4 1.4 0 1 0 2.8 0a1.4 1.4 0 1 0 -2.8 0M479.2 202.2a1.4 1.4 0 1 0 2.8 0a1.4 1.4 0 1 0 -2.8 0M473.1 181.9a1.4 1.4 0 1 0 2.8 0a1.4 1.4 0 1 0 -2.8 0M474.6 184.6a1.4 1.4 0 1 0 2.8 0a1.4 1.4 0 1 0 -2.8 0M513.7 200.7a1.4 1.4 0 1 0 2.8 0a1.4 1.4 0 1 0 -2.8 0M468.1 190.2a1.4 1.4 0 1 0 2.8 0a1.4 1.4 0 1 0 -2.8 0M511.4 169.8a1.4 1.4 0 1 0 2.8 0a1.4 1.4 0 1 0 -2.8 0M506.4 164.1a1.4 1.4 0 1 0 2.8 0a1.4 1.4 0 1 0 -2.8 0M467.6 197.3a1.4 1.4 0 1 0 2.8 0a1.4 1.4 0 1 0 -2.8 0M502.0 231.6a1.4 1.4 0 1 0 2.8 0a1.4 1.4 0 1 0 -2.8 0M501.8 194.8a1.4 1.4 0 1 0 2.8 0a1.4 1.4 0 1 0 -2.8 0M513.8 197.4a1.4 1.4 0 1 0 2.8 0a1.4 1.4 0 1 0 -2.8 0M511.2 220.4a1.4 1.4 0 1 0 2.8 0a1.4 1.4 0 1 0 -2.8 0M513.7 207.0a1.4 1.4 0 1 0 2.8 0a1.4 1.4 0 1 0 -2.8 0M501.3 179.1a1.4 1.4 0 1 0 2.8 0a1.4 1.4 0 1 0 -2.8 0M513.4 204.3a1.4 1.4 0 1 0 2.8 0a1.4 1.4 0 1 0 -2.8 0M500.6 185.1a1.4 1.4 0 1 0 2.8 0a1.4 1.4 0 1 0 -2.8 0M513.8 177.3a1.4 1.4 0 1 0 2.8 0a1.4 1.4 0 1 0 -2.8 0M466.6 179.6a1.4 1.4 0 1 0 2.8 0a1.4 1.4 0 1 0 -2.8 0M513.4 192.4a1.4 1.4 0 1 0 2.8 0a1.4 1.4 0 1 0 -2.8 0M513.0 182.3a1.4 1.4 0 1 0 2.8 0a1.4 1.4 0 1 0 -2.8 0M484.0 231.0a1.4 1.4 0 1 0 2.8 0a1.4 1.4 0 1 0 -2.8 0M499.0 234.2a1.4 1.4 0 1 0 2.8 0a1.4 1.4 0 1 0 -2.8 0M513.6 193.0a1.4 1.4 0 1 0 2.8 0a1.4 1.4 0 1 0 -2.8 0M514.1 183.1a1.4 1.4 0 1 0 2.8 0a1.4 1.4 0 1 0 -2.8 0M497.9 212.1a1.4 1.4 0 1 0 2.8 0a1.4 1.4 0 1 0 -2.8 0M467.7 184.8a1.4 1.4 0 1 0 2.8 0a1.4 1.4 0 1 0 -2.8 0M471.7 175.0a1.4 1.4 0 1 0 2.8 0a1.4 1.4 0 1 0 -2.8 0M494.8 218.0a1.4 1.4 0 1 0 2.8 0a1.4 1.4 0 1 0 -2.8 0M484.1 230.5a1.4 1.4 0 1 0 2.8 0a1.4 1.4 0 1 0 -2.8 0M497.5 214.4a1.4 1.4 0 1 0 2.8 0a1.4 1.4 0 1 0 -2.8 0M513.0 210.7a1.4 1.4 0 1 0 2.8 0a1.4 1.4 0 1 0 -2.8 0M492.9 224.4a1.4 1.4 0 1 0 2.8 0a1.4 1.4 0 1 0 -2.8 0M510.7 221.3a1.4 1.4 0 1 0 2.8 0a1.4 1.4 0 1 0 -2.8 0M476.3 222.7a1.4 1.4 0 1 0 2.8 0a1.4 1.4 0 1 0 -2.8 0M493.2 235.0a1.4 1.4 0 1 0 2.8 0a1.4 1.4 0 1 0 -2.8 0M514.3 196.9a1.4 1.4 0 1 0 2.8 0a1.4 1.4 0 1 0 -2.8 0M484.6 231.6a1.4 1.4 0 1 0 2.8 0a1.4 1.4 0 1 0 -2.8 0M500.9 203.7a1.4 1.4 0 1 0 2.8 0a1.4 1.4 0 1 0 -2.8 0M500.9 191.6a1.4 1.4 0 1 0 2.8 0a1.4 1.4 0 1 0 -2.8 0M476.5 192.5a1.4 1.4 0 1 0 2.8 0a1.4 1.4 0 1 0 -2.8 0M513.2 183.3a1.4 1.4 0 1 0 2.8 0a1.4 1.4 0 1 0 -2.8 0M467.1 179.0a1.4 1.4 0 1 0 2.8 0a1.4 1.4 0 1 0 -2.8 0M504.5 167.0a1.4 1.4 0 1 0 2.8 0a1.4 1.4 0 1 0 -2.8 0M512.9 203.3a1.4 1.4 0 1 0 2.8 0a1.4 1.4 0 1 0 -2.8 0M507.1 164.1a1.4 1.4 0 1 0 2.8 0a1.4 1.4 0 1 0 -2.8 0M503.8 231.7a1.4 1.4 0 1 0 2.8 0a1.4 1.4 0 1 0 -2.8 0M495.2 218.9a1.4 1.4 0 1 0 2.8 0a1.4 1.4 0 1 0 -2.8 0M510.4 167.0a1.4 1.4 0 1 0 2.8 0a1.4 1.4 0 1 0 -2.8 0M498.6 211.9a1.4 1.4 0 1 0 2.8 0a1.4 1.4 0 1 0 -2.8 0M501.7 187.5a1.4 1.4 0 1 0 2.8 0a1.4 1.4 0 1 0 -2.8 0M501.8 189.0a1.4 1.4 0 1 0 2.8 0a1.4 1.4 0 1 0 -2.8 0M514.0 176.0a1.4 1.4 0 1 0 2.8 0a1.4 1.4 0 1 0 -2.8 0M498.8 210.2a1.4 1.4 0 1 0 2.8 0a1.4 1.4 0 1 0 -2.8 0M469.5 171.7a1.4 1.4 0 1 0 2.8 0a1.4 1.4 0 1 0 -2.8 0M506.6 164.3a1.4 1.4 0 1 0 2.8 0a1.4 1.4 0 1 0 -2.8 0M513.7 211.2a1.4 1.4 0 1 0 2.8 0a1.4 1.4 0 1 0 -2.8 0M508.7 226.5a1.4 1.4 0 1 0 2.8 0a1.4 1.4 0 1 0 -2.8 0M467.6 191.6a1.4 1.4 0 1 0 2.8 0a1.4 1.4 0 1 0 -2.8 0M513.5 195.1a1.4 1.4 0 1 0 2.8 0a1.4 1.4 0 1 0 -2.8 0M501.0 194.1a1.4 1.4 0 1 0 2.8 0a1.4 1.4 0 1 0 -2.8 0M466.8 178.9a1.4 1.4 0 1 0 2.8 0a1.4 1.4 0 1 0 -2.8 0M499.8 204.3a1.4 1.4 0 1 0 2.8 0a1.4 1.4 0 1 0 -2.8 0M477.4 196.5a1.4 1.4 0 1 0 2.8 0a1.4 1.4 0 1 0 -2.8 0M470.3 213.5a1.4 1.4 0 1 0 2.8 0a1.4 1.4 0 1 0 -2.8 0M501.4 171.9a1.4 1.4 0 1 0 2.8 0a1.4 1.4 0 1 0 -2.8 0M469.0 204.9a1.4 1.4 0 1 0 2.8 0a1.4 1.4 0 1 0 -2.8 0M482.8 211.1a1.4 1.4 0 1 0 2.8 0a1.4 1.4 0 1 0 -2.8 0M513.6 206.8a1.4 1.4 0 1 0 2.8 0a1.4 1.4 0 1 0 -2.8 0M496.7 213.4a1.4 1.4 0 1 0 2.8 0a1.4 1.4 0 1 0 -2.8 0M468.6 199.2a1.4 1.4 0 1 0 2.8 0a1.4 1.4 0 1 0 -2.8 0M505.2 228.5a1.4 1.4 0 1 0 2.8 0a1.4 1.4 0 1 0 -2.8 0M480.4 227.7a1.4 1.4 0 1 0 2.8 0a1.4 1.4 0 1 0 -2.8 0M482.8 210.8a1.4 1.4 0 1 0 2.8 0a1.4 1.4 0 1 0 -2.8 0M504.4 229.6a1.4 1.4 0 1 0 2.8 0a1.4 1.4 0 1 0 -2.8 0M487.5 233.6a1.4 1.4 0 1 0 2.8 0a1.4 1.4 0 1 0 -2.8 0M480.2 227.0a1.4 1.4 0 1 0 2.8 0a1.4 1.4 0 1 0 -2.8 0M501.7 199.6a1.4 1.4 0 1 0 2.8 0a1.4 1.4 0 1 0 -2.8 0M513.3 193.7a1.4 1.4 0 1 0 2.8 0a1.4 1.4 0 1 0 -2.8 0M471.9 176.3a1.4 1.4 0 1 0 2.8 0a1.4 1.4 0 1 0 -2.8 0M468.5 197.3a1.4 1.4 0 1 0 2.8 0a1.4 1.4 0 1 0 -2.8 0M477.1 195.5a1.4 1.4 0 1 0 2.8 0a1.4 1.4 0 1 0 -2.8 0M513.6 193.0a1.4 1.4 0 1 0 2.8 0a1.4 1.4 0 1 0 -2.8 0M487.9 233.8a1.4 1.4 0 1 0 2.8 0a1.4 1.4 0 1 0 -2.8 0M475.1 189.8a1.4 1.4 0 1 0 2.8 0a1.4 1.4 0 1 0 -2.8 0M466.6 184.4a1.4 1.4 0 1 0 2.8 0a1.4 1.4 0 1 0 -2.8 0M496.4 214.2a1.4 1.4 0 1 0 2.8 0a1.4 1.4 0 1 0 -2.8 0M472.1 176.7a1.4 1.4 0 1 0 2.8 0a1.4 1.4 0 1 0 -2.8 0M513.5 174.0a1.4 1.4 0 1 0 2.8 0a1.4 1.4 0 1 0 -2.8 0M500.1 205.8a1.4 1.4 0 1 0 2.8 0a1.4 1.4 0 1 0 -2.8 0M466.7 179.7a1.4 1.4 0 1 0 2.8 0a1.4 1.4 0 1 0 -2.8 0M476.5 224.1a1.4 1.4 0 1 0 2.8 0a1.4 1.4 0 1 0 -2.8 0M474.5 189.0a1.4 1.4 0 1 0 2.8 0a1.4 1.4 0 1 0 -2.8 0M506.1 164.1a1.4 1.4 0 1 0 2.8 0a1.4 1.4 0 1 0 -2.8 0M498.9 208.7a1.4 1.4 0 1 0 2.8 0a1.4 1.4 0 1 0 -2.8 0M469.6 171.9a1.4 1.4 0 1 0 2.8 0a1.4 1.4 0 1 0 -2.8 0M500.9 196.5a1.4 1.4 0 1 0 2.8 0a1.4 1.4 0 1 0 -2.8 0M501.8 174.5a1.4 1.4 0 1 0 2.8 0a1.4 1.4 0 1 0 -2.8 0M487.1 219.3a1.4 1.4 0 1 0 2.8 0a1.4 1.4 0 1 0 -2.8 0M501.5 177.9a1.4 1.4 0 1 0 2.8 0a1.4 1.4 0 1 0 -2.8 0M489.2 234.8a1.4 1.4 0 1 0 2.8 0a1.4 1.4 0 1 0 -2.8 0M487.7 218.9a1.4 1.4 0 1 0 2.8 0a1.4 1.4 0 1 0 -2.8 0M512.3 213.9a1.4 1.4 0 1 0 2.8 0a1.4 1.4 0 1 0 -2.8 0M514.1 209.0a1.4 1.4 0 1 0 2.8 0a1.4 1.4 0 1 0 -2.8 0M487.3 233.0a1.4 1.4 0 1 0 2.8 0a1.4 1.4 0 1 0 -2.8 0M475.7 222.0a1.4 1.4 0 1 0 2.8 0a1.4 1.4 0 1 0 -2.8 0M467.1 176.8a1.4 1.4 0 1 0 2.8 0a1.4 1.4 0 1 0 -2.8 0M502.4 170.5a1.4 1.4 0 1 0 2.8 0a1.4 1.4 0 1 0 -2.8 0M467.8 186.7a1.4 1.4 0 1 0 2.8 0a1.4 1.4 0 1 0 -2.8 0M486.4 233.1a1.4 1.4 0 1 0 2.8 0a1.4 1.4 0 1 0 -2.8 0M479.6 205.1a1.4 1.4 0 1 0 2.8 0a1.4 1.4 0 1 0 -2.8 0M500.6 200.2a1.4 1.4 0 1 0 2.8 0a1.4 1.4 0 1 0 -2.8 0M501.6 193.7a1.4 1.4 0 1 0 2.8 0a1.4 1.4 0 1 0 -2.8 0M491.3 225.1a1.4 1.4 0 1 0 2.8 0a1.4 1.4 0 1 0 -2.8 0M512.8 208.3a1.4 1.4 0 1 0 2.8 0a1.4 1.4 0 1 0 -2.8 0M498.8 210.9a1.4 1.4 0 1 0 2.8 0a1.4 1.4 0 1 0 -2.8 0M469.5 170.8a1.4 1.4 0 1 0 2.8 0a1.4 1.4 0 1 0 -2.8 0M467.6 192.0a1.4 1.4 0 1 0 2.8 0a1.4 1.4 0 1 0 -2.8 0M468.8 201.7a1.4 1.4 0 1 0 2.8 0a1.4 1.4 0 1 0 -2.8 0M479.4 203.9a1.4 1.4 0 1 0 2.8 0a1.4 1.4 0 1 0 -2.8 0M487.3 232.9a1.4 1.4 0 1 0 2.8 0a1.4 1.4 0 1 0 -2.8 0M500.5 187.0a1.4 1.4 0 1 0 2.8 0a1.4 1.4 0 1 0 -2.8 0M477.8 224.5a1.4 1.4 0 1 0 2.8 0a1.4 1.4 0 1 0 -2.8 0M495.2 219.6a1.4 1.4 0 1 0 2.8 0a1.4 1.4 0 1 0 -2.8 0M507.3 165.1a1.4 1.4 0 1 0 2.8 0a1.4 1.4 0 1 0 -2.8 0M511.3 220.5a1.4 1.4 0 1 0 2.8 0a1.4 1.4 0 1 0 -2.8 0M488.6 234.4a1.4 1.4 0 1 0 2.8 0a1.4 1.4 0 1 0 -2.8 0M513.2 200.3a1.4 1.4 0 1 0 2.8 0a1.4 1.4 0 1 0 -2.8 0M482.2 209.1a1.4 1.4 0 1 0 2.8 0a1.4 1.4 0 1 0 -2.8 0M467.0 185.2a1.4 1.4 0 1 0 2.8 0a1.4 1.4 0 1 0 -2.8 0M475.8 192.0a1.4 1.4 0 1 0 2.8 0a1.4 1.4 0 1 0 -2.8 0M478.7 202.7a1.4 1.4 0 1 0 2.8 0a1.4 1.4 0 1 0 -2.8 0M495.0 219.0a1.4 1.4 0 1 0 2.8 0a1.4 1.4 0 1 0 -2.8 0M475.3 188.1a1.4 1.4 0 1 0 2.8 0a1.4 1.4 0 1 0 -2.8 0M487.0 217.0a1.4 1.4 0 1 0 2.8 0a1.4 1.4 0 1 0 -2.8 0M472.4 176.0a1.4 1.4 0 1 0 2.8 0a1.4 1.4 0 1 0 -2.8 0M500.9 188.9a1.4 1.4 0 1 0 2.8 0a1.4 1.4 0 1 0 -2.8 0M477.4 200.7a1.4 1.4 0 1 0 2.8 0a1.4 1.4 0 1 0 -2.8 0M486.8 217.4a1.4 1.4 0 1 0 2.8 0a1.4 1.4 0 1 0 -2.8 0M498.5 210.0a1.4 1.4 0 1 0 2.8 0a1.4 1.4 0 1 0 -2.8 0M510.3 222.4a1.4 1.4 0 1 0 2.8 0a1.4 1.4 0 1 0 -2.8 0M473.5 219.4a1.4 1.4 0 1 0 2.8 0a1.4 1.4 0 1 0 -2.8 0M490.0 234.5a1.4 1.4 0 1 0 2.8 0a1.4 1.4 0 1 0 -2.8 0M501.4 173.5a1.4 1.4 0 1 0 2.8 0a1.4 1.4 0 1 0 -2.8 0M486.6 232.9a1.4 1.4 0 1 0 2.8 0a1.4 1.4 0 1 0 -2.8 0M503.9 167.0a1.4 1.4 0 1 0 2.8 0a1.4 1.4 0 1 0 -2.8 0M513.0 182.7a1.4 1.4 0 1 0 2.8 0a1.4 1.4 0 1 0 -2.8 0M504.0 229.8a1.4 1.4 0 1 0 2.8 0a1.4 1.4 0 1 0 -2.8 0M467.7 191.6a1.4 1.4 0 1 0 2.8 0a1.4 1.4 0 1 0 -2.8 0M484.7 215.4a1.4 1.4 0 1 0 2.8 0a1.4 1.4 0 1 0 -2.8 0M501.2 181.0a1.4 1.4 0 1 0 2.8 0a1.4 1.4 0 1 0 -2.8 0M479.2 225.6a1.4 1.4 0 1 0 2.8 0a1.4 1.4 0 1 0 -2.8 0M479.5 226.8a1.4 1.4 0 1 0 2.8 0a1.4 1.4 0 1 0 -2.8 0M494.0 219.3a1.4 1.4 0 1 0 2.8 0a1.4 1.4 0 1 0 -2.8 0M501.3 184.4a1.4 1.4 0 1 0 2.8 0a1.4 1.4 0 1 0 -2.8 0M484.0 230.1a1.4 1.4 0 1 0 2.8 0a1.4 1.4 0 1 0 -2.8 0M468.0 173.5a1.4 1.4 0 1 0 2.8 0a1.4 1.4 0 1 0 -2.8 0M478.8 225.3a1.4 1.4 0 1 0 2.8 0a1.4 1.4 0 1 0 -2.8 0M513.3 181.6a1.4 1.4 0 1 0 2.8 0a1.4 1.4 0 1 0 -2.8 0M474.7 185.2a1.4 1.4 0 1 0 2.8 0a1.4 1.4 0 1 0 -2.8 0M500.5 202.7a1.4 1.4 0 1 0 2.8 0a1.4 1.4 0 1 0 -2.8 0M470.8 172.6a1.4 1.4 0 1 0 2.8 0a1.4 1.4 0 1 0 -2.8 0M467.7 195.6a1.4 1.4 0 1 0 2.8 0a1.4 1.4 0 1 0 -2.8 0M500.5 183.0a1.4 1.4 0 1 0 2.8 0a1.4 1.4 0 1 0 -2.8 0M492.0 224.7a1.4 1.4 0 1 0 2.8 0a1.4 1.4 0 1 0 -2.8 0M501.2 181.8a1.4 1.4 0 1 0 2.8 0a1.4 1.4 0 1 0 -2.8 0M500.9 202.2a1.4 1.4 0 1 0 2.8 0a1.4 1.4 0 1 0 -2.8 0M473.9 184.9a1.4 1.4 0 1 0 2.8 0a1.4 1.4 0 1 0 -2.8 0M483.7 230.5a1.4 1.4 0 1 0 2.8 0a1.4 1.4 0 1 0 -2.8 0M498.0 210.3a1.4 1.4 0 1 0 2.8 0a1.4 1.4 0 1 0 -2.8 0M512.1 216.1a1.4 1.4 0 1 0 2.8 0a1.4 1.4 0 1 0 -2.8 0M482.9 229.8a1.4 1.4 0 1 0 2.8 0a1.4 1.4 0 1 0 -2.8 0M467.0 176.0a1.4 1.4 0 1 0 2.8 0a1.4 1.4 0 1 0 -2.8 0M496.6 235.2a1.4 1.4 0 1 0 2.8 0a1.4 1.4 0 1 0 -2.8 0M497.7 211.9a1.4 1.4 0 1 0 2.8 0a1.4 1.4 0 1 0 -2.8 0M490.5 225.5a1.4 1.4 0 1 0 2.8 0a1.4 1.4 0 1 0 -2.8 0M511.6 168.0a1.4 1.4 0 1 0 2.8 0a1.4 1.4 0 1 0 -2.8 0M468.7 207.8a1.4 1.4 0 1 0 2.8 0a1.4 1.4 0 1 0 -2.8 0M473.0 180.1a1.4 1.4 0 1 0 2.8 0a1.4 1.4 0 1 0 -2.8 0M477.2 198.9a1.4 1.4 0 1 0 2.8 0a1.4 1.4 0 1 0 -2.8 0M474.4 186.7a1.4 1.4 0 1 0 2.8 0a1.4 1.4 0 1 0 -2.8 0M468.5 205.8a1.4 1.4 0 1 0 2.8 0a1.4 1.4 0 1 0 -2.8 0M513.2 205.1a1.4 1.4 0 1 0 2.8 0a1.4 1.4 0 1 0 -2.8 0M501.8 192.6a1.4 1.4 0 1 0 2.8 0a1.4 1.4 0 1 0 -2.8 0M503.7 231.3a1.4 1.4 0 1 0 2.8 0a1.4 1.4 0 1 0 -2.8 0M469.2 206.5a1.4 1.4 0 1 0 2.8 0a1.4 1.4 0 1 0 -2.8 0M490.5 225.2a1.4 1.4 0 1 0 2.8 0a1.4 1.4 0 1 0 -2.8 0M505.5 165.8a1.4 1.4 0 1 0 2.8 0a1.4 1.4 0 1 0 -2.8 0M501.7 172.8a1.4 1.4 0 1 0 2.8 0a1.4 1.4 0 1 0 -2.8 0M482.2 210.8a1.4 1.4 0 1 0 2.8 0a1.4 1.4 0 1 0 -2.8 0M501.4 185.4a1.4 1.4 0 1 0 2.8 0a1.4 1.4 0 1 0 -2.8 0M508.6 225.4a1.4 1.4 0 1 0 2.8 0a1.4 1.4 0 1 0 -2.8 0M543.9 42.0a1.4 1.4 0 1 0 2.8 0a1.4 1.4 0 1 0 -2.8 0M547.6 48.6a1.4 1.4 0 1 0 2.8 0a1.4 1.4 0 1 0 -2.8 0M528.3 57.2a1.4 1.4 0 1 0 2.8 0a1.4 1.4 0 1 0 -2.8 0M554.8 57.2a1.4 1.4 0 1 0 2.8 0a1.4 1.4 0 1 0 -2.8 0M535.6 80.4a1.4 1.4 0 1 0 2.8 0a1.4 1.4 0 1 0 -2.8 0M524.4 88.7a1.4 1.4 0 1 0 2.8 0a1.4 1.4 0 1 0 -2.8 0M547.2 89.3a1.4 1.4 0 1 0 2.8 0a1.4 1.4 0 1 0 -2.8 0M516.4 93.6a1.4 1.4 0 1 0 2.8 0a1.4 1.4 0 1 0 -2.8 0M540.0 97.0a1.4 1.4 0 1 0 2.8 0a1.4 1.4 0 1 0 -2.8 0M453.9 112.5a1.4 1.4 0 1 0 2.8 0a1.4 1.4 0 1 0 -2.8 0M437.0 115.1a1.4 1.4 0 1 0 2.8 0a1.4 1.4 0 1 0 -2.8 0M439.0 118.1a1.4 1.4 0 1 0 2.8 0a1.4 1.4 0 1 0 -2.8 0M465.5 134.0a1.4 1.4 0 1 0 2.8 0a1.4 1.4 0 1 0 -2.8 0M445.8 148.4a1.4 1.4 0 1 0 2.8 0a1.4 1.4 0 1 0 -2.8 0M459.3 148.9a1.4 1.4 0 1 0 2.8 0a1.4 1.4 0 1 0 -2.8 0M462.7 150.2a1.4 1.4 0 1 0 2.8 0a1.4 1.4 0 1 0 -2.8 0M458.0 178.9a1.4 1.4 0 1 0 2.8 0a1.4 1.4 0 1 0 -2.8 0M465.6 165.0a1.4 1.4 0 1 0 2.8 0a1.4 1.4 0 1 0 -2.8 0M466.6 170.0a1.4 1.4 0 1 0 2.8 0a1.4 1.4 0 1 0 -2.8 0M464.6 175.0a1.4 1.4 0 1 0 2.8 0a1.4 1.4 0 1 0 -2.8 0M517.7 93.1a1.4 1.4 0 1 0 2.8 0a1.4 1.4 0 1 0 -2.8 0M539.7 96.8a1.4 1.4 0 1 0 2.8 0a1.4 1.4 0 1 0 -2.8 0M547.5 92.1a1.4 1.4 0 1 0 2.8 0a1.4 1.4 0 1 0 -2.8 0M522.0 108.2a1.4 1.4 0 1 0 2.8 0a1.4 1.4 0 1 0 -2.8 0M528.4 107.0a1.4 1.4 0 1 0 2.8 0a1.4 1.4 0 1 0 -2.8 0M533.4 112.0a1.4 1.4 0 1 0 2.8 0a1.4 1.4 0 1 0 -2.8 0M537.6 114.8a1.4 1.4 0 1 0 2.8 0a1.4 1.4 0 1 0 -2.8 0M521.3 114.8a1.4 1.4 0 1 0 2.8 0a1.4 1.4 0 1 0 -2.8 0M517.0 120.1a1.4 1.4 0 1 0 2.8 0a1.4 1.4 0 1 0 -2.8 0M536.2 118.4a1.4 1.4 0 1 0 2.8 0a1.4 1.4 0 1 0 -2.8 0M534.8 122.6a1.4 1.4 0 1 0 2.8 0a1.4 1.4 0 1 0 -2.8 0M541.2 124.8a1.4 1.4 0 1 0 2.8 0a1.4 1.4 0 1 0 -2.8 0M551.1 124.8a1.4 1.4 0 1 0 2.8 0a1.4 1.4 0 1 0 -2.8 0M526.3 125.5a1.4 1.4 0 1 0 2.8 0a1.4 1.4 0 1 0 -2.8 0M523.6 136.0a1.4 1.4 0 1 0 2.8 0a1.4 1.4 0 1 0 -2.8 0M525.6 138.0a1.4 1.4 0 1 0 2.8 0a1.4 1.4 0 1 0 -2.8 0M524.1 140.0a1.4 1.4 0 1 0 2.8 0a1.4 1.4 0 1 0 -2.8 0M509.2 143.9a1.4 1.4 0 1 0 2.8 0a1.4 1.4 0 1 0 -2.8 0M543.3 187.8a1.4 1.4 0 1 0 2.8 0a1.4 1.4 0 1 0 -2.8 0M544.7 189.2a1.4 1.4 0 1 0 2.8 0a1.4 1.4 0 1 0 -2.8 0M534.8 209.8a1.4 1.4 0 1 0 2.8 0a1.4 1.4 0 1 0 -2.8 0M523.5 221.1a1.4 1.4 0 1 0 2.8 0a1.4 1.4 0 1 0 -2.8 0M520.6 217.6a1.4 1.4 0 1 0 2.8 0a1.4 1.4 0 1 0 -2.8 0M512.8 225.4a1.4 1.4 0 1 0 2.8 0a1.4 1.4 0 1 0 -2.8 0M518.6 150.0a1.4 1.4 0 1 0 2.8 0a1.4 1.4 0 1 0 -2.8 0M516.6 160.0a1.4 1.4 0 1 0 2.8 0a1.4 1.4 0 1 0 -2.8 0M520.6 158.0a1.4 1.4 0 1 0 2.8 0a1.4 1.4 0 1 0 -2.8 0M517.6 178.0a1.4 1.4 0 1 0 2.8 0a1.4 1.4 0 1 0 -2.8 0M521.6 185.0a1.4 1.4 0 1 0 2.8 0a1.4 1.4 0 1 0 -2.8 0M515.6 172.0a1.4 1.4 0 1 0 2.8 0a1.4 1.4 0 1 0 -2.8 0M543.6 170.0a1.4 1.4 0 1 0 2.8 0a1.4 1.4 0 1 0 -2.8 0M546.6 200.0a1.4 1.4 0 1 0 2.8 0a1.4 1.4 0 1 0 -2.8 0M460.6 160.0a1.4 1.4 0 1 0 2.8 0a1.4 1.4 0 1 0 -2.8 0M461.6 190.0a1.4 1.4 0 1 0 2.8 0a1.4 1.4 0 1 0 -2.8 0M463.6 196.0a1.4 1.4 0 1 0 2.8 0a1.4 1.4 0 1 0 -2.8 0M456.6 200.0a1.4 1.4 0 1 0 2.8 0a1.4 1.4 0 1 0 -2.8 0M468.6 214.0a1.4 1.4 0 1 0 2.8 0a1.4 1.4 0 1 0 -2.8 0M508.7 191.7a1.4 1.4 0 1 0 2.8 0a1.4 1.4 0 1 0 -2.8 0M522.2 156.2a1.4 1.4 0 1 0 2.8 0a1.4 1.4 0 1 0 -2.8 0M511.8 140.2a1.4 1.4 0 1 0 2.8 0a1.4 1.4 0 1 0 -2.8 0M511.6 157.5a1.4 1.4 0 1 0 2.8 0a1.4 1.4 0 1 0 -2.8 0M528.1 142.6a1.4 1.4 0 1 0 2.8 0a1.4 1.4 0 1 0 -2.8 0M517.4 151.6a1.4 1.4 0 1 0 2.8 0a1.4 1.4 0 1 0 -2.8 0M507.0 209.6a1.4 1.4 0 1 0 2.8 0a1.4 1.4 0 1 0 -2.8 0M525.3 165.7a1.4 1.4 0 1 0 2.8 0a1.4 1.4 0 1 0 -2.8 0M509.6 142.8a1.4 1.4 0 1 0 2.8 0a1.4 1.4 0 1 0 -2.8 0M511.7 198.5a1.4 1.4 0 1 0 2.8 0a1.4 1.4 0 1 0 -2.8 0M506.9 175.7a1.4 1.4 0 1 0 2.8 0a1.4 1.4 0 1 0 -2.8 0M510.2 209.2a1.4 1.4 0 1 0 2.8 0a1.4 1.4 0 1 0 -2.8 0M519.2 167.4a1.4 1.4 0 1 0 2.8 0a1.4 1.4 0 1 0 -2.8 0M518.2 214.6a1.4 1.4 0 1 0 2.8 0a1.4 1.4 0 1 0 -2.8 0M502.8 147.0a1.4 1.4 0 1 0 2.8 0a1.4 1.4 0 1 0 -2.8 0M525.3 196.1a1.4 1.4 0 1 0 2.8 0a1.4 1.4 0 1 0 -2.8 0M509.4 152.8a1.4 1.4 0 1 0 2.8 0a1.4 1.4 0 1 0 -2.8 0M514.8 147.7a1.4 1.4 0 1 0 2.8 0a1.4 1.4 0 1 0 -2.8 0M522.7 168.2a1.4 1.4 0 1 0 2.8 0a1.4 1.4 0 1 0 -2.8 0M539.3 152.2a1.4 1.4 0 1 0 2.8 0a1.4 1.4 0 1 0 -2.8 0M537.6 143.9a1.4 1.4 0 1 0 2.8 0a1.4 1.4 0 1 0 -2.8 0M514.1 171.5a1.4 1.4 0 1 0 2.8 0a1.4 1.4 0 1 0 -2.8 0M504.6 165.4a1.4 1.4 0 1 0 2.8 0a1.4 1.4 0 1 0 -2.8 0M512.4 211.9a1.4 1.4 0 1 0 2.8 0a1.4 1.4 0 1 0 -2.8 0M532.9 142.1a1.4 1.4 0 1 0 2.8 0a1.4 1.4 0 1 0 -2.8 0M513.5 197.6a1.4 1.4 0 1 0 2.8 0a1.4 1.4 0 1 0 -2.8 0M531.1 211.5a1.4 1.4 0 1 0 2.8 0a1.4 1.4 0 1 0 -2.8 0M542.8 207.9a1.4 1.4 0 1 0 2.8 0a1.4 1.4 0 1 0 -2.8 0M505.7 147.0a1.4 1.4 0 1 0 2.8 0a1.4 1.4 0 1 0 -2.8 0M520.8 150.6a1.4 1.4 0 1 0 2.8 0a1.4 1.4 0 1 0 -2.8 0M515.5 177.0a1.4 1.4 0 1 0 2.8 0a1.4 1.4 0 1 0 -2.8 0M508.7 153.8a1.4 1.4 0 1 0 2.8 0a1.4 1.4 0 1 0 -2.8 0M532.1 181.3a1.4 1.4 0 1 0 2.8 0a1.4 1.4 0 1 0 -2.8 0M504.3 197.3a1.4 1.4 0 1 0 2.8 0a1.4 1.4 0 1 0 -2.8 0M515.1 143.1a1.4 1.4 0 1 0 2.8 0a1.4 1.4 0 1 0 -2.8 0M514.9 207.6a1.4 1.4 0 1 0 2.8 0a1.4 1.4 0 1 0 -2.8 0M505.8 185.1a1.4 1.4 0 1 0 2.8 0a1.4 1.4 0 1 0 -2.8 0M533.2 212.5a1.4 1.4 0 1 0 2.8 0a1.4 1.4 0 1 0 -2.8 0M506.2 145.7a1.4 1.4 0 1 0 2.8 0a1.4 1.4 0 1 0 -2.8 0M520.6 178.8a1.4 1.4 0 1 0 2.8 0a1.4 1.4 0 1 0 -2.8 0M505.4 147.2a1.4 1.4 0 1 0 2.8 0a1.4 1.4 0 1 0 -2.8 0M501.2 153.9a1.4 1.4 0 1 0 2.8 0a1.4 1.4 0 1 0 -2.8 0M503.6 162.5a1.4 1.4 0 1 0 2.8 0a1.4 1.4 0 1 0 -2.8 0M510.4 163.2a1.4 1.4 0 1 0 2.8 0a1.4 1.4 0 1 0 -2.8 0M506.1 147.6a1.4 1.4 0 1 0 2.8 0a1.4 1.4 0 1 0 -2.8 0M505.2 155.6a1.4 1.4 0 1 0 2.8 0a1.4 1.4 0 1 0 -2.8 0M508.2 170.8a1.4 1.4 0 1 0 2.8 0a1.4 1.4 0 1 0 -2.8 0M501.6 155.4a1.4 1.4 0 1 0 2.8 0a1.4 1.4 0 1 0 -2.8 0M506.5 162.9a1.4 1.4 0 1 0 2.8 0a1.4 1.4 0 1 0 -2.8 0M511.3 164.9a1.4 1.4 0 1 0 2.8 0a1.4 1.4 0 1 0 -2.8 0M508.1 164.3a1.4 1.4 0 1 0 2.8 0a1.4 1.4 0 1 0 -2.8 0M508.6 167.5a1.4 1.4 0 1 0 2.8 0a1.4 1.4 0 1 0 -2.8 0M509.0 161.9a1.4 1.4 0 1 0 2.8 0a1.4 1.4 0 1 0 -2.8 0M503.5 169.3a1.4 1.4 0 1 0 2.8 0a1.4 1.4 0 1 0 -2.8 0M505.2 159.7a1.4 1.4 0 1 0 2.8 0a1.4 1.4 0 1 0 -2.8 0M510.5 170.8a1.4 1.4 0 1 0 2.8 0a1.4 1.4 0 1 0 -2.8 0M512.5 140.2a1.4 1.4 0 1 0 2.8 0a1.4 1.4 0 1 0 -2.8 0M504.4 150.0a1.4 1.4 0 1 0 2.8 0a1.4 1.4 0 1 0 -2.8 0M505.3 144.7a1.4 1.4 0 1 0 2.8 0a1.4 1.4 0 1 0 -2.8 0M507.2 142.5a1.4 1.4 0 1 0 2.8 0a1.4 1.4 0 1 0 -2.8 0M504.2 170.2a1.4 1.4 0 1 0 2.8 0a1.4 1.4 0 1 0 -2.8 0M509.5 154.8a1.4 1.4 0 1 0 2.8 0a1.4 1.4 0 1 0 -2.8 0M501.9 170.6a1.4 1.4 0 1 0 2.8 0a1.4 1.4 0 1 0 -2.8 0M509.0 146.6a1.4 1.4 0 1 0 2.8 0a1.4 1.4 0 1 0 -2.8 0M504.6 160.5a1.4 1.4 0 1 0 2.8 0a1.4 1.4 0 1 0 -2.8 0M508.8 148.3a1.4 1.4 0 1 0 2.8 0a1.4 1.4 0 1 0 -2.8 0M512.0 150.3a1.4 1.4 0 1 0 2.8 0a1.4 1.4 0 1 0 -2.8 0M503.7 167.1a1.4 1.4 0 1 0 2.8 0a1.4 1.4 0 1 0 -2.8 0M502.4 161.8a1.4 1.4 0 1 0 2.8 0a1.4 1.4 0 1 0 -2.8 0M503.0 159.1a1.4 1.4 0 1 0 2.8 0a1.4 1.4 0 1 0 -2.8 0M461.9 177.7a1.4 1.4 0 1 0 2.8 0a1.4 1.4 0 1 0 -2.8 0M469.9 183.0a1.4 1.4 0 1 0 2.8 0a1.4 1.4 0 1 0 -2.8 0M463.8 192.0a1.4 1.4 0 1 0 2.8 0a1.4 1.4 0 1 0 -2.8 0M462.0 165.5a1.4 1.4 0 1 0 2.8 0a1.4 1.4 0 1 0 -2.8 0M463.2 171.3a1.4 1.4 0 1 0 2.8 0a1.4 1.4 0 1 0 -2.8 0M460.9 212.6a1.4 1.4 0 1 0 2.8 0a1.4 1.4 0 1 0 -2.8 0M459.0 203.6a1.4 1.4 0 1 0 2.8 0a1.4 1.4 0 1 0 -2.8 0M469.8 197.3a1.4 1.4 0 1 0 2.8 0a1.4 1.4 0 1 0 -2.8 0M458.8 185.1a1.4 1.4 0 1 0 2.8 0a1.4 1.4 0 1 0 -2.8 0M459.1 191.5a1.4 1.4 0 1 0 2.8 0a1.4 1.4 0 1 0 -2.8 0M467.0 169.4a1.4 1.4 0 1 0 2.8 0a1.4 1.4 0 1 0 -2.8 0M458.7 187.7a1.4 1.4 0 1 0 2.8 0a1.4 1.4 0 1 0 -2.8 0M459.7 173.5a1.4 1.4 0 1 0 2.8 0a1.4 1.4 0 1 0 -2.8 0M464.0 208.7a1.4 1.4 0 1 0 2.8 0a1.4 1.4 0 1 0 -2.8 0M463.0 163.1a1.4 1.4 0 1 0 2.8 0a1.4 1.4 0 1 0 -2.8 0M468.1 204.3a1.4 1.4 0 1 0 2.8 0a1.4 1.4 0 1 0 -2.8 0M465.0 157.9a1.4 1.4 0 1 0 2.8 0a1.4 1.4 0 1 0 -2.8 0M460.9 179.2a1.4 1.4 0 1 0 2.8 0a1.4 1.4 0 1 0 -2.8 0M465.2 168.5a1.4 1.4 0 1 0 2.8 0a1.4 1.4 0 1 0 -2.8 0M468.2 205.6a1.4 1.4 0 1 0 2.8 0a1.4 1.4 0 1 0 -2.8 0M469.7 208.0a1.4 1.4 0 1 0 2.8 0a1.4 1.4 0 1 0 -2.8 0M458.8 189.9a1.4 1.4 0 1 0 2.8 0a1.4 1.4 0 1 0 -2.8 0M459.6 209.0a1.4 1.4 0 1 0 2.8 0a1.4 1.4 0 1 0 -2.8 0M467.6 200.6a1.4 1.4 0 1 0 2.8 0a1.4 1.4 0 1 0 -2.8 0M460.9 158.6a1.4 1.4 0 1 0 2.8 0a1.4 1.4 0 1 0 -2.8 0M468.4 191.4a1.4 1.4 0 1 0 2.8 0a1.4 1.4 0 1 0 -2.8 0M466.0 183.3a1.4 1.4 0 1 0 2.8 0a1.4 1.4 0 1 0 -2.8 0M468.2 175.3a1.4 1.4 0 1 0 2.8 0a1.4 1.4 0 1 0 -2.8 0M461.8 176.2a1.4 1.4 0 1 0 2.8 0a1.4 1.4 0 1 0 -2.8 0M462.2 192.6a1.4 1.4 0 1 0 2.8 0a1.4 1.4 0 1 0 -2.8 0" fill="#D9D9D9"/>
<line x1="473.98" y1="20.00" x2="473.98" y2="245.00" stroke="#111" stroke-width="1.45" stroke-dasharray="5.05,5.5" stroke-dashoffset="1.35"/>
<line x1="512.62" y1="20.00" x2="512.62" y2="245.00" stroke="#111" stroke-width="1.45" stroke-dasharray="5.05,5.5" stroke-dashoffset="1.35"/>
<line x1="408.10" y1="217.24" x2="579.00" y2="217.24" stroke="#111" stroke-width="1.45" stroke-dasharray="5.2,5.3"/>
<circle cx="545.0" cy="60.3" r="2.8" fill="#E31A1C" fill-opacity="0.85" stroke="#1a1a1a" stroke-width="0.75"/>
<circle cx="548.2" cy="67.1" r="2.8" fill="#E31A1C" fill-opacity="0.85" stroke="#1a1a1a" stroke-width="0.75"/>
<circle cx="530.5" cy="98.9" r="2.8" fill="#FF7F00" fill-opacity="0.85" stroke="#1a1a1a" stroke-width="0.75"/>
<circle cx="534.5" cy="104.2" r="2.8" fill="#B2DF8A" fill-opacity="0.85" stroke="#1a1a1a" stroke-width="0.75"/>
<circle cx="536.6" cy="105.6" r="2.8" fill="#6A3D9A" fill-opacity="0.85" stroke="#1a1a1a" stroke-width="0.75"/>
<circle cx="540.1" cy="106.3" r="2.8" fill="#E31A1C" fill-opacity="0.85" stroke="#1a1a1a" stroke-width="0.75"/>
<circle cx="547.5" cy="111.3" r="2.8" fill="#FF7F00" fill-opacity="0.85" stroke="#1a1a1a" stroke-width="0.75"/>
<circle cx="532.3" cy="114.4" r="2.8" fill="#E31A1C" fill-opacity="0.85" stroke="#1a1a1a" stroke-width="0.75"/>
<circle cx="525.5" cy="117.4" r="2.8" fill="#E31A1C" fill-opacity="0.85" stroke="#1a1a1a" stroke-width="0.75"/>
<circle cx="523.7" cy="128.7" r="2.8" fill="#B2DF8A" fill-opacity="0.85" stroke="#1a1a1a" stroke-width="0.75"/>
<circle cx="528.4" cy="130.1" r="2.8" fill="#E31A1C" fill-opacity="0.85" stroke="#1a1a1a" stroke-width="0.75"/>
<circle cx="534.0" cy="129.3" r="2.8" fill="#E31A1C" fill-opacity="0.85" stroke="#1a1a1a" stroke-width="0.75"/>
<circle cx="541.6" cy="131.6" r="2.8" fill="#E31A1C" fill-opacity="0.85" stroke="#1a1a1a" stroke-width="0.75"/>
<circle cx="546.8" cy="131.6" r="2.8" fill="#E31A1C" fill-opacity="0.85" stroke="#1a1a1a" stroke-width="0.75"/>
<circle cx="533.3" cy="137.2" r="2.8" fill="#6A3D9A" fill-opacity="0.85" stroke="#1a1a1a" stroke-width="0.75"/>
<circle cx="514.2" cy="141.3" r="2.8" fill="#6A3D9A" fill-opacity="0.85" stroke="#1a1a1a" stroke-width="0.75"/>
<circle cx="517.0" cy="141.3" r="2.8" fill="#6A3D9A" fill-opacity="0.85" stroke="#1a1a1a" stroke-width="0.75"/>
<circle cx="534.8" cy="143.0" r="2.8" fill="#E31A1C" fill-opacity="0.85" stroke="#1a1a1a" stroke-width="0.75"/>
<circle cx="537.6" cy="145.8" r="2.8" fill="#E31A1C" fill-opacity="0.85" stroke="#1a1a1a" stroke-width="0.75"/>
<circle cx="524.4" cy="146.8" r="2.8" fill="#FDBF6F" fill-opacity="0.85" stroke="#1a1a1a" stroke-width="0.75"/>
<circle cx="529.5" cy="148.5" r="2.8" fill="#E31A1C" fill-opacity="0.85" stroke="#1a1a1a" stroke-width="0.75"/>
<circle cx="528.8" cy="152.5" r="2.8" fill="#B2DF8A" fill-opacity="0.85" stroke="#1a1a1a" stroke-width="0.75"/>
<circle cx="534.8" cy="150.2" r="2.8" fill="#E31A1C" fill-opacity="0.85" stroke="#1a1a1a" stroke-width="0.75"/>
<circle cx="538.3" cy="150.2" r="2.8" fill="#E31A1C" fill-opacity="0.85" stroke="#1a1a1a" stroke-width="0.75"/>
<circle cx="540.4" cy="155.6" r="2.8" fill="#E31A1C" fill-opacity="0.85" stroke="#1a1a1a" stroke-width="0.75"/>
<circle cx="513.5" cy="150.6" r="2.8" fill="#6A3D9A" fill-opacity="0.85" stroke="#1a1a1a" stroke-width="0.75"/>
<circle cx="513.5" cy="153.5" r="2.8" fill="#6A3D9A" fill-opacity="0.85" stroke="#1a1a1a" stroke-width="0.75"/>
<circle cx="514.2" cy="157.7" r="2.8" fill="#1F78B4" fill-opacity="0.85" stroke="#1a1a1a" stroke-width="0.75"/>
<circle cx="513.5" cy="162.0" r="2.8" fill="#1F78B4" fill-opacity="0.85" stroke="#1a1a1a" stroke-width="0.75"/>
<circle cx="537.2" cy="161.6" r="2.8" fill="#E31A1C" fill-opacity="0.85" stroke="#1a1a1a" stroke-width="0.75"/>
<circle cx="540.4" cy="164.1" r="2.8" fill="#E31A1C" fill-opacity="0.85" stroke="#1a1a1a" stroke-width="0.75"/>
<circle cx="528.1" cy="163.4" r="2.8" fill="#E31A1C" fill-opacity="0.85" stroke="#1a1a1a" stroke-width="0.75"/>
<circle cx="524.1" cy="165.5" r="2.8" fill="#E31A1C" fill-opacity="0.85" stroke="#1a1a1a" stroke-width="0.75"/>
<circle cx="529.8" cy="168.1" r="2.8" fill="#E31A1C" fill-opacity="0.85" stroke="#1a1a1a" stroke-width="0.75"/>
<circle cx="521.0" cy="169.8" r="2.8" fill="#E31A1C" fill-opacity="0.85" stroke="#1a1a1a" stroke-width="0.75"/>
<circle cx="527.0" cy="172.9" r="2.8" fill="#E31A1C" fill-opacity="0.85" stroke="#1a1a1a" stroke-width="0.75"/>
<circle cx="514.2" cy="168.4" r="2.8" fill="#6A3D9A" fill-opacity="0.85" stroke="#1a1a1a" stroke-width="0.75"/>
<circle cx="514.2" cy="174.8" r="2.8" fill="#1F78B4" fill-opacity="0.85" stroke="#1a1a1a" stroke-width="0.75"/>
<circle cx="534.0" cy="176.2" r="2.8" fill="#E31A1C" fill-opacity="0.85" stroke="#1a1a1a" stroke-width="0.75"/>
<circle cx="529.1" cy="180.7" r="2.8" fill="#E31A1C" fill-opacity="0.85" stroke="#1a1a1a" stroke-width="0.75"/>
<circle cx="534.1" cy="180.7" r="2.8" fill="#FFFF99" fill-opacity="0.85" stroke="#1a1a1a" stroke-width="0.75"/>
<circle cx="532.0" cy="184.0" r="2.8" fill="#E31A1C" fill-opacity="0.85" stroke="#1a1a1a" stroke-width="0.75"/>
<circle cx="536.5" cy="185.0" r="2.8" fill="#6A3D9A" fill-opacity="0.85" stroke="#1a1a1a" stroke-width="0.75"/>
<circle cx="537.6" cy="187.8" r="2.8" fill="#E31A1C" fill-opacity="0.85" stroke="#1a1a1a" stroke-width="0.75"/>
<circle cx="513.8" cy="182.1" r="2.8" fill="#6A3D9A" fill-opacity="0.85" stroke="#1a1a1a" stroke-width="0.75"/>
<circle cx="514.9" cy="186.8" r="2.8" fill="#FF7F00" fill-opacity="0.85" stroke="#1a1a1a" stroke-width="0.75"/>
<circle cx="518.5" cy="189.6" r="2.8" fill="#A6CEE3" fill-opacity="0.85" stroke="#1a1a1a" stroke-width="0.75"/>
<circle cx="513.5" cy="190.6" r="2.8" fill="#6A3D9A" fill-opacity="0.85" stroke="#1a1a1a" stroke-width="0.75"/>
<circle cx="530.5" cy="189.9" r="2.8" fill="#FDBF6F" fill-opacity="0.85" stroke="#1a1a1a" stroke-width="0.75"/>
<circle cx="538.3" cy="193.8" r="2.8" fill="#E31A1C" fill-opacity="0.85" stroke="#1a1a1a" stroke-width="0.75"/>
<circle cx="520.3" cy="197.3" r="2.8" fill="#E31A1C" fill-opacity="0.85" stroke="#1a1a1a" stroke-width="0.75"/>
<circle cx="524.9" cy="195.6" r="2.8" fill="#E31A1C" fill-opacity="0.85" stroke="#1a1a1a" stroke-width="0.75"/>
<circle cx="522.7" cy="199.1" r="2.8" fill="#E31A1C" fill-opacity="0.85" stroke="#1a1a1a" stroke-width="0.75"/>
<circle cx="527.7" cy="201.0" r="2.8" fill="#E31A1C" fill-opacity="0.85" stroke="#1a1a1a" stroke-width="0.75"/>
<circle cx="531.2" cy="204.1" r="2.8" fill="#E31A1C" fill-opacity="0.85" stroke="#1a1a1a" stroke-width="0.75"/>
<circle cx="532.4" cy="205.2" r="2.8" fill="#E31A1C" fill-opacity="0.85" stroke="#1a1a1a" stroke-width="0.75"/>
<circle cx="512.8" cy="204.8" r="2.8" fill="#6A3D9A" fill-opacity="0.85" stroke="#1a1a1a" stroke-width="0.75"/>
<circle cx="516.1" cy="205.5" r="2.8" fill="#6A3D9A" fill-opacity="0.85" stroke="#1a1a1a" stroke-width="0.75"/>
<circle cx="519.6" cy="202.7" r="2.8" fill="#6A3D9A" fill-opacity="0.85" stroke="#1a1a1a" stroke-width="0.75"/>
<circle cx="521.0" cy="208.4" r="2.8" fill="#FF7F00" fill-opacity="0.85" stroke="#1a1a1a" stroke-width="0.75"/>
<circle cx="473.2" cy="185.8" r="2.8" fill="#6A3D9A" fill-opacity="0.85" stroke="#1a1a1a" stroke-width="0.75"/>
<circle cx="467.5" cy="200.2" r="2.8" fill="#6A3D9A" fill-opacity="0.85" stroke="#1a1a1a" stroke-width="0.75"/>
<circle cx="474.1" cy="204.5" r="2.8" fill="#A6CEE3" fill-opacity="0.85" stroke="#1a1a1a" stroke-width="0.75"/>
<circle cx="428.7" cy="95.6" r="2.8" fill="#CAB2D6" fill-opacity="0.85" stroke="#1a1a1a" stroke-width="0.75"/>
<circle cx="417.3" cy="132.8" r="2.8" fill="#B15928" fill-opacity="0.85" stroke="#1a1a1a" stroke-width="0.75"/>
<circle cx="464.6" cy="157.0" r="2.8" fill="#A6CEE3" fill-opacity="0.85" stroke="#1a1a1a" stroke-width="0.75"/>
<path d="M408.10 19.80V245.00H579.00" fill="none" stroke="#1e1e1e" stroke-width="1.4"/>
<line x1="416.02" y1="245.00" x2="416.02" y2="248.00" stroke="#1e1e1e" stroke-width="1"/>
<text transform="translate(416.02,259.00) scale(1,1.04)" font-size="9.8" text-anchor="middle" font-weight="normal" fill="#333" stroke="#333" stroke-width="0.18" >−8</text>
<line x1="454.66" y1="245.00" x2="454.66" y2="248.00" stroke="#1e1e1e" stroke-width="1"/>
<text transform="translate(454.66,259.00) scale(1,1.04)" font-size="9.8" text-anchor="middle" font-weight="normal" fill="#333" stroke="#333" stroke-width="0.18" >−4</text>
<line x1="493.30" y1="245.00" x2="493.30" y2="248.00" stroke="#1e1e1e" stroke-width="1"/>
<text transform="translate(493.30,259.00) scale(1,1.04)" font-size="9.8" text-anchor="middle" font-weight="normal" fill="#333" stroke="#333" stroke-width="0.18" >0</text>
<line x1="531.94" y1="245.00" x2="531.94" y2="248.00" stroke="#1e1e1e" stroke-width="1"/>
<text transform="translate(531.94,259.00) scale(1,1.04)" font-size="9.8" text-anchor="middle" font-weight="normal" fill="#333" stroke="#333" stroke-width="0.18" >4</text>
<line x1="570.58" y1="245.00" x2="570.58" y2="248.00" stroke="#1e1e1e" stroke-width="1"/>
<text transform="translate(570.58,259.00) scale(1,1.04)" font-size="9.8" text-anchor="middle" font-weight="normal" fill="#333" stroke="#333" stroke-width="0.18" >8</text>
<line x1="405.10" y1="235.00" x2="408.10" y2="235.00" stroke="#1e1e1e" stroke-width="1"/>
<text transform="translate(403.10,238.50) scale(1,1.04)" font-size="9.8" text-anchor="end" font-weight="normal" fill="#333" stroke="#333" stroke-width="0.18" >0</text>
<line x1="405.10" y1="166.75" x2="408.10" y2="166.75" stroke="#1e1e1e" stroke-width="1"/>
<text transform="translate(403.10,170.25) scale(1,1.04)" font-size="9.8" text-anchor="end" font-weight="normal" fill="#333" stroke="#333" stroke-width="0.18" >5</text>
<line x1="405.10" y1="98.50" x2="408.10" y2="98.50" stroke="#1e1e1e" stroke-width="1"/>
<text transform="translate(403.10,102.00) scale(1,1.04)" font-size="9.8" text-anchor="end" font-weight="normal" fill="#333" stroke="#333" stroke-width="0.18" >10</text>
<line x1="405.10" y1="30.25" x2="408.10" y2="30.25" stroke="#1e1e1e" stroke-width="1"/>
<text transform="translate(403.10,33.75) scale(1,1.04)" font-size="9.8" text-anchor="end" font-weight="normal" fill="#333" stroke="#333" stroke-width="0.18" >15</text>
<text transform="translate(493.30,270.50) scale(1,1.04)" font-size="9.8" text-anchor="middle" font-weight="normal" fill="#1a1a1a" stroke="#1a1a1a" stroke-width="0.18" >logFC (established − virgin)</text>
<text x="0" y="0" font-size="9.8" text-anchor="middle" fill="#1a1a1a" stroke="#1a1a1a" stroke-width="0.18" transform="translate(386.60,132.00) rotate(-90) scale(1,1.04)">−log10(adjusted p)</text>
<text transform="translate(373.30,22.90) scale(1,1.04)" font-size="16.8" text-anchor="start" font-weight="normal" fill="#1a1a1a" stroke="#1a1a1a" stroke-width="0.18" >C.</text>
<path d="M117.0 325.0 L117.0 332.0 L118.5 345.0 L120.0 355.0 L122.0 364.0 L125.5 371.0 L129.5 376.0 L133.5 378.5 L138.0 376.5 L142.0 372.0 L145.5 365.0 L148.5 357.0 L150.5 345.0 L152.0 333.0 L152.0 322.0 L149.0 318.0 L146.5 322.0 L145.5 332.0 L143.5 342.0 L141.5 353.0 L138.0 363.0 L133.5 370.5 L129.5 363.0 L127.5 353.0 L125.5 342.0 L124.5 332.0 L122.5 325.0 L120.0 322.0Z" fill="#D9D9D9" stroke="#D9D9D9" stroke-width="1.2" stroke-linejoin="round"/>
<path d="M115.2 340.9a1.4 1.4 0 1 0 2.8 0a1.4 1.4 0 1 0 -2.8 0M144.0 325.5a1.4 1.4 0 1 0 2.8 0a1.4 1.4 0 1 0 -2.8 0M146.7 360.9a1.4 1.4 0 1 0 2.8 0a1.4 1.4 0 1 0 -2.8 0M148.6 350.9a1.4 1.4 0 1 0 2.8 0a1.4 1.4 0 1 0 -2.8 0M126.7 355.4a1.4 1.4 0 1 0 2.8 0a1.4 1.4 0 1 0 -2.8 0M142.1 336.3a1.4 1.4 0 1 0 2.8 0a1.4 1.4 0 1 0 -2.8 0M149.1 349.9a1.4 1.4 0 1 0 2.8 0a1.4 1.4 0 1 0 -2.8 0M130.0 366.0a1.4 1.4 0 1 0 2.8 0a1.4 1.4 0 1 0 -2.8 0M141.4 342.9a1.4 1.4 0 1 0 2.8 0a1.4 1.4 0 1 0 -2.8 0M123.3 330.0a1.4 1.4 0 1 0 2.8 0a1.4 1.4 0 1 0 -2.8 0M115.5 336.7a1.4 1.4 0 1 0 2.8 0a1.4 1.4 0 1 0 -2.8 0M150.5 340.2a1.4 1.4 0 1 0 2.8 0a1.4 1.4 0 1 0 -2.8 0M114.7 335.7a1.4 1.4 0 1 0 2.8 0a1.4 1.4 0 1 0 -2.8 0M151.1 334.7a1.4 1.4 0 1 0 2.8 0a1.4 1.4 0 1 0 -2.8 0M141.6 370.3a1.4 1.4 0 1 0 2.8 0a1.4 1.4 0 1 0 -2.8 0M116.3 345.6a1.4 1.4 0 1 0 2.8 0a1.4 1.4 0 1 0 -2.8 0M140.6 348.5a1.4 1.4 0 1 0 2.8 0a1.4 1.4 0 1 0 -2.8 0M145.4 364.8a1.4 1.4 0 1 0 2.8 0a1.4 1.4 0 1 0 -2.8 0M151.5 332.1a1.4 1.4 0 1 0 2.8 0a1.4 1.4 0 1 0 -2.8 0M146.9 361.2a1.4 1.4 0 1 0 2.8 0a1.4 1.4 0 1 0 -2.8 0M143.2 331.0a1.4 1.4 0 1 0 2.8 0a1.4 1.4 0 1 0 -2.8 0M150.9 339.4a1.4 1.4 0 1 0 2.8 0a1.4 1.4 0 1 0 -2.8 0M140.5 344.8a1.4 1.4 0 1 0 2.8 0a1.4 1.4 0 1 0 -2.8 0M150.9 333.4a1.4 1.4 0 1 0 2.8 0a1.4 1.4 0 1 0 -2.8 0M144.9 364.5a1.4 1.4 0 1 0 2.8 0a1.4 1.4 0 1 0 -2.8 0M133.8 367.2a1.4 1.4 0 1 0 2.8 0a1.4 1.4 0 1 0 -2.8 0M143.2 330.0a1.4 1.4 0 1 0 2.8 0a1.4 1.4 0 1 0 -2.8 0M126.0 373.5a1.4 1.4 0 1 0 2.8 0a1.4 1.4 0 1 0 -2.8 0M126.5 347.7a1.4 1.4 0 1 0 2.8 0a1.4 1.4 0 1 0 -2.8 0M128.3 360.6a1.4 1.4 0 1 0 2.8 0a1.4 1.4 0 1 0 -2.8 0M122.9 370.1a1.4 1.4 0 1 0 2.8 0a1.4 1.4 0 1 0 -2.8 0M141.4 343.9a1.4 1.4 0 1 0 2.8 0a1.4 1.4 0 1 0 -2.8 0M143.9 331.9a1.4 1.4 0 1 0 2.8 0a1.4 1.4 0 1 0 -2.8 0M119.1 321.5a1.4 1.4 0 1 0 2.8 0a1.4 1.4 0 1 0 -2.8 0M119.9 361.9a1.4 1.4 0 1 0 2.8 0a1.4 1.4 0 1 0 -2.8 0M145.5 362.8a1.4 1.4 0 1 0 2.8 0a1.4 1.4 0 1 0 -2.8 0M140.1 352.3a1.4 1.4 0 1 0 2.8 0a1.4 1.4 0 1 0 -2.8 0M125.5 343.0a1.4 1.4 0 1 0 2.8 0a1.4 1.4 0 1 0 -2.8 0M114.9 326.1a1.4 1.4 0 1 0 2.8 0a1.4 1.4 0 1 0 -2.8 0M124.1 338.9a1.4 1.4 0 1 0 2.8 0a1.4 1.4 0 1 0 -2.8 0M150.5 321.4a1.4 1.4 0 1 0 2.8 0a1.4 1.4 0 1 0 -2.8 0M149.3 347.5a1.4 1.4 0 1 0 2.8 0a1.4 1.4 0 1 0 -2.8 0M127.2 352.9a1.4 1.4 0 1 0 2.8 0a1.4 1.4 0 1 0 -2.8 0M122.5 328.8a1.4 1.4 0 1 0 2.8 0a1.4 1.4 0 1 0 -2.8 0M140.6 372.5a1.4 1.4 0 1 0 2.8 0a1.4 1.4 0 1 0 -2.8 0M142.9 330.1a1.4 1.4 0 1 0 2.8 0a1.4 1.4 0 1 0 -2.8 0M142.2 369.5a1.4 1.4 0 1 0 2.8 0a1.4 1.4 0 1 0 -2.8 0M127.8 359.3a1.4 1.4 0 1 0 2.8 0a1.4 1.4 0 1 0 -2.8 0M138.6 357.1a1.4 1.4 0 1 0 2.8 0a1.4 1.4 0 1 0 -2.8 0M141.5 370.7a1.4 1.4 0 1 0 2.8 0a1.4 1.4 0 1 0 -2.8 0M138.8 374.8a1.4 1.4 0 1 0 2.8 0a1.4 1.4 0 1 0 -2.8 0M133.9 366.2a1.4 1.4 0 1 0 2.8 0a1.4 1.4 0 1 0 -2.8 0M150.0 340.7a1.4 1.4 0 1 0 2.8 0a1.4 1.4 0 1 0 -2.8 0M127.2 354.6a1.4 1.4 0 1 0 2.8 0a1.4 1.4 0 1 0 -2.8 0M148.2 355.8a1.4 1.4 0 1 0 2.8 0a1.4 1.4 0 1 0 -2.8 0M148.8 352.4a1.4 1.4 0 1 0 2.8 0a1.4 1.4 0 1 0 -2.8 0M147.7 356.1a1.4 1.4 0 1 0 2.8 0a1.4 1.4 0 1 0 -2.8 0M124.9 342.3a1.4 1.4 0 1 0 2.8 0a1.4 1.4 0 1 0 -2.8 0M149.9 341.2a1.4 1.4 0 1 0 2.8 0a1.4 1.4 0 1 0 -2.8 0M121.7 368.6a1.4 1.4 0 1 0 2.8 0a1.4 1.4 0 1 0 -2.8 0M117.1 346.0a1.4 1.4 0 1 0 2.8 0a1.4 1.4 0 1 0 -2.8 0M130.1 377.4a1.4 1.4 0 1 0 2.8 0a1.4 1.4 0 1 0 -2.8 0M137.9 376.5a1.4 1.4 0 1 0 2.8 0a1.4 1.4 0 1 0 -2.8 0M150.5 341.4a1.4 1.4 0 1 0 2.8 0a1.4 1.4 0 1 0 -2.8 0M144.0 365.2a1.4 1.4 0 1 0 2.8 0a1.4 1.4 0 1 0 -2.8 0M144.8 324.6a1.4 1.4 0 1 0 2.8 0a1.4 1.4 0 1 0 -2.8 0M125.6 373.0a1.4 1.4 0 1 0 2.8 0a1.4 1.4 0 1 0 -2.8 0M123.9 372.5a1.4 1.4 0 1 0 2.8 0a1.4 1.4 0 1 0 -2.8 0M121.7 326.7a1.4 1.4 0 1 0 2.8 0a1.4 1.4 0 1 0 -2.8 0M126.0 351.8a1.4 1.4 0 1 0 2.8 0a1.4 1.4 0 1 0 -2.8 0M115.6 339.8a1.4 1.4 0 1 0 2.8 0a1.4 1.4 0 1 0 -2.8 0M114.7 325.8a1.4 1.4 0 1 0 2.8 0a1.4 1.4 0 1 0 -2.8 0M141.1 344.8a1.4 1.4 0 1 0 2.8 0a1.4 1.4 0 1 0 -2.8 0M151.4 331.9a1.4 1.4 0 1 0 2.8 0a1.4 1.4 0 1 0 -2.8 0M127.2 375.0a1.4 1.4 0 1 0 2.8 0a1.4 1.4 0 1 0 -2.8 0M149.2 348.4a1.4 1.4 0 1 0 2.8 0a1.4 1.4 0 1 0 -2.8 0M130.1 377.9a1.4 1.4 0 1 0 2.8 0a1.4 1.4 0 1 0 -2.8 0M134.2 365.2a1.4 1.4 0 1 0 2.8 0a1.4 1.4 0 1 0 -2.8 0M117.9 351.8a1.4 1.4 0 1 0 2.8 0a1.4 1.4 0 1 0 -2.8 0M139.2 374.4a1.4 1.4 0 1 0 2.8 0a1.4 1.4 0 1 0 -2.8 0M124.5 339.4a1.4 1.4 0 1 0 2.8 0a1.4 1.4 0 1 0 -2.8 0M150.3 340.9a1.4 1.4 0 1 0 2.8 0a1.4 1.4 0 1 0 -2.8 0M117.2 354.5a1.4 1.4 0 1 0 2.8 0a1.4 1.4 0 1 0 -2.8 0M118.9 360.0a1.4 1.4 0 1 0 2.8 0a1.4 1.4 0 1 0 -2.8 0M124.1 339.4a1.4 1.4 0 1 0 2.8 0a1.4 1.4 0 1 0 -2.8 0M140.2 350.7a1.4 1.4 0 1 0 2.8 0a1.4 1.4 0 1 0 -2.8 0M142.1 338.8a1.4 1.4 0 1 0 2.8 0a1.4 1.4 0 1 0 -2.8 0M127.4 357.1a1.4 1.4 0 1 0 2.8 0a1.4 1.4 0 1 0 -2.8 0M128.0 360.4a1.4 1.4 0 1 0 2.8 0a1.4 1.4 0 1 0 -2.8 0M115.5 324.9a1.4 1.4 0 1 0 2.8 0a1.4 1.4 0 1 0 -2.8 0M144.3 320.6a1.4 1.4 0 1 0 2.8 0a1.4 1.4 0 1 0 -2.8 0M141.5 372.2a1.4 1.4 0 1 0 2.8 0a1.4 1.4 0 1 0 -2.8 0M118.4 360.6a1.4 1.4 0 1 0 2.8 0a1.4 1.4 0 1 0 -2.8 0M151.3 323.6a1.4 1.4 0 1 0 2.8 0a1.4 1.4 0 1 0 -2.8 0M118.0 351.4a1.4 1.4 0 1 0 2.8 0a1.4 1.4 0 1 0 -2.8 0M115.0 323.9a1.4 1.4 0 1 0 2.8 0a1.4 1.4 0 1 0 -2.8 0M117.3 351.3a1.4 1.4 0 1 0 2.8 0a1.4 1.4 0 1 0 -2.8 0M128.5 363.3a1.4 1.4 0 1 0 2.8 0a1.4 1.4 0 1 0 -2.8 0M118.2 358.4a1.4 1.4 0 1 0 2.8 0a1.4 1.4 0 1 0 -2.8 0M133.9 367.3a1.4 1.4 0 1 0 2.8 0a1.4 1.4 0 1 0 -2.8 0M149.5 346.3a1.4 1.4 0 1 0 2.8 0a1.4 1.4 0 1 0 -2.8 0M150.3 321.3a1.4 1.4 0 1 0 2.8 0a1.4 1.4 0 1 0 -2.8 0M125.0 344.7a1.4 1.4 0 1 0 2.8 0a1.4 1.4 0 1 0 -2.8 0M123.7 333.2a1.4 1.4 0 1 0 2.8 0a1.4 1.4 0 1 0 -2.8 0M115.4 335.7a1.4 1.4 0 1 0 2.8 0a1.4 1.4 0 1 0 -2.8 0M151.2 330.3a1.4 1.4 0 1 0 2.8 0a1.4 1.4 0 1 0 -2.8 0M117.5 356.2a1.4 1.4 0 1 0 2.8 0a1.4 1.4 0 1 0 -2.8 0M138.7 374.3a1.4 1.4 0 1 0 2.8 0a1.4 1.4 0 1 0 -2.8 0M139.0 374.4a1.4 1.4 0 1 0 2.8 0a1.4 1.4 0 1 0 -2.8 0M120.0 361.9a1.4 1.4 0 1 0 2.8 0a1.4 1.4 0 1 0 -2.8 0M146.4 361.1a1.4 1.4 0 1 0 2.8 0a1.4 1.4 0 1 0 -2.8 0M118.9 361.5a1.4 1.4 0 1 0 2.8 0a1.4 1.4 0 1 0 -2.8 0M128.1 362.0a1.4 1.4 0 1 0 2.8 0a1.4 1.4 0 1 0 -2.8 0M150.8 325.6a1.4 1.4 0 1 0 2.8 0a1.4 1.4 0 1 0 -2.8 0M150.1 342.9a1.4 1.4 0 1 0 2.8 0a1.4 1.4 0 1 0 -2.8 0M119.7 362.1a1.4 1.4 0 1 0 2.8 0a1.4 1.4 0 1 0 -2.8 0M123.0 369.7a1.4 1.4 0 1 0 2.8 0a1.4 1.4 0 1 0 -2.8 0M123.6 331.0a1.4 1.4 0 1 0 2.8 0a1.4 1.4 0 1 0 -2.8 0M151.3 329.9a1.4 1.4 0 1 0 2.8 0a1.4 1.4 0 1 0 -2.8 0M139.4 353.9a1.4 1.4 0 1 0 2.8 0a1.4 1.4 0 1 0 -2.8 0M128.5 358.3a1.4 1.4 0 1 0 2.8 0a1.4 1.4 0 1 0 -2.8 0M138.5 375.3a1.4 1.4 0 1 0 2.8 0a1.4 1.4 0 1 0 -2.8 0M124.2 337.2a1.4 1.4 0 1 0 2.8 0a1.4 1.4 0 1 0 -2.8 0M149.9 345.3a1.4 1.4 0 1 0 2.8 0a1.4 1.4 0 1 0 -2.8 0M138.9 354.8a1.4 1.4 0 1 0 2.8 0a1.4 1.4 0 1 0 -2.8 0M144.5 325.7a1.4 1.4 0 1 0 2.8 0a1.4 1.4 0 1 0 -2.8 0M151.8 331.2a1.4 1.4 0 1 0 2.8 0a1.4 1.4 0 1 0 -2.8 0M121.3 323.7a1.4 1.4 0 1 0 2.8 0a1.4 1.4 0 1 0 -2.8 0M117.5 351.2a1.4 1.4 0 1 0 2.8 0a1.4 1.4 0 1 0 -2.8 0M116.8 344.3a1.4 1.4 0 1 0 2.8 0a1.4 1.4 0 1 0 -2.8 0M118.0 321.7a1.4 1.4 0 1 0 2.8 0a1.4 1.4 0 1 0 -2.8 0M146.8 358.8a1.4 1.4 0 1 0 2.8 0a1.4 1.4 0 1 0 -2.8 0M134.2 366.8a1.4 1.4 0 1 0 2.8 0a1.4 1.4 0 1 0 -2.8 0M117.0 323.0a1.4 1.4 0 1 0 2.8 0a1.4 1.4 0 1 0 -2.8 0M119.8 364.0a1.4 1.4 0 1 0 2.8 0a1.4 1.4 0 1 0 -2.8 0M140.7 347.6a1.4 1.4 0 1 0 2.8 0a1.4 1.4 0 1 0 -2.8 0M124.0 370.9a1.4 1.4 0 1 0 2.8 0a1.4 1.4 0 1 0 -2.8 0M128.0 377.2a1.4 1.4 0 1 0 2.8 0a1.4 1.4 0 1 0 -2.8 0M133.9 366.6a1.4 1.4 0 1 0 2.8 0a1.4 1.4 0 1 0 -2.8 0M123.2 330.8a1.4 1.4 0 1 0 2.8 0a1.4 1.4 0 1 0 -2.8 0M128.6 362.6a1.4 1.4 0 1 0 2.8 0a1.4 1.4 0 1 0 -2.8 0M114.4 330.9a1.4 1.4 0 1 0 2.8 0a1.4 1.4 0 1 0 -2.8 0M128.9 377.6a1.4 1.4 0 1 0 2.8 0a1.4 1.4 0 1 0 -2.8 0M120.3 363.8a1.4 1.4 0 1 0 2.8 0a1.4 1.4 0 1 0 -2.8 0M145.3 365.2a1.4 1.4 0 1 0 2.8 0a1.4 1.4 0 1 0 -2.8 0M127.6 353.6a1.4 1.4 0 1 0 2.8 0a1.4 1.4 0 1 0 -2.8 0M143.1 328.4a1.4 1.4 0 1 0 2.8 0a1.4 1.4 0 1 0 -2.8 0M127.3 353.8a1.4 1.4 0 1 0 2.8 0a1.4 1.4 0 1 0 -2.8 0M144.2 326.9a1.4 1.4 0 1 0 2.8 0a1.4 1.4 0 1 0 -2.8 0M141.3 344.0a1.4 1.4 0 1 0 2.8 0a1.4 1.4 0 1 0 -2.8 0M127.2 355.5a1.4 1.4 0 1 0 2.8 0a1.4 1.4 0 1 0 -2.8 0M143.1 328.6a1.4 1.4 0 1 0 2.8 0a1.4 1.4 0 1 0 -2.8 0M129.9 364.5a1.4 1.4 0 1 0 2.8 0a1.4 1.4 0 1 0 -2.8 0M143.1 334.4a1.4 1.4 0 1 0 2.8 0a1.4 1.4 0 1 0 -2.8 0M137.5 359.7a1.4 1.4 0 1 0 2.8 0a1.4 1.4 0 1 0 -2.8 0M144.0 329.5a1.4 1.4 0 1 0 2.8 0a1.4 1.4 0 1 0 -2.8 0M136.2 376.7a1.4 1.4 0 1 0 2.8 0a1.4 1.4 0 1 0 -2.8 0M115.4 334.5a1.4 1.4 0 1 0 2.8 0a1.4 1.4 0 1 0 -2.8 0M144.0 327.2a1.4 1.4 0 1 0 2.8 0a1.4 1.4 0 1 0 -2.8 0M135.1 364.1a1.4 1.4 0 1 0 2.8 0a1.4 1.4 0 1 0 -2.8 0M140.5 345.9a1.4 1.4 0 1 0 2.8 0a1.4 1.4 0 1 0 -2.8 0M141.0 347.8a1.4 1.4 0 1 0 2.8 0a1.4 1.4 0 1 0 -2.8 0M127.9 360.9a1.4 1.4 0 1 0 2.8 0a1.4 1.4 0 1 0 -2.8 0M124.2 335.9a1.4 1.4 0 1 0 2.8 0a1.4 1.4 0 1 0 -2.8 0M130.9 378.3a1.4 1.4 0 1 0 2.8 0a1.4 1.4 0 1 0 -2.8 0M144.7 323.7a1.4 1.4 0 1 0 2.8 0a1.4 1.4 0 1 0 -2.8 0M128.2 362.1a1.4 1.4 0 1 0 2.8 0a1.4 1.4 0 1 0 -2.8 0M116.9 345.1a1.4 1.4 0 1 0 2.8 0a1.4 1.4 0 1 0 -2.8 0M148.7 351.4a1.4 1.4 0 1 0 2.8 0a1.4 1.4 0 1 0 -2.8 0M125.8 350.0a1.4 1.4 0 1 0 2.8 0a1.4 1.4 0 1 0 -2.8 0M124.7 372.9a1.4 1.4 0 1 0 2.8 0a1.4 1.4 0 1 0 -2.8 0M126.5 351.5a1.4 1.4 0 1 0 2.8 0a1.4 1.4 0 1 0 -2.8 0M151.0 333.1a1.4 1.4 0 1 0 2.8 0a1.4 1.4 0 1 0 -2.8 0M114.6 325.9a1.4 1.4 0 1 0 2.8 0a1.4 1.4 0 1 0 -2.8 0M128.4 363.5a1.4 1.4 0 1 0 2.8 0a1.4 1.4 0 1 0 -2.8 0M116.9 347.7a1.4 1.4 0 1 0 2.8 0a1.4 1.4 0 1 0 -2.8 0M116.7 346.2a1.4 1.4 0 1 0 2.8 0a1.4 1.4 0 1 0 -2.8 0M117.3 322.4a1.4 1.4 0 1 0 2.8 0a1.4 1.4 0 1 0 -2.8 0M148.6 350.3a1.4 1.4 0 1 0 2.8 0a1.4 1.4 0 1 0 -2.8 0M133.7 378.3a1.4 1.4 0 1 0 2.8 0a1.4 1.4 0 1 0 -2.8 0M144.1 326.4a1.4 1.4 0 1 0 2.8 0a1.4 1.4 0 1 0 -2.8 0M137.0 359.8a1.4 1.4 0 1 0 2.8 0a1.4 1.4 0 1 0 -2.8 0M144.4 325.5a1.4 1.4 0 1 0 2.8 0a1.4 1.4 0 1 0 -2.8 0M124.1 335.5a1.4 1.4 0 1 0 2.8 0a1.4 1.4 0 1 0 -2.8 0M133.7 366.6a1.4 1.4 0 1 0 2.8 0a1.4 1.4 0 1 0 -2.8 0M143.3 368.5a1.4 1.4 0 1 0 2.8 0a1.4 1.4 0 1 0 -2.8 0M118.8 359.0a1.4 1.4 0 1 0 2.8 0a1.4 1.4 0 1 0 -2.8 0M123.6 329.4a1.4 1.4 0 1 0 2.8 0a1.4 1.4 0 1 0 -2.8 0M116.1 346.1a1.4 1.4 0 1 0 2.8 0a1.4 1.4 0 1 0 -2.8 0M145.6 364.2a1.4 1.4 0 1 0 2.8 0a1.4 1.4 0 1 0 -2.8 0M122.4 367.9a1.4 1.4 0 1 0 2.8 0a1.4 1.4 0 1 0 -2.8 0M142.2 340.8a1.4 1.4 0 1 0 2.8 0a1.4 1.4 0 1 0 -2.8 0M149.4 318.3a1.4 1.4 0 1 0 2.8 0a1.4 1.4 0 1 0 -2.8 0M142.9 334.7a1.4 1.4 0 1 0 2.8 0a1.4 1.4 0 1 0 -2.8 0M139.5 352.3a1.4 1.4 0 1 0 2.8 0a1.4 1.4 0 1 0 -2.8 0M124.6 341.0a1.4 1.4 0 1 0 2.8 0a1.4 1.4 0 1 0 -2.8 0M126.6 353.8a1.4 1.4 0 1 0 2.8 0a1.4 1.4 0 1 0 -2.8 0M123.1 371.1a1.4 1.4 0 1 0 2.8 0a1.4 1.4 0 1 0 -2.8 0M150.6 335.5a1.4 1.4 0 1 0 2.8 0a1.4 1.4 0 1 0 -2.8 0M126.3 347.1a1.4 1.4 0 1 0 2.8 0a1.4 1.4 0 1 0 -2.8 0M100.6 308.0a1.4 1.4 0 1 0 2.8 0a1.4 1.4 0 1 0 -2.8 0M102.6 312.0a1.4 1.4 0 1 0 2.8 0a1.4 1.4 0 1 0 -2.8 0M104.6 319.0a1.4 1.4 0 1 0 2.8 0a1.4 1.4 0 1 0 -2.8 0M101.6 316.0a1.4 1.4 0 1 0 2.8 0a1.4 1.4 0 1 0 -2.8 0M111.6 316.0a1.4 1.4 0 1 0 2.8 0a1.4 1.4 0 1 0 -2.8 0M110.6 321.0a1.4 1.4 0 1 0 2.8 0a1.4 1.4 0 1 0 -2.8 0M112.6 330.0a1.4 1.4 0 1 0 2.8 0a1.4 1.4 0 1 0 -2.8 0M110.6 345.0a1.4 1.4 0 1 0 2.8 0a1.4 1.4 0 1 0 -2.8 0M108.6 350.0a1.4 1.4 0 1 0 2.8 0a1.4 1.4 0 1 0 -2.8 0M112.6 364.0a1.4 1.4 0 1 0 2.8 0a1.4 1.4 0 1 0 -2.8 0M114.6 366.0a1.4 1.4 0 1 0 2.8 0a1.4 1.4 0 1 0 -2.8 0M106.6 367.0a1.4 1.4 0 1 0 2.8 0a1.4 1.4 0 1 0 -2.8 0M121.6 314.0a1.4 1.4 0 1 0 2.8 0a1.4 1.4 0 1 0 -2.8 0M124.6 318.0a1.4 1.4 0 1 0 2.8 0a1.4 1.4 0 1 0 -2.8 0M153.6 352.0a1.4 1.4 0 1 0 2.8 0a1.4 1.4 0 1 0 -2.8 0M156.6 356.0a1.4 1.4 0 1 0 2.8 0a1.4 1.4 0 1 0 -2.8 0M158.6 350.0a1.4 1.4 0 1 0 2.8 0a1.4 1.4 0 1 0 -2.8 0M161.6 360.0a1.4 1.4 0 1 0 2.8 0a1.4 1.4 0 1 0 -2.8 0M148.6 362.0a1.4 1.4 0 1 0 2.8 0a1.4 1.4 0 1 0 -2.8 0M145.6 368.0a1.4 1.4 0 1 0 2.8 0a1.4 1.4 0 1 0 -2.8 0M100.6 345.0a1.4 1.4 0 1 0 2.8 0a1.4 1.4 0 1 0 -2.8 0M165.6 330.0a1.4 1.4 0 1 0 2.8 0a1.4 1.4 0 1 0 -2.8 0M163.6 340.0a1.4 1.4 0 1 0 2.8 0a1.4 1.4 0 1 0 -2.8 0M113.4 342.1a1.4 1.4 0 1 0 2.8 0a1.4 1.4 0 1 0 -2.8 0M118.1 323.0a1.4 1.4 0 1 0 2.8 0a1.4 1.4 0 1 0 -2.8 0M115.0 356.1a1.4 1.4 0 1 0 2.8 0a1.4 1.4 0 1 0 -2.8 0M119.9 318.1a1.4 1.4 0 1 0 2.8 0a1.4 1.4 0 1 0 -2.8 0M115.0 341.3a1.4 1.4 0 1 0 2.8 0a1.4 1.4 0 1 0 -2.8 0M112.2 360.2a1.4 1.4 0 1 0 2.8 0a1.4 1.4 0 1 0 -2.8 0M112.6 332.0a1.4 1.4 0 1 0 2.8 0a1.4 1.4 0 1 0 -2.8 0M120.5 342.3a1.4 1.4 0 1 0 2.8 0a1.4 1.4 0 1 0 -2.8 0M108.3 324.7a1.4 1.4 0 1 0 2.8 0a1.4 1.4 0 1 0 -2.8 0M112.0 310.8a1.4 1.4 0 1 0 2.8 0a1.4 1.4 0 1 0 -2.8 0M114.1 347.7a1.4 1.4 0 1 0 2.8 0a1.4 1.4 0 1 0 -2.8 0M110.7 353.7a1.4 1.4 0 1 0 2.8 0a1.4 1.4 0 1 0 -2.8 0M120.2 338.0a1.4 1.4 0 1 0 2.8 0a1.4 1.4 0 1 0 -2.8 0M115.5 314.3a1.4 1.4 0 1 0 2.8 0a1.4 1.4 0 1 0 -2.8 0M103.7 360.9a1.4 1.4 0 1 0 2.8 0a1.4 1.4 0 1 0 -2.8 0M108.0 319.5a1.4 1.4 0 1 0 2.8 0a1.4 1.4 0 1 0 -2.8 0M119.6 348.5a1.4 1.4 0 1 0 2.8 0a1.4 1.4 0 1 0 -2.8 0M104.9 325.4a1.4 1.4 0 1 0 2.8 0a1.4 1.4 0 1 0 -2.8 0M107.2 322.7a1.4 1.4 0 1 0 2.8 0a1.4 1.4 0 1 0 -2.8 0M102.7 336.3a1.4 1.4 0 1 0 2.8 0a1.4 1.4 0 1 0 -2.8 0M108.4 329.3a1.4 1.4 0 1 0 2.8 0a1.4 1.4 0 1 0 -2.8 0M106.1 313.9a1.4 1.4 0 1 0 2.8 0a1.4 1.4 0 1 0 -2.8 0M103.2 355.1a1.4 1.4 0 1 0 2.8 0a1.4 1.4 0 1 0 -2.8 0M116.8 338.2a1.4 1.4 0 1 0 2.8 0a1.4 1.4 0 1 0 -2.8 0M105.0 316.0a1.4 1.4 0 1 0 2.8 0a1.4 1.4 0 1 0 -2.8 0M104.9 325.1a1.4 1.4 0 1 0 2.8 0a1.4 1.4 0 1 0 -2.8 0M103.7 322.9a1.4 1.4 0 1 0 2.8 0a1.4 1.4 0 1 0 -2.8 0M106.5 318.4a1.4 1.4 0 1 0 2.8 0a1.4 1.4 0 1 0 -2.8 0M115.0 332.7a1.4 1.4 0 1 0 2.8 0a1.4 1.4 0 1 0 -2.8 0M111.6 327.3a1.4 1.4 0 1 0 2.8 0a1.4 1.4 0 1 0 -2.8 0M112.8 350.4a1.4 1.4 0 1 0 2.8 0a1.4 1.4 0 1 0 -2.8 0M108.5 311.8a1.4 1.4 0 1 0 2.8 0a1.4 1.4 0 1 0 -2.8 0M111.7 328.5a1.4 1.4 0 1 0 2.8 0a1.4 1.4 0 1 0 -2.8 0M117.4 314.0a1.4 1.4 0 1 0 2.8 0a1.4 1.4 0 1 0 -2.8 0M119.2 308.8a1.4 1.4 0 1 0 2.8 0a1.4 1.4 0 1 0 -2.8 0M112.9 332.0a1.4 1.4 0 1 0 2.8 0a1.4 1.4 0 1 0 -2.8 0M108.6 356.0a1.4 1.4 0 1 0 2.8 0a1.4 1.4 0 1 0 -2.8 0M115.9 316.8a1.4 1.4 0 1 0 2.8 0a1.4 1.4 0 1 0 -2.8 0M112.0 341.1a1.4 1.4 0 1 0 2.8 0a1.4 1.4 0 1 0 -2.8 0M103.2 312.7a1.4 1.4 0 1 0 2.8 0a1.4 1.4 0 1 0 -2.8 0M114.0 347.4a1.4 1.4 0 1 0 2.8 0a1.4 1.4 0 1 0 -2.8 0M111.4 330.8a1.4 1.4 0 1 0 2.8 0a1.4 1.4 0 1 0 -2.8 0M112.2 322.1a1.4 1.4 0 1 0 2.8 0a1.4 1.4 0 1 0 -2.8 0M119.3 359.9a1.4 1.4 0 1 0 2.8 0a1.4 1.4 0 1 0 -2.8 0M111.8 309.1a1.4 1.4 0 1 0 2.8 0a1.4 1.4 0 1 0 -2.8 0M143.8 327.3a1.4 1.4 0 1 0 2.8 0a1.4 1.4 0 1 0 -2.8 0M142.8 310.5a1.4 1.4 0 1 0 2.8 0a1.4 1.4 0 1 0 -2.8 0M141.0 325.1a1.4 1.4 0 1 0 2.8 0a1.4 1.4 0 1 0 -2.8 0M146.7 314.9a1.4 1.4 0 1 0 2.8 0a1.4 1.4 0 1 0 -2.8 0M146.7 326.3a1.4 1.4 0 1 0 2.8 0a1.4 1.4 0 1 0 -2.8 0M151.2 328.0a1.4 1.4 0 1 0 2.8 0a1.4 1.4 0 1 0 -2.8 0M144.2 327.4a1.4 1.4 0 1 0 2.8 0a1.4 1.4 0 1 0 -2.8 0M150.6 328.9a1.4 1.4 0 1 0 2.8 0a1.4 1.4 0 1 0 -2.8 0M148.4 322.1a1.4 1.4 0 1 0 2.8 0a1.4 1.4 0 1 0 -2.8 0M145.2 328.4a1.4 1.4 0 1 0 2.8 0a1.4 1.4 0 1 0 -2.8 0M146.7 325.3a1.4 1.4 0 1 0 2.8 0a1.4 1.4 0 1 0 -2.8 0M141.6 310.2a1.4 1.4 0 1 0 2.8 0a1.4 1.4 0 1 0 -2.8 0M142.1 322.0a1.4 1.4 0 1 0 2.8 0a1.4 1.4 0 1 0 -2.8 0M146.0 312.8a1.4 1.4 0 1 0 2.8 0a1.4 1.4 0 1 0 -2.8 0M141.1 330.8a1.4 1.4 0 1 0 2.8 0a1.4 1.4 0 1 0 -2.8 0M139.5 330.2a1.4 1.4 0 1 0 2.8 0a1.4 1.4 0 1 0 -2.8 0M148.6 321.8a1.4 1.4 0 1 0 2.8 0a1.4 1.4 0 1 0 -2.8 0M151.5 324.3a1.4 1.4 0 1 0 2.8 0a1.4 1.4 0 1 0 -2.8 0M138.7 330.5a1.4 1.4 0 1 0 2.8 0a1.4 1.4 0 1 0 -2.8 0M144.0 330.0a1.4 1.4 0 1 0 2.8 0a1.4 1.4 0 1 0 -2.8 0M149.2 311.3a1.4 1.4 0 1 0 2.8 0a1.4 1.4 0 1 0 -2.8 0M139.1 308.5a1.4 1.4 0 1 0 2.8 0a1.4 1.4 0 1 0 -2.8 0M148.7 327.0a1.4 1.4 0 1 0 2.8 0a1.4 1.4 0 1 0 -2.8 0M141.6 310.7a1.4 1.4 0 1 0 2.8 0a1.4 1.4 0 1 0 -2.8 0M143.4 327.2a1.4 1.4 0 1 0 2.8 0a1.4 1.4 0 1 0 -2.8 0M120.3 324.1a1.4 1.4 0 1 0 2.8 0a1.4 1.4 0 1 0 -2.8 0M122.3 322.6a1.4 1.4 0 1 0 2.8 0a1.4 1.4 0 1 0 -2.8 0M121.1 312.2a1.4 1.4 0 1 0 2.8 0a1.4 1.4 0 1 0 -2.8 0M113.7 324.1a1.4 1.4 0 1 0 2.8 0a1.4 1.4 0 1 0 -2.8 0M119.2 316.6a1.4 1.4 0 1 0 2.8 0a1.4 1.4 0 1 0 -2.8 0M114.8 316.7a1.4 1.4 0 1 0 2.8 0a1.4 1.4 0 1 0 -2.8 0M116.7 318.9a1.4 1.4 0 1 0 2.8 0a1.4 1.4 0 1 0 -2.8 0M117.6 314.8a1.4 1.4 0 1 0 2.8 0a1.4 1.4 0 1 0 -2.8 0M114.3 314.8a1.4 1.4 0 1 0 2.8 0a1.4 1.4 0 1 0 -2.8 0M114.8 313.4a1.4 1.4 0 1 0 2.8 0a1.4 1.4 0 1 0 -2.8 0M117.3 313.8a1.4 1.4 0 1 0 2.8 0a1.4 1.4 0 1 0 -2.8 0M120.8 319.6a1.4 1.4 0 1 0 2.8 0a1.4 1.4 0 1 0 -2.8 0" fill="#D9D9D9"/>
<line x1="114.60" y1="307.00" x2="114.60" y2="389.80" stroke="#111" stroke-width="1.45" stroke-dasharray="5.05,5.5" stroke-dashoffset="1.35"/>
<line x1="153.40" y1="307.00" x2="153.40" y2="389.80" stroke="#111" stroke-width="1.45" stroke-dasharray="5.05,5.5" stroke-dashoffset="1.35"/>
<line x1="48.30" y1="361.78" x2="219.70" y2="361.78" stroke="#111" stroke-width="1.45" stroke-dasharray="5.2,5.3"/>
<circle cx="157.2" cy="317.2" r="2.45" fill="#B2DF8A" fill-opacity="0.92" stroke="#1a1a1a" stroke-width="0.75"/>
<circle cx="152.0" cy="326.0" r="2.45" fill="#C9181C" fill-opacity="0.92" stroke="#1a1a1a" stroke-width="0.75"/>
<circle cx="156.0" cy="328.5" r="2.45" fill="#C9181C" fill-opacity="0.92" stroke="#1a1a1a" stroke-width="0.75"/>
<circle cx="155.5" cy="340.5" r="2.45" fill="#C9181C" fill-opacity="0.92" stroke="#1a1a1a" stroke-width="0.75"/>
<circle cx="153.0" cy="342.0" r="2.45" fill="#C9181C" fill-opacity="0.92" stroke="#1a1a1a" stroke-width="0.75"/>
<circle cx="152.5" cy="330.0" r="2.45" fill="#C9181C" fill-opacity="0.92" stroke="#1a1a1a" stroke-width="0.75"/>
<circle cx="159.0" cy="328.5" r="2.45" fill="#C9181C" fill-opacity="0.92" stroke="#1a1a1a" stroke-width="0.75"/>
<circle cx="151.5" cy="315.0" r="2.45" fill="#C9181C" fill-opacity="0.92" stroke="#1a1a1a" stroke-width="0.75"/>
<circle cx="156.5" cy="318.5" r="2.45" fill="#C9181C" fill-opacity="0.92" stroke="#1a1a1a" stroke-width="0.75"/>
<circle cx="110.8" cy="312.8" r="2.45" fill="#FF7F00" fill-opacity="0.92" stroke="#1a1a1a" stroke-width="0.75"/>
<circle cx="108.9" cy="316.3" r="2.45" fill="#A6CEE3" fill-opacity="0.92" stroke="#1a1a1a" stroke-width="0.75"/>
<circle cx="109.4" cy="325.3" r="2.45" fill="#6A3D9A" fill-opacity="0.92" stroke="#1a1a1a" stroke-width="0.75"/>
<circle cx="108.9" cy="331.7" r="2.45" fill="#A6CEE3" fill-opacity="0.92" stroke="#1a1a1a" stroke-width="0.75"/>
<circle cx="110.8" cy="339.5" r="2.45" fill="#CAB2D6" fill-opacity="0.92" stroke="#1a1a1a" stroke-width="0.75"/>
<circle cx="110.1" cy="358.2" r="2.45" fill="#B15928" fill-opacity="0.92" stroke="#1a1a1a" stroke-width="0.75"/>
<circle cx="113.0" cy="357.7" r="2.45" fill="#6A3D9A" fill-opacity="0.92" stroke="#1a1a1a" stroke-width="0.75"/>
<circle cx="165.4" cy="312.1" r="2.45" fill="#FDBF6F" fill-opacity="0.92" stroke="#1a1a1a" stroke-width="0.75"/>
<circle cx="153.0" cy="313.0" r="2.45" fill="#C9181C" fill-opacity="0.92" stroke="#1a1a1a" stroke-width="0.75"/>
<circle cx="155.4" cy="311.8" r="2.45" fill="#C9181C" fill-opacity="0.92" stroke="#1a1a1a" stroke-width="0.75"/>
<circle cx="157.8" cy="311.2" r="2.45" fill="#C9181C" fill-opacity="0.92" stroke="#1a1a1a" stroke-width="0.75"/>
<circle cx="160.7" cy="311.2" r="2.45" fill="#C9181C" fill-opacity="0.92" stroke="#1a1a1a" stroke-width="0.75"/>
<circle cx="161.9" cy="313.6" r="2.45" fill="#C9181C" fill-opacity="0.92" stroke="#1a1a1a" stroke-width="0.75"/>
<circle cx="154.2" cy="316.6" r="2.45" fill="#C9181C" fill-opacity="0.92" stroke="#1a1a1a" stroke-width="0.75"/>
<circle cx="152.4" cy="317.8" r="2.45" fill="#C9181C" fill-opacity="0.92" stroke="#1a1a1a" stroke-width="0.75"/>
<circle cx="158.9" cy="315.4" r="2.45" fill="#C9181C" fill-opacity="0.92" stroke="#1a1a1a" stroke-width="0.75"/>
<circle cx="153.0" cy="320.1" r="2.45" fill="#C9181C" fill-opacity="0.92" stroke="#1a1a1a" stroke-width="0.75"/>
<circle cx="157.8" cy="321.9" r="2.45" fill="#C9181C" fill-opacity="0.92" stroke="#1a1a1a" stroke-width="0.75"/>
<circle cx="154.8" cy="323.1" r="2.45" fill="#C9181C" fill-opacity="0.92" stroke="#1a1a1a" stroke-width="0.75"/>
<circle cx="157.8" cy="324.9" r="2.45" fill="#C9181C" fill-opacity="0.92" stroke="#1a1a1a" stroke-width="0.75"/>
<circle cx="153.6" cy="327.0" r="2.45" fill="#FDBF6F" fill-opacity="0.92" stroke="#1a1a1a" stroke-width="0.75"/>
<circle cx="164.9" cy="327.2" r="2.45" fill="#C9181C" fill-opacity="0.92" stroke="#1a1a1a" stroke-width="0.75"/>
<circle cx="157.8" cy="331.0" r="2.45" fill="#C9181C" fill-opacity="0.92" stroke="#1a1a1a" stroke-width="0.75"/>
<circle cx="154.8" cy="332.0" r="2.45" fill="#C9181C" fill-opacity="0.92" stroke="#1a1a1a" stroke-width="0.75"/>
<circle cx="153.0" cy="334.9" r="2.45" fill="#A6CEE3" fill-opacity="0.92" stroke="#1a1a1a" stroke-width="0.75"/>
<circle cx="157.2" cy="333.7" r="2.45" fill="#CAB2D6" fill-opacity="0.92" stroke="#1a1a1a" stroke-width="0.75"/>
<circle cx="155.4" cy="337.3" r="2.45" fill="#C9181C" fill-opacity="0.92" stroke="#1a1a1a" stroke-width="0.75"/>
<circle cx="156.6" cy="335.5" r="2.45" fill="#C9181C" fill-opacity="0.92" stroke="#1a1a1a" stroke-width="0.75"/>
<circle cx="154.2" cy="344.4" r="2.45" fill="#C9181C" fill-opacity="0.92" stroke="#1a1a1a" stroke-width="0.75"/>
<circle cx="154.0" cy="347.9" r="2.45" fill="#C9181C" fill-opacity="0.92" stroke="#1a1a1a" stroke-width="0.75"/>
<path d="M48.30 305.20V389.80H219.70" fill="none" stroke="#1e1e1e" stroke-width="1.4"/>
<line x1="56.40" y1="389.80" x2="56.40" y2="392.80" stroke="#1e1e1e" stroke-width="1"/>
<text transform="translate(56.40,403.80) scale(1,1.04)" font-size="9.8" text-anchor="middle" font-weight="normal" fill="#333" stroke="#333" stroke-width="0.18" >−8</text>
<line x1="95.20" y1="389.80" x2="95.20" y2="392.80" stroke="#1e1e1e" stroke-width="1"/>
<text transform="translate(95.20,403.80) scale(1,1.04)" font-size="9.8" text-anchor="middle" font-weight="normal" fill="#333" stroke="#333" stroke-width="0.18" >−4</text>
<line x1="134.00" y1="389.80" x2="134.00" y2="392.80" stroke="#1e1e1e" stroke-width="1"/>
<text transform="translate(134.00,403.80) scale(1,1.04)" font-size="9.8" text-anchor="middle" font-weight="normal" fill="#333" stroke="#333" stroke-width="0.18" >0</text>
<line x1="172.80" y1="389.80" x2="172.80" y2="392.80" stroke="#1e1e1e" stroke-width="1"/>
<text transform="translate(172.80,403.80) scale(1,1.04)" font-size="9.8" text-anchor="middle" font-weight="normal" fill="#333" stroke="#333" stroke-width="0.18" >4</text>
<line x1="211.60" y1="389.80" x2="211.60" y2="392.80" stroke="#1e1e1e" stroke-width="1"/>
<text transform="translate(211.60,403.80) scale(1,1.04)" font-size="9.8" text-anchor="middle" font-weight="normal" fill="#333" stroke="#333" stroke-width="0.18" >8</text>
<line x1="45.30" y1="379.60" x2="48.30" y2="379.60" stroke="#1e1e1e" stroke-width="1"/>
<text transform="translate(43.30,383.10) scale(1,1.04)" font-size="9.8" text-anchor="end" font-weight="normal" fill="#333" stroke="#333" stroke-width="0.18" >0</text>
<line x1="45.30" y1="311.10" x2="48.30" y2="311.10" stroke="#1e1e1e" stroke-width="1"/>
<text transform="translate(43.30,314.60) scale(1,1.04)" font-size="9.8" text-anchor="end" font-weight="normal" fill="#333" stroke="#333" stroke-width="0.18" >5</text>
<text transform="translate(134.00,415.30) scale(1,1.04)" font-size="9.8" text-anchor="middle" font-weight="normal" fill="#1a1a1a" stroke="#1a1a1a" stroke-width="0.18" >logFC (established - incipient)</text>
<text x="0" y="0" font-size="9.8" text-anchor="middle" fill="#1a1a1a" stroke="#1a1a1a" stroke-width="0.18" transform="translate(30.20,344.80) rotate(-90) scale(1,1.04)">−log10(adjusted p)</text>
<text transform="translate(3.20,303.10) scale(1,1.04)" font-size="16.8" text-anchor="start" font-weight="normal" fill="#1a1a1a" stroke="#1a1a1a" stroke-width="0.18" >D.</text>
<text transform="translate(566.60,28.10) scale(1,1.04)" font-size="9.8" text-anchor="start" font-weight="normal" fill="#1a1a1a" stroke="#1a1a1a" stroke-width="0.18" >Category</text>
<circle cx="570.5" cy="39.60" r="2.3" fill="#A6CEE3" fill-opacity="0.85" stroke="#1a1a1a" stroke-width="0.75"/>
<text transform="translate(582.00,43.90) scale(1,1.04)" font-size="9.8" text-anchor="start" font-weight="normal" fill="#1a1a1a" stroke="#1a1a1a" stroke-width="0.18" >Antioxidant</text>
<circle cx="570.5" cy="48.89" r="2.3" fill="#1F78B4" fill-opacity="0.85" stroke="#1a1a1a" stroke-width="0.75"/>
<text transform="translate(582.00,53.19) scale(1,1.04)" font-size="9.8" text-anchor="start" font-weight="normal" fill="#1a1a1a" stroke="#1a1a1a" stroke-width="0.18" >Chaperone</text>
<circle cx="570.5" cy="58.18" r="2.3" fill="#B2DF8A" fill-opacity="0.85" stroke="#1a1a1a" stroke-width="0.75"/>
<text transform="translate(582.00,62.48) scale(1,1.04)" font-size="9.8" text-anchor="start" font-weight="normal" fill="#1a1a1a" stroke="#1a1a1a" stroke-width="0.18" >DNA repair</text>
<circle cx="570.5" cy="67.47" r="2.3" fill="#2B2B2B" fill-opacity="0.85" stroke="#1a1a1a" stroke-width="0.75"/>
<text transform="translate(582.00,71.77) scale(1,1.04)" font-size="9.8" text-anchor="start" font-weight="normal" fill="#1a1a1a" stroke="#1a1a1a" stroke-width="0.18" >Hexamerin</text>
<circle cx="570.5" cy="76.76" r="2.3" fill="#33A02C" fill-opacity="0.85" stroke="#1a1a1a" stroke-width="0.75"/>
<text transform="translate(582.00,81.06) scale(1,1.04)" font-size="9.8" text-anchor="start" font-weight="normal" fill="#1a1a1a" stroke="#1a1a1a" stroke-width="0.18" >Immune effector</text>
<circle cx="570.5" cy="86.05" r="2.3" fill="#FFFF99" fill-opacity="0.85" stroke="#1a1a1a" stroke-width="0.75"/>
<text transform="translate(582.00,90.35) scale(1,1.04)" font-size="9.8" text-anchor="start" font-weight="normal" fill="#1a1a1a" stroke="#1a1a1a" stroke-width="0.18" >INDY</text>
<circle cx="570.5" cy="95.34" r="2.3" fill="#CAB2D6" fill-opacity="0.85" stroke="#1a1a1a" stroke-width="0.75"/>
<text transform="translate(582.00,99.64) scale(1,1.04)" font-size="9.8" text-anchor="start" font-weight="normal" fill="#1a1a1a" stroke="#1a1a1a" stroke-width="0.18" >Lipid trafficking</text>
<circle cx="570.5" cy="104.63" r="2.3" fill="#FDBF6F" fill-opacity="0.85" stroke="#1a1a1a" stroke-width="0.75"/>
<text transform="translate(582.00,108.93) scale(1,1.04)" font-size="9.8" text-anchor="start" font-weight="normal" fill="#1a1a1a" stroke="#1a1a1a" stroke-width="0.18" >Oxidase</text>
<circle cx="570.5" cy="113.92" r="2.3" fill="#FF7F00" fill-opacity="0.85" stroke="#1a1a1a" stroke-width="0.75"/>
<text transform="translate(582.00,118.22) scale(1,1.04)" font-size="9.8" text-anchor="start" font-weight="normal" fill="#1a1a1a" stroke="#1a1a1a" stroke-width="0.18" >Peroxidase</text>
<circle cx="570.5" cy="123.21" r="2.3" fill="#6A3D9A" fill-opacity="0.85" stroke="#1a1a1a" stroke-width="0.75"/>
<text transform="translate(582.00,127.51) scale(1,1.04)" font-size="9.8" text-anchor="start" font-weight="normal" fill="#1a1a1a" stroke="#1a1a1a" stroke-width="0.18" >Protein degradation</text>
<circle cx="570.5" cy="132.50" r="2.3" fill="#E31A1C" fill-opacity="0.85" stroke="#1a1a1a" stroke-width="0.75"/>
<text transform="translate(582.00,136.80) scale(1,1.04)" font-size="9.8" text-anchor="start" font-weight="normal" fill="#1a1a1a" stroke="#1a1a1a" stroke-width="0.18" >Putative sperm protein</text>
<circle cx="570.5" cy="141.79" r="2.3" fill="#B15928" fill-opacity="0.85" stroke="#1a1a1a" stroke-width="0.75"/>
<text transform="translate(582.00,146.09) scale(1,1.04)" font-size="9.8" text-anchor="start" font-weight="normal" fill="#1a1a1a" stroke="#1a1a1a" stroke-width="0.18" >Serpin</text>
<path d="M441.5 302V368.9H535.8" fill="none" stroke="#1e1e1e" stroke-width="1.1"/>
<line x1="438.5" y1="308.6" x2="441.5" y2="308.6" stroke="#1e1e1e" stroke-width="1"/>
<text transform="translate(435.00,312.80) scale(1,1.04)" font-size="9.95" text-anchor="end" font-weight="normal" fill="#1a1a1a" stroke="#1a1a1a" stroke-width="0.18" >protein catabolic process</text>
<line x1="438.5" y1="319.4" x2="441.5" y2="319.4" stroke="#1e1e1e" stroke-width="1"/>
<text transform="translate(435.00,323.60) scale(1,1.04)" font-size="9.95" text-anchor="end" font-weight="normal" fill="#1a1a1a" stroke="#1a1a1a" stroke-width="0.18" >macromolecule catabolic process</text>
<line x1="438.5" y1="330.2" x2="441.5" y2="330.2" stroke="#1e1e1e" stroke-width="1"/>
<text transform="translate(435.00,334.40) scale(1,1.04)" font-size="9.95" text-anchor="end" font-weight="normal" fill="#1a1a1a" stroke="#1a1a1a" stroke-width="0.18" >transmembrane transporter activity</text>
<line x1="438.5" y1="341.0" x2="441.5" y2="341.0" stroke="#1e1e1e" stroke-width="1"/>
<text transform="translate(435.00,345.20) scale(1,1.04)" font-size="9.95" text-anchor="end" font-weight="normal" fill="#1a1a1a" stroke="#1a1a1a" stroke-width="0.18" >organic substance catabolic process</text>
<line x1="438.5" y1="351.8" x2="441.5" y2="351.8" stroke="#1e1e1e" stroke-width="1"/>
<text transform="translate(435.00,356.00) scale(1,1.04)" font-size="9.95" text-anchor="end" font-weight="normal" fill="#1a1a1a" stroke="#1a1a1a" stroke-width="0.18" >organonitrogen compound catabolic process</text>
<line x1="438.5" y1="362.6" x2="441.5" y2="362.6" stroke="#1e1e1e" stroke-width="1"/>
<text transform="translate(435.00,366.80) scale(1,1.04)" font-size="9.95" text-anchor="end" font-weight="normal" fill="#1a1a1a" stroke="#1a1a1a" stroke-width="0.18" >catabolic process</text>
<line x1="445.3" y1="368.9" x2="445.3" y2="371.9" stroke="#1e1e1e" stroke-width="1"/>
<text transform="translate(445.30,383.20) scale(1,1.04)" font-size="9.8" text-anchor="middle" font-weight="normal" fill="#333" stroke="#333" stroke-width="0.18" >0.0</text>
<line x1="488.6" y1="368.9" x2="488.6" y2="371.9" stroke="#1e1e1e" stroke-width="1"/>
<text transform="translate(488.60,383.20) scale(1,1.04)" font-size="9.8" text-anchor="middle" font-weight="normal" fill="#333" stroke="#333" stroke-width="0.18" >0.5</text>
<line x1="531.9" y1="368.9" x2="531.9" y2="371.9" stroke="#1e1e1e" stroke-width="1"/>
<text transform="translate(531.90,383.20) scale(1,1.04)" font-size="9.8" text-anchor="middle" font-weight="normal" fill="#333" stroke="#333" stroke-width="0.18" >1.0</text>
<text transform="translate(488.30,397.20) scale(1,1.04)" font-size="12.25" text-anchor="middle" font-weight="normal" fill="#1a1a1a" stroke="#1a1a1a" stroke-width="0.18" >Multifunctionality</text>
<text transform="translate(241.60,303.10) scale(1,1.04)" font-size="16.8" text-anchor="start" font-weight="normal" fill="#1a1a1a" stroke="#1a1a1a" stroke-width="0.18" >E.</text>
<circle cx="516.9" cy="308.6" r="4.5" fill="#EE6148" stroke="#1a1a1a" stroke-width="0.8"/>
<circle cx="516.9" cy="319.4" r="4.5" fill="#EE6148" stroke="#1a1a1a" stroke-width="0.8"/>
<circle cx="463.6" cy="330.2" r="4.5" fill="#EE6148" stroke="#1a1a1a" stroke-width="0.8"/>
<circle cx="524.6" cy="341.0" r="4.5" fill="#EE6148" stroke="#1a1a1a" stroke-width="0.8"/>
<circle cx="524.6" cy="351.8" r="4.5" fill="#EE6148" stroke="#1a1a1a" stroke-width="0.8"/>
<circle cx="524.2" cy="362.6" r="4.5" fill="#EE6148" stroke="#1a1a1a" stroke-width="0.8"/>
<defs><linearGradient id="rg" x1="0" y1="1" x2="0" y2="0">
<stop offset="0" stop-color="#FAEBDD"/>
<stop offset="0.1" stop-color="#F7C9AA"/>
<stop offset="0.2" stop-color="#F6A47C"/>
<stop offset="0.3" stop-color="#F37651"/>
<stop offset="0.4" stop-color="#E83F3F"/>
<stop offset="0.5" stop-color="#CB1B4F"/>
<stop offset="0.6" stop-color="#A11A5B"/>
<stop offset="0.7" stop-color="#701F57"/>
<stop offset="0.8" stop-color="#451C47"/>
<stop offset="0.9" stop-color="#221331"/>
<stop offset="1.0" stop-color="#03051A"/>
</linearGradient></defs>
<rect x="556.4" y="316.1" width="16.6" height="82.6" fill="url(#rg)"/>
<text transform="translate(578.40,402.10) scale(1,1.12)" font-size="8.7" text-anchor="start" font-weight="normal" fill="#333" stroke="#333" stroke-width="0.18" >0.0</text>
<line x1="556.4" y1="378.90000000000003" x2="559.6" y2="378.90000000000003" stroke="#fff" stroke-opacity="0.7" stroke-width="0.8"/><line x1="569.8" y1="378.90000000000003" x2="573" y2="378.90000000000003" stroke="#fff" stroke-opacity="0.7" stroke-width="0.8"/>
<text transform="translate(578.40,382.20) scale(1,1.12)" font-size="8.7" text-anchor="start" font-weight="normal" fill="#333" stroke="#333" stroke-width="0.18" >2.5</text>
<line x1="556.4" y1="359.0" x2="559.6" y2="359.0" stroke="#fff" stroke-opacity="0.7" stroke-width="0.8"/><line x1="569.8" y1="359.0" x2="573" y2="359.0" stroke="#fff" stroke-opacity="0.7" stroke-width="0.8"/>
<text transform="translate(578.40,362.30) scale(1,1.12)" font-size="8.7" text-anchor="start" font-weight="normal" fill="#333" stroke="#333" stroke-width="0.18" >5.0</text>
<line x1="556.4" y1="339.1" x2="559.6" y2="339.1" stroke="#fff" stroke-opacity="0.7" stroke-width="0.8"/><line x1="569.8" y1="339.1" x2="573" y2="339.1" stroke="#fff" stroke-opacity="0.7" stroke-width="0.8"/>
<text transform="translate(578.40,342.40) scale(1,1.12)" font-size="8.7" text-anchor="start" font-weight="normal" fill="#333" stroke="#333" stroke-width="0.18" >7.5</text>
<text transform="translate(578.40,322.50) scale(1,1.12)" font-size="8.7" text-anchor="start" font-weight="normal" fill="#333" stroke="#333" stroke-width="0.18" >10.0</text>
<text x="558.3" y="308.4" font-size="8" font-weight="bold" fill="#1a1a1a">-Log(P<tspan font-size="5.5" dy="1.5">adj</tspan><tspan dy="-1.5">)</tspan></text>
</svg></body></html>
